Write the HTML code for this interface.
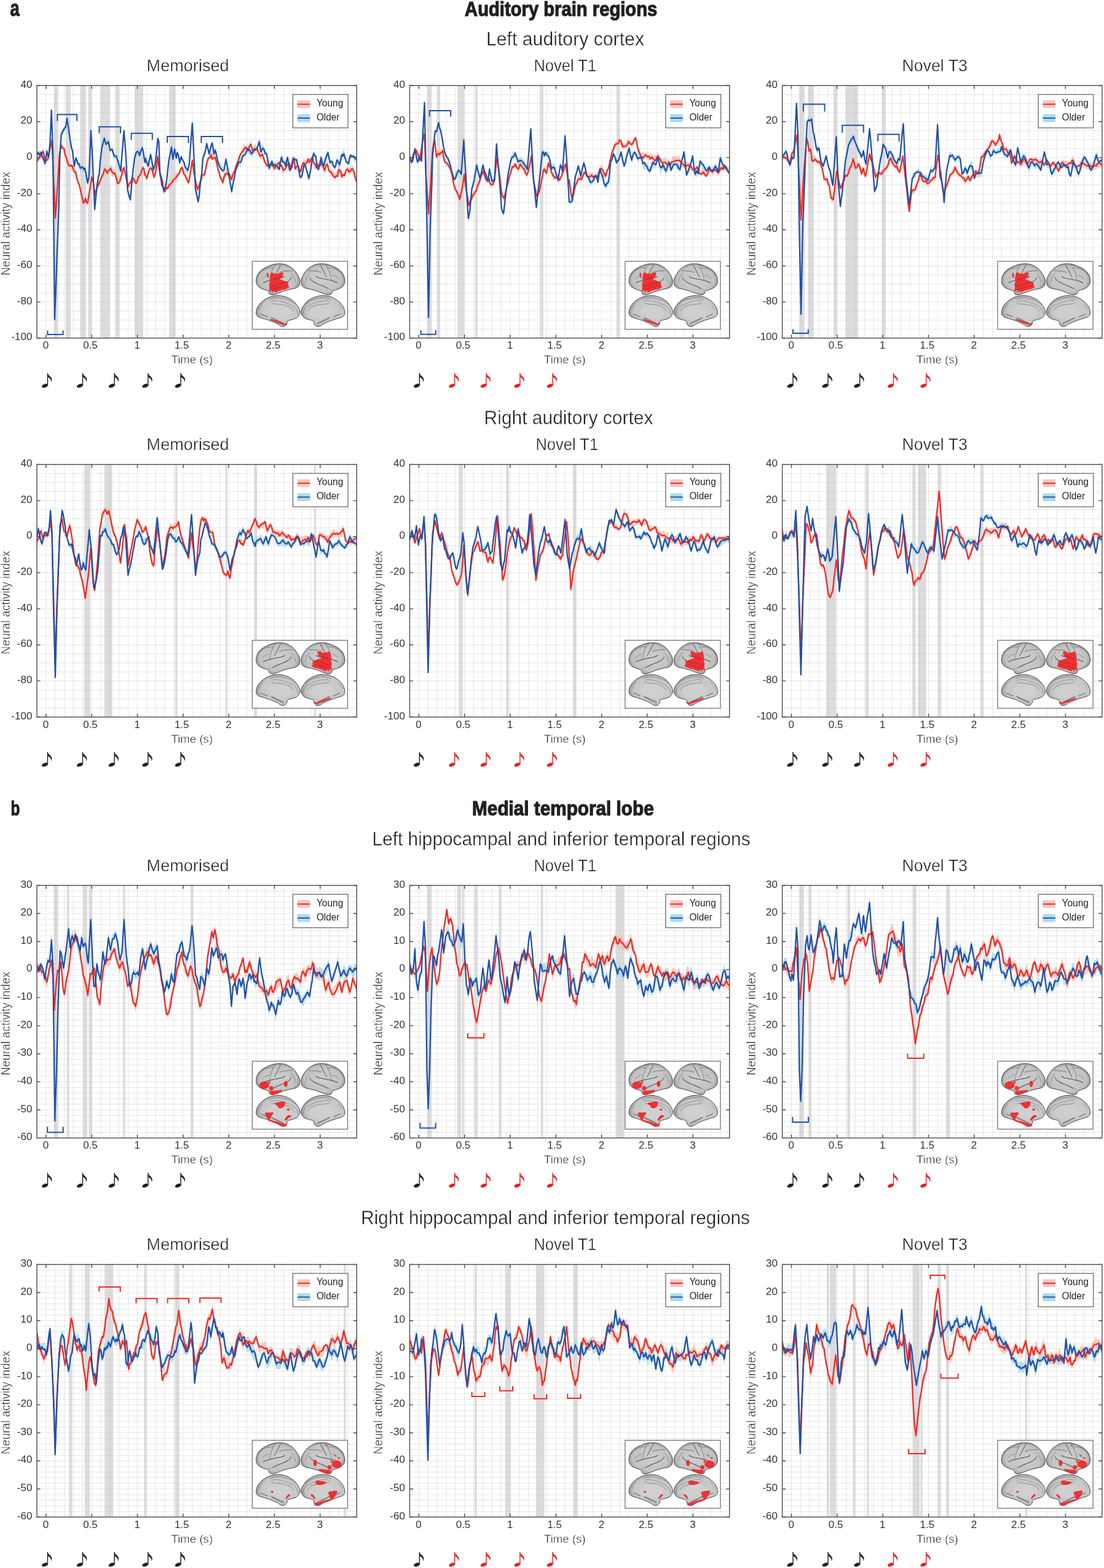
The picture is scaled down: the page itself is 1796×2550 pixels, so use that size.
<!DOCTYPE html><html><head><meta charset="utf-8"><style>html,body{margin:0;padding:0;background:#fff;}svg{display:block;}text{font-family:'Liberation Sans', Arial, sans-serif;} .th{stroke:#fff;stroke-width:0.4px;paint-order:fill stroke;}</style></head><body>
<svg xmlns="http://www.w3.org/2000/svg" width="1796" height="2550" viewBox="0 0 1796 2550">
<rect width="1796" height="2550" fill="#fff"/>
<defs><linearGradient id="bg1" x1="0" y1="0" x2="0" y2="1"><stop offset="0" stop-color="#d4d4d4"/><stop offset="0.6" stop-color="#c2c2c2"/><stop offset="1" stop-color="#a9a9a9"/></linearGradient><radialGradient id="bg2" cx="0.5" cy="0.45" r="0.6"><stop offset="0" stop-color="#d6d6d6"/><stop offset="0.75" stop-color="#c8c8c8"/><stop offset="1" stop-color="#9c9c9c"/></radialGradient><radialGradient id="gl" cx="0.5" cy="0.5" r="0.58"><stop offset="0" stop-color="#cfcfcf"/><stop offset="0.72" stop-color="#c2c2c2"/><stop offset="1" stop-color="#7d7d7d"/></radialGradient><radialGradient id="gm" cx="0.55" cy="0.5" r="0.58"><stop offset="0" stop-color="#d0d0d0"/><stop offset="0.75" stop-color="#c6c6c6"/><stop offset="1" stop-color="#8f8f8f"/></radialGradient><g id="brainbase"><path d="M6.3,32.8C6.1,30.2 6.7,26.7 7.7,24.1C8.7,21.5 10.6,19.1 12.5,17.0C14.4,14.9 16.1,13.5 19.3,11.6C22.5,9.7 28.1,7.1 31.8,5.8C35.5,4.5 38.4,4.2 41.5,4.0C44.6,3.8 47.5,3.8 50.2,4.3C52.9,4.8 55.2,5.4 57.9,6.8C60.6,8.2 64.0,10.1 66.6,12.5C69.2,14.9 71.6,18.5 73.3,21.2C75.0,23.9 76.2,26.6 76.9,28.9C77.6,31.1 77.4,32.9 77.2,34.7C77.0,36.5 76.9,38.3 75.8,39.8C74.7,41.3 72.8,42.6 70.4,43.6C68.1,44.6 64.5,44.8 61.7,45.5C58.9,46.2 56.2,46.8 53.5,47.6C50.8,48.5 47.9,49.6 45.3,50.6C42.6,51.6 39.7,52.9 37.6,53.6C35.5,54.3 34.1,54.7 32.5,54.6C30.9,54.5 29.0,53.8 28.0,52.8C27.0,51.8 27.4,49.6 26.3,48.6C25.2,47.6 23.6,47.4 21.5,46.6C19.4,45.8 16.1,45.0 14.0,43.8C11.9,42.6 10.0,41.4 8.7,39.6C7.4,37.8 6.5,35.4 6.3,32.8Z" fill="url(#gl)" stroke="#3f3f3f" stroke-width="1.0"/><path d="M17.9,34.8C18.9,34.4 21.7,33.1 23.9,32.4C26.1,31.7 28.4,31.1 31.3,30.4C34.2,29.7 38.3,29.0 41.2,28.4C44.1,27.8 46.7,27.5 48.6,26.9C50.5,26.2 51.9,24.9 52.6,24.5" fill="none" stroke="#474747" stroke-width="1.4" stroke-opacity="0.75" stroke-linecap="round"/><path d="M33.8,44.2C35.4,43.4 40.4,40.8 43.7,39.3C47.0,37.8 50.7,36.8 53.6,35.3C56.5,33.8 59.4,31.9 61.0,30.4C62.6,28.9 63.1,27.1 63.5,26.4" fill="none" stroke="#474747" stroke-width="1.2" stroke-opacity="0.7" stroke-linecap="round"/><path d="M46.1,6.1C45.5,7.3 43.4,10.7 42.2,13.1C41.0,15.5 39.8,18.4 38.7,20.5C37.6,22.6 36.2,24.6 35.7,25.4" fill="none" stroke="#474747" stroke-width="1.2" stroke-opacity="0.7" stroke-linecap="round"/><path d="M38.2,5.2C37.5,6.3 35.1,9.0 33.8,11.6C32.5,14.2 31.2,17.5 30.3,20.5C29.4,23.5 28.6,27.9 28.3,29.4" fill="none" stroke="#474747" stroke-width="1.0" stroke-opacity="0.55" stroke-linecap="round"/><path d="M8.0,24.5C9.0,23.2 11.3,19.1 14.0,17.0C16.6,14.8 20.6,12.7 23.9,11.6C27.2,10.5 32.1,10.8 33.8,10.6" fill="none" stroke="#474747" stroke-width="1.0" stroke-opacity="0.55" stroke-linecap="round"/><path d="M16.4,28.4C17.4,27.7 20.6,25.0 22.4,24.0C24.2,23.0 26.5,22.8 27.3,22.5" fill="none" stroke="#474747" stroke-width="0.9" stroke-opacity="0.5" stroke-linecap="round"/><path d="M44.6,18.0C45.7,17.7 48.8,16.4 51.1,16.0C53.4,15.6 56.2,15.7 58.5,15.5C60.8,15.3 63.9,15.1 65.0,15.0" fill="none" stroke="#474747" stroke-width="1.1" stroke-opacity="0.6" stroke-linecap="round"/><path d="M9.0,20.5C9.8,19.4 11.5,16.0 14.0,14.0C16.5,12.0 20.3,9.8 24.0,8.5C27.7,7.2 34.0,6.8 36.0,6.5" fill="none" stroke="#474747" stroke-width="0.8" stroke-opacity="0.45" stroke-linecap="round"/><path d="M27.0,47.5C28.5,46.7 32.7,44.1 36.0,42.5C39.3,40.9 43.5,39.5 47.0,38.0C50.5,36.5 55.3,34.2 57.0,33.5" fill="none" stroke="#474747" stroke-width="0.8" stroke-opacity="0.45" stroke-linecap="round"/><path d="M63.0,20.0C63.8,21.0 66.8,23.7 68.0,26.0C69.2,28.3 69.7,32.7 70.0,34.0" fill="none" stroke="#474747" stroke-width="0.9" stroke-opacity="0.5" stroke-linecap="round"/><path d="M150.5,32.8C150.7,30.2 150.1,26.7 149.1,24.1C148.1,21.5 146.2,19.1 144.3,17.0C142.4,14.9 140.7,13.5 137.5,11.6C134.3,9.7 128.7,7.1 125.0,5.8C121.3,4.5 118.4,4.2 115.3,4.0C112.2,3.8 109.3,3.8 106.6,4.3C103.9,4.8 101.6,5.4 98.9,6.8C96.2,8.2 92.8,10.1 90.2,12.5C87.6,14.9 85.2,18.5 83.5,21.2C81.8,23.9 80.6,26.6 79.9,28.9C79.2,31.1 79.4,32.9 79.6,34.7C79.8,36.5 79.9,38.3 81.0,39.8C82.1,41.3 84.1,42.6 86.4,43.6C88.8,44.6 92.3,44.8 95.1,45.5C97.9,46.2 100.6,46.8 103.3,47.6C106.0,48.5 108.9,49.6 111.5,50.6C114.2,51.6 117.1,52.9 119.2,53.6C121.3,54.3 122.7,54.7 124.3,54.6C125.9,54.5 127.8,53.8 128.8,52.8C129.8,51.8 129.4,49.6 130.5,48.6C131.6,47.6 133.2,47.4 135.3,46.6C137.4,45.8 140.7,45.0 142.8,43.8C144.9,42.6 146.8,41.4 148.1,39.6C149.4,37.8 150.3,35.4 150.5,32.8Z" fill="url(#gl)" stroke="#3f3f3f" stroke-width="1.0"/><path d="M138.9,34.8C137.9,34.4 135.1,33.1 132.9,32.4C130.7,31.7 128.4,31.1 125.5,30.4C122.6,29.7 118.5,29.0 115.6,28.4C112.7,27.8 110.1,27.5 108.2,26.9C106.3,26.2 104.9,24.9 104.2,24.5" fill="none" stroke="#474747" stroke-width="1.4" stroke-opacity="0.75" stroke-linecap="round"/><path d="M123.0,44.2C121.4,43.4 116.4,40.8 113.1,39.3C109.8,37.8 106.1,36.8 103.2,35.3C100.3,33.8 97.5,31.9 95.8,30.4C94.2,28.9 93.7,27.1 93.3,26.4" fill="none" stroke="#474747" stroke-width="1.2" stroke-opacity="0.7" stroke-linecap="round"/><path d="M110.7,6.1C111.4,7.3 113.4,10.7 114.6,13.1C115.8,15.5 117.0,18.4 118.1,20.5C119.2,22.6 120.6,24.6 121.1,25.4" fill="none" stroke="#474747" stroke-width="1.2" stroke-opacity="0.7" stroke-linecap="round"/><path d="M118.6,5.2C119.3,6.3 121.7,9.0 123.0,11.6C124.3,14.2 125.6,17.5 126.5,20.5C127.4,23.5 128.2,27.9 128.5,29.4" fill="none" stroke="#474747" stroke-width="1.0" stroke-opacity="0.55" stroke-linecap="round"/><path d="M148.8,24.5C147.8,23.2 145.5,19.1 142.8,17.0C140.2,14.8 136.2,12.7 132.9,11.6C129.6,10.5 124.7,10.8 123.0,10.6" fill="none" stroke="#474747" stroke-width="1.0" stroke-opacity="0.55" stroke-linecap="round"/><path d="M140.4,28.4C139.4,27.7 136.2,25.0 134.4,24.0C132.6,23.0 130.3,22.8 129.5,22.5" fill="none" stroke="#474747" stroke-width="0.9" stroke-opacity="0.5" stroke-linecap="round"/><path d="M112.2,18.0C111.1,17.7 108.0,16.4 105.7,16.0C103.4,15.6 100.6,15.7 98.3,15.5C96.0,15.3 92.9,15.1 91.8,15.0" fill="none" stroke="#474747" stroke-width="1.1" stroke-opacity="0.6" stroke-linecap="round"/><path d="M147.8,20.5C147.0,19.4 145.3,16.0 142.8,14.0C140.3,12.0 136.5,9.8 132.8,8.5C129.1,7.2 122.8,6.8 120.8,6.5" fill="none" stroke="#474747" stroke-width="0.8" stroke-opacity="0.45" stroke-linecap="round"/><path d="M129.8,47.5C128.3,46.7 124.1,44.1 120.8,42.5C117.5,40.9 113.3,39.5 109.8,38.0C106.3,36.5 101.5,34.2 99.8,33.5" fill="none" stroke="#474747" stroke-width="0.8" stroke-opacity="0.45" stroke-linecap="round"/><path d="M93.8,20.0C93.0,21.0 90.0,23.7 88.8,26.0C87.6,28.3 87.1,32.7 86.8,34.0" fill="none" stroke="#474747" stroke-width="0.9" stroke-opacity="0.5" stroke-linecap="round"/><path d="M6.3,84.2C6.2,81.5 7.1,77.2 8.8,74.0C10.5,70.8 13.3,67.6 16.5,65.0C19.7,62.4 24.0,59.7 28.0,58.2C32.0,56.7 36.4,56.0 40.5,55.8C44.6,55.6 48.5,56.0 52.5,57.2C56.5,58.4 61.2,60.5 64.6,62.9C68.0,65.3 70.8,68.5 72.9,71.4C75.0,74.3 76.6,77.5 77.2,80.1C77.8,82.7 77.4,85.0 76.4,87.0C75.4,89.0 73.7,91.0 71.4,92.4C69.1,93.8 65.1,94.5 62.7,95.3C60.4,96.1 58.4,95.9 57.3,97.0C56.2,98.1 57.0,100.5 56.0,102.0C55.0,103.5 53.2,105.5 51.5,106.0C49.8,106.5 47.9,105.8 46.0,105.0C44.1,104.2 42.9,102.6 40.0,101.2C37.1,99.8 32.7,97.9 28.9,96.5C25.1,95.1 20.6,93.9 17.4,92.8C14.2,91.7 11.4,91.3 9.6,89.9C7.8,88.5 6.4,86.9 6.3,84.2Z" fill="url(#gm)" stroke="#3f3f3f" stroke-width="1.0"/><path d="M24.0,84.0C23.0,81.3 26.0,78.2 28.0,76.0C30.0,73.8 32.8,71.7 36.0,71.0C39.2,70.3 43.5,71.2 47.0,72.0C50.5,72.8 54.3,74.3 57.0,76.0C59.7,77.7 62.2,79.8 63.0,82.0C63.8,84.2 63.5,87.2 62.0,89.0C60.5,90.8 57.0,92.2 54.0,93.0C51.0,93.8 47.3,94.2 44.0,94.0C40.7,93.8 37.3,93.7 34.0,92.0C30.7,90.3 25.0,86.7 24.0,84.0Z" fill="#d0d0d0" fill-opacity="0.7"/><path d="M29.3,62.6C30.1,62.2 31.0,60.6 33.8,60.1C36.6,59.6 41.6,59.0 46.1,59.6C50.6,60.2 56.9,61.9 61.0,63.6C65.1,65.3 69.2,68.9 70.9,70.0" fill="none" stroke="#474747" stroke-width="1.0" stroke-opacity="0.55" stroke-linecap="round"/><path d="M31.3,66.1C32.1,65.7 33.7,63.8 36.2,63.6C38.7,63.4 42.8,64.4 46.1,65.1C49.4,65.8 52.7,66.8 56.0,68.0C59.3,69.2 63.3,70.8 65.9,72.5C68.6,74.2 70.5,76.2 71.9,78.4C73.3,80.6 73.9,84.7 74.3,85.9" fill="none" stroke="#474747" stroke-width="0.9" stroke-opacity="0.45" stroke-linecap="round"/><path d="M32.3,68.5C33.8,68.8 38.1,69.6 41.2,70.0C44.3,70.4 47.8,70.2 51.1,71.0C54.4,71.8 58.3,72.8 61.0,74.5C63.7,76.2 66.3,79.8 67.4,80.9" fill="none" stroke="#474747" stroke-width="0.9" stroke-opacity="0.5" stroke-linecap="round"/><path d="M14.5,85.9C15.2,86.2 17.4,87.3 19.0,88.0C20.6,88.7 23.5,89.9 24.4,90.3" fill="none" stroke="#474747" stroke-width="1.2" stroke-opacity="0.7" stroke-linecap="round"/><path d="M31.3,91.3C33.0,92.1 37.9,94.7 41.2,96.3C44.5,97.9 49.5,100.0 51.1,100.7" fill="none" stroke="#474747" stroke-width="1.2" stroke-opacity="0.7" stroke-linecap="round"/><path d="M31.8,93.0C33.5,93.8 38.6,96.4 41.7,98.0C44.8,99.6 49.1,101.7 50.6,102.4" fill="none" stroke="#474747" stroke-width="0.8" stroke-opacity="0.5" stroke-linecap="round"/><path d="M11.0,78.0C11.5,77.2 13.0,74.5 14.0,73.0C15.0,71.5 16.5,69.7 17.0,69.0" fill="none" stroke="#474747" stroke-width="0.8" stroke-opacity="0.45" stroke-linecap="round"/><path d="M150.5,84.2C150.6,81.5 149.7,77.2 148.0,74.0C146.3,70.8 143.5,67.6 140.3,65.0C137.1,62.4 132.8,59.7 128.8,58.2C124.8,56.7 120.4,56.0 116.3,55.8C112.2,55.6 108.3,56.0 104.3,57.2C100.3,58.4 95.6,60.5 92.2,62.9C88.8,65.3 86.0,68.5 83.9,71.4C81.8,74.3 80.2,77.5 79.6,80.1C79.0,82.7 79.4,85.0 80.4,87.0C81.4,89.0 83.1,91.0 85.4,92.4C87.7,93.8 91.8,94.5 94.1,95.3C96.5,96.1 98.4,95.9 99.5,97.0C100.6,98.1 99.8,100.5 100.8,102.0C101.8,103.5 103.6,105.5 105.3,106.0C107.0,106.5 108.9,105.8 110.8,105.0C112.7,104.2 114.0,102.6 116.8,101.2C119.7,99.8 124.1,97.9 127.9,96.5C131.7,95.1 136.2,93.9 139.4,92.8C142.6,91.7 145.4,91.3 147.2,89.9C149.1,88.5 150.4,86.9 150.5,84.2Z" fill="url(#gm)" stroke="#3f3f3f" stroke-width="1.0"/><path d="M132.8,84.0C133.8,81.3 130.8,78.2 128.8,76.0C126.8,73.8 124.0,71.7 120.8,71.0C117.6,70.3 113.3,71.2 109.8,72.0C106.3,72.8 102.5,74.3 99.8,76.0C97.1,77.7 94.6,79.8 93.8,82.0C93.0,84.2 93.3,87.2 94.8,89.0C96.3,90.8 99.8,92.2 102.8,93.0C105.8,93.8 109.5,94.2 112.8,94.0C116.1,93.8 119.5,93.7 122.8,92.0C126.1,90.3 131.8,86.7 132.8,84.0Z" fill="#d0d0d0" fill-opacity="0.7"/><path d="M127.5,62.6C126.8,62.2 125.8,60.6 123.0,60.1C120.2,59.6 115.2,59.0 110.7,59.6C106.2,60.2 99.9,61.9 95.8,63.6C91.7,65.3 87.6,68.9 85.9,70.0" fill="none" stroke="#474747" stroke-width="1.0" stroke-opacity="0.55" stroke-linecap="round"/><path d="M125.5,66.1C124.7,65.7 123.1,63.8 120.6,63.6C118.1,63.4 114.0,64.4 110.7,65.1C107.4,65.8 104.1,66.8 100.8,68.0C97.5,69.2 93.6,70.8 90.9,72.5C88.2,74.2 86.3,76.2 84.9,78.4C83.5,80.6 82.9,84.7 82.5,85.9" fill="none" stroke="#474747" stroke-width="0.9" stroke-opacity="0.45" stroke-linecap="round"/><path d="M124.5,68.5C123.0,68.8 118.7,69.6 115.6,70.0C112.5,70.4 109.0,70.2 105.7,71.0C102.4,71.8 98.5,72.8 95.8,74.5C93.1,76.2 90.5,79.8 89.4,80.9" fill="none" stroke="#474747" stroke-width="0.9" stroke-opacity="0.5" stroke-linecap="round"/><path d="M142.3,85.9C141.6,86.2 139.5,87.3 137.8,88.0C136.2,88.7 133.3,89.9 132.4,90.3" fill="none" stroke="#474747" stroke-width="1.2" stroke-opacity="0.7" stroke-linecap="round"/><path d="M125.5,91.3C123.9,92.1 118.9,94.7 115.6,96.3C112.3,97.9 107.4,100.0 105.7,100.7" fill="none" stroke="#474747" stroke-width="1.2" stroke-opacity="0.7" stroke-linecap="round"/><path d="M125.0,93.0C123.4,93.8 118.2,96.4 115.1,98.0C112.0,99.6 107.7,101.7 106.2,102.4" fill="none" stroke="#474747" stroke-width="0.8" stroke-opacity="0.5" stroke-linecap="round"/><path d="M145.8,78.0C145.3,77.2 143.8,74.5 142.8,73.0C141.8,71.5 140.3,69.7 139.8,69.0" fill="none" stroke="#474747" stroke-width="0.8" stroke-opacity="0.45" stroke-linecap="round"/></g></defs>
<text x="16.4" y="26.0" font-size="36" text-anchor="start" font-weight="bold" fill="#231f20" textLength="15.2" lengthAdjust="spacingAndGlyphs" stroke="#231f20" stroke-width="1.1">a</text>
<text x="17.6" y="1326.0" font-size="33" text-anchor="start" font-weight="bold" fill="#231f20" textLength="14.9" lengthAdjust="spacingAndGlyphs" stroke="#231f20" stroke-width="1.1">b</text>
<text x="912.7" y="25.5" font-size="32.5" text-anchor="middle" font-weight="bold" fill="#231f20" textLength="313.2" lengthAdjust="spacingAndGlyphs" stroke="#231f20" stroke-width="1.2">Auditory brain regions</text>
<text x="915.9" y="1325.7" font-size="32.5" text-anchor="middle" font-weight="bold" fill="#231f20" textLength="295.6" lengthAdjust="spacingAndGlyphs" stroke="#231f20" stroke-width="1.2">Medial temporal lobe</text>
<text class="th" x="919.5" y="73.5" font-size="30.5" text-anchor="middle" font-weight="normal" fill="#231f20" textLength="257.0" lengthAdjust="spacingAndGlyphs">Left auditory cortex</text>
<text class="th" x="925.0" y="689.5" font-size="30.5" text-anchor="middle" font-weight="normal" fill="#231f20" textLength="274.8" lengthAdjust="spacingAndGlyphs">Right auditory cortex</text>
<text class="th" x="913.1" y="1374.7" font-size="30.5" text-anchor="middle" font-weight="normal" fill="#231f20" textLength="615.0" lengthAdjust="spacingAndGlyphs">Left hippocampal and inferior temporal regions</text>
<text class="th" x="903.6" y="1991.0" font-size="30.5" text-anchor="middle" font-weight="normal" fill="#231f20" textLength="632.6" lengthAdjust="spacingAndGlyphs">Right hippocampal and inferior temporal regions</text>
<text class="th" x="305.6" y="116.1" font-size="27.5" text-anchor="middle" font-weight="normal" fill="#231f20" textLength="134.0" lengthAdjust="spacingAndGlyphs">Memorised</text>
<clipPath id="clip00"><rect x="60.0" y="139.1" width="520.3" height="410.7"/></clipPath>
<rect x="87.6" y="139.1" width="7.1" height="410.7" fill="#dcdcde"/>
<rect x="106.8" y="139.1" width="8.3" height="410.7" fill="#dcdcde"/>
<rect x="130.4" y="139.1" width="9.6" height="410.7" fill="#dcdcde"/>
<rect x="143.5" y="139.1" width="5.9" height="410.7" fill="#dcdcde"/>
<rect x="163.5" y="139.1" width="15.0" height="410.7" fill="#dcdcde"/>
<rect x="187.5" y="139.1" width="6.7" height="410.7" fill="#dcdcde"/>
<rect x="219.0" y="139.1" width="14.1" height="410.7" fill="#dcdcde"/>
<rect x="275.1" y="139.1" width="10.6" height="410.7" fill="#dcdcde"/>
<path d="M74.9,139.1V549.8M89.7,139.1V549.8M104.6,139.1V549.8M119.5,139.1V549.8M134.3,139.1V549.8M149.2,139.1V549.8M164.1,139.1V549.8M178.9,139.1V549.8M193.8,139.1V549.8M208.7,139.1V549.8M223.5,139.1V549.8M238.4,139.1V549.8M253.3,139.1V549.8M268.1,139.1V549.8M283.0,139.1V549.8M297.9,139.1V549.8M312.7,139.1V549.8M327.6,139.1V549.8M342.4,139.1V549.8M357.3,139.1V549.8M372.2,139.1V549.8M387.0,139.1V549.8M401.9,139.1V549.8M416.8,139.1V549.8M431.6,139.1V549.8M446.5,139.1V549.8M461.4,139.1V549.8M476.2,139.1V549.8M491.1,139.1V549.8M506.0,139.1V549.8M520.8,139.1V549.8M535.7,139.1V549.8M550.6,139.1V549.8M565.4,139.1V549.8M60.0,535.1H580.3M60.0,520.5H580.3M60.0,505.8H580.3M60.0,491.1H580.3M60.0,476.5H580.3M60.0,461.8H580.3M60.0,447.1H580.3M60.0,432.5H580.3M60.0,417.8H580.3M60.0,403.1H580.3M60.0,388.5H580.3M60.0,373.8H580.3M60.0,359.1H580.3M60.0,344.4H580.3M60.0,329.8H580.3M60.0,315.1H580.3M60.0,300.4H580.3M60.0,285.8H580.3M60.0,271.1H580.3M60.0,256.4H580.3M60.0,241.8H580.3M60.0,227.1H580.3M60.0,212.4H580.3M60.0,197.8H580.3M60.0,183.1H580.3M60.0,168.4H580.3M60.0,153.8H580.3" stroke="#c6c6c6" stroke-width="1" stroke-dasharray="1.3 1.7" fill="none"/>
<g clip-path="url(#clip00)">
<path d="M60.0,247.1l2.2,-1.7l2.3,-0.4l2.2,0.5l1.9,3.0l2.0,5.7l2.8,6.9l2.7,-21.1l2.8,11.2l2.3,-16.5l2.5,-60.9l2.5,68.0l2.7,273.9l1.7,-45.7l1.7,-47.8l1.7,-44.8l1.6,-43.6l1.7,-83.2l2.2,-36.9l2.0,-2.8l1.9,-2.5l1.7,-4.0l1.7,0.0l2.2,-17.7l2.2,15.0l1.7,10.6l1.6,12.4l1.7,7.0l1.7,10.6l2.8,24.4l2.8,-12.9l1.6,2.7l1.7,5.0l1.8,2.9l1.9,3.2l1.9,-0.1l1.8,3.2l1.9,2.3l1.8,-1.6l2.3,9.7l2.2,9.9l2.2,-4.2l1.7,-41.2l1.6,-39.6l2.3,39.3l1.9,44.6l2.0,46.4l1.9,-18.8l2.0,-24.1l1.6,-6.0l1.7,-10.2l2.2,-19.8l2.3,-25.0l1.9,-5.7l2.0,-6.5l2.7,10.6l2.0,-3.7l1.9,-0.8l2.8,14.7l1.7,-0.7l1.7,-1.4l1.6,3.4l1.7,9.0l1.7,-3.0l1.6,2.1l2.3,7.4l2.2,3.0l2.8,11.1l1.7,-21.4l1.8,-19.5l1.7,-25.3l1.6,21.5l1.5,18.5l2.8,57.7l2.2,8.4l2.3,6.4l1.9,-19.5l1.9,-19.7l1.7,-13.8l1.7,-16.0l2.2,-2.8l2.2,-5.0l1.7,0.4l1.7,2.6l2.2,-4.3l2.2,-5.8l2.1,11.2l2.1,11.4l1.1,-7.2l2.2,8.8l2.2,3.9l2.0,-8.6l1.9,-9.5l2.3,14.3l2.2,12.0l2.8,-5.3l2.2,-23.3l2.2,-22.8l1.7,5.4l1.7,50.6l1.6,13.6l1.7,7.6l1.7,4.7l1.6,6.9l2.3,-5.2l1.6,-11.2l1.7,-14.1l2.2,-19.9l2.3,-10.6l2.2,-13.1l2.2,19.7l2.8,-16.6l2.8,16.2l1.6,-11.2l2.0,10.7l1.9,9.0l2.3,-9.4l1.6,2.8l1.7,0.7l1.7,7.1l1.6,5.6l2.3,2.3l2.2,1.6l2.2,-9.2l1.7,-19.9l1.7,-26.3l1.6,-22.8l1.7,36.1l1.7,34.7l1.6,36.0l2.3,10.0l2.2,10.4l1.7,-12.8l1.6,-13.4l2.3,-18.5l2.2,-28.9l1.7,-2.7l1.6,-1.8l2.8,-16.8l2.0,11.5l1.9,7.7l1.7,-5.5l1.6,-6.7l1.7,-5.0l2.8,14.4l2.2,-1.6l2.3,8.7l2.2,10.9l1.8,2.6l1.9,0.6l1.8,4.9l2.3,1.4l2.2,1.6l2.8,-19.0l2.8,15.6l2.2,11.7l2.2,14.2l2.2,12.2l2.3,-11.9l2.2,-14.3l2.2,-11.3l2.2,-2.3l2.3,-10.3l1.6,4.7l1.7,-3.7l1.7,-4.7l1.7,-7.9l2.2,-1.5l2.2,1.4l1.7,-4.6l1.6,-5.7l2.2,6.0l2.1,-1.5l2.1,7.0l2.2,-4.3l2.3,-4.7l2.2,1.3l2.2,2.0l2.0,-7.0l1.9,-9.1l2.8,12.5l1.7,0.2l1.6,-1.5l1.7,3.9l1.7,5.8l2.2,-0.2l2.2,9.0l2.2,15.6l2.3,-6.2l2.2,-4.5l2.2,4.4l2.3,0.9l2.2,3.0l2.2,-2.7l1.7,3.0l1.6,0.1l1.7,-4.4l1.7,-13.5l1.7,4.4l1.6,2.7l1.7,4.8l1.7,-0.2l1.6,-2.4l1.7,-6.2l1.7,10.4l1.6,7.9l1.7,-2.2l1.7,0.5l1.7,-11.5l1.6,-6.0l2.3,3.6l2.2,1.8l1.6,7.0l1.7,6.2l2.2,15.3l1.7,-3.0l1.7,-3.0l1.7,-9.7l1.6,-8.0l1.7,0.4l1.7,1.0l2.2,14.8l2.2,5.9l1.7,-6.9l1.7,-8.8l2.2,-12.3l2.2,-11.5l1.7,3.4l1.6,2.6l2.3,11.1l2.2,9.9l2.2,-10.3l2.3,-10.4l1.6,5.4l1.7,6.4l1.7,-2.0l1.6,-5.3l2.3,-9.2l2.2,-1.8l1.7,7.6l1.6,5.6l1.7,2.8l1.7,-0.8l2.2,4.1l2.2,4.6l1.7,-6.8l1.7,-4.9l2.2,1.7l2.2,2.4l1.7,-7.8l1.6,-5.3l1.7,-2.3l1.7,-2.6l2.2,7.4l2.2,10.3l1.7,0.4l1.7,0.6l1.7,-5.1l1.6,-7.0l2.2,1.6l2.3,-0.6l1.7,2.5l1.8,0.5l1.7,1.1l0.0,8.4l-1.7,0.7l-1.8,0.2l-1.7,-5.3l-2.3,-1.3l-2.2,2.0l-1.6,4.9l-1.7,6.0l-1.7,-2.0l-1.7,-0.1l-2.2,-7.9l-2.2,-3.3l-1.7,-0.6l-1.7,-1.3l-1.6,12.7l-1.7,6.6l-2.2,-4.4l-2.2,-5.0l-1.7,6.0l-1.7,8.8l-2.2,-7.6l-2.2,-4.4l-1.7,0.0l-1.7,2.8l-1.6,-10.3l-1.7,-5.4l-2.2,6.9l-2.3,5.8l-1.6,2.9l-1.7,7.7l-1.7,-8.6l-1.6,-9.8l-2.3,11.9l-2.2,9.4l-2.2,-7.9l-2.3,-14.0l-1.6,-4.6l-1.7,-2.1l-2.2,14.2l-2.2,9.6l-1.7,9.6l-1.7,10.1l-2.2,-12.6l-2.2,-9.9l-1.7,0.7l-1.7,-1.4l-1.6,12.0l-1.7,5.5l-1.7,2.7l-1.7,-2.1l-2.2,-11.9l-1.7,-6.7l-1.6,-5.4l-2.2,0.6l-2.3,-2.2l-1.6,4.4l-1.7,7.0l-1.7,0.8l-1.7,7.0l-1.6,-11.5l-1.7,-9.2l-1.7,5.8l-1.6,3.7l-1.7,-2.1l-1.7,-3.2l-1.6,-3.6l-1.7,-2.9l-1.7,7.1l-1.7,12.5l-1.6,-5.3l-1.7,0.4l-2.2,-0.7l-2.2,-1.8l-2.3,-1.3l-2.2,-3.7l-2.2,7.3l-2.3,2.5l-2.2,-13.4l-2.2,-11.7l-2.2,1.2l-1.7,-5.2l-1.7,-3.9l-1.6,-0.5l-1.7,3.9l-2.8,-12.0l-1.9,4.6l-2.0,7.5l-2.2,-0.4l-2.2,0.2l-2.3,3.5l-2.2,3.5l-2.1,-3.4l-2.1,-2.9l-2.2,-2.8l-1.6,1.8l-1.7,4.0l-2.2,5.3l-2.2,-1.4l-1.7,7.2l-1.7,7.5l-1.7,-0.5l-1.6,-1.5l-2.3,6.3l-2.2,3.8l-2.2,10.2l-2.2,12.2l-2.3,16.2l-2.2,-12.6l-2.2,-14.9l-2.2,-11.9l-2.8,-13.4l-2.8,18.2l-2.2,-2.2l-2.3,-1.4l-1.8,-3.0l-1.9,-4.3l-1.8,-2.3l-2.2,-10.6l-2.3,-10.9l-2.2,5.4l-2.8,-15.1l-1.7,5.5l-1.6,8.1l-1.7,3.2l-1.9,-7.6l-2.0,-10.3l-2.8,15.4l-1.6,3.8l-1.7,2.8l-2.2,30.0l-2.3,15.1l-1.6,13.9l-1.7,13.2l-2.2,-8.1l-2.3,-14.2l-1.6,-35.8l-1.7,-33.1l-1.7,-34.4l-1.6,21.6l-1.7,21.7l-1.7,21.7l-2.2,12.7l-2.2,-2.4l-2.3,-3.3l-1.6,-7.5l-1.7,-2.6l-1.7,-6.6l-1.6,-0.1l-2.3,7.5l-1.9,-10.9l-2.0,-6.0l-1.6,9.3l-2.8,-14.3l-2.8,15.8l-2.2,-19.4l-2.2,8.5l-2.3,14.8l-2.2,21.3l-1.7,12.5l-1.6,9.8l-2.3,7.1l-1.6,-7.3l-1.7,-3.2l-1.7,-10.4l-1.6,-9.7l-1.7,-49.9l-1.7,-7.5l-2.2,23.0l-2.2,21.9l-2.8,8.3l-2.2,-14.8l-2.3,-10.0l-1.9,9.9l-2.0,7.9l-2.2,-7.8l-2.2,-6.4l-1.1,4.1l-2.1,-9.0l-2.1,-11.0l-2.2,7.2l-2.2,4.5l-1.7,-6.9l-1.7,2.7l-2.2,2.7l-2.2,5.5l-1.7,13.6l-1.7,17.2l-1.9,20.4l-1.9,15.3l-2.3,-6.2l-2.2,-6.8l-2.8,-59.9l-1.5,-18.5l-1.6,-19.4l-1.7,22.9l-1.8,22.6l-1.7,20.2l-2.8,-10.5l-2.2,-5.3l-2.3,-6.8l-1.6,-3.5l-1.7,3.3l-1.7,-2.1l-1.6,-11.9l-1.7,0.8l-1.7,2.3l-2.8,-15.9l-1.9,4.3l-2.0,2.7l-2.7,-12.7l-2.0,10.8l-1.9,5.0l-2.3,23.3l-2.2,21.5l-1.7,5.8l-1.6,10.8l-2.0,21.2l-1.9,23.1l-2.0,-45.9l-1.9,-46.0l-2.3,-39.0l-1.6,37.7l-1.7,43.4l-2.2,2.1l-2.2,-8.0l-2.3,-11.5l-1.8,-0.6l-1.9,-3.1l-1.8,1.1l-1.9,2.7l-1.9,-7.8l-1.8,-1.3l-1.7,-7.2l-1.6,-4.3l-2.8,15.8l-2.8,-27.2l-1.7,-5.0l-1.7,-10.3l-1.6,-10.2l-1.7,-13.0l-2.2,-13.6l-2.2,15.3l-1.7,2.2l-1.7,1.4l-1.9,4.5l-2.0,6.5l-2.2,35.9l-1.7,82.4l-1.6,45.2l-1.7,40.8l-1.7,48.1l-1.7,43.5l-2.7,-270.5l-2.5,-69.5l-2.5,59.8l-2.3,16.8l-2.8,-9.0l-2.7,22.3l-2.8,-9.0l-2.0,-4.1l-1.9,-8.0l-2.2,2.4l-2.3,2.5l-2.2,1.3z" fill="#9fd6e9" fill-opacity="0.75"/>
<path d="M60.0,255.9l2.2,-3.0l2.3,-0.5l1.8,-3.9l1.9,-4.1l1.8,-1.8l1.7,4.9l1.7,10.9l2.2,-3.9l2.2,-0.3l2.2,-10.2l2.3,-11.1l2.0,-11.6l1.5,37.3l1.5,29.5l2.9,64.1l1.6,-26.5l1.6,-23.5l1.7,-29.7l1.6,-26.7l2.8,-14.3l1.7,5.8l1.7,-2.5l1.6,5.8l1.7,7.6l1.7,5.2l2.2,4.4l2.2,2.5l2.2,4.9l2.3,2.8l2.2,0.8l2.2,1.8l1.7,3.5l1.7,3.2l2.2,14.2l2.2,3.1l2.2,12.1l2.3,5.6l2.2,16.6l1.7,-4.7l1.6,-5.1l1.7,4.4l1.7,0.6l1.6,-7.5l1.7,-9.6l1.7,-13.0l1.7,-8.8l2.2,5.9l1.7,11.4l1.6,9.9l1.7,-6.3l1.7,-8.2l1.6,-2.3l1.7,-1.3l2.2,-4.6l2.3,-5.1l2.2,-7.5l2.2,-10.1l2.2,8.9l2.3,0.2l1.6,0.5l1.7,-7.4l1.7,-1.4l2.8,3.7l2.2,3.7l2.2,1.4l2.2,7.7l2.3,7.5l1.6,-0.1l1.7,-4.3l1.7,-5.8l1.6,-4.9l2.0,-4.0l1.9,-5.2l2.8,13.3l1.7,8.9l1.7,7.4l1.6,-1.8l1.7,0.7l2.2,-8.7l2.2,-3.5l1.9,4.5l1.9,-0.5l1.8,6.2l1.9,-4.7l1.8,-6.3l1.9,-2.0l1.8,-6.4l1.9,-3.6l1.8,-1.7l1.6,2.4l1.5,6.0l1.6,2.7l1.7,6.0l2.2,-8.9l1.7,-4.4l1.7,-5.4l1.6,1.7l1.7,3.6l2.8,10.1l2.8,-12.8l2.8,-21.7l2.7,20.0l1.7,6.7l1.7,10.9l2.2,6.4l2.2,12.5l1.9,-2.2l1.8,-3.3l1.9,-2.3l2.2,-0.3l2.3,-6.4l1.8,2.3l1.9,-2.0l1.8,-4.3l2.2,-3.6l2.3,-0.8l2.2,-2.9l2.2,-0.6l2.3,-6.8l2.2,-6.7l1.6,6.6l1.7,4.7l2.2,0.6l1.7,8.2l1.7,2.5l2.2,3.0l1.7,-10.5l1.7,-4.3l2.7,-19.0l2.8,21.3l1.7,10.6l1.7,7.3l2.2,7.5l1.7,-5.5l1.6,-4.2l1.7,-5.7l1.7,-6.5l2.2,-0.2l2.2,-3.7l2.2,-9.1l2.3,-6.6l1.6,-4.4l1.7,-6.0l1.7,-1.8l1.6,-4.8l1.7,2.5l1.7,4.5l2.8,-2.1l2.8,9.4l2.2,11.2l2.2,6.8l1.7,6.8l1.6,4.3l2.3,-0.6l1.6,-5.0l1.7,-5.0l2.8,-5.4l1.9,2.7l2.0,6.9l2.2,2.2l2.2,-1.7l1.7,-2.8l1.7,-3.9l1.8,-6.3l1.9,-5.0l1.8,-3.7l2.3,-4.6l2.2,-5.1l2.2,-6.4l2.3,-5.5l2.2,-7.8l2.2,5.3l2.2,-0.5l2.3,4.7l2.0,-6.2l2.1,-6.5l1.7,7.5l1.6,3.5l2.3,-3.3l2.2,-2.4l2.2,7.3l2.2,-1.8l1.7,4.0l1.7,6.2l1.6,-1.1l1.7,-3.8l1.9,7.3l1.8,3.7l1.9,6.2l1.8,-2.5l1.9,6.7l1.8,-1.8l2.3,-0.4l2.2,1.2l2.2,0.5l2.3,1.5l1.8,-4.1l1.9,2.4l1.8,-5.9l1.9,4.4l1.8,-1.5l1.9,3.4l2.8,6.4l2.0,-1.3l2.1,-2.8l2.0,-3.8l1.7,0.4l1.6,-2.0l1.7,2.7l1.7,3.7l1.6,-6.2l1.7,-9.3l1.7,6.0l1.7,10.6l2.2,-0.9l2.2,-2.7l2.2,4.1l2.3,2.1l2.2,-7.1l2.2,-7.1l2.2,1.6l2.3,1.8l1.6,-3.5l1.7,-0.8l1.7,-0.6l1.6,1.4l1.7,-2.1l1.7,-6.0l1.7,7.6l1.6,6.7l1.7,0.0l1.7,2.4l2.2,-3.2l2.2,-0.6l2.2,-1.8l2.3,-1.2l2.2,7.4l2.2,5.1l2.2,-4.3l2.3,-9.3l1.6,10.9l1.7,7.5l2.2,-1.8l2.3,0.5l2.2,1.0l2.2,4.6l2.2,-2.6l2.3,-0.8l1.6,-6.2l1.7,1.9l1.7,1.6l1.6,0.7l2.3,6.4l2.2,-1.5l2.2,-6.3l2.3,-3.5l1.6,-0.2l1.7,1.7l2.2,0.4l2.2,-5.0l1.7,1.6l1.7,5.1l2.0,6.6l2.1,4.7l0.0,16.6l-2.1,-10.2l-2.0,-8.6l-1.7,-1.0l-1.7,-4.5l-2.2,4.4l-2.2,1.9l-1.7,-4.0l-1.6,-1.9l-2.3,7.6l-2.2,2.7l-2.2,1.8l-2.3,-1.5l-1.6,-4.4l-1.7,-4.1l-1.7,4.3l-1.6,0.8l-2.3,4.9l-2.2,2.3l-2.2,-5.5l-2.2,-3.5l-2.3,1.1l-2.2,-2.3l-1.7,-6.0l-1.6,-6.1l-2.3,5.7l-2.2,7.1l-2.2,-7.7l-2.2,-3.3l-2.3,-2.1l-2.2,2.6l-2.2,2.3l-2.2,-0.3l-1.7,0.6l-1.7,-0.7l-1.6,-10.7l-1.7,-3.6l-1.7,6.2l-1.7,2.2l-1.6,-0.7l-1.7,-4.1l-1.7,2.6l-1.6,7.3l-2.3,-7.3l-2.2,0.6l-2.2,8.7l-2.2,3.9l-2.3,-0.5l-2.2,-0.4l-2.2,-1.5l-2.2,-0.5l-1.7,-9.8l-1.7,-3.6l-1.7,9.6l-1.6,8.8l-1.7,-7.0l-1.7,-5.7l-1.6,4.0l-1.7,-2.6l-2.0,5.6l-2.1,3.5l-2.0,4.0l-2.8,-8.7l-1.9,-5.2l-1.8,3.1l-1.9,-1.1l-1.8,2.2l-1.9,-0.4l-1.8,4.4l-2.3,-1.2l-2.2,-5.1l-2.2,1.3l-2.3,1.9l-1.8,-2.9l-1.9,0.3l-1.8,-5.5l-1.9,-1.2l-1.8,-6.5l-1.9,-1.9l-1.7,1.2l-1.6,-2.4l-1.7,0.4l-1.7,-8.0l-2.2,-1.2l-2.2,-2.4l-2.2,-1.1l-2.3,2.1l-1.6,-5.4l-1.7,-1.9l-2.1,6.9l-2.0,4.9l-2.3,-3.3l-2.2,0.2l-2.2,-1.8l-2.2,1.5l-2.3,7.9l-2.2,7.1l-2.2,3.4l-2.3,3.3l-1.8,7.6l-1.9,3.5l-1.8,4.2l-1.7,2.9l-1.7,6.6l-2.2,-2.8l-2.2,-2.9l-2.0,-1.0l-1.9,-1.1l-2.8,5.4l-1.7,2.9l-1.6,4.2l-2.3,-3.6l-1.6,-2.2l-1.7,-4.5l-2.2,-8.6l-2.2,-11.3l-2.8,-11.4l-2.8,4.2l-1.7,-2.2l-1.7,-1.9l-1.6,0.3l-1.7,3.8l-1.7,2.0l-1.6,8.1l-2.3,5.9l-2.2,10.8l-2.2,4.3l-2.2,1.5l-1.7,6.5l-1.7,1.2l-1.6,8.9l-1.7,1.1l-2.2,-7.2l-1.7,-9.9l-1.7,-6.1l-2.8,-21.3l-2.7,17.0l-1.7,11.2l-1.7,5.9l-2.2,-1.1l-1.7,-9.4l-1.7,-1.0l-2.2,-4.9l-1.7,-3.6l-1.6,-3.3l-2.2,3.1l-2.3,4.1l-2.2,4.7l-2.2,5.5l-2.3,-0.4l-2.2,0.2l-1.8,6.1l-1.9,3.7l-1.8,0.4l-2.3,1.7l-2.2,-0.9l-1.9,4.6l-1.8,2.5l-1.9,1.1l-2.2,-12.1l-2.2,-9.8l-1.7,-8.5l-1.7,-6.1l-2.7,-20.9l-2.8,24.0l-2.8,12.9l-2.8,-9.3l-1.7,-4.9l-1.6,-2.4l-1.7,6.1l-1.7,4.3l-2.2,6.0l-1.7,-3.3l-1.6,-4.0l-1.5,-2.5l-1.6,-7.0l-1.8,3.7l-1.9,6.8l-1.8,2.6l-1.9,3.9l-1.8,6.1l-1.9,3.2l-1.8,-1.1l-1.9,-5.2l-1.9,-1.4l-2.2,3.0l-2.2,7.0l-1.7,0.3l-1.6,2.1l-1.7,-5.6l-1.7,-11.2l-2.8,-14.1l-1.9,7.6l-2.0,5.8l-1.6,2.8l-1.7,4.9l-1.7,3.4l-1.6,0.6l-2.3,-8.3l-2.2,-6.8l-2.2,-1.6l-2.2,3.2l-2.8,-11.0l-1.7,5.0l-1.7,2.2l-1.6,2.5l-2.3,-3.4l-2.2,-3.8l-2.2,8.1l-2.2,5.2l-2.3,7.9l-2.2,2.2l-1.7,1.4l-1.6,3.4l-1.7,6.7l-1.7,7.4l-1.6,-8.1l-1.7,-13.4l-2.2,-6.7l-1.7,13.3l-1.7,8.8l-1.7,7.0l-1.6,14.7l-1.7,-7.5l-1.7,-2.9l-1.6,4.4l-1.7,2.9l-2.2,-14.0l-2.3,-6.1l-2.2,-11.6l-2.2,-6.1l-2.2,-4.7l-1.7,-6.7l-1.7,-4.3l-2.2,-1.7l-2.2,-1.4l-2.3,-5.4l-2.2,-2.7l-2.2,-3.3l-2.2,-1.2l-1.7,-8.9l-1.7,-5.2l-1.6,-3.5l-1.7,-5.5l-1.7,-0.9l-2.8,12.2l-1.6,27.8l-1.7,31.9l-1.6,21.2l-1.6,24.3l-2.9,-61.4l-1.5,-29.5l-1.5,-35.5l-2.0,11.9l-2.3,10.5l-2.2,5.9l-2.2,4.1l-2.2,2.8l-1.7,-10.4l-1.7,-5.3l-1.8,3.8l-1.9,-1.1l-1.8,3.7l-2.3,4.2l-2.2,4.0z" fill="#f2bcb0" fill-opacity="0.75"/>
<path d="M60.0,261.5l2.2,-1.9l2.3,-4.9l1.8,-0.2l1.9,-4.0l1.8,-4.6l1.7,5.8l1.7,10.1l2.2,-0.6l2.2,-2.1l2.2,-10.6l2.3,-10.7l2.0,-9.7l1.5,32.3l1.5,34.5l2.9,59.5l1.6,-24.8l1.6,-24.6l1.7,-27.3l1.6,-27.3l2.8,-14.6l1.7,4.8l1.7,0.9l1.6,0.8l1.7,10.3l1.7,3.7l2.2,8.5l2.2,5.2l2.2,-0.3l2.3,-1.1l2.2,5.7l2.2,5.9l1.7,-0.2l1.7,8.2l2.2,7.8l2.2,5.1l2.2,9.4l2.3,10.0l2.2,10.0l1.7,-3.2l1.6,-4.6l1.7,7.0l1.7,0.8l1.6,-9.2l1.7,-10.5l1.7,-8.2l1.7,-14.4l2.2,5.6l1.7,11.9l1.6,11.4l1.7,-7.0l1.7,-5.0l1.6,-4.2l1.7,-2.6l2.2,-6.5l2.3,-4.8l2.2,-4.0l2.2,-8.2l2.2,2.4l2.3,4.3l1.6,-4.4l1.7,-0.3l1.7,-3.1l2.8,6.4l2.2,2.2l2.2,-0.6l2.2,7.6l2.3,9.2l1.6,-0.7l1.7,-1.8l1.7,-6.1l1.6,-5.2l2.0,-9.9l1.9,-2.2l2.8,14.8l1.7,8.8l1.7,8.1l1.6,-4.9l1.7,-1.5l2.2,-3.6l2.2,-5.0l1.9,2.2l1.9,4.8l1.8,1.9l1.9,-4.3l1.8,-6.4l1.9,-1.7l1.8,-2.0l1.9,-7.0l1.8,-4.2l1.6,2.3l1.5,9.9l1.6,0.7l1.7,4.8l2.2,-9.4l1.7,-4.5l1.7,-3.1l1.6,0.1l1.7,3.9l2.8,10.9l2.8,-9.1l2.8,-24.3l2.7,19.4l1.7,7.9l1.7,5.5l2.2,8.3l2.2,15.6l1.9,-0.3l1.8,-5.9l1.9,1.5l2.2,-4.3l2.3,-2.8l1.8,-1.2l1.9,-3.1l1.8,-3.3l2.2,-1.4l2.3,-2.7l2.2,-3.4l2.2,-1.7l2.3,-6.2l2.2,-4.1l1.6,2.2l1.7,8.2l2.2,1.9l1.7,5.2l1.7,2.7l2.2,4.1l1.7,-8.2l1.7,-10.8l2.7,-17.6l2.8,22.3l1.7,7.8l1.7,8.6l2.2,9.2l1.7,-4.4l1.6,-3.6l1.7,-6.2l1.7,-7.8l2.2,-1.9l2.2,0.1l2.2,-8.9l2.3,-12.6l1.6,-4.9l1.7,-1.7l1.7,0.1l1.6,-4.9l1.7,7.2l1.7,-0.8l2.8,-2.1l2.8,8.9l2.2,11.4l2.2,6.1l1.7,7.1l1.6,2.1l2.3,6.0l1.6,-8.1l1.7,-5.3l2.8,-2.0l1.9,1.9l2.0,-2.3l2.2,5.6l2.2,5.0l1.7,-7.5l1.7,-4.1l1.8,-3.1l1.9,-7.6l1.8,-4.0l2.3,-5.9l2.2,-7.6l2.2,-3.7l2.3,-2.6l2.2,-3.4l2.2,-3.2l2.2,2.4l2.3,3.0l2.0,-7.1l2.1,-3.1l1.7,5.2l1.6,5.8l2.3,-3.1l2.2,-0.4l2.2,-1.0l2.2,5.7l1.7,4.0l1.7,3.2l1.6,-1.7l1.7,-1.6l1.9,4.9l1.8,7.6l1.9,2.0l1.8,4.4l1.9,-0.8l1.8,-1.2l2.3,0.2l2.2,0.8l2.2,1.6l2.3,4.1l1.8,-4.8l1.9,-1.2l1.8,-2.7l1.9,-1.2l1.8,6.0l1.9,-2.2l2.8,8.7l2.0,-1.4l2.1,-2.3l2.0,-5.8l1.7,0.8l1.6,-3.1l1.7,2.8l1.7,6.8l1.6,-9.9l1.7,-7.9l1.7,4.6l1.7,13.0l2.2,-4.1l2.2,-0.6l2.2,6.3l2.3,3.2l2.2,-10.1l2.2,-4.7l2.2,1.4l2.3,-0.1l1.6,-2.3l1.7,-5.2l1.7,5.6l1.6,-1.1l1.7,-4.5l1.7,-2.5l1.7,5.8l1.6,5.1l1.7,0.3l1.7,5.5l2.2,-3.8l2.2,-0.3l2.2,0.3l2.3,-4.9l2.2,6.9l2.2,6.2l2.2,-7.8l2.3,-2.2l1.6,6.4l1.7,5.4l2.2,0.8l2.3,3.5l2.2,3.8l2.2,1.8l2.2,-2.9l2.3,1.2l1.6,-11.5l1.7,1.5l1.7,2.2l1.6,8.5l2.3,-3.7l2.2,1.4l2.2,-7.3l2.3,-3.2l1.6,1.6l1.7,3.4l2.2,-2.1l2.2,-3.7l1.7,1.5l1.7,4.4l2.0,9.3l2.1,5.5" stroke="#ee2a24" stroke-width="2.3" fill="none" stroke-linejoin="round"/>
<path d="M60.0,252.5l2.2,-4.4l2.3,4.2l2.2,-4.7l1.9,6.5l2.0,3.8l2.8,8.0l2.7,-20.0l2.8,10.0l2.3,-20.3l2.5,-56.5l2.5,71.1l2.7,269.3l1.7,-42.7l1.7,-49.1l1.7,-44.2l1.6,-44.1l1.7,-84.0l2.2,-35.9l2.0,-4.5l1.9,-3.9l1.7,-3.0l1.7,-1.0l2.2,-14.7l2.2,14.8l1.7,11.9l1.6,10.9l1.7,10.1l1.7,5.0l2.8,25.3l2.8,-13.4l1.6,3.9l1.7,5.9l1.8,-0.6l1.9,7.1l1.9,-0.7l1.8,-1.5l1.9,4.4l1.8,-2.0l2.3,10.3l2.2,13.6l2.2,-8.8l1.7,-38.3l1.6,-37.8l2.3,38.0l1.9,45.7l2.0,44.3l1.9,-20.6l2.0,-19.3l1.6,-9.6l1.7,-7.4l2.2,-25.5l2.3,-18.2l1.9,-7.4l2.0,-7.8l2.7,10.0l2.0,-1.9l1.9,-2.5l2.8,14.3l1.7,-1.0l1.7,-0.5l1.6,6.1l1.7,4.4l1.7,0.5l1.6,-0.4l2.3,6.9l2.2,7.2l2.8,10.4l1.7,-22.3l1.8,-21.0l1.7,-22.4l1.6,19.6l1.5,19.2l2.8,57.3l2.2,8.7l2.3,7.6l1.9,-21.3l1.9,-19.1l1.7,-17.2l1.7,-11.2l2.2,-7.7l2.2,-2.3l1.7,1.5l1.7,5.2l2.2,-6.9l2.2,-5.6l2.1,9.1l2.1,14.8l1.1,-6.4l2.2,7.0l2.2,5.6l2.0,-11.1l1.9,-7.9l2.3,11.9l2.2,12.5l2.8,-8.3l2.2,-19.3l2.2,-22.7l1.7,4.8l1.7,52.5l1.6,7.3l1.7,11.6l1.7,2.1l1.6,5.9l2.3,-5.0l1.6,-8.1l1.7,-13.7l2.2,-21.0l2.3,-11.2l2.2,-11.5l2.2,20.0l2.8,-16.7l2.8,14.5l1.6,-8.9l2.0,5.0l1.9,11.7l2.3,-10.0l1.6,4.4l1.7,2.4l1.7,2.9l1.6,7.0l2.3,2.9l2.2,2.5l2.2,-10.2l1.7,-23.4l1.7,-23.5l1.6,-19.6l1.7,35.4l1.7,34.8l1.6,36.6l2.3,11.1l2.2,10.1l1.7,-10.2l1.6,-18.7l2.3,-16.3l2.2,-26.4l1.7,-4.7l1.6,-3.3l2.8,-15.0l2.0,8.8l1.9,7.9l1.7,-7.6l1.6,-6.1l1.7,-4.1l2.8,17.8l2.2,-6.2l2.3,9.7l2.2,10.1l1.8,5.3l1.9,3.9l1.8,2.3l2.3,2.4l2.2,-1.9l2.8,-16.7l2.8,13.8l2.2,13.3l2.2,12.3l2.2,12.9l2.3,-13.5l2.2,-9.6l2.2,-12.4l2.2,-4.9l2.3,-7.3l1.6,-0.2l1.7,0.3l1.7,-3.5l1.7,-6.3l2.2,-1.9l2.2,-1.0l1.7,-4.8l1.6,-5.0l2.2,2.5l2.1,1.0l2.1,5.4l2.2,-2.1l2.3,-4.6l2.2,0.2l2.2,-1.7l2.0,-5.8l1.9,-6.0l2.8,16.9l1.7,-4.3l1.6,-1.8l1.7,1.8l1.7,6.7l2.2,0.0l2.2,10.2l2.2,13.9l2.3,-6.0l2.2,-5.5l2.2,7.5l2.3,-2.4l2.2,2.9l2.2,0.4l1.7,3.6l1.6,1.2l1.7,-13.4l1.7,-6.1l1.7,7.7l1.6,-0.9l1.7,2.2l1.7,5.0l1.6,-8.4l1.7,-5.6l1.7,12.5l1.6,8.6l1.7,-3.3l1.7,-1.2l1.7,-9.4l1.6,-5.4l2.3,2.2l2.2,-0.2l1.6,7.9l1.7,5.1l2.2,14.8l1.7,0.6l1.7,-3.2l1.7,-8.4l1.6,-8.4l1.7,0.4l1.7,5.2l2.2,7.9l2.2,8.8l1.7,-7.6l1.7,-8.6l2.2,-14.5l2.2,-10.5l1.7,4.7l1.6,-0.1l2.3,16.0l2.2,6.1l2.2,-8.9l2.3,-11.1l1.6,8.5l1.7,6.0l1.7,-2.9l1.6,-8.1l2.3,-6.2l2.2,-5.1l1.7,9.8l1.6,6.6l1.7,-2.2l1.7,0.5l2.2,7.5l2.2,2.3l1.7,-4.4l1.7,-7.9l2.2,2.8l2.2,5.0l1.7,-8.1l1.6,-8.2l1.7,1.9l1.7,-3.7l2.2,7.0l2.2,6.8l1.7,0.7l1.7,1.6l1.7,-9.0l1.6,-5.0l2.2,2.9l2.3,-1.3l1.7,1.6l1.8,3.0l1.7,0.9" stroke="#2250a8" stroke-width="2.3" fill="none" stroke-linejoin="round"/>
</g>
<path d="M93.4,196.8V186.3H125.1V196.8" stroke="#2250a8" stroke-width="2" fill="none"/>
<path d="M161.5,216.8V206.3H196.0V216.8" stroke="#2250a8" stroke-width="2" fill="none"/>
<path d="M213.6,227.2V216.7H247.8V227.2" stroke="#2250a8" stroke-width="2" fill="none"/>
<path d="M272.1,232.4V221.9H306.6V232.4" stroke="#2250a8" stroke-width="2" fill="none"/>
<path d="M327.4,232.4V221.9H361.9V232.4" stroke="#2250a8" stroke-width="2" fill="none"/>
<path d="M77.4,537.4V544.1H102.5V537.4" stroke="#2250a8" stroke-width="2" fill="none"/>
<rect x="60.0" y="139.1" width="520.3" height="410.7" fill="none" stroke="#4a4a4a" stroke-width="1.4"/>
<path d="M74.9,139.1v5.5M74.9,549.8v-5.5M149.2,139.1v5.5M149.2,549.8v-5.5M223.5,139.1v5.5M223.5,549.8v-5.5M297.9,139.1v5.5M297.9,549.8v-5.5M372.2,139.1v5.5M372.2,549.8v-5.5M446.5,139.1v5.5M446.5,549.8v-5.5M520.8,139.1v5.5M520.8,549.8v-5.5M60.0,549.8h5.5M580.3,549.8h-5.5M60.0,491.1h5.5M580.3,491.1h-5.5M60.0,432.5h5.5M580.3,432.5h-5.5M60.0,373.8h5.5M580.3,373.8h-5.5M60.0,315.1h5.5M580.3,315.1h-5.5M60.0,256.4h5.5M580.3,256.4h-5.5M60.0,197.8h5.5M580.3,197.8h-5.5M60.0,139.1h5.5M580.3,139.1h-5.5" stroke="#4a4a4a" stroke-width="1.4" fill="none"/>
<text x="74.6" y="567.4" font-size="17" text-anchor="middle" font-weight="normal" fill="#333">0</text>
<text x="147.0" y="567.4" font-size="17" text-anchor="middle" font-weight="normal" fill="#333">0.5</text>
<text x="223.2" y="567.4" font-size="17" text-anchor="middle" font-weight="normal" fill="#333">1</text>
<text x="295.7" y="567.4" font-size="17" text-anchor="middle" font-weight="normal" fill="#333">1.5</text>
<text x="371.9" y="567.4" font-size="17" text-anchor="middle" font-weight="normal" fill="#333">2</text>
<text x="444.3" y="567.4" font-size="17" text-anchor="middle" font-weight="normal" fill="#333">2.5</text>
<text x="520.5" y="567.4" font-size="17" text-anchor="middle" font-weight="normal" fill="#333">3</text>
<text x="52.4" y="553.4" font-size="17" text-anchor="end" font-weight="normal" fill="#333">-100</text>
<text x="52.4" y="494.7" font-size="17" text-anchor="end" font-weight="normal" fill="#333">-80</text>
<text x="52.4" y="436.1" font-size="17" text-anchor="end" font-weight="normal" fill="#333">-60</text>
<text x="52.4" y="377.4" font-size="17" text-anchor="end" font-weight="normal" fill="#333">-40</text>
<text x="52.4" y="318.7" font-size="17" text-anchor="end" font-weight="normal" fill="#333">-20</text>
<text x="52.4" y="260.0" font-size="17" text-anchor="end" font-weight="normal" fill="#333">0</text>
<text x="52.4" y="201.4" font-size="17" text-anchor="end" font-weight="normal" fill="#333">20</text>
<text x="52.4" y="142.7" font-size="17" text-anchor="end" font-weight="normal" fill="#333">40</text>
<text class="th" x="312.3" y="591.2" font-size="18.8" text-anchor="middle" font-weight="normal" fill="#231f20" textLength="67.6" lengthAdjust="spacingAndGlyphs">Time (s)</text>
<text class="th" x="0" y="0" font-size="19.5" text-anchor="middle" fill="#231f20" textLength="168.4" lengthAdjust="spacingAndGlyphs" transform="translate(15.9,363.8) rotate(-90)">Neural activity index</text>
<rect x="476.5" y="153.6" width="89.6" height="54.3" fill="#fff" stroke="#6a6a6a" stroke-width="1.3"/>
<rect x="483.9" y="163.2" width="20.4" height="12.4" fill="#f3c7bd"/>
<rect x="483.9" y="168.6" width="20.4" height="1.8" fill="#ec1c24"/>
<rect x="483.9" y="186.0" width="20.4" height="12.6" fill="#a9dcea"/>
<rect x="483.9" y="191.2" width="20.4" height="1.8" fill="#2a48a0"/>
<text x="514.9" y="172.9" font-size="16.6" text-anchor="start" font-weight="normal" fill="#231f20" textLength="43.4" lengthAdjust="spacingAndGlyphs">Young</text>
<text x="514.9" y="195.9" font-size="16.6" text-anchor="start" font-weight="normal" fill="#231f20" textLength="37.5" lengthAdjust="spacingAndGlyphs">Older</text>
<rect x="410.4" y="425.0" width="155.1" height="110.5" fill="#fff" stroke="#6a6a6a" stroke-width="1.2"/>
<g transform="translate(410.4,425.0)"><use href="#brainbase"/><path d="M30.9,18.3C32.1,17.4 34.4,19.5 36.0,19.8C37.6,20.1 38.8,20.5 40.5,20.3C42.2,20.1 44.4,18.9 46.0,18.6C47.6,18.3 49.6,17.4 50.2,18.3C50.8,19.2 50.4,22.3 49.7,24.1C49.1,25.9 46.2,27.8 46.3,28.9C46.4,30.0 48.3,29.9 50.2,30.9C52.1,31.9 56.5,33.1 57.9,34.7C59.3,36.3 58.4,39.4 58.9,40.5C59.4,41.6 61.6,40.7 60.8,41.5C60.0,42.3 56.6,44.3 54.0,45.3C51.4,46.3 47.9,46.5 45.3,47.3C42.7,48.1 40.9,49.7 38.6,50.2C36.4,50.7 33.6,50.5 31.8,50.2C29.9,49.9 28.1,49.5 27.5,48.2C26.9,46.9 28.0,44.2 28.0,42.4C28.0,40.6 27.4,39.4 27.5,37.6C27.6,35.8 28.7,33.9 28.9,31.8C29.1,29.7 28.6,27.4 28.9,25.1C29.2,22.9 29.7,19.2 30.9,18.3Z" fill="#f0262a" fill-opacity="0.93"/><path d="M26.6,21.5C26.6,22.4 26.2,23.7 25.8,24.1C25.4,24.5 24.6,24.5 24.2,24.1C23.8,23.7 23.4,22.4 23.4,21.5C23.4,20.6 23.8,19.3 24.2,18.9C24.6,18.5 25.4,18.5 25.8,18.9C26.2,19.3 26.6,20.6 26.6,21.5Z" fill="#f0262a" fill-opacity="0.93"/><path d="M26.8,25.5C26.8,25.9 26.5,26.6 26.1,26.8C25.8,27.0 25.2,27.0 24.9,26.8C24.5,26.6 24.2,25.9 24.2,25.5C24.2,25.1 24.5,24.4 24.8,24.2C25.2,24.0 25.8,24.0 26.1,24.2C26.5,24.4 26.8,25.1 26.8,25.5Z" fill="#f0262a" fill-opacity="0.93"/><path d="M29.0,93.5C30.3,93.6 35.0,95.0 38.0,96.0C41.0,97.0 44.7,98.6 47.0,99.5C49.3,100.4 50.7,101.4 52.0,101.5C53.3,101.6 54.3,99.8 55.0,100.0C55.7,100.2 56.3,101.8 56.0,102.5C55.7,103.2 54.5,104.0 53.0,104.0C51.5,104.0 49.5,103.3 47.0,102.5C44.5,101.7 40.8,100.2 38.0,99.0C35.2,97.8 31.5,96.4 30.0,95.5C28.5,94.6 27.7,93.4 29.0,93.5Z" fill="#f0262a" fill-opacity="0.93"/><path d="M29.0,41.0C30.8,40.4 36.2,38.7 40.0,37.5C43.8,36.3 48.8,34.8 52.0,34.0C55.2,33.2 57.8,33.2 59.0,33.0" fill="none" stroke="#7a1a1a" stroke-width="0.9" stroke-opacity="0.55"/><path d="M31.0,47.0C32.8,46.3 38.0,44.2 42.0,43.0C46.0,41.8 52.8,40.1 55.0,39.5" fill="none" stroke="#7a1a1a" stroke-width="0.9" stroke-opacity="0.55"/><path d="M33.0,30.0C34.3,29.6 38.5,28.3 41.0,27.5C43.5,26.7 46.8,25.4 48.0,25.0" fill="none" stroke="#7a1a1a" stroke-width="0.9" stroke-opacity="0.55"/><circle cx="46.5" cy="28.5" r="1.3" fill="#b9c4c4"/><circle cx="30.5" cy="48.5" r="1.3" fill="#b9c4c4"/><circle cx="35" cy="49.5" r="1.3" fill="#b9c4c4"/></g>
<g fill="#231f20" transform="translate(68.0,630.3)"><ellipse cx="4.9" cy="-3.0" rx="5.1" ry="2.85" transform="rotate(-21 4.9 -3.0)"/><rect x="8.7" y="-23.4" width="1.45" height="20.5"/><path d="M8.7,-23.6 C10.0,-20.8 13.6,-18.9 15.6,-15.7 C16.9,-13.5 16.5,-10.7 15.0,-8.6 C15.4,-10.8 15.0,-12.6 13.6,-14.2 C12.4,-15.5 11.0,-16.0 10.1,-17.0 L10.1,-23.6 Z"/></g>
<g fill="#231f20" transform="translate(125.0,630.3)"><ellipse cx="4.9" cy="-3.0" rx="5.1" ry="2.85" transform="rotate(-21 4.9 -3.0)"/><rect x="8.7" y="-23.4" width="1.45" height="20.5"/><path d="M8.7,-23.6 C10.0,-20.8 13.6,-18.9 15.6,-15.7 C16.9,-13.5 16.5,-10.7 15.0,-8.6 C15.4,-10.8 15.0,-12.6 13.6,-14.2 C12.4,-15.5 11.0,-16.0 10.1,-17.0 L10.1,-23.6 Z"/></g>
<g fill="#231f20" transform="translate(176.7,630.3)"><ellipse cx="4.9" cy="-3.0" rx="5.1" ry="2.85" transform="rotate(-21 4.9 -3.0)"/><rect x="8.7" y="-23.4" width="1.45" height="20.5"/><path d="M8.7,-23.6 C10.0,-20.8 13.6,-18.9 15.6,-15.7 C16.9,-13.5 16.5,-10.7 15.0,-8.6 C15.4,-10.8 15.0,-12.6 13.6,-14.2 C12.4,-15.5 11.0,-16.0 10.1,-17.0 L10.1,-23.6 Z"/></g>
<g fill="#231f20" transform="translate(231.4,630.3)"><ellipse cx="4.9" cy="-3.0" rx="5.1" ry="2.85" transform="rotate(-21 4.9 -3.0)"/><rect x="8.7" y="-23.4" width="1.45" height="20.5"/><path d="M8.7,-23.6 C10.0,-20.8 13.6,-18.9 15.6,-15.7 C16.9,-13.5 16.5,-10.7 15.0,-8.6 C15.4,-10.8 15.0,-12.6 13.6,-14.2 C12.4,-15.5 11.0,-16.0 10.1,-17.0 L10.1,-23.6 Z"/></g>
<g fill="#231f20" transform="translate(284.7,630.3)"><ellipse cx="4.9" cy="-3.0" rx="5.1" ry="2.85" transform="rotate(-21 4.9 -3.0)"/><rect x="8.7" y="-23.4" width="1.45" height="20.5"/><path d="M8.7,-23.6 C10.0,-20.8 13.6,-18.9 15.6,-15.7 C16.9,-13.5 16.5,-10.7 15.0,-8.6 C15.4,-10.8 15.0,-12.6 13.6,-14.2 C12.4,-15.5 11.0,-16.0 10.1,-17.0 L10.1,-23.6 Z"/></g>
<text class="th" x="919.3" y="116.1" font-size="27.5" text-anchor="middle" font-weight="normal" fill="#231f20" textLength="101.8" lengthAdjust="spacingAndGlyphs">Novel T1</text>
<clipPath id="clip01"><rect x="666.5" y="139.1" width="520.3" height="410.7"/></clipPath>
<rect x="694.7" y="139.1" width="7.7" height="410.7" fill="#dcdcde"/>
<rect x="711.1" y="139.1" width="4.9" height="410.7" fill="#dcdcde"/>
<rect x="744.3" y="139.1" width="11.0" height="410.7" fill="#dcdcde"/>
<rect x="772.8" y="139.1" width="4.1" height="410.7" fill="#dcdcde"/>
<rect x="878.2" y="139.1" width="5.8" height="410.7" fill="#dcdcde"/>
<rect x="1003.0" y="139.1" width="5.0" height="410.7" fill="#dcdcde"/>
<path d="M681.4,139.1V549.8M696.2,139.1V549.8M711.1,139.1V549.8M726.0,139.1V549.8M740.8,139.1V549.8M755.7,139.1V549.8M770.6,139.1V549.8M785.4,139.1V549.8M800.3,139.1V549.8M815.2,139.1V549.8M830.0,139.1V549.8M844.9,139.1V549.8M859.8,139.1V549.8M874.6,139.1V549.8M889.5,139.1V549.8M904.4,139.1V549.8M919.2,139.1V549.8M934.1,139.1V549.8M948.9,139.1V549.8M963.8,139.1V549.8M978.7,139.1V549.8M993.5,139.1V549.8M1008.4,139.1V549.8M1023.3,139.1V549.8M1038.1,139.1V549.8M1053.0,139.1V549.8M1067.9,139.1V549.8M1082.7,139.1V549.8M1097.6,139.1V549.8M1112.5,139.1V549.8M1127.3,139.1V549.8M1142.2,139.1V549.8M1157.1,139.1V549.8M1171.9,139.1V549.8M666.5,535.1H1186.8M666.5,520.5H1186.8M666.5,505.8H1186.8M666.5,491.1H1186.8M666.5,476.5H1186.8M666.5,461.8H1186.8M666.5,447.1H1186.8M666.5,432.5H1186.8M666.5,417.8H1186.8M666.5,403.1H1186.8M666.5,388.5H1186.8M666.5,373.8H1186.8M666.5,359.1H1186.8M666.5,344.4H1186.8M666.5,329.8H1186.8M666.5,315.1H1186.8M666.5,300.4H1186.8M666.5,285.8H1186.8M666.5,271.1H1186.8M666.5,256.4H1186.8M666.5,241.8H1186.8M666.5,227.1H1186.8M666.5,212.4H1186.8M666.5,197.8H1186.8M666.5,183.1H1186.8M666.5,168.4H1186.8M666.5,153.8H1186.8" stroke="#c6c6c6" stroke-width="1" stroke-dasharray="1.3 1.7" fill="none"/>
<g clip-path="url(#clip01)">
<path d="M666.0,250.1l1.6,4.8l1.7,2.4l1.6,-0.9l1.7,-7.1l2.4,-12.2l2.1,12.7l2.0,11.4l1.6,-5.7l1.7,-4.0l1.6,4.7l1.7,-5.4l2.4,-41.7l2.5,-46.5l2.6,131.7l2.0,108.0l1.9,108.7l2.8,-145.6l2.6,-70.8l1.2,-49.2l2.0,-12.7l2.1,-21.6l2.4,-2.5l1.7,-6.4l1.6,-5.9l1.7,2.8l1.6,7.3l1.6,9.6l1.7,8.1l1.6,9.3l1.7,15.5l2.4,1.2l2.5,5.0l2.4,5.1l2.5,3.6l1.6,10.7l1.7,7.5l2.4,5.8l2.1,-9.9l2.0,-0.8l1.7,-3.3l1.6,-2.0l2.1,2.9l2.0,3.6l2.0,-30.4l2.1,-24.5l1.6,28.5l1.7,29.1l2.0,33.0l2.1,39.0l2.4,-14.4l1.7,-20.0l1.6,-17.4l1.6,-8.1l1.7,-2.9l2.3,-15.1l2.3,-11.3l1.7,6.2l1.8,7.0l1.7,7.6l2.5,-10.1l2.4,-11.4l2.5,9.9l2.4,9.7l1.7,4.7l1.6,1.8l2.5,-19.2l2.0,9.9l2.1,10.5l2.0,-1.7l2.1,-2.4l1.6,-29.7l1.7,-25.0l2.0,25.3l2.1,26.5l2.0,27.5l2.1,24.4l1.6,4.7l1.6,1.2l2.1,-17.3l2.0,-16.4l1.7,-16.6l1.6,-9.6l2.5,-14.7l2.4,-12.2l2.2,-6.3l2.2,-2.4l2.2,0.0l2.4,5.4l2.5,5.5l2.4,-0.3l2.5,-0.9l2.5,2.9l2.4,1.9l2.5,5.0l2.4,4.6l2.0,-22.5l1.9,-22.5l1.9,-19.0l2.0,37.4l2.1,35.9l2.4,29.4l2.5,23.2l2.4,-22.6l2.5,-18.4l2.5,-28.5l2.4,-22.1l1.7,1.9l1.6,4.4l2.2,0.0l2.2,0.7l2.2,0.0l2.4,12.0l2.5,8.4l2.4,-1.2l2.5,0.7l1.9,4.6l1.9,7.3l1.9,11.2l2.1,-12.5l2.0,-16.5l1.7,8.7l1.6,2.4l2.0,-29.1l2.1,-28.2l2.0,28.9l2.1,30.7l2.7,49.6l2.5,-0.9l2.4,1.1l2.5,-20.8l2.4,-14.7l2.5,-15.2l2.4,-9.7l2.1,9.2l2.0,7.2l2.5,-10.7l2.5,-10.5l2.4,8.3l2.5,13.2l1.9,2.7l1.9,4.8l1.9,3.8l2.5,0.3l2.4,-4.8l2.5,-5.4l2.4,-0.8l2.5,8.4l1.6,-8.9l1.7,-10.3l2.0,5.3l2.1,7.0l2.4,7.0l2.5,8.5l2.5,-5.3l2.4,-4.7l1.7,-14.5l1.6,-15.4l2.4,-5.7l2.5,-6.7l2.5,6.2l2.4,6.2l1.7,-3.5l1.6,1.7l2.1,-6.7l2.0,-5.9l2.5,10.3l2.4,9.4l2.1,-8.9l2.0,-8.3l2.1,-5.6l2.0,-3.9l2.1,10.3l2.0,6.9l2.5,-3.5l2.4,-4.9l2.5,2.4l2.4,3.4l1.7,-0.2l1.6,-2.1l1.7,4.3l1.6,2.0l2.0,6.3l2.1,0.9l2.0,2.5l2.1,-1.7l2.4,4.9l2.5,7.4l2.5,-11.1l2.4,-2.9l2.5,-1.4l2.4,4.7l1.7,-10.0l1.6,-3.1l2.1,8.5l2.0,9.1l2.1,-1.5l2.0,-1.0l2.5,-0.5l2.4,7.0l2.5,-6.4l2.4,-10.0l1.7,4.6l1.6,12.7l2.5,-13.3l2.4,-5.4l2.5,3.9l2.5,5.1l2.4,0.2l2.5,6.5l2.2,-10.3l2.1,-11.2l2.2,-5.4l2.1,18.4l2.0,18.0l1.9,-6.0l1.9,-2.8l2.0,-9.3l2.0,-6.9l2.1,-5.0l2.0,13.8l2.1,14.0l2.4,-3.7l2.5,0.5l1.6,-11.5l1.6,-6.4l2.5,3.7l2.5,4.6l2.4,5.5l2.5,0.5l2.4,-1.5l2.5,-3.3l2.5,4.8l2.4,1.4l2.5,-4.1l2.4,-4.0l2.5,4.6l2.4,4.0l1.7,-9.7l1.6,-13.3l2.5,4.4l2.4,10.6l2.5,0.9l2.5,3.6l2.4,3.9l2.5,1.4l2.4,4.5l2.5,-1.0l0.0,7.2l-2.5,0.9l-2.4,-1.5l-2.5,-2.7l-2.4,-3.4l-2.5,-4.7l-2.5,0.5l-2.4,-4.8l-2.5,-9.0l-1.6,12.2l-1.7,11.5l-2.4,-6.3l-2.5,-2.0l-2.4,2.2l-2.5,3.9l-2.4,-4.5l-2.5,-0.3l-2.5,2.0l-2.4,5.6l-2.5,-6.2l-2.4,-4.5l-2.5,-4.7l-2.5,-1.2l-1.6,6.7l-1.6,7.6l-2.5,4.2l-2.4,-0.4l-2.1,-15.1l-2.0,-12.1l-2.1,9.3l-2.0,7.1l-2.0,4.1l-1.9,4.3l-1.9,1.3l-2.0,-18.0l-2.1,-14.7l-2.2,7.8l-2.1,7.3l-2.2,10.5l-2.5,-0.5l-2.4,-3.0l-2.5,-5.6l-2.5,-0.7l-2.4,6.4l-2.5,5.4l-1.6,-7.0l-1.7,-5.0l-2.4,7.6l-2.5,8.8l-2.4,-6.6l-2.5,-4.9l-2.0,3.4l-2.1,8.0l-2.0,-17.1l-2.1,-7.6l-1.6,3.5l-1.7,9.6l-2.4,-3.4l-2.5,4.6l-2.4,3.1l-2.5,4.0l-2.5,-0.7l-2.4,-7.0l-2.1,0.1l-2.0,3.1l-2.1,-6.2l-2.0,-6.3l-1.6,-5.9l-1.7,0.1l-1.6,2.0l-1.7,2.7l-2.4,-7.1l-2.5,-6.5l-2.4,8.8l-2.5,7.0l-2.0,-10.0l-2.1,-12.0l-2.0,6.9l-2.1,5.8l-2.0,9.9l-2.1,6.6l-2.4,-11.8l-2.5,-9.3l-2.0,6.1l-2.1,7.8l-1.6,2.7l-1.7,-3.2l-2.4,-2.7l-2.5,-10.4l-2.5,9.7l-2.4,4.4l-1.6,15.9l-1.7,18.1l-2.4,5.0l-2.5,3.2l-2.5,-12.5l-2.4,-7.0l-2.1,-0.9l-2.0,-8.0l-1.7,10.5l-1.6,9.8l-2.5,-12.4l-2.4,5.9l-2.5,0.1l-2.4,4.6l-2.5,3.7l-1.9,-6.3l-1.9,-3.7l-1.9,-2.1l-2.5,-10.3l-2.4,-10.8l-2.5,11.0l-2.5,8.1l-2.0,-6.3l-2.1,-7.7l-2.4,11.3l-2.5,8.1l-2.4,18.5l-2.5,18.3l-2.4,0.6l-2.5,1.9l-2.7,-51.1l-2.1,-30.3l-2.0,-25.1l-2.1,28.2l-2.0,30.0l-1.6,-4.4l-1.7,-10.1l-2.0,14.9l-2.1,12.7l-1.9,-7.6l-1.9,-6.2l-1.9,-6.6l-2.5,-2.3l-2.4,3.6l-2.5,-10.3l-2.4,-12.5l-2.2,-1.3l-2.2,-0.2l-2.2,1.5l-1.6,-1.8l-1.7,-1.6l-2.4,23.9l-2.5,21.5l-2.5,22.0l-2.4,21.9l-2.5,-24.3l-2.4,-25.7l-2.1,-40.6l-2.0,-37.1l-1.9,22.1l-1.9,24.3l-2.0,18.1l-2.4,-0.9l-2.5,-6.6l-2.4,-4.3l-2.5,-3.7l-2.5,4.8l-2.4,2.6l-2.5,-8.6l-2.4,-7.8l-2.2,2.5l-2.2,5.3l-2.2,1.2l-2.4,15.0l-2.5,10.1l-1.6,15.7l-1.7,13.4l-2.0,15.5l-2.1,19.3l-1.6,-2.1l-1.6,-6.0l-2.1,-27.6l-2.0,-25.3l-2.1,-24.7l-2.0,-26.7l-1.7,29.5l-1.6,25.6l-2.1,3.4l-2.0,2.6l-2.1,-10.2l-2.0,-12.5l-2.5,18.4l-1.6,0.4l-1.7,-3.6l-2.4,-13.5l-2.5,-6.2l-2.4,10.6l-2.5,10.4l-1.7,-7.1l-1.8,-8.1l-1.7,-5.9l-2.3,12.1l-2.3,15.6l-1.7,3.7l-1.6,9.4l-1.6,14.8l-1.7,20.7l-2.4,10.4l-2.1,-32.0l-2.0,-38.7l-1.7,-27.6l-1.6,-32.6l-2.1,29.6l-2.0,31.8l-2.0,-9.1l-2.1,-1.0l-1.6,4.3l-1.7,-0.6l-2.0,5.6l-2.1,3.2l-2.4,2.4l-1.7,-13.0l-1.6,-8.4l-2.5,-4.2l-2.4,-8.3l-2.5,-5.3l-2.4,-0.6l-1.7,-8.8l-1.6,-9.1l-1.7,-8.9l-1.6,-12.7l-1.6,-5.9l-1.7,-9.4l-1.6,10.3l-1.7,7.8l-2.4,-0.6l-2.1,21.3l-2.0,16.2l-1.2,48.9l-2.6,65.7l-2.8,149.2l-1.9,-107.1l-2.0,-107.1l-2.6,-134.7l-2.5,48.0l-2.4,44.4l-1.7,-1.3l-1.6,-1.5l-1.7,3.2l-1.6,5.3l-2.0,-13.1l-2.1,-8.7l-2.4,14.4l-1.7,1.7l-1.6,5.4l-1.7,-5.1l-1.6,-5.7z" fill="#9fd6e9" fill-opacity="0.75"/>
<path d="M666.0,252.5l1.6,0.8l1.7,1.1l1.6,-0.2l1.7,-6.5l2.4,-6.6l2.1,0.5l2.0,-0.4l1.6,8.6l1.7,6.2l2.4,-13.5l2.5,-18.2l1.6,-7.7l1.7,-3.8l2.4,67.4l2.2,31.0l2.2,29.1l1.5,-21.0l1.5,-19.5l1.7,-31.4l1.6,-34.3l1.6,-4.9l1.7,-6.9l1.6,14.2l1.6,13.6l1.7,-3.8l1.6,-1.9l1.7,0.9l1.6,-4.9l1.6,3.7l1.7,-3.7l1.6,6.6l1.7,10.1l2.4,2.9l2.5,4.9l2.4,0.5l2.5,3.2l2.4,11.6l2.5,16.2l2.5,4.9l2.4,5.9l2.5,7.5l2.4,2.9l1.7,-8.6l1.6,-4.7l2.1,-10.9l2.0,-16.1l1.7,11.0l1.6,15.9l2.0,9.9l2.1,16.9l2.0,-7.7l2.1,-5.0l1.9,-5.1l1.9,-1.4l1.9,-5.4l2.5,-2.2l2.4,-10.4l2.5,-3.1l2.5,-9.5l2.0,-4.8l2.1,-4.2l2.0,6.1l2.0,7.1l2.5,1.5l2.5,-6.9l1.6,11.5l1.6,7.4l2.5,-4.6l2.5,-1.6l2.4,-21.9l2.5,-22.8l2.4,21.7l2.5,17.1l1.6,14.7l1.7,8.9l1.6,3.6l1.6,3.9l1.7,-8.8l1.6,-4.1l2.5,-9.5l2.4,-11.3l2.5,-7.4l2.5,-6.7l2.4,-4.5l2.5,-2.1l2.4,1.9l2.5,6.8l1.6,-6.2l1.7,-7.9l2.4,7.1l2.5,1.6l1.9,6.5l1.9,0.9l1.9,5.6l2.1,-6.8l2.0,-8.3l1.7,-7.8l1.6,-9.1l2.0,22.4l2.1,21.9l2.5,11.0l2.4,13.1l2.1,-3.8l2.0,-4.8l2.5,-12.2l2.4,-14.3l1.7,-5.9l1.6,-5.1l1.6,3.4l1.7,2.7l1.6,-7.2l1.7,-9.0l1.6,1.3l1.6,9.7l2.5,7.2l2.4,0.9l2.5,4.6l2.5,-3.9l2.4,6.7l2.5,2.5l1.6,-3.6l1.7,-5.6l1.6,-2.1l1.6,-8.2l1.7,-3.0l1.6,-5.5l2.5,16.4l2.4,16.3l1.1,-3.9l2.5,13.3l2.4,13.7l2.5,-9.1l2.4,-9.7l2.5,-5.4l2.4,-8.2l2.5,2.5l2.5,-4.0l2.4,-1.6l2.5,-5.5l2.4,4.6l2.5,1.3l2.5,-1.8l2.4,-0.3l2.2,1.3l2.2,0.1l2.2,4.7l2.4,-5.6l2.5,3.5l2.4,-7.4l2.5,-8.5l1.6,1.5l1.7,-1.2l2.4,11.3l2.5,1.6l2.5,-4.4l2.4,-7.1l1.7,-9.7l1.6,-7.8l2.4,-9.4l2.5,-5.4l2.5,-7.3l2.4,-2.3l2.5,-1.7l2.4,-0.4l2.5,4.9l2.5,2.8l2.4,0.0l2.5,0.5l2.4,-6.8l2.5,-0.9l2.4,4.1l2.5,1.3l2.2,-5.4l2.2,-3.9l2.2,-2.1l1.6,10.3l1.6,8.4l1.7,3.6l1.6,2.5l2.5,4.6l2.4,-2.5l2.5,2.6l2.4,-1.1l2.5,0.4l2.5,2.7l2.4,-0.8l2.5,-2.0l2.4,3.4l2.5,-0.3l2.5,-0.1l2.4,-5.1l2.5,5.9l2.4,4.3l2.5,1.2l2.4,-0.5l2.5,0.1l2.5,1.2l2.4,3.9l2.5,2.3l2.4,-4.6l2.5,-7.4l2.5,1.5l2.4,-1.1l2.5,0.6l2.4,-0.3l2.5,4.4l2.4,2.6l2.5,1.5l2.5,2.7l2.4,-3.3l2.5,2.0l2.4,0.5l2.5,3.2l2.5,3.8l2.4,1.5l2.5,1.0l2.4,-5.5l2.5,6.1l2.4,3.7l2.5,-1.6l2.5,-3.0l2.4,5.2l2.5,0.9l2.4,-3.2l2.5,-2.2l2.5,-0.2l2.4,-1.1l2.5,-0.1l2.4,-2.1l2.5,0.6l2.4,2.4l2.5,-3.0l2.5,-4.1l2.4,3.2l2.5,-3.2l2.4,2.9l2.5,2.8l2.5,-0.1l2.4,1.6l1.6,1.9l1.7,2.3l0.0,8.4l-1.7,0.6l-1.6,-2.5l-2.4,0.4l-2.5,-2.8l-2.5,-5.0l-2.4,0.5l-2.5,-0.6l-2.4,1.5l-2.5,1.5l-2.5,7.5l-2.4,-5.0l-2.5,-1.3l-2.4,1.7l-2.5,3.4l-2.4,-5.6l-2.5,0.2l-2.5,4.8l-2.4,2.1l-2.5,-2.1l-2.4,-0.8l-2.5,1.3l-2.5,-0.1l-2.4,-2.3l-2.5,-7.3l-2.4,4.3l-2.5,3.1l-2.4,-3.8l-2.5,-1.7l-2.5,-3.0l-2.4,-5.5l-2.5,1.5l-2.4,4.8l-2.5,-2.9l-2.5,0.2l-2.4,-3.9l-2.5,-5.4l-2.4,0.9l-2.5,2.3l-2.4,-1.9l-2.5,-1.8l-2.5,5.1l-2.4,4.7l-2.5,-0.4l-2.4,-5.9l-2.5,2.5l-2.5,-1.8l-2.4,1.4l-2.5,-3.7l-2.4,-4.5l-2.5,-1.4l-2.4,0.2l-2.5,3.3l-2.5,-0.2l-2.4,-3.3l-2.5,0.5l-2.4,2.8l-2.5,-3.9l-2.5,-3.0l-2.4,4.0l-2.5,0.5l-2.4,-1.8l-2.5,-4.4l-1.6,-4.0l-1.7,0.3l-1.6,-13.3l-1.6,-8.8l-2.2,4.6l-2.2,5.9l-2.2,2.2l-2.5,-4.2l-2.4,-0.5l-2.5,2.4l-2.4,2.9l-2.5,0.8l-2.4,0.1l-2.5,-4.5l-2.5,-4.4l-2.4,2.0l-2.5,0.9l-2.4,4.7l-2.5,4.8l-2.5,8.3l-2.4,11.1l-1.6,5.0l-1.7,6.9l-2.4,7.4l-2.5,6.5l-2.5,-3.4l-2.4,-6.6l-1.7,-2.3l-1.6,0.3l-2.5,4.2l-2.4,8.9l-2.5,-0.5l-2.4,1.6l-2.2,0.0l-2.2,-2.5l-2.2,0.4l-2.4,3.0l-2.5,-5.6l-2.5,-1.3l-2.4,-3.0l-2.5,8.8l-2.4,-0.8l-2.5,2.5l-2.5,-0.5l-2.4,8.7l-2.5,5.6l-2.4,10.6l-2.5,9.8l-2.4,-17.9l-2.5,-11.2l-1.1,1.9l-2.4,-15.5l-2.5,-15.9l-1.6,5.6l-1.7,5.7l-1.6,2.0l-1.6,7.5l-1.7,2.3l-1.6,4.9l-2.5,-2.5l-2.4,-4.9l-2.5,1.5l-2.5,1.0l-2.4,-6.3l-2.5,-9.9l-1.6,-3.1l-1.6,-3.9l-1.7,8.4l-1.6,7.6l-1.7,-3.0l-1.6,-4.5l-1.6,6.6l-1.7,6.7l-2.4,13.2l-2.5,12.7l-2.0,1.2l-2.1,6.2l-2.4,-10.1l-2.5,-12.7l-2.1,-22.3l-2.0,-21.8l-1.6,9.4l-1.7,10.4l-2.0,3.2l-2.1,10.3l-1.9,-8.6l-1.9,-0.2l-1.9,-4.4l-2.5,-5.1l-2.4,-1.8l-1.7,5.0l-1.6,4.6l-2.5,-6.5l-2.4,-4.5l-2.5,5.8l-2.4,0.8l-2.5,7.5l-2.5,9.4l-2.4,10.0l-2.5,10.1l-1.6,10.3l-1.7,4.7l-1.6,-4.8l-1.6,-3.8l-1.7,-11.6l-1.6,-6.8l-2.5,-20.9l-2.4,-20.0l-2.5,20.5l-2.4,20.0l-2.5,3.1l-2.5,1.0l-1.6,-1.4l-1.6,-7.9l-2.5,0.7l-2.5,0.5l-2.0,-6.7l-2.0,-7.5l-2.1,3.1l-2.0,6.6l-2.5,8.7l-2.5,4.8l-2.4,4.2l-2.5,5.7l-1.9,5.9l-1.9,2.5l-1.9,2.1l-2.1,8.9l-2.0,2.2l-2.1,-12.8l-2.0,-7.7l-1.6,-18.9l-1.7,-10.1l-2.0,15.7l-2.1,9.9l-1.6,7.7l-1.7,9.3l-2.4,-9.1l-2.5,-3.3l-2.4,-7.9l-2.5,-5.9l-2.5,-12.1l-2.4,-15.8l-2.5,-3.1l-2.4,-4.9l-2.5,2.9l-2.4,-6.6l-1.7,-7.1l-1.6,-10.0l-1.7,2.7l-1.6,-0.1l-1.6,2.7l-1.7,4.0l-1.6,-0.5l-1.7,-0.4l-1.6,-7.6l-1.6,-14.6l-1.7,5.0l-1.6,4.2l-1.6,34.8l-1.7,28.2l-1.5,24.7l-1.5,22.0l-2.2,-29.8l-2.2,-31.7l-2.4,-71.2l-1.7,9.0l-1.6,7.0l-2.5,12.2l-2.4,16.9l-1.7,-7.7l-1.6,-4.3l-2.0,-1.2l-2.1,-2.6l-2.4,8.7l-1.7,4.6l-1.6,4.9l-1.7,-3.1l-1.6,-4.6z" fill="#f2bcb0" fill-opacity="0.75"/>
<path d="M666.0,257.0l1.6,1.9l1.7,4.6l1.6,-4.0l1.7,-9.6l2.4,-3.5l2.1,-1.6l2.0,3.9l1.6,4.9l1.7,6.7l2.4,-12.6l2.5,-17.9l1.6,-4.5l1.7,-7.6l2.4,68.4l2.2,31.8l2.2,29.9l1.5,-24.3l1.5,-22.1l1.7,-31.6l1.6,-26.4l1.6,-8.9l1.7,-7.0l1.6,14.6l1.6,13.2l1.7,-4.0l1.6,-2.0l1.7,2.4l1.6,-3.3l1.6,-0.7l1.7,-2.4l1.6,11.3l1.7,6.5l2.4,1.3l2.5,2.6l2.4,4.5l2.5,4.6l2.4,8.8l2.5,14.3l2.5,8.4l2.4,3.8l2.5,6.0l2.4,6.8l1.7,-8.2l1.6,-6.1l2.1,-12.8l2.0,-13.9l1.7,16.9l1.6,10.3l2.0,10.1l2.1,13.5l2.0,-6.1l2.1,-3.8l1.9,-6.3l1.9,-1.0l1.9,-4.0l2.5,-3.1l2.4,-8.6l2.5,-5.2l2.5,-8.6l2.0,-4.5l2.1,-4.5l2.0,7.7l2.0,5.7l2.5,1.6l2.5,-3.4l1.6,8.3l1.6,1.8l2.5,0.6l2.5,-5.0l2.4,-17.2l2.5,-23.0l2.4,18.1l2.5,18.1l1.6,14.4l1.7,12.7l1.6,1.9l1.6,1.9l1.7,-6.6l1.6,-6.4l2.5,-10.0l2.4,-11.0l2.5,-7.4l2.5,-9.8l2.4,0.3l2.5,-4.8l2.4,5.7l2.5,2.5l1.6,-3.0l1.7,-5.2l2.4,3.6l2.5,3.6l1.9,1.2l1.9,6.9l1.9,2.8l2.1,-4.7l2.0,-9.2l1.7,-7.4l1.6,-9.9l2.0,21.4l2.1,22.3l2.5,9.5l2.4,12.4l2.1,-4.4l2.0,-3.8l2.5,-12.6l2.4,-11.5l1.7,-10.0l1.6,-2.0l1.6,4.0l1.7,2.6l1.6,-7.2l1.7,-9.2l1.6,5.7l1.6,2.3l2.5,9.2l2.4,3.6l2.5,3.7l2.5,-2.3l2.4,2.8l2.5,2.8l1.6,-4.4l1.7,-1.5l1.6,-6.2l1.6,-2.3l1.7,-8.1l1.6,-3.7l2.5,13.9l2.4,17.7l1.1,-6.0l2.5,19.7l2.4,12.1l2.5,-10.5l2.4,-11.8l2.5,-4.5l2.4,-6.0l2.5,-1.4l2.5,2.2l2.4,-5.7l2.5,-6.6l2.4,2.7l2.5,4.4l2.5,0.8l2.4,-0.9l2.2,-2.0l2.2,3.2l2.2,-1.7l2.4,-0.5l2.5,2.1l2.4,-8.2l2.5,-4.7l1.6,-1.0l1.7,1.9l2.4,4.7l2.5,5.8l2.5,-8.8l2.4,-4.0l1.7,-7.8l1.6,-7.4l2.4,-9.7l2.5,-7.3l2.5,-6.1l2.4,-1.7l2.5,0.2l2.4,-6.4l2.5,2.1l2.5,9.0l2.4,-0.4l2.5,-0.2l2.4,-1.8l2.5,-6.1l2.4,3.9l2.5,0.9l2.2,-2.2l2.2,-6.2l2.2,-2.3l1.6,8.1l1.6,7.8l1.7,6.1l1.6,3.7l2.5,4.4l2.4,3.1l2.5,-3.6l2.4,-1.8l2.5,3.4l2.5,-1.1l2.4,4.2l2.5,-3.0l2.4,2.5l2.5,4.0l2.5,-4.3l2.4,-4.0l2.5,3.7l2.4,4.6l2.5,3.6l2.4,-1.2l2.5,-0.2l2.5,3.2l2.4,-1.3l2.5,3.7l2.4,-6.4l2.5,-0.1l2.5,-1.3l2.4,-1.0l2.5,0.1l2.4,-0.5l2.5,2.5l2.4,2.8l2.5,1.8l2.5,3.4l2.4,-1.8l2.5,-1.4l2.4,2.9l2.5,0.2l2.5,4.6l2.4,1.5l2.5,-2.8l2.4,-2.9l2.5,8.4l2.4,3.1l2.5,0.0l2.5,-3.3l2.4,4.5l2.5,2.6l2.4,-4.3l2.5,-7.8l2.5,3.1l2.4,-1.1l2.5,-0.8l2.4,0.6l2.5,2.4l2.4,2.3l2.5,-4.7l2.5,-3.8l2.4,2.9l2.5,-6.6l2.4,1.7l2.5,6.8l2.5,1.5l2.4,1.4l1.6,0.8l1.7,0.5" stroke="#ee2a24" stroke-width="2.3" fill="none" stroke-linejoin="round"/>
<path d="M666.0,253.7l1.6,5.2l1.7,4.6l1.6,-0.4l1.7,-7.9l2.4,-13.0l2.1,11.2l2.0,10.1l1.6,-2.2l1.7,-5.9l1.6,2.2l1.7,4.3l2.4,-48.8l2.5,-46.2l2.6,132.7l2.0,106.3l1.9,110.7l2.8,-148.0l2.6,-69.0l1.2,-46.1l2.0,-20.4l2.1,-19.8l2.4,0.6l1.7,-8.2l1.6,-6.1l1.7,9.2l1.6,3.1l1.6,8.5l1.7,9.0l1.6,10.5l1.7,7.6l2.4,6.0l2.5,3.1l2.4,6.0l2.5,8.7l1.6,7.6l1.7,5.1l2.4,8.1l2.1,-1.9l2.0,-6.5l1.7,-4.3l1.6,-2.6l2.1,2.8l2.0,3.6l2.0,-28.4l2.1,-27.3l1.6,30.3l1.7,27.0l2.0,39.2l2.1,31.3l2.4,-11.8l1.7,-18.5l1.6,-18.8l1.6,-3.9l1.7,-6.4l2.3,-14.2l2.3,-13.2l1.7,8.2l1.8,6.5l1.7,6.6l2.5,-9.1l2.4,-12.2l2.5,10.0l2.4,4.9l1.7,8.7l1.6,2.6l2.5,-19.7l2.0,10.3l2.1,9.9l2.0,-1.8l2.1,0.6l1.6,-31.2l1.7,-28.7l2.0,27.6l2.1,22.5l2.0,26.4l2.1,28.8l1.6,5.1l1.6,2.6l2.1,-17.4l2.0,-19.7l1.7,-14.0l1.6,-12.8l2.5,-12.7l2.4,-11.5l2.2,-4.2l2.2,0.1l2.2,-6.1l2.4,7.8l2.5,6.7l2.4,-2.3l2.5,0.4l2.5,2.0l2.4,3.3l2.5,4.5l2.4,3.8l2.0,-19.9l1.9,-22.5l1.9,-23.1l2.0,38.0l2.1,39.8l2.4,23.9l2.5,26.1l2.4,-22.1l2.5,-21.4l2.5,-23.6l2.4,-23.1l1.7,0.4l1.6,5.7l2.2,-5.2l2.2,4.2l2.2,1.6l2.4,7.0l2.5,13.9l2.4,-2.7l2.5,0.8l1.9,7.8l1.9,4.7l1.9,7.7l2.1,-13.6l2.0,-10.9l1.7,2.9l1.6,6.9l2.0,-27.7l2.1,-29.7l2.0,28.5l2.1,30.8l2.7,48.2l2.5,0.1l2.4,-1.6l2.5,-20.0l2.4,-19.3l2.5,-8.0l2.4,-9.5l2.1,7.6l2.0,8.8l2.5,-11.9l2.5,-9.4l2.4,8.3l2.5,12.4l1.9,1.3l1.9,4.0l1.9,5.5l2.5,-0.5l2.4,-2.8l2.5,-6.7l2.4,-0.2l2.5,9.8l1.6,-11.4l1.7,-9.9l2.0,6.7l2.1,3.7l2.4,12.5l2.5,5.0l2.5,-4.9l2.4,-1.5l1.7,-14.4l1.6,-18.1l2.4,-4.8l2.5,-8.8l2.5,5.4l2.4,9.0l1.7,-3.6l1.6,-0.5l2.1,-6.1l2.0,-7.4l2.5,13.3l2.4,9.6l2.1,-5.1l2.0,-10.9l2.1,-5.7l2.0,-7.8l2.1,11.6l2.0,8.1l2.5,-9.7l2.4,-3.4l2.5,4.9l2.4,6.0l1.7,-1.5l1.6,0.5l1.7,-1.8l1.6,3.6l2.0,7.3l2.1,-2.1l2.0,3.9l2.1,2.3l2.4,5.9l2.5,2.1l2.5,-6.8l2.4,-8.0l2.5,3.2l2.4,1.0l1.7,-5.6l1.6,-6.7l2.1,9.4l2.0,7.2l2.1,0.8l2.0,-5.0l2.5,5.5l2.4,5.0l2.5,-7.6l2.4,-7.2l1.7,3.8l1.6,9.4l2.5,-5.2l2.4,-4.7l2.5,0.6l2.5,0.0l2.4,5.9l2.5,2.4l2.2,-13.1l2.1,-6.1l2.2,-9.3l2.1,19.8l2.0,17.9l1.9,-4.9l1.9,-5.6l2.0,-5.0l2.0,-6.4l2.1,-9.3l2.0,17.0l2.1,13.1l2.4,-5.9l2.5,4.4l1.6,-10.7l1.6,-9.7l2.5,4.2l2.5,1.7l2.4,5.1l2.5,4.9l2.4,-2.6l2.5,-3.2l2.5,4.4l2.4,3.1l2.5,-2.9l2.4,-6.5l2.5,4.2l2.4,5.6l1.7,-12.1l1.6,-10.8l2.5,7.6l2.4,3.9l2.5,4.6l2.5,0.6l2.4,4.1l2.5,3.7l2.4,-0.3l2.5,2.0" stroke="#2250a8" stroke-width="2.3" fill="none" stroke-linejoin="round"/>
</g>
<path d="M698.8,189.8V180.0H733.2V189.8" stroke="#2250a8" stroke-width="2" fill="none"/>
<path d="M684.7,537.1V543.8H708.8V537.1" stroke="#2250a8" stroke-width="2" fill="none"/>
<rect x="666.5" y="139.1" width="520.3" height="410.7" fill="none" stroke="#4a4a4a" stroke-width="1.4"/>
<path d="M681.4,139.1v5.5M681.4,549.8v-5.5M755.7,139.1v5.5M755.7,549.8v-5.5M830.0,139.1v5.5M830.0,549.8v-5.5M904.4,139.1v5.5M904.4,549.8v-5.5M978.7,139.1v5.5M978.7,549.8v-5.5M1053.0,139.1v5.5M1053.0,549.8v-5.5M1127.3,139.1v5.5M1127.3,549.8v-5.5M666.5,549.8h5.5M1186.8,549.8h-5.5M666.5,491.1h5.5M1186.8,491.1h-5.5M666.5,432.5h5.5M1186.8,432.5h-5.5M666.5,373.8h5.5M1186.8,373.8h-5.5M666.5,315.1h5.5M1186.8,315.1h-5.5M666.5,256.4h5.5M1186.8,256.4h-5.5M666.5,197.8h5.5M1186.8,197.8h-5.5M666.5,139.1h5.5M1186.8,139.1h-5.5" stroke="#4a4a4a" stroke-width="1.4" fill="none"/>
<text x="681.1" y="567.4" font-size="17" text-anchor="middle" font-weight="normal" fill="#333">0</text>
<text x="753.5" y="567.4" font-size="17" text-anchor="middle" font-weight="normal" fill="#333">0.5</text>
<text x="829.7" y="567.4" font-size="17" text-anchor="middle" font-weight="normal" fill="#333">1</text>
<text x="902.2" y="567.4" font-size="17" text-anchor="middle" font-weight="normal" fill="#333">1.5</text>
<text x="978.4" y="567.4" font-size="17" text-anchor="middle" font-weight="normal" fill="#333">2</text>
<text x="1050.8" y="567.4" font-size="17" text-anchor="middle" font-weight="normal" fill="#333">2.5</text>
<text x="1127.0" y="567.4" font-size="17" text-anchor="middle" font-weight="normal" fill="#333">3</text>
<text x="658.9" y="553.4" font-size="17" text-anchor="end" font-weight="normal" fill="#333">-100</text>
<text x="658.9" y="494.7" font-size="17" text-anchor="end" font-weight="normal" fill="#333">-80</text>
<text x="658.9" y="436.1" font-size="17" text-anchor="end" font-weight="normal" fill="#333">-60</text>
<text x="658.9" y="377.4" font-size="17" text-anchor="end" font-weight="normal" fill="#333">-40</text>
<text x="658.9" y="318.7" font-size="17" text-anchor="end" font-weight="normal" fill="#333">-20</text>
<text x="658.9" y="260.0" font-size="17" text-anchor="end" font-weight="normal" fill="#333">0</text>
<text x="658.9" y="201.4" font-size="17" text-anchor="end" font-weight="normal" fill="#333">20</text>
<text x="658.9" y="142.7" font-size="17" text-anchor="end" font-weight="normal" fill="#333">40</text>
<text class="th" x="918.8" y="591.2" font-size="18.8" text-anchor="middle" font-weight="normal" fill="#231f20" textLength="67.6" lengthAdjust="spacingAndGlyphs">Time (s)</text>
<text class="th" x="0" y="0" font-size="19.5" text-anchor="middle" fill="#231f20" textLength="168.4" lengthAdjust="spacingAndGlyphs" transform="translate(622.4,363.8) rotate(-90)">Neural activity index</text>
<rect x="1083.0" y="153.6" width="89.6" height="54.3" fill="#fff" stroke="#6a6a6a" stroke-width="1.3"/>
<rect x="1090.4" y="163.2" width="20.4" height="12.4" fill="#f3c7bd"/>
<rect x="1090.4" y="168.6" width="20.4" height="1.8" fill="#ec1c24"/>
<rect x="1090.4" y="186.0" width="20.4" height="12.6" fill="#a9dcea"/>
<rect x="1090.4" y="191.2" width="20.4" height="1.8" fill="#2a48a0"/>
<text x="1121.4" y="172.9" font-size="16.6" text-anchor="start" font-weight="normal" fill="#231f20" textLength="43.4" lengthAdjust="spacingAndGlyphs">Young</text>
<text x="1121.4" y="195.9" font-size="16.6" text-anchor="start" font-weight="normal" fill="#231f20" textLength="37.5" lengthAdjust="spacingAndGlyphs">Older</text>
<rect x="1016.9" y="425.0" width="155.1" height="110.5" fill="#fff" stroke="#6a6a6a" stroke-width="1.2"/>
<g transform="translate(1016.9,425.0)"><use href="#brainbase"/><path d="M30.9,18.3C32.1,17.4 34.4,19.5 36.0,19.8C37.6,20.1 38.8,20.5 40.5,20.3C42.2,20.1 44.4,18.9 46.0,18.6C47.6,18.3 49.6,17.4 50.2,18.3C50.8,19.2 50.4,22.3 49.7,24.1C49.1,25.9 46.2,27.8 46.3,28.9C46.4,30.0 48.3,29.9 50.2,30.9C52.1,31.9 56.5,33.1 57.9,34.7C59.3,36.3 58.4,39.4 58.9,40.5C59.4,41.6 61.6,40.7 60.8,41.5C60.0,42.3 56.6,44.3 54.0,45.3C51.4,46.3 47.9,46.5 45.3,47.3C42.7,48.1 40.9,49.7 38.6,50.2C36.4,50.7 33.6,50.5 31.8,50.2C29.9,49.9 28.1,49.5 27.5,48.2C26.9,46.9 28.0,44.2 28.0,42.4C28.0,40.6 27.4,39.4 27.5,37.6C27.6,35.8 28.7,33.9 28.9,31.8C29.1,29.7 28.6,27.4 28.9,25.1C29.2,22.9 29.7,19.2 30.9,18.3Z" fill="#f0262a" fill-opacity="0.93"/><path d="M26.6,21.5C26.6,22.4 26.2,23.7 25.8,24.1C25.4,24.5 24.6,24.5 24.2,24.1C23.8,23.7 23.4,22.4 23.4,21.5C23.4,20.6 23.8,19.3 24.2,18.9C24.6,18.5 25.4,18.5 25.8,18.9C26.2,19.3 26.6,20.6 26.6,21.5Z" fill="#f0262a" fill-opacity="0.93"/><path d="M26.8,25.5C26.8,25.9 26.5,26.6 26.1,26.8C25.8,27.0 25.2,27.0 24.9,26.8C24.5,26.6 24.2,25.9 24.2,25.5C24.2,25.1 24.5,24.4 24.8,24.2C25.2,24.0 25.8,24.0 26.1,24.2C26.5,24.4 26.8,25.1 26.8,25.5Z" fill="#f0262a" fill-opacity="0.93"/><path d="M29.0,93.5C30.3,93.6 35.0,95.0 38.0,96.0C41.0,97.0 44.7,98.6 47.0,99.5C49.3,100.4 50.7,101.4 52.0,101.5C53.3,101.6 54.3,99.8 55.0,100.0C55.7,100.2 56.3,101.8 56.0,102.5C55.7,103.2 54.5,104.0 53.0,104.0C51.5,104.0 49.5,103.3 47.0,102.5C44.5,101.7 40.8,100.2 38.0,99.0C35.2,97.8 31.5,96.4 30.0,95.5C28.5,94.6 27.7,93.4 29.0,93.5Z" fill="#f0262a" fill-opacity="0.93"/><path d="M29.0,41.0C30.8,40.4 36.2,38.7 40.0,37.5C43.8,36.3 48.8,34.8 52.0,34.0C55.2,33.2 57.8,33.2 59.0,33.0" fill="none" stroke="#7a1a1a" stroke-width="0.9" stroke-opacity="0.55"/><path d="M31.0,47.0C32.8,46.3 38.0,44.2 42.0,43.0C46.0,41.8 52.8,40.1 55.0,39.5" fill="none" stroke="#7a1a1a" stroke-width="0.9" stroke-opacity="0.55"/><path d="M33.0,30.0C34.3,29.6 38.5,28.3 41.0,27.5C43.5,26.7 46.8,25.4 48.0,25.0" fill="none" stroke="#7a1a1a" stroke-width="0.9" stroke-opacity="0.55"/><circle cx="46.5" cy="28.5" r="1.3" fill="#b9c4c4"/><circle cx="30.5" cy="48.5" r="1.3" fill="#b9c4c4"/><circle cx="35" cy="49.5" r="1.3" fill="#b9c4c4"/></g>
<g fill="#231f20" transform="translate(673.0,630.3)"><ellipse cx="4.9" cy="-3.0" rx="5.1" ry="2.85" transform="rotate(-21 4.9 -3.0)"/><rect x="8.7" y="-23.4" width="1.45" height="20.5"/><path d="M8.7,-23.6 C10.0,-20.8 13.6,-18.9 15.6,-15.7 C16.9,-13.5 16.5,-10.7 15.0,-8.6 C15.4,-10.8 15.0,-12.6 13.6,-14.2 C12.4,-15.5 11.0,-16.0 10.1,-17.0 L10.1,-23.6 Z"/></g>
<g fill="#e5222a" transform="translate(730.2,630.3)"><ellipse cx="4.9" cy="-3.0" rx="5.1" ry="2.85" transform="rotate(-21 4.9 -3.0)"/><rect x="8.7" y="-23.4" width="1.45" height="20.5"/><path d="M8.7,-23.6 C10.0,-20.8 13.6,-18.9 15.6,-15.7 C16.9,-13.5 16.5,-10.7 15.0,-8.6 C15.4,-10.8 15.0,-12.6 13.6,-14.2 C12.4,-15.5 11.0,-16.0 10.1,-17.0 L10.1,-23.6 Z"/></g>
<g fill="#e5222a" transform="translate(781.7,630.3)"><ellipse cx="4.9" cy="-3.0" rx="5.1" ry="2.85" transform="rotate(-21 4.9 -3.0)"/><rect x="8.7" y="-23.4" width="1.45" height="20.5"/><path d="M8.7,-23.6 C10.0,-20.8 13.6,-18.9 15.6,-15.7 C16.9,-13.5 16.5,-10.7 15.0,-8.6 C15.4,-10.8 15.0,-12.6 13.6,-14.2 C12.4,-15.5 11.0,-16.0 10.1,-17.0 L10.1,-23.6 Z"/></g>
<g fill="#e5222a" transform="translate(836.5,630.3)"><ellipse cx="4.9" cy="-3.0" rx="5.1" ry="2.85" transform="rotate(-21 4.9 -3.0)"/><rect x="8.7" y="-23.4" width="1.45" height="20.5"/><path d="M8.7,-23.6 C10.0,-20.8 13.6,-18.9 15.6,-15.7 C16.9,-13.5 16.5,-10.7 15.0,-8.6 C15.4,-10.8 15.0,-12.6 13.6,-14.2 C12.4,-15.5 11.0,-16.0 10.1,-17.0 L10.1,-23.6 Z"/></g>
<g fill="#e5222a" transform="translate(889.7,630.3)"><ellipse cx="4.9" cy="-3.0" rx="5.1" ry="2.85" transform="rotate(-21 4.9 -3.0)"/><rect x="8.7" y="-23.4" width="1.45" height="20.5"/><path d="M8.7,-23.6 C10.0,-20.8 13.6,-18.9 15.6,-15.7 C16.9,-13.5 16.5,-10.7 15.0,-8.6 C15.4,-10.8 15.0,-12.6 13.6,-14.2 C12.4,-15.5 11.0,-16.0 10.1,-17.0 L10.1,-23.6 Z"/></g>
<text class="th" x="1520.7" y="116.1" font-size="27.5" text-anchor="middle" font-weight="normal" fill="#231f20" textLength="106.3" lengthAdjust="spacingAndGlyphs">Novel T3</text>
<clipPath id="clip02"><rect x="1272.6" y="139.1" width="520.3" height="410.7"/></clipPath>
<rect x="1300.2" y="139.1" width="8.7" height="410.7" fill="#dcdcde"/>
<rect x="1314.3" y="139.1" width="9.8" height="410.7" fill="#dcdcde"/>
<rect x="1356.1" y="139.1" width="6.0" height="410.7" fill="#dcdcde"/>
<rect x="1375.6" y="139.1" width="20.5" height="410.7" fill="#dcdcde"/>
<rect x="1434.6" y="139.1" width="6.2" height="410.7" fill="#dcdcde"/>
<path d="M1287.5,139.1V549.8M1302.3,139.1V549.8M1317.2,139.1V549.8M1332.1,139.1V549.8M1346.9,139.1V549.8M1361.8,139.1V549.8M1376.7,139.1V549.8M1391.5,139.1V549.8M1406.4,139.1V549.8M1421.3,139.1V549.8M1436.1,139.1V549.8M1451.0,139.1V549.8M1465.9,139.1V549.8M1480.7,139.1V549.8M1495.6,139.1V549.8M1510.5,139.1V549.8M1525.3,139.1V549.8M1540.2,139.1V549.8M1555.0,139.1V549.8M1569.9,139.1V549.8M1584.8,139.1V549.8M1599.6,139.1V549.8M1614.5,139.1V549.8M1629.4,139.1V549.8M1644.2,139.1V549.8M1659.1,139.1V549.8M1674.0,139.1V549.8M1688.8,139.1V549.8M1703.7,139.1V549.8M1718.6,139.1V549.8M1733.4,139.1V549.8M1748.3,139.1V549.8M1763.2,139.1V549.8M1778.0,139.1V549.8M1272.6,535.1H1792.9M1272.6,520.5H1792.9M1272.6,505.8H1792.9M1272.6,491.1H1792.9M1272.6,476.5H1792.9M1272.6,461.8H1792.9M1272.6,447.1H1792.9M1272.6,432.5H1792.9M1272.6,417.8H1792.9M1272.6,403.1H1792.9M1272.6,388.5H1792.9M1272.6,373.8H1792.9M1272.6,359.1H1792.9M1272.6,344.4H1792.9M1272.6,329.8H1792.9M1272.6,315.1H1792.9M1272.6,300.4H1792.9M1272.6,285.8H1792.9M1272.6,271.1H1792.9M1272.6,256.4H1792.9M1272.6,241.8H1792.9M1272.6,227.1H1792.9M1272.6,212.4H1792.9M1272.6,197.8H1792.9M1272.6,183.1H1792.9M1272.6,168.4H1792.9M1272.6,153.8H1792.9" stroke="#c6c6c6" stroke-width="1" stroke-dasharray="1.3 1.7" fill="none"/>
<g clip-path="url(#clip02)">
<path d="M1272.0,251.0l1.6,-3.5l1.7,2.7l1.6,-5.7l1.7,-4.7l1.6,6.9l1.6,4.6l1.7,5.6l1.6,5.9l1.6,-10.2l1.7,-4.2l1.6,1.6l1.7,0.0l2.0,-42.0l2.1,-42.2l2.4,47.7l2.0,153.5l2.9,138.0l2.8,-143.4l2.3,-53.9l2.3,-59.1l2.5,-52.8l2.4,-8.5l2.5,4.8l2.4,-1.1l2.5,16.2l1.6,8.5l1.7,6.3l1.6,9.6l1.7,7.9l1.6,-1.4l1.6,-2.0l1.7,13.8l1.6,9.7l1.7,2.8l1.6,3.9l2.4,-9.8l2.5,-6.9l1.6,7.6l1.7,8.2l1.6,5.3l1.7,5.6l2.0,11.1l2.1,7.9l1.9,-26.7l1.9,-23.6l1.9,-28.6l1.6,39.0l1.7,39.5l1.6,16.7l1.7,20.4l1.6,-14.7l1.6,-8.9l2.5,-27.9l2.4,-21.9l2.5,-13.3l2.5,-13.5l2.4,-5.8l2.5,-5.9l1.6,-0.3l1.7,-1.7l1.6,5.2l1.6,6.4l2.5,5.9l2.4,4.6l2.5,1.7l2.5,8.2l1.6,-5.5l1.6,-4.6l2.1,12.5l2.0,9.2l2.0,-18.1l1.9,-20.0l1.9,-18.0l2.0,23.8l2.1,23.0l2.0,28.7l2.1,24.2l1.6,-3.3l1.6,-4.6l2.1,-13.2l2.0,-15.8l2.2,-14.3l2.2,-12.1l2.2,-10.7l2.0,2.2l2.1,2.5l1.6,11.3l1.7,2.1l2.4,0.5l2.5,-8.2l2.4,6.4l2.5,1.2l2.5,8.4l2.4,5.5l2.5,-4.0l2.4,-2.0l2.0,-23.5l1.9,-17.3l1.9,-22.1l2.0,45.9l2.1,41.5l1.9,14.6l1.9,16.9l1.9,15.4l2.5,-25.3l2.4,-21.1l1.9,-1.4l1.9,0.2l2.0,-3.7l2.0,-1.2l2.1,-3.8l1.9,2.9l1.9,2.7l1.9,1.3l2.5,4.2l2.4,-0.5l2.5,3.5l2.4,-0.2l2.5,-9.0l2.4,-6.0l1.7,1.9l1.6,-1.2l1.7,-0.3l1.6,-5.7l2.0,-37.4l2.1,-30.6l2.0,42.2l2.1,40.2l2.5,12.2l2.4,7.4l1.7,25.0l2.1,-24.7l2.0,-26.0l2.5,-10.6l2.4,-17.6l2.1,2.3l2.0,0.2l2.5,4.2l2.4,4.0l2.5,-3.5l2.5,-3.1l1.6,1.3l1.6,-0.2l1.7,16.5l1.6,10.8l2.5,-5.7l2.4,-4.8l1.7,3.5l1.6,3.7l2.5,-5.4l2.4,-5.6l1.7,-1.9l1.6,-0.9l1.6,12.8l1.7,12.3l2.4,-7.9l2.5,-1.0l2.2,-0.6l2.2,-1.1l2.2,0.3l2.4,-11.0l2.5,-19.4l2.4,-4.1l2.5,-5.1l2.4,6.0l2.5,8.0l2.5,-6.3l2.4,-5.2l2.5,4.3l2.4,1.3l2.5,-3.6l2.5,0.4l1.6,-3.8l1.6,-3.9l2.5,5.5l2.4,4.4l2.5,4.3l2.5,-1.0l2.4,-1.9l2.5,-5.1l1.6,4.1l1.7,8.8l2.4,5.9l2.5,3.9l1.6,-15.0l1.6,-12.1l2.5,12.0l2.5,10.9l2.4,-8.5l2.5,-0.4l2.4,1.6l2.5,4.3l1.6,7.9l1.7,5.3l2.4,-5.6l2.5,-4.7l2.5,3.3l2.4,1.4l2.5,-2.1l2.4,1.4l2.5,2.4l2.4,5.7l2.0,-11.2l1.9,-6.0l1.9,-10.5l2.0,9.5l2.1,9.3l2.4,1.7l2.5,3.1l1.6,4.0l1.7,7.7l2.4,-4.9l2.5,-0.5l2.4,-6.7l2.5,-5.9l2.5,1.5l2.4,5.4l2.5,-4.0l2.4,-3.1l2.5,2.5l2.5,1.9l1.9,5.1l1.9,6.5l1.9,6.9l2.0,-12.0l2.1,-13.8l2.4,6.1l2.5,3.4l2.0,8.7l2.1,3.2l2.0,-8.0l2.1,-9.4l2.5,-4.8l2.4,-7.4l2.5,6.4l2.4,4.6l2.2,1.1l2.2,6.3l2.2,3.7l1.6,-3.8l1.7,-4.4l2.4,-8.2l2.5,-8.3l2.4,3.4l2.5,9.5l2.5,-3.6l2.4,1.3l2.2,0.9l2.2,0.9l2.2,-2.1l0.0,9.3l-2.2,1.5l-2.2,-1.0l-2.2,0.9l-2.4,2.1l-2.5,0.8l-2.5,-6.0l-2.4,-6.9l-2.5,6.3l-2.4,9.5l-1.7,1.1l-1.6,8.0l-2.2,-6.6l-2.2,0.0l-2.2,-5.5l-2.4,-6.2l-2.5,-3.2l-2.4,7.8l-2.5,5.5l-2.1,5.6l-2.0,10.6l-2.1,-5.6l-2.0,-6.2l-2.5,-3.9l-2.4,-2.2l-2.1,7.1l-2.0,10.1l-1.9,-6.2l-1.9,-0.6l-1.9,-8.5l-2.5,0.0l-2.5,-1.9l-2.4,1.1l-2.5,1.6l-2.4,-1.4l-2.5,-3.4l-2.5,4.5l-2.4,7.3l-2.5,0.6l-2.4,7.3l-1.7,-6.1l-1.6,-7.5l-2.5,-2.2l-2.4,-1.4l-2.1,-10.6l-2.0,-9.7l-1.9,8.7l-1.9,12.8l-2.0,5.7l-2.4,-1.3l-2.5,-7.0l-2.4,4.1l-2.5,-1.4l-2.4,-3.4l-2.5,-1.2l-2.5,5.6l-2.4,7.3l-1.7,-9.8l-1.6,-4.9l-2.5,-4.4l-2.4,-4.9l-2.5,4.5l-2.4,5.4l-2.5,-10.8l-2.5,-11.4l-1.6,14.7l-1.6,14.1l-2.5,-6.2l-2.4,-5.9l-1.7,-8.5l-1.6,-2.3l-2.5,1.6l-2.4,4.1l-2.5,0.1l-2.5,-1.5l-2.4,-7.7l-2.5,-2.1l-1.6,1.8l-1.6,2.2l-2.5,0.8l-2.5,0.7l-2.4,-0.5l-2.5,-1.3l-2.4,4.5l-2.5,5.9l-2.5,-8.5l-2.4,-2.9l-2.5,4.9l-2.4,2.8l-2.5,14.8l-2.4,14.3l-2.2,3.1l-2.2,-2.1l-2.2,-2.0l-2.5,2.4l-2.4,8.0l-1.7,-11.3l-1.6,-6.9l-1.6,-1.5l-1.7,-0.9l-2.4,2.8l-2.5,8.8l-1.6,-2.4l-1.7,-3.6l-2.4,2.8l-2.5,3.4l-1.6,-11.8l-1.7,-15.3l-1.6,3.3l-1.6,-5.2l-2.5,4.2l-2.5,4.9l-2.4,-5.1l-2.5,-3.0l-2.0,-1.8l-2.1,1.6l-2.4,13.4l-2.5,11.1l-2.0,27.1l-2.1,26.6l-1.7,-26.5l-2.4,-10.6l-2.5,-8.7l-2.1,-41.5l-2.0,-42.8l-2.1,35.9l-2.0,35.6l-1.6,2.1l-1.7,3.9l-1.6,-0.8l-1.7,-1.7l-2.4,8.8l-2.5,7.2l-2.4,0.5l-2.5,-1.6l-2.4,-3.4l-2.5,-1.9l-1.9,-3.2l-1.9,-1.8l-1.9,-5.2l-2.1,2.5l-2.0,3.0l-2.0,3.3l-1.9,-0.5l-1.9,5.8l-2.4,20.0l-2.5,25.4l-1.9,-16.3l-1.9,-18.5l-1.9,-17.2l-2.1,-34.4l-2.0,-48.1l-1.9,19.6l-1.9,20.3l-2.0,19.2l-2.4,2.9l-2.5,1.7l-2.4,-2.6l-2.5,-4.9l-2.5,-3.3l-2.4,-5.7l-2.5,5.0l-2.4,5.0l-1.7,-9.8l-1.6,-9.9l-2.1,0.6l-2.0,-2.4l-2.2,14.0l-2.2,10.8l-2.2,10.1l-2.0,17.1l-2.1,14.8l-1.6,2.6l-1.6,6.8l-2.1,-29.6l-2.0,-25.8l-2.1,-25.3l-2.0,-22.1l-1.9,20.6l-1.9,19.8l-2.0,17.8l-2.0,-12.0l-2.1,-9.5l-1.6,1.1l-1.6,6.5l-2.5,-4.3l-2.5,-6.3l-2.4,-3.4l-2.5,-6.4l-1.6,-8.1l-1.6,-2.6l-1.7,4.5l-1.6,-0.6l-2.5,2.7l-2.4,5.5l-2.5,13.3l-2.5,11.9l-2.4,26.4l-2.5,25.8l-1.6,10.5l-1.6,11.6l-1.7,-15.1l-1.6,-17.7l-1.7,-43.0l-1.6,-36.4l-1.9,25.2l-1.9,26.1l-1.9,28.0l-2.1,-11.3l-2.0,-8.0l-1.7,-9.3l-1.6,-4.3l-1.7,-7.4l-1.6,-6.1l-2.5,5.3l-2.4,10.4l-1.6,-1.2l-1.7,-3.6l-1.6,-10.8l-1.7,-14.8l-1.6,1.6l-1.6,2.9l-1.7,-9.8l-1.6,-7.6l-1.7,-6.4l-1.6,-8.3l-2.5,-16.7l-2.4,-0.6l-2.5,-3.3l-2.4,7.4l-2.5,57.1l-2.3,54.0l-2.3,56.8l-2.8,142.9l-2.9,-141.3l-2.0,-148.3l-2.4,-55.0l-2.1,45.4l-2.0,42.3l-1.7,2.0l-1.6,-2.8l-1.7,8.7l-1.6,5.8l-1.6,-5.9l-1.7,-1.5l-1.6,-7.7l-1.6,-4.4l-1.7,0.5l-1.6,2.6l-1.7,0.9l-1.6,0.5z" fill="#9fd6e9" fill-opacity="0.75"/>
<path d="M1272.0,247.9l2.5,2.2l2.4,2.3l2.5,1.2l2.4,-0.6l1.7,3.7l1.6,1.1l1.6,-3.7l1.7,-8.1l1.6,-2.7l1.7,-5.3l2.4,-9.9l2.5,-11.7l2.4,46.7l2.1,46.1l2.0,44.7l2.1,-38.0l2.0,-36.3l2.5,-27.6l2.5,-33.9l2.0,10.6l2.0,12.6l2.5,-0.6l2.5,15.2l2.4,-3.1l2.5,-1.3l1.6,6.0l1.7,0.6l1.6,1.1l1.6,0.9l2.5,1.3l2.5,10.5l1.6,6.9l1.6,6.1l2.5,2.7l2.4,0.2l1.7,3.3l1.6,6.5l1.7,11.2l1.6,9.8l1.6,-2.0l1.7,1.2l1.9,-13.3l1.9,-14.9l1.9,-14.0l1.9,8.3l1.9,7.9l2.0,9.1l1.6,-1.9l1.6,-5.1l2.5,-6.3l2.4,-3.3l2.5,-9.1l2.5,-1.2l2.4,-5.1l2.5,-3.8l2.9,-9.9l1.8,4.6l1.8,9.7l2.5,-5.1l2.4,-3.2l2.5,7.3l2.5,4.8l1.6,-0.4l1.6,-2.2l1.7,5.7l1.6,6.5l2.2,-13.2l2.2,-12.5l2.2,-12.7l2.4,8.7l2.5,6.5l2.5,12.2l2.4,9.1l2.5,-1.0l2.4,-2.6l2.5,1.3l2.4,-2.2l2.5,-2.2l2.5,-3.6l2.4,-2.0l2.5,-3.5l2.4,-8.9l2.5,-3.8l2.4,5.7l2.5,3.9l2.5,-0.1l2.4,1.8l2.5,4.4l2.4,5.4l2.5,-10.1l2.5,-14.2l2.4,18.1l2.5,23.8l1.9,16.8l1.9,16.3l1.9,15.7l2.1,-17.0l2.0,-17.0l1.6,-0.7l1.7,-0.8l2.4,-6.3l2.5,-4.7l2.5,-9.2l2.4,-7.8l2.5,7.6l2.4,4.5l2.5,0.7l2.4,1.9l2.5,2.7l2.5,-2.7l2.4,-1.6l2.5,-0.3l2.4,-0.2l2.5,-4.4l2.3,-19.4l2.3,-19.4l1.7,13.3l1.8,11.0l1.7,13.2l1.7,8.3l1.6,13.9l1.7,-1.2l2.5,-3.4l2.4,-5.5l2.5,-8.8l2.4,-5.4l2.5,-4.9l2.5,-4.9l1.6,-0.7l1.6,-2.5l2.5,5.9l2.5,4.7l2.4,0.1l2.5,3.2l2.2,3.9l2.1,1.2l2.2,2.3l2.5,-4.0l2.4,-2.7l2.5,3.9l2.5,-0.5l2.4,-5.2l2.5,-6.4l2.2,2.0l2.2,-1.1l2.1,0.6l2.5,-12.0l2.5,-15.3l2.4,0.9l2.5,-5.3l2.4,-1.6l2.5,-4.3l2.4,-4.6l2.5,-5.4l1.6,-0.7l1.7,-3.2l2.4,2.5l2.5,4.8l2.5,-5.9l2.4,-4.0l1.7,-10.1l1.6,7.5l1.6,6.1l1.7,6.3l1.6,4.1l2.5,3.0l2.4,-2.3l2.5,4.2l2.4,3.4l1.7,8.8l1.6,7.1l2.5,-5.0l2.4,-8.9l2.5,10.3l2.4,1.4l2.5,5.1l2.5,0.5l2.4,-5.4l2.5,-0.1l2.4,0.7l2.5,2.4l2.5,-3.2l2.4,-1.8l2.5,-0.4l2.4,-0.3l2.5,0.5l2.4,-3.1l2.5,4.8l2.5,2.1l2.4,-2.1l2.5,-2.0l1.6,5.0l1.7,2.3l2.4,-3.8l2.5,-3.4l2.4,5.6l2.5,1.2l2.4,3.1l2.5,-3.0l2.5,-1.2l2.4,3.4l2.1,2.1l2.0,8.0l1.9,-9.0l1.9,-3.2l2.0,-3.1l2.4,-0.2l2.5,1.9l2.4,0.6l2.5,1.1l2.4,-1.1l2.5,-0.9l1.6,-4.6l1.7,-3.8l2.4,9.9l2.5,3.7l2.5,0.9l2.4,0.3l2.5,-4.7l2.4,-5.3l2.2,1.6l2.2,3.4l2.2,1.7l2.2,1.7l2.2,-0.8l2.1,-0.8l2.5,-0.3l2.5,0.8l2.4,-1.5l2.5,0.9l2.4,-1.0l2.5,-0.9l2.5,-1.7l2.4,1.4l2.2,-1.7l2.2,0.7l2.2,1.2l0.0,10.2l-2.2,0.3l-2.2,0.3l-2.2,-0.3l-2.4,-1.5l-2.5,2.8l-2.5,-1.2l-2.4,2.8l-2.5,0.1l-2.4,1.4l-2.5,-0.1l-2.5,-1.0l-2.1,0.2l-2.2,-1.7l-2.2,1.9l-2.2,-3.9l-2.2,-1.1l-2.2,-4.5l-2.4,4.3l-2.5,4.1l-2.4,0.3l-2.5,2.1l-2.5,-7.1l-2.4,-6.1l-1.7,1.6l-1.6,3.8l-2.5,2.3l-2.4,-3.9l-2.5,5.5l-2.4,-3.1l-2.5,3.6l-2.4,-5.3l-2.0,4.9l-1.9,3.9l-1.9,5.5l-2.0,-7.9l-2.1,-0.8l-2.4,-2.7l-2.5,0.3l-2.5,-2.0l-2.4,2.8l-2.5,-3.0l-2.4,-2.4l-2.5,2.8l-2.4,0.6l-1.7,-1.2l-1.6,-5.6l-2.5,4.6l-2.4,-0.7l-2.5,-3.8l-2.5,-1.5l-2.4,1.9l-2.5,3.2l-2.4,-3.2l-2.5,-1.2l-2.4,2.0l-2.5,7.3l-2.5,-6.9l-2.4,2.4l-2.5,1.9l-2.4,2.8l-2.5,-3.7l-2.5,-0.6l-2.4,-4.4l-2.5,-4.6l-2.4,2.2l-2.5,9.6l-1.6,-7.1l-1.7,-9.0l-2.4,-2.2l-2.5,-5.3l-2.4,0.1l-2.5,-0.2l-1.6,-5.9l-1.7,-6.1l-1.6,-5.3l-1.6,-8.0l-1.7,9.9l-2.4,4.4l-2.5,2.9l-2.5,-0.9l-2.4,-6.1l-1.7,4.2l-1.6,1.9l-2.5,4.1l-2.4,6.8l-2.5,1.1l-2.4,7.3l-2.5,0.7l-2.4,1.4l-2.5,13.5l-2.5,15.2l-2.1,0.4l-2.2,-3.0l-2.2,0.4l-2.5,4.5l-2.4,5.3l-2.5,-2.5l-2.5,-2.3l-2.4,2.9l-2.5,5.8l-2.2,-2.4l-2.1,-3.4l-2.2,-5.9l-2.5,-0.8l-2.4,0.7l-2.5,-3.9l-2.5,-6.7l-1.6,1.5l-1.6,3.8l-2.5,3.1l-2.5,4.2l-2.4,6.2l-2.5,9.8l-2.4,3.3l-2.5,7.5l-1.7,-2.4l-1.6,-13.3l-1.7,-8.8l-1.7,-14.5l-1.8,-9.8l-1.7,-10.7l-2.3,17.6l-2.3,19.8l-2.5,-0.8l-2.4,3.1l-2.5,0.7l-2.4,2.6l-2.5,2.8l-2.5,-4.6l-2.4,2.4l-2.5,-7.0l-2.4,-3.0l-2.5,-0.2l-2.4,5.0l-2.5,4.9l-2.5,10.0l-2.4,3.6l-1.7,0.5l-1.6,-2.9l-2.0,18.3l-2.1,15.8l-1.9,-10.6l-1.9,-18.0l-1.9,-15.6l-2.5,-20.9l-2.4,-24.4l-2.5,16.2l-2.5,12.3l-2.4,-5.8l-2.5,-1.7l-2.4,-3.4l-2.5,-4.3l-2.5,-4.4l-2.4,-1.8l-2.5,2.8l-2.4,4.7l-2.5,7.9l-2.4,0.9l-2.5,4.2l-2.5,0.9l-2.4,2.5l-2.5,-1.7l-2.4,5.1l-2.5,3.3l-2.4,-14.8l-2.5,-10.3l-2.5,-0.7l-2.4,-13.1l-2.2,9.3l-2.2,13.6l-2.2,13.7l-1.6,-5.9l-1.7,-0.8l-1.6,-1.8l-1.6,-0.9l-2.5,-4.8l-2.5,-5.5l-2.4,3.0l-2.5,2.4l-1.8,-7.2l-1.8,-7.3l-2.9,6.6l-2.5,7.8l-2.4,6.0l-2.5,2.2l-2.5,6.8l-2.4,6.0l-2.5,6.4l-1.6,3.4l-1.6,4.0l-2.0,-9.7l-1.9,-8.5l-1.9,-11.9l-1.9,15.5l-1.9,15.3l-1.9,16.2l-1.7,-1.5l-1.6,1.3l-1.6,-11.6l-1.7,-9.9l-1.6,-5.9l-1.7,-2.8l-2.4,-3.2l-2.5,-2.1l-1.6,-6.6l-1.6,-8.7l-2.5,-6.3l-2.5,-4.8l-1.6,0.2l-1.6,1.5l-1.7,-7.2l-1.6,0.9l-2.5,0.9l-2.4,1.4l-2.5,-16.4l-2.5,0.8l-2.0,-8.8l-2.0,-12.4l-2.5,33.0l-2.5,30.9l-2.0,36.5l-2.1,33.8l-2.0,-43.3l-2.1,-45.8l-2.4,-50.0l-2.5,14.1l-2.4,11.5l-1.7,1.3l-1.6,5.3l-1.7,3.7l-1.6,7.4l-1.6,-2.0l-1.7,-1.6l-2.4,-0.5l-2.5,-3.6l-2.4,2.1l-2.5,-2.4z" fill="#f2bcb0" fill-opacity="0.75"/>
<path d="M1272.0,255.4l2.5,-0.7l2.4,2.0l2.5,0.6l2.4,3.3l1.7,2.4l1.6,1.3l1.6,-6.9l1.7,-8.2l1.6,-1.4l1.7,-3.8l2.4,-13.3l2.5,-11.4l2.4,51.6l2.1,42.4l2.0,44.5l2.1,-36.0l2.0,-35.6l2.5,-29.9l2.5,-32.1l2.0,7.9l2.0,13.7l2.5,-3.2l2.5,19.4l2.4,-0.5l2.5,-2.5l1.6,1.9l1.7,2.3l1.6,0.4l1.6,-1.2l2.5,4.9l2.5,7.0l1.6,7.9l1.6,9.5l2.5,0.3l2.4,-0.7l1.7,8.5l1.6,1.3l1.7,12.9l1.6,8.7l1.6,-0.2l1.7,2.4l1.9,-15.9l1.9,-15.3l1.9,-15.4l1.9,8.1l1.9,10.0l2.0,9.8l1.6,-2.6l1.6,-4.4l2.5,-5.5l2.4,-8.6l2.5,1.5l2.5,-4.7l2.4,-8.8l2.5,-4.0l2.9,-10.5l1.8,7.5l1.8,7.3l2.5,-1.3l2.4,-5.3l2.5,4.7l2.5,11.6l1.6,-5.7l1.6,-3.7l1.7,8.5l1.6,4.3l2.2,-9.8l2.2,-14.3l2.2,-12.0l2.4,9.2l2.5,5.4l2.5,12.3l2.4,10.8l2.5,-4.8l2.4,-1.8l2.5,0.1l2.4,1.6l2.5,-4.1l2.5,-4.2l2.4,-1.5l2.5,-2.9l2.4,-9.6l2.5,-3.9l2.4,6.9l2.5,4.5l2.5,3.2l2.4,-1.6l2.5,7.0l2.4,2.9l2.5,-12.9l2.5,-13.3l2.4,19.5l2.5,22.7l1.9,15.6l1.9,19.4l1.9,13.0l2.1,-18.7l2.0,-16.3l1.6,1.3l1.7,-1.0l2.4,-0.8l2.5,-8.1l2.5,-6.7l2.4,-10.4l2.5,4.6l2.4,6.8l2.5,0.7l2.4,-1.4l2.5,4.4l2.5,-0.8l2.4,-3.9l2.5,-1.3l2.4,-4.0l2.5,0.9l2.3,-19.0l2.3,-18.1l1.7,8.7l1.8,14.3l1.7,7.5l1.7,18.1l1.6,11.1l1.7,0.8l2.5,-8.3l2.4,-3.7l2.5,-9.3l2.4,-7.0l2.5,-1.6l2.5,-2.9l1.6,-2.3l1.6,-5.3l2.5,6.0l2.5,4.6l2.4,2.0l2.5,1.7l2.2,3.1l2.1,-0.3l2.2,5.4l2.5,-2.9l2.4,-4.9l2.5,7.2l2.5,-5.6l2.4,-4.5l2.5,-2.9l2.2,-3.0l2.2,3.1l2.1,1.5l2.5,-10.7l2.5,-17.0l2.4,-0.1l2.5,-4.6l2.4,-3.9l2.5,-2.8l2.4,-2.9l2.5,-5.0l1.6,-5.5l1.7,-1.3l2.4,2.5l2.5,4.3l2.5,-4.1l2.4,-3.2l1.7,-9.1l1.6,7.4l1.6,4.2l1.7,3.3l1.6,8.5l2.5,-0.4l2.4,1.3l2.5,6.1l2.4,-3.0l1.7,8.5l1.6,10.0l2.5,-5.6l2.4,-5.9l2.5,6.2l2.4,4.8l2.5,-2.1l2.5,5.2l2.4,-4.8l2.5,-4.3l2.4,2.0l2.5,6.6l2.5,-2.2l2.4,-5.7l2.5,-0.7l2.4,1.8l2.5,-0.6l2.4,-0.8l2.5,2.6l2.5,2.7l2.4,-0.8l2.5,-1.2l1.6,2.6l1.7,3.3l2.4,-2.7l2.5,-5.5l2.4,4.7l2.5,5.9l2.4,-2.3l2.5,-4.7l2.5,4.0l2.4,0.3l2.1,6.0l2.0,4.3l1.9,-5.0l1.9,-4.1l2.0,-5.3l2.4,2.4l2.5,4.1l2.4,-1.1l2.5,-2.4l2.4,-1.8l2.5,0.5l1.6,-5.2l1.7,0.4l2.4,6.5l2.5,4.8l2.5,-1.9l2.4,-0.4l2.5,-3.6l2.4,-2.7l2.2,3.0l2.2,0.8l2.2,1.4l2.2,1.0l2.2,0.7l2.1,-1.1l2.5,2.3l2.5,-2.5l2.4,-0.1l2.5,0.9l2.4,-4.5l2.5,-0.4l2.5,2.2l2.4,0.5l2.2,-0.3l2.2,0.7l2.2,0.4" stroke="#ee2a24" stroke-width="2.3" fill="none" stroke-linejoin="round"/>
<path d="M1272.0,253.7l1.6,-1.3l1.7,-0.6l1.6,-3.2l1.7,-2.4l1.6,3.3l1.6,11.2l1.7,4.0l1.6,3.8l1.6,-5.8l1.7,-7.2l1.6,2.3l1.7,-1.6l2.0,-43.6l2.1,-44.1l2.4,52.5l2.0,144.3l2.9,145.7l2.8,-142.8l2.3,-55.3l2.3,-61.6l2.5,-52.5l2.4,-3.8l2.5,1.5l2.4,-3.0l2.5,20.6l1.6,5.0l1.7,10.0l1.6,10.6l1.7,5.1l1.6,-3.9l1.6,0.7l1.7,13.2l1.6,8.8l1.7,3.1l1.6,3.4l2.4,-8.2l2.5,-8.2l1.6,8.2l1.7,7.8l1.6,5.2l1.7,3.0l2.0,13.0l2.1,10.3l1.9,-26.9l1.9,-25.4l1.9,-26.3l1.6,38.2l1.7,39.3l1.6,15.7l1.7,19.9l1.6,-13.2l1.6,-10.3l2.5,-23.7l2.4,-26.0l2.5,-12.8l2.5,-12.8l2.4,-5.7l2.5,-4.7l1.6,-1.0l1.7,-3.9l1.6,6.4l1.6,3.9l2.5,5.8l2.4,6.6l2.5,4.6l2.5,6.5l1.6,-3.1l1.6,-6.8l2.1,14.2l2.0,7.1l2.0,-17.7l1.9,-19.1l1.9,-20.5l2.0,20.8l2.1,27.4l2.0,27.6l2.1,25.8l1.6,-4.0l1.6,-3.4l2.1,-15.5l2.0,-14.4l2.2,-14.0l2.2,-9.5l2.2,-15.6l2.0,3.9l2.1,2.2l1.6,8.3l1.7,7.9l2.4,-10.5l2.5,0.7l2.4,4.5l2.5,7.5l2.5,3.3l2.4,3.8l2.5,-8.4l2.4,2.5l2.0,-21.0l1.9,-21.2l1.9,-16.9l2.0,42.4l2.1,41.5l1.9,17.6l1.9,16.4l1.9,13.2l2.5,-21.5l2.4,-21.6l1.9,-1.2l1.9,-5.8l2.0,-1.3l2.0,-1.3l2.1,-0.5l1.9,2.0l1.9,-0.1l1.9,5.0l2.5,1.2l2.4,2.2l2.5,1.4l2.4,2.5l2.5,-9.4l2.4,-7.5l1.7,2.0l1.6,-1.0l1.7,-3.0l1.6,-0.7l2.0,-35.0l2.1,-35.9l2.0,38.8l2.1,45.7l2.5,6.6l2.4,14.3l1.7,20.8l2.1,-28.0l2.0,-24.1l2.5,-11.3l2.4,-12.8l2.1,1.4l2.0,-2.2l2.5,4.3l2.4,3.9l2.5,-3.8l2.5,-1.9l1.6,2.3l1.6,0.8l1.7,14.8l1.6,10.7l2.5,-3.8l2.4,-6.0l1.7,3.3l1.6,4.9l2.5,-8.0l2.4,-4.6l1.7,1.4l1.6,-0.1l1.6,10.4l1.7,9.1l2.4,-7.4l2.5,-0.3l2.2,-1.8l2.2,1.6l2.2,-0.7l2.4,-14.8l2.5,-10.0l2.4,-7.2l2.5,-5.3l2.4,3.0l2.5,6.8l2.5,-1.3l2.4,-7.4l2.5,2.6l2.4,0.8l2.5,-1.5l2.5,-0.2l1.6,-1.3l1.6,-6.8l2.5,6.9l2.4,5.8l2.5,0.7l2.5,2.7l2.4,-6.3l2.5,-4.5l1.6,7.2l1.7,7.1l2.4,5.5l2.5,4.8l1.6,-15.6l1.6,-12.3l2.5,10.2l2.5,12.7l2.4,-5.5l2.5,-4.3l2.4,3.2l2.5,6.8l1.6,5.3l1.7,4.4l2.4,-6.8l2.5,-3.9l2.5,2.6l2.4,4.0l2.5,-3.2l2.4,2.3l2.5,4.3l2.4,4.0l2.0,-10.7l1.9,-9.6l1.9,-9.2l2.0,8.4l2.1,12.5l2.4,-2.2l2.5,2.8l1.6,10.6l1.7,3.9l2.4,-5.9l2.5,-3.8l2.4,-6.0l2.5,-4.0l2.5,3.3l2.4,6.2l2.5,-2.5l2.4,-3.0l2.5,1.1l2.5,4.4l1.9,-1.9l1.9,11.6l1.9,3.8l2.0,-9.0l2.1,-14.0l2.4,5.1l2.5,1.8l2.0,8.4l2.1,4.4l2.0,-4.9l2.1,-8.1l2.5,-8.8l2.4,-6.0l2.5,2.7l2.4,5.1l2.2,3.5l2.2,7.0l2.2,3.0l1.6,-2.9l1.7,-2.9l2.4,-9.8l2.5,-9.0l2.4,8.3l2.5,3.1l2.5,-2.6l2.4,0.8l2.2,0.2l2.2,0.3l2.2,-0.3" stroke="#2250a8" stroke-width="2.3" fill="none" stroke-linejoin="round"/>
</g>
<path d="M1306.9,181.6V169.6H1341.6V181.6" stroke="#2250a8" stroke-width="2" fill="none"/>
<path d="M1370.3,215.7V203.7H1404.7V215.7" stroke="#2250a8" stroke-width="2" fill="none"/>
<path d="M1428.2,230.0V218.5H1462.6V230.0" stroke="#2250a8" stroke-width="2" fill="none"/>
<path d="M1290.0,535.4V542.1H1314.8V535.4" stroke="#2250a8" stroke-width="2" fill="none"/>
<rect x="1272.6" y="139.1" width="520.3" height="410.7" fill="none" stroke="#4a4a4a" stroke-width="1.4"/>
<path d="M1287.5,139.1v5.5M1287.5,549.8v-5.5M1361.8,139.1v5.5M1361.8,549.8v-5.5M1436.1,139.1v5.5M1436.1,549.8v-5.5M1510.5,139.1v5.5M1510.5,549.8v-5.5M1584.8,139.1v5.5M1584.8,549.8v-5.5M1659.1,139.1v5.5M1659.1,549.8v-5.5M1733.4,139.1v5.5M1733.4,549.8v-5.5M1272.6,549.8h5.5M1792.9,549.8h-5.5M1272.6,491.1h5.5M1792.9,491.1h-5.5M1272.6,432.5h5.5M1792.9,432.5h-5.5M1272.6,373.8h5.5M1792.9,373.8h-5.5M1272.6,315.1h5.5M1792.9,315.1h-5.5M1272.6,256.4h5.5M1792.9,256.4h-5.5M1272.6,197.8h5.5M1792.9,197.8h-5.5M1272.6,139.1h5.5M1792.9,139.1h-5.5" stroke="#4a4a4a" stroke-width="1.4" fill="none"/>
<text x="1287.2" y="567.4" font-size="17" text-anchor="middle" font-weight="normal" fill="#333">0</text>
<text x="1359.6" y="567.4" font-size="17" text-anchor="middle" font-weight="normal" fill="#333">0.5</text>
<text x="1435.8" y="567.4" font-size="17" text-anchor="middle" font-weight="normal" fill="#333">1</text>
<text x="1508.3" y="567.4" font-size="17" text-anchor="middle" font-weight="normal" fill="#333">1.5</text>
<text x="1584.5" y="567.4" font-size="17" text-anchor="middle" font-weight="normal" fill="#333">2</text>
<text x="1656.9" y="567.4" font-size="17" text-anchor="middle" font-weight="normal" fill="#333">2.5</text>
<text x="1733.1" y="567.4" font-size="17" text-anchor="middle" font-weight="normal" fill="#333">3</text>
<text x="1265.0" y="553.4" font-size="17" text-anchor="end" font-weight="normal" fill="#333">-100</text>
<text x="1265.0" y="494.7" font-size="17" text-anchor="end" font-weight="normal" fill="#333">-80</text>
<text x="1265.0" y="436.1" font-size="17" text-anchor="end" font-weight="normal" fill="#333">-60</text>
<text x="1265.0" y="377.4" font-size="17" text-anchor="end" font-weight="normal" fill="#333">-40</text>
<text x="1265.0" y="318.7" font-size="17" text-anchor="end" font-weight="normal" fill="#333">-20</text>
<text x="1265.0" y="260.0" font-size="17" text-anchor="end" font-weight="normal" fill="#333">0</text>
<text x="1265.0" y="201.4" font-size="17" text-anchor="end" font-weight="normal" fill="#333">20</text>
<text x="1265.0" y="142.7" font-size="17" text-anchor="end" font-weight="normal" fill="#333">40</text>
<text class="th" x="1524.9" y="591.2" font-size="18.8" text-anchor="middle" font-weight="normal" fill="#231f20" textLength="67.6" lengthAdjust="spacingAndGlyphs">Time (s)</text>
<text class="th" x="0" y="0" font-size="19.5" text-anchor="middle" fill="#231f20" textLength="168.4" lengthAdjust="spacingAndGlyphs" transform="translate(1228.5,363.8) rotate(-90)">Neural activity index</text>
<rect x="1689.1" y="153.6" width="89.6" height="54.3" fill="#fff" stroke="#6a6a6a" stroke-width="1.3"/>
<rect x="1696.5" y="163.2" width="20.4" height="12.4" fill="#f3c7bd"/>
<rect x="1696.5" y="168.6" width="20.4" height="1.8" fill="#ec1c24"/>
<rect x="1696.5" y="186.0" width="20.4" height="12.6" fill="#a9dcea"/>
<rect x="1696.5" y="191.2" width="20.4" height="1.8" fill="#2a48a0"/>
<text x="1727.5" y="172.9" font-size="16.6" text-anchor="start" font-weight="normal" fill="#231f20" textLength="43.4" lengthAdjust="spacingAndGlyphs">Young</text>
<text x="1727.5" y="195.9" font-size="16.6" text-anchor="start" font-weight="normal" fill="#231f20" textLength="37.5" lengthAdjust="spacingAndGlyphs">Older</text>
<rect x="1623.0" y="425.0" width="155.1" height="110.5" fill="#fff" stroke="#6a6a6a" stroke-width="1.2"/>
<g transform="translate(1623.0,425.0)"><use href="#brainbase"/><path d="M30.9,18.3C32.1,17.4 34.4,19.5 36.0,19.8C37.6,20.1 38.8,20.5 40.5,20.3C42.2,20.1 44.4,18.9 46.0,18.6C47.6,18.3 49.6,17.4 50.2,18.3C50.8,19.2 50.4,22.3 49.7,24.1C49.1,25.9 46.2,27.8 46.3,28.9C46.4,30.0 48.3,29.9 50.2,30.9C52.1,31.9 56.5,33.1 57.9,34.7C59.3,36.3 58.4,39.4 58.9,40.5C59.4,41.6 61.6,40.7 60.8,41.5C60.0,42.3 56.6,44.3 54.0,45.3C51.4,46.3 47.9,46.5 45.3,47.3C42.7,48.1 40.9,49.7 38.6,50.2C36.4,50.7 33.6,50.5 31.8,50.2C29.9,49.9 28.1,49.5 27.5,48.2C26.9,46.9 28.0,44.2 28.0,42.4C28.0,40.6 27.4,39.4 27.5,37.6C27.6,35.8 28.7,33.9 28.9,31.8C29.1,29.7 28.6,27.4 28.9,25.1C29.2,22.9 29.7,19.2 30.9,18.3Z" fill="#f0262a" fill-opacity="0.93"/><path d="M26.6,21.5C26.6,22.4 26.2,23.7 25.8,24.1C25.4,24.5 24.6,24.5 24.2,24.1C23.8,23.7 23.4,22.4 23.4,21.5C23.4,20.6 23.8,19.3 24.2,18.9C24.6,18.5 25.4,18.5 25.8,18.9C26.2,19.3 26.6,20.6 26.6,21.5Z" fill="#f0262a" fill-opacity="0.93"/><path d="M26.8,25.5C26.8,25.9 26.5,26.6 26.1,26.8C25.8,27.0 25.2,27.0 24.9,26.8C24.5,26.6 24.2,25.9 24.2,25.5C24.2,25.1 24.5,24.4 24.8,24.2C25.2,24.0 25.8,24.0 26.1,24.2C26.5,24.4 26.8,25.1 26.8,25.5Z" fill="#f0262a" fill-opacity="0.93"/><path d="M29.0,93.5C30.3,93.6 35.0,95.0 38.0,96.0C41.0,97.0 44.7,98.6 47.0,99.5C49.3,100.4 50.7,101.4 52.0,101.5C53.3,101.6 54.3,99.8 55.0,100.0C55.7,100.2 56.3,101.8 56.0,102.5C55.7,103.2 54.5,104.0 53.0,104.0C51.5,104.0 49.5,103.3 47.0,102.5C44.5,101.7 40.8,100.2 38.0,99.0C35.2,97.8 31.5,96.4 30.0,95.5C28.5,94.6 27.7,93.4 29.0,93.5Z" fill="#f0262a" fill-opacity="0.93"/><path d="M29.0,41.0C30.8,40.4 36.2,38.7 40.0,37.5C43.8,36.3 48.8,34.8 52.0,34.0C55.2,33.2 57.8,33.2 59.0,33.0" fill="none" stroke="#7a1a1a" stroke-width="0.9" stroke-opacity="0.55"/><path d="M31.0,47.0C32.8,46.3 38.0,44.2 42.0,43.0C46.0,41.8 52.8,40.1 55.0,39.5" fill="none" stroke="#7a1a1a" stroke-width="0.9" stroke-opacity="0.55"/><path d="M33.0,30.0C34.3,29.6 38.5,28.3 41.0,27.5C43.5,26.7 46.8,25.4 48.0,25.0" fill="none" stroke="#7a1a1a" stroke-width="0.9" stroke-opacity="0.55"/><circle cx="46.5" cy="28.5" r="1.3" fill="#b9c4c4"/><circle cx="30.5" cy="48.5" r="1.3" fill="#b9c4c4"/><circle cx="35" cy="49.5" r="1.3" fill="#b9c4c4"/></g>
<g fill="#231f20" transform="translate(1280.6,630.3)"><ellipse cx="4.9" cy="-3.0" rx="5.1" ry="2.85" transform="rotate(-21 4.9 -3.0)"/><rect x="8.7" y="-23.4" width="1.45" height="20.5"/><path d="M8.7,-23.6 C10.0,-20.8 13.6,-18.9 15.6,-15.7 C16.9,-13.5 16.5,-10.7 15.0,-8.6 C15.4,-10.8 15.0,-12.6 13.6,-14.2 C12.4,-15.5 11.0,-16.0 10.1,-17.0 L10.1,-23.6 Z"/></g>
<g fill="#231f20" transform="translate(1337.6,630.3)"><ellipse cx="4.9" cy="-3.0" rx="5.1" ry="2.85" transform="rotate(-21 4.9 -3.0)"/><rect x="8.7" y="-23.4" width="1.45" height="20.5"/><path d="M8.7,-23.6 C10.0,-20.8 13.6,-18.9 15.6,-15.7 C16.9,-13.5 16.5,-10.7 15.0,-8.6 C15.4,-10.8 15.0,-12.6 13.6,-14.2 C12.4,-15.5 11.0,-16.0 10.1,-17.0 L10.1,-23.6 Z"/></g>
<g fill="#231f20" transform="translate(1389.3,630.3)"><ellipse cx="4.9" cy="-3.0" rx="5.1" ry="2.85" transform="rotate(-21 4.9 -3.0)"/><rect x="8.7" y="-23.4" width="1.45" height="20.5"/><path d="M8.7,-23.6 C10.0,-20.8 13.6,-18.9 15.6,-15.7 C16.9,-13.5 16.5,-10.7 15.0,-8.6 C15.4,-10.8 15.0,-12.6 13.6,-14.2 C12.4,-15.5 11.0,-16.0 10.1,-17.0 L10.1,-23.6 Z"/></g>
<g fill="#e5222a" transform="translate(1444.0,630.3)"><ellipse cx="4.9" cy="-3.0" rx="5.1" ry="2.85" transform="rotate(-21 4.9 -3.0)"/><rect x="8.7" y="-23.4" width="1.45" height="20.5"/><path d="M8.7,-23.6 C10.0,-20.8 13.6,-18.9 15.6,-15.7 C16.9,-13.5 16.5,-10.7 15.0,-8.6 C15.4,-10.8 15.0,-12.6 13.6,-14.2 C12.4,-15.5 11.0,-16.0 10.1,-17.0 L10.1,-23.6 Z"/></g>
<g fill="#e5222a" transform="translate(1497.3,630.3)"><ellipse cx="4.9" cy="-3.0" rx="5.1" ry="2.85" transform="rotate(-21 4.9 -3.0)"/><rect x="8.7" y="-23.4" width="1.45" height="20.5"/><path d="M8.7,-23.6 C10.0,-20.8 13.6,-18.9 15.6,-15.7 C16.9,-13.5 16.5,-10.7 15.0,-8.6 C15.4,-10.8 15.0,-12.6 13.6,-14.2 C12.4,-15.5 11.0,-16.0 10.1,-17.0 L10.1,-23.6 Z"/></g>
<text class="th" x="305.6" y="732.4" font-size="27.5" text-anchor="middle" font-weight="normal" fill="#231f20" textLength="134.0" lengthAdjust="spacingAndGlyphs">Memorised</text>
<clipPath id="clip10"><rect x="60.0" y="755.4" width="520.3" height="410.7"/></clipPath>
<rect x="137.0" y="755.4" width="9.9" height="410.7" fill="#dcdcde"/>
<rect x="169.8" y="755.4" width="12.8" height="410.7" fill="#dcdcde"/>
<rect x="284.8" y="755.4" width="3.8" height="410.7" fill="#dcdcde"/>
<rect x="366.7" y="755.4" width="3.3" height="410.7" fill="#dcdcde"/>
<rect x="413.4" y="755.4" width="4.6" height="410.7" fill="#dcdcde"/>
<rect x="510.9" y="755.4" width="3.3" height="410.7" fill="#dcdcde"/>
<path d="M74.9,755.4V1166.1M89.7,755.4V1166.1M104.6,755.4V1166.1M119.5,755.4V1166.1M134.3,755.4V1166.1M149.2,755.4V1166.1M164.1,755.4V1166.1M178.9,755.4V1166.1M193.8,755.4V1166.1M208.7,755.4V1166.1M223.5,755.4V1166.1M238.4,755.4V1166.1M253.3,755.4V1166.1M268.1,755.4V1166.1M283.0,755.4V1166.1M297.9,755.4V1166.1M312.7,755.4V1166.1M327.6,755.4V1166.1M342.4,755.4V1166.1M357.3,755.4V1166.1M372.2,755.4V1166.1M387.0,755.4V1166.1M401.9,755.4V1166.1M416.8,755.4V1166.1M431.6,755.4V1166.1M446.5,755.4V1166.1M461.4,755.4V1166.1M476.2,755.4V1166.1M491.1,755.4V1166.1M506.0,755.4V1166.1M520.8,755.4V1166.1M535.7,755.4V1166.1M550.6,755.4V1166.1M565.4,755.4V1166.1M60.0,1151.4H580.3M60.0,1136.8H580.3M60.0,1122.1H580.3M60.0,1107.4H580.3M60.0,1092.8H580.3M60.0,1078.1H580.3M60.0,1063.4H580.3M60.0,1048.8H580.3M60.0,1034.1H580.3M60.0,1019.4H580.3M60.0,1004.8H580.3M60.0,990.1H580.3M60.0,975.4H580.3M60.0,960.8H580.3M60.0,946.1H580.3M60.0,931.4H580.3M60.0,916.7H580.3M60.0,902.1H580.3M60.0,887.4H580.3M60.0,872.7H580.3M60.0,858.1H580.3M60.0,843.4H580.3M60.0,828.7H580.3M60.0,814.1H580.3M60.0,799.4H580.3M60.0,784.7H580.3M60.0,770.1H580.3" stroke="#c6c6c6" stroke-width="1" stroke-dasharray="1.3 1.7" fill="none"/>
<g clip-path="url(#clip10)">
<path d="M60.0,869.5l2.5,-15.0l2.4,12.6l1.7,8.0l1.6,2.0l2.0,-7.3l2.1,-6.0l2.0,1.1l2.1,-0.8l1.6,-2.8l1.7,-3.0l2.4,-32.4l2.5,41.5l2.4,113.7l2.9,115.2l2.7,-115.5l2.1,-58.2l2.2,-55.7l2.0,-20.7l2.1,-20.1l1.6,5.0l1.6,6.3l1.7,12.7l1.6,16.1l2.5,9.5l2.4,6.9l2.1,-2.4l2.0,2.5l2.1,6.6l2.0,9.2l2.1,7.6l2.0,9.7l1.7,-9.3l1.6,-9.6l2.1,11.7l2.0,12.8l1.6,-6.4l1.7,-4.3l2.0,5.8l2.1,4.3l1.9,-21.7l1.9,-21.7l1.9,-23.3l1.7,20.3l1.6,15.0l2.0,31.9l2.1,31.2l2.0,-9.2l2.1,-2.2l2.4,-21.3l2.1,-23.1l2.0,-26.7l2.1,-7.1l2.0,-5.1l2.1,0.2l2.0,-2.4l1.7,6.3l1.6,3.1l2.5,5.0l2.4,5.1l2.5,3.3l2.4,3.9l2.5,7.5l2.5,2.1l1.6,1.8l1.6,-0.6l1.7,-11.3l1.6,-7.6l2.5,-12.8l2.4,-10.3l1.7,9.8l1.6,7.2l2.1,27.8l2.0,34.9l2.1,-8.5l2.0,-7.4l2.5,-14.0l2.4,-16.8l2.5,-7.8l2.4,-7.9l2.1,-2.7l2.0,-7.9l2.1,9.6l2.0,1.4l1.7,7.6l1.6,-0.2l2.5,-2.2l2.4,0.0l1.7,-4.9l1.6,-3.3l2.5,11.2l2.4,9.8l1.7,2.4l1.6,1.1l1.9,-16.3l1.9,-16.8l1.9,-20.0l2.1,21.0l2.0,24.5l2.5,18.7l2.5,21.7l2.4,-13.7l2.5,-10.3l1.6,-14.2l1.6,-13.2l1.7,-3.7l1.6,-5.4l2.5,2.7l2.4,2.2l2.5,3.3l2.5,7.9l2.4,-6.3l2.5,-0.9l2.4,1.9l2.5,6.9l2.4,3.6l2.5,4.6l2.5,2.6l2.4,7.0l1.9,-19.9l1.9,-20.4l2.0,-24.7l2.0,29.7l2.1,35.8l2.4,32.5l2.1,-14.9l2.0,-11.4l2.8,-8.8l1.6,-24.2l2.4,-9.4l2.5,-5.2l2.4,-12.5l2.1,5.2l2.0,3.5l1.7,9.2l1.6,6.3l1.6,3.1l1.7,4.4l2.4,2.6l2.5,2.9l1.6,3.0l1.7,4.8l2.4,3.6l2.5,7.4l2.5,-0.5l2.4,-2.8l2.5,-2.3l2.4,-2.1l1.7,4.1l1.6,2.9l1.6,11.9l1.7,10.1l1.6,-8.9l1.7,-5.5l1.6,-3.3l1.6,-4.6l2.5,-16.2l2.5,-8.4l1.6,-8.1l1.6,-5.0l1.7,-1.8l1.6,6.9l1.6,-7.1l1.7,-4.8l1.6,3.3l1.7,7.8l1.6,4.0l1.6,2.7l1.7,-7.0l1.6,1.2l1.7,-1.7l1.6,-1.7l1.6,3.6l1.7,10.5l1.6,-0.6l1.7,4.8l1.6,-4.7l1.6,-6.2l2.2,4.6l2.2,-4.4l2.2,-3.4l1.6,8.5l1.7,2.6l2.4,-9.3l2.5,1.7l1.6,2.6l1.7,6.5l2.4,-9.2l2.5,-9.2l2.4,1.8l2.5,-2.8l2.4,10.6l2.5,8.1l2.5,1.7l2.4,-5.1l2.5,-0.8l2.4,-1.3l1.7,5.8l1.6,-0.8l2.5,-1.7l2.4,3.2l2.5,0.9l2.4,2.5l2.5,-5.9l2.5,-5.1l2.4,-1.9l2.5,-3.2l2.4,6.8l2.5,6.5l2.5,-1.5l2.4,-0.3l2.5,-2.9l2.4,-1.7l2.5,-0.6l2.4,2.0l1.7,-6.8l1.6,-7.5l1.7,9.5l1.6,10.3l2.1,8.2l2.0,11.5l2.0,-14.3l2.1,-12.6l1.6,6.6l1.7,10.6l2.4,0.1l2.5,-3.0l1.9,4.4l1.9,2.7l1.9,4.3l2.1,-11.4l2.0,-11.9l2.5,3.0l2.4,4.3l2.5,-2.4l2.5,0.4l2.4,-4.9l2.5,-6.1l2.4,4.4l2.5,6.5l2.4,1.7l2.5,0.2l2.5,0.1l2.4,-4.1l1.7,-8.1l1.6,-4.4l2.5,3.6l2.4,0.6l2.5,8.2l2.4,2.5l1.7,0.0l1.6,-2.3l2.2,-2.1l2.2,-0.9l2.2,0.8l0.0,9.0l-2.2,2.1l-2.2,1.3l-2.2,-1.3l-1.6,1.4l-1.7,-0.2l-2.4,-4.5l-2.5,-0.7l-2.4,-1.3l-2.5,-4.7l-1.6,5.6l-1.7,5.7l-2.4,1.4l-2.5,1.1l-2.5,-3.5l-2.4,-1.1l-2.5,0.2l-2.4,-3.1l-2.5,3.5l-2.4,0.7l-2.5,3.0l-2.5,2.5l-2.4,-4.1l-2.5,-5.4l-2.0,13.0l-2.1,10.5l-1.9,-2.2l-1.9,-4.6l-1.9,-3.7l-2.5,0.6l-2.4,3.7l-1.7,-11.7l-1.6,-8.0l-2.1,14.1l-2.0,12.6l-2.0,-8.1l-2.1,-12.1l-1.6,-7.2l-1.7,-10.2l-1.6,8.4l-1.7,8.9l-2.4,-2.9l-2.5,-2.2l-2.4,2.1l-2.5,4.3l-2.4,-4.1l-2.5,2.1l-2.5,-6.5l-2.4,-3.6l-2.5,3.1l-2.4,0.7l-2.5,5.3l-2.5,7.1l-2.4,-5.9l-2.5,-2.6l-2.4,0.7l-2.5,3.4l-1.6,-1.9l-1.7,-1.7l-2.4,0.6l-2.5,-1.6l-2.4,3.3l-2.5,-1.8l-2.5,-5.3l-2.4,-9.1l-2.5,-2.1l-2.4,5.8l-2.5,8.3l-2.4,5.0l-1.7,-7.4l-1.6,-4.5l-2.5,7.0l-2.4,3.8l-1.7,-4.7l-1.6,-2.9l-2.2,-1.8l-2.2,4.6l-2.2,0.4l-1.6,2.9l-1.6,0.9l-1.7,-0.2l-1.6,1.0l-1.7,-7.6l-1.6,-10.0l-1.6,2.4l-1.7,0.3l-1.6,5.4l-1.7,-0.9l-1.6,0.4l-1.6,-6.5l-1.7,-2.9l-1.6,-3.3l-1.7,4.0l-1.6,2.3l-1.6,1.3l-1.7,-5.4l-1.6,5.9l-1.6,6.0l-2.5,14.6l-2.5,10.6l-1.6,6.5l-1.6,5.9l-1.7,5.4l-1.6,6.3l-1.7,-8.8l-1.6,-10.2l-1.6,-2.7l-1.7,-4.5l-2.4,-0.8l-2.5,6.6l-2.4,1.7l-2.5,0.7l-2.5,-7.3l-2.4,-6.2l-1.7,-2.6l-1.6,-1.9l-2.5,-5.6l-2.4,-0.4l-1.7,-3.8l-1.6,-6.9l-1.6,-4.5l-1.7,-8.4l-2.0,-6.0l-2.1,-4.7l-2.4,10.9l-2.5,7.1l-2.4,7.9l-1.6,27.2l-2.8,6.6l-2.0,13.0l-2.1,13.3l-2.4,-33.0l-2.1,-32.6l-2.0,-29.7l-2.0,19.2l-1.9,23.1l-1.9,23.4l-2.4,-8.3l-2.5,-3.6l-2.5,-3.8l-2.4,-4.0l-2.5,-8.9l-2.4,-3.8l-2.5,5.2l-2.4,2.9l-2.5,-2.7l-2.5,-5.1l-2.4,-1.8l-2.5,-3.5l-1.6,5.4l-1.7,5.4l-1.6,11.9l-1.6,15.0l-2.5,10.1l-2.4,9.2l-2.5,-18.8l-2.5,-21.9l-2.0,-19.3l-2.1,-21.7l-1.9,17.4l-1.9,18.5l-1.9,19.0l-1.6,-4.0l-1.7,2.0l-2.4,-9.9l-2.5,-13.3l-1.6,4.9l-1.7,2.8l-2.4,-0.1l-2.5,4.7l-1.6,-5.0l-1.7,-5.5l-2.0,-2.0l-2.1,-8.4l-2.0,5.6l-2.1,1.6l-2.4,9.0l-2.5,6.3l-2.4,18.1l-2.5,14.2l-2.0,7.3l-2.1,10.0l-2.0,-34.9l-2.1,-30.4l-1.6,-7.7l-1.7,-6.7l-2.4,13.4l-2.5,4.4l-1.6,14.1l-1.7,7.5l-1.6,3.2l-1.6,0.1l-2.5,-5.1l-2.5,-7.7l-2.4,-2.6l-2.5,-4.9l-2.4,-6.2l-2.5,-3.5l-1.6,-6.3l-1.7,-0.3l-2.0,-0.7l-2.1,4.5l-2.0,0.7l-2.1,7.1l-2.0,25.1l-2.1,28.6l-2.4,13.7l-2.1,7.9l-2.0,6.1l-2.1,-30.0l-2.0,-30.1l-1.6,-17.2l-1.7,-15.2l-1.9,20.6l-1.9,22.2l-1.9,20.5l-2.1,-5.6l-2.0,-5.4l-1.7,6.0l-1.6,5.1l-2.0,-13.1l-2.1,-12.4l-1.6,11.3l-1.7,6.6l-2.0,-7.0l-2.1,-10.1l-2.0,-5.4l-2.1,-9.9l-2.0,0.6l-2.1,-2.2l-2.4,-7.4l-2.5,-11.4l-1.6,-11.3l-1.7,-10.0l-1.6,-6.4l-1.6,-8.6l-2.1,20.9l-2.0,19.8l-2.2,58.7l-2.1,55.0l-2.7,119.7l-2.9,-117.1l-2.4,-117.8l-2.5,-34.3l-2.4,27.7l-1.7,3.1l-1.6,2.6l-2.1,0.5l-2.0,-2.8l-2.1,11.9l-2.0,5.8l-1.6,-7.7l-1.7,-3.4l-2.4,-13.8l-2.5,15.8z" fill="#9fd6e9" fill-opacity="0.75"/>
<path d="M60.0,875.8l1.6,-1.8l1.7,-3.2l1.6,-5.2l1.7,-8.6l1.6,9.4l1.6,5.4l2.5,-2.1l2.4,-6.7l1.7,0.5l1.6,1.6l2.1,-12.3l2.0,-13.9l2.5,22.7l2.8,119.8l2.5,87.7l2.9,-88.5l2.4,-66.4l2.5,-62.9l1.6,-6.6l1.7,-4.8l1.6,12.1l1.6,9.9l2.5,2.0l2.5,0.8l2.0,-10.7l2.1,-6.7l1.6,7.0l1.6,9.5l2.1,18.6l2.0,13.5l1.7,10.3l1.6,8.9l2.5,3.1l2.4,-1.9l2.5,12.6l2.4,9.1l2.5,16.6l2.5,14.5l2.4,-19.8l2.5,-16.7l2.0,-26.6l2.1,-21.9l2.0,33.3l2.1,30.4l2.4,7.2l2.1,-20.0l2.0,-19.5l2.1,-30.7l2.0,-29.3l2.1,-9.3l2.0,-12.0l2.5,-8.0l2.4,-2.9l1.7,6.5l1.6,0.9l2.5,-6.5l2.0,11.4l2.1,9.3l1.6,9.6l1.6,9.8l1.7,-0.5l1.6,4.4l1.7,5.2l1.6,5.2l2.5,15.5l2.4,16.2l1.7,-11.5l1.6,-14.6l1.6,-16.8l1.7,-20.6l1.6,12.5l1.7,8.4l1.6,23.0l1.6,25.3l2.5,-17.2l2.4,-16.5l2.5,-12.6l2.5,-13.8l2.0,-5.2l2.1,-9.9l2.0,2.5l2.1,4.2l2.0,5.0l2.1,4.1l2.4,3.3l1.7,-5.0l1.6,-2.5l1.6,5.8l1.7,6.9l1.6,12.7l1.6,13.8l2.1,9.7l2.0,4.4l2.5,11.5l1.9,-22.2l1.9,-23.4l1.9,-21.1l2.1,15.5l2.0,10.2l2.1,24.9l2.0,18.6l2.1,-10.4l2.0,-10.9l1.7,-14.7l1.6,-17.3l2.5,-7.1l2.4,-8.7l2.5,2.2l2.4,0.6l2.5,-4.0l2.5,-2.0l2.0,-1.8l2.1,-0.2l2.0,9.0l2.0,9.8l2.5,8.8l2.5,7.0l2.4,7.8l2.5,8.0l2.4,7.2l2.5,-20.2l2.5,-19.4l2.0,17.3l2.1,14.5l1.6,13.5l1.6,13.9l1.7,-22.4l1.6,-20.2l2.8,-22.1l2.4,-19.1l2.0,1.1l2.1,-1.0l1.6,2.5l1.6,1.6l1.7,-1.0l1.6,7.4l1.7,5.1l1.6,8.8l2.5,-1.5l2.4,-2.1l1.7,10.2l1.6,11.6l2.5,7.2l2.4,1.1l2.5,9.8l2.4,9.2l1.7,9.3l1.6,5.2l2.5,7.2l2.4,1.6l1.7,-3.7l1.6,-3.7l1.6,7.1l1.7,4.5l1.6,-9.8l1.7,-12.7l2.4,-12.4l2.5,-10.2l2.4,-11.0l2.5,-6.4l2.4,0.4l2.5,1.2l1.6,2.7l1.7,1.6l1.6,-3.3l1.7,-3.6l1.6,-7.9l1.6,-4.7l1.7,-1.1l1.6,1.8l2.5,-4.0l2.4,-6.6l2.5,-9.0l2.5,-1.4l1.6,2.9l1.6,4.7l1.7,1.3l1.6,1.7l2.5,-0.8l2.4,-1.6l2.5,-1.0l2.4,-1.1l1.7,6.1l1.6,6.6l2.5,-4.4l2.4,-4.9l2.5,1.7l2.4,8.9l2.5,0.7l2.5,1.2l2.4,0.7l2.5,-0.5l2.4,1.6l2.5,-3.7l2.5,6.9l2.4,-0.8l2.5,2.9l2.4,-1.1l2.5,1.7l2.4,0.9l2.5,1.9l2.5,1.0l2.4,-5.0l2.5,-3.6l2.4,7.3l2.5,0.6l2.5,0.7l2.4,-2.0l2.5,-0.9l2.4,1.0l2.5,1.6l2.4,1.1l2.5,-4.4l2.5,-2.4l1.6,-0.7l1.6,7.4l2.1,4.2l2.0,3.5l2.1,-12.5l2.0,-5.5l2.5,2.7l2.5,0.2l2.4,0.3l2.5,3.1l1.6,0.0l1.6,2.1l2.5,-2.8l2.5,-4.1l2.4,-2.9l2.5,-2.0l2.4,3.6l2.5,-3.0l2.5,5.6l2.4,-1.4l1.9,-2.0l1.9,-5.1l1.9,-4.5l2.1,11.2l2.0,10.7l2.5,0.4l2.5,1.4l2.4,-2.0l2.5,0.3l2.4,-2.0l2.5,-2.3l2.5,-1.9l2.4,-1.1l2.2,-0.2l2.2,1.4l2.2,-2.7l0.0,11.1l-2.2,0.2l-2.2,1.0l-2.2,-1.8l-2.4,1.7l-2.5,6.2l-2.5,-2.1l-2.4,2.7l-2.5,0.8l-2.4,-1.0l-2.5,0.3l-2.5,0.4l-2.0,-8.6l-2.1,-13.3l-1.9,6.9l-1.9,1.0l-1.9,3.2l-2.4,-1.6l-2.5,-2.0l-2.5,1.1l-2.4,0.2l-2.5,2.7l-2.4,-2.4l-2.5,5.3l-2.5,7.3l-1.6,-4.1l-1.6,-1.6l-2.5,-1.9l-2.4,-0.7l-2.5,-3.4l-2.5,2.2l-2.0,6.7l-2.1,9.3l-2.0,-7.2l-2.1,-5.4l-1.6,-1.0l-1.6,-1.4l-2.5,3.6l-2.5,4.4l-2.4,-0.8l-2.5,-3.1l-2.4,-1.5l-2.5,2.9l-2.4,-0.9l-2.5,0.6l-2.5,-5.0l-2.4,-0.5l-2.5,3.3l-2.4,5.3l-2.5,-4.3l-2.5,-0.2l-2.4,-1.5l-2.5,-2.2l-2.4,-0.4l-2.5,-0.6l-2.4,0.6l-2.5,-4.7l-2.5,2.4l-2.4,-0.9l-2.5,0.6l-2.4,-2.8l-2.5,-1.1l-2.5,0.8l-2.4,-6.4l-2.5,-7.2l-2.4,5.3l-2.5,7.9l-1.6,-7.2l-1.7,-9.8l-2.4,6.1l-2.5,-1.9l-2.4,1.0l-2.5,2.2l-1.6,0.2l-1.7,-2.7l-1.6,-6.8l-1.6,-4.7l-2.5,8.0l-2.5,3.3l-2.4,5.5l-2.5,8.8l-1.6,-4.4l-1.7,1.1l-1.6,6.9l-1.6,7.9l-1.7,1.9l-1.6,1.9l-1.7,-0.4l-1.6,-4.4l-2.5,-1.2l-2.4,1.9l-2.5,7.0l-2.4,6.0l-2.5,15.3l-2.4,13.5l-1.7,10.5l-1.6,11.4l-1.7,-9.6l-1.6,-1.1l-1.6,1.9l-1.7,0.6l-2.4,-4.0l-2.5,-0.1l-1.6,-10.4l-1.7,-4.1l-2.4,-6.8l-2.5,-11.6l-2.4,-7.6l-2.5,-4.0l-1.6,-8.7l-1.7,-10.2l-2.4,-0.6l-2.5,0.1l-1.6,-8.1l-1.7,-9.7l-1.6,0.9l-1.7,-4.2l-1.6,-1.2l-1.6,-0.7l-2.1,-1.0l-2.0,-0.1l-2.4,19.0l-2.8,23.9l-1.6,22.0l-1.7,16.0l-1.6,-9.9l-1.6,-12.8l-2.1,-17.3l-2.0,-16.0l-2.5,18.1l-2.5,22.8l-2.4,-9.7l-2.5,-6.2l-2.4,-2.8l-2.5,-11.2l-2.5,-10.6l-2.0,-6.8l-2.0,-11.8l-2.1,2.6l-2.0,3.1l-2.5,1.6l-2.5,2.2l-2.4,1.1l-2.5,-4.6l-2.4,9.9l-2.5,6.8l-1.6,14.7l-1.7,14.9l-2.0,10.2l-2.1,12.7l-2.0,-22.8l-2.1,-18.9l-2.0,-11.5l-2.1,-11.3l-1.9,17.0l-1.9,20.4l-1.9,21.8l-2.5,-4.0l-2.0,-11.0l-2.1,-6.5l-1.6,-15.5l-1.6,-10.8l-1.7,-10.3l-1.6,-6.2l-1.6,2.6l-1.7,5.5l-2.4,2.6l-2.1,-8.6l-2.0,-3.4l-2.1,-7.4l-2.0,1.3l-2.1,2.1l-2.0,11.3l-2.5,14.0l-2.5,13.6l-2.4,16.7l-2.5,15.2l-1.6,-24.6l-1.6,-24.1l-1.7,-8.3l-1.6,-10.3l-1.7,18.8l-1.6,15.2l-1.6,14.8l-1.7,12.4l-2.4,-14.8l-2.5,-13.6l-1.6,-7.4l-1.7,-5.5l-1.6,-4.8l-1.7,-1.4l-1.6,-7.9l-1.6,-8.8l-2.1,-7.4l-2.0,-13.9l-2.5,4.6l-1.6,-2.3l-1.7,-2.5l-2.4,4.3l-2.5,5.7l-2.0,12.9l-2.1,8.8l-2.0,27.8l-2.1,29.1l-2.0,20.3l-2.1,23.9l-2.4,-10.6l-2.1,-27.7l-2.0,-33.7l-2.1,24.6l-2.0,20.8l-2.5,19.8l-2.4,19.4l-2.5,-17.2l-2.5,-12.2l-2.4,-10.3l-2.5,-12.5l-2.4,-1.2l-2.5,-1.7l-1.6,-9.6l-1.7,-8.1l-2.0,-16.2l-2.1,-15.1l-1.6,-8.9l-1.6,-6.8l-2.1,6.9l-2.0,5.6l-2.5,0.7l-2.5,-1.2l-1.6,-10.4l-1.6,-11.8l-1.7,8.0l-1.6,4.7l-2.5,64.4l-2.4,62.3l-2.9,90.7l-2.5,-90.3l-2.8,-113.8l-2.5,-26.6l-2.0,11.6l-2.1,16.8l-1.6,-2.1l-1.7,-4.9l-2.4,9.7l-2.5,-0.7l-1.6,-5.3l-1.6,-5.2l-1.7,5.8l-1.6,7.2l-1.7,4.9l-1.6,-1.2z" fill="#f2bcb0" fill-opacity="0.75"/>
<path d="M60.0,879.5l1.6,-2.0l1.7,-1.5l1.6,-7.3l1.7,-5.5l1.6,5.6l1.6,7.5l2.5,-6.7l2.4,2.1l1.7,-0.9l1.6,0.6l2.1,-13.0l2.0,-14.9l2.5,29.5l2.8,112.8l2.5,89.3l2.9,-89.5l2.4,-64.8l2.5,-67.8l1.6,-3.7l1.7,-5.8l1.6,13.1l1.6,7.4l2.5,1.6l2.5,7.7l2.0,-10.8l2.1,-7.5l1.6,6.1l1.6,10.0l2.1,13.2l2.0,18.1l1.7,11.5l1.6,5.9l2.5,0.2l2.4,4.8l2.5,11.5l2.4,7.2l2.5,14.5l2.5,15.0l2.4,-18.9l2.5,-18.1l2.0,-21.7l2.1,-23.3l2.0,31.0l2.1,27.6l2.4,10.3l2.1,-20.3l2.0,-21.4l2.1,-28.8l2.0,-29.8l2.1,-9.9l2.0,-13.0l2.5,-4.7l2.4,-3.3l1.7,2.9l1.6,4.9l2.5,-5.6l2.0,10.2l2.1,10.1l1.6,6.7l1.6,7.5l1.7,4.8l1.6,1.8l1.7,7.2l1.6,4.8l2.5,15.6l2.4,16.0l1.7,-12.7l1.6,-14.2l1.6,-15.5l1.7,-19.9l1.6,13.4l1.7,7.7l1.6,23.0l1.6,21.5l2.5,-17.7l2.4,-11.1l2.5,-13.4l2.5,-15.0l2.0,-7.6l2.1,-9.0l2.0,4.2l2.1,4.5l2.0,3.5l2.1,7.9l2.4,-1.4l1.7,-2.6l1.6,-4.6l1.6,6.8l1.7,6.7l1.6,7.2l1.6,18.2l2.1,12.5l2.0,9.0l2.5,3.0l1.9,-26.1l1.9,-15.3l1.9,-20.4l2.1,11.1l2.0,10.8l2.1,23.8l2.0,21.5l2.1,-12.8l2.0,-9.1l1.7,-13.6l1.6,-16.3l2.5,-7.6l2.4,-7.2l2.5,-2.0l2.4,2.5l2.5,-2.1l2.5,-1.3l2.0,-2.4l2.1,-4.5l2.0,12.2l2.0,8.6l2.5,7.8l2.5,8.8l2.4,8.2l2.5,4.5l2.4,8.3l2.5,-20.6l2.5,-20.4l2.0,19.1l2.1,16.2l1.6,12.5l1.6,12.9l1.7,-18.4l1.6,-21.1l2.8,-29.0l2.4,-14.2l2.0,-2.4l2.1,5.3l1.6,-3.9l1.6,2.0l1.7,4.4l1.6,2.7l1.7,8.0l1.6,4.3l2.5,1.0l2.4,0.1l1.7,11.2l1.6,10.5l2.5,4.1l2.4,6.6l2.5,8.6l2.4,8.0l1.7,5.8l1.6,8.6l2.5,3.8l2.4,2.4l1.7,-1.1l1.6,-5.7l1.6,7.9l1.7,3.6l1.6,-11.9l1.7,-9.1l2.4,-12.9l2.5,-13.2l2.4,-3.4l2.5,-9.7l2.4,-1.5l2.5,6.2l1.6,-0.8l1.7,2.6l1.6,-4.1l1.7,-3.9l1.6,-6.8l1.6,-6.2l1.7,-2.8l1.6,3.7l2.5,-4.8l2.4,-6.7l2.5,-4.7l2.5,-6.7l1.6,4.6l1.6,5.9l1.7,2.2l1.6,1.4l2.5,-4.2l2.4,-1.3l2.5,-1.0l2.4,-2.8l1.7,8.5l1.6,6.4l2.5,-4.4l2.4,-5.5l2.5,4.7l2.4,7.6l2.5,0.1l2.5,1.6l2.4,-0.7l2.5,4.7l2.4,-2.3l2.5,-3.4l2.5,3.5l2.4,2.5l2.5,2.7l2.4,-3.9l2.5,2.9l2.4,5.6l2.5,-2.8l2.5,2.0l2.4,-4.5l2.5,-2.2l2.4,4.0l2.5,7.0l2.5,-1.6l2.4,-2.2l2.5,-1.4l2.4,2.0l2.5,-5.8l2.4,7.8l2.5,-3.3l2.5,-6.4l1.6,-0.6l1.6,5.9l2.1,7.7l2.0,1.6l2.1,-4.8l2.0,-11.3l2.5,0.0l2.5,2.6l2.4,0.0l2.5,3.4l1.6,2.3l1.6,3.7l2.5,-6.5l2.5,-3.2l2.4,-3.5l2.5,-1.7l2.4,1.6l2.5,-1.2l2.5,1.5l2.4,-1.7l1.9,-2.3l1.9,-1.5l1.9,-3.6l2.1,10.4l2.0,9.2l2.5,2.2l2.5,1.3l2.4,-3.1l2.5,2.2l2.4,-3.4l2.5,-2.1l2.5,-1.7l2.4,-1.2l2.2,2.5l2.2,-2.4l2.2,-0.8" stroke="#ee2a24" stroke-width="2.3" fill="none" stroke-linejoin="round"/>
<path d="M60.0,874.6l2.5,-14.7l2.4,11.9l1.7,8.7l1.6,4.0l2.0,-8.2l2.1,-9.7l2.0,-1.0l2.1,5.2l1.6,-4.5l1.7,-3.4l2.4,-32.5l2.5,35.6l2.4,120.7l2.9,114.9l2.7,-113.6l2.1,-59.3l2.2,-56.2l2.0,-21.0l2.1,-21.1l1.6,5.9l1.6,8.7l1.7,10.2l1.6,15.0l2.5,7.3l2.4,9.0l2.1,-0.1l2.0,-1.7l2.1,10.7l2.0,8.5l2.1,3.6l2.0,11.4l1.7,-10.1l1.6,-7.9l2.1,15.2l2.0,11.0l1.6,-2.4l1.7,-9.1l2.0,7.1l2.1,4.4l1.9,-23.3l1.9,-18.9l1.9,-23.4l1.7,17.4l1.6,13.5l2.0,30.0l2.1,34.2l2.0,-5.1l2.1,-8.5l2.4,-15.7l2.1,-25.9l2.0,-30.4l2.1,0.9l2.0,-7.2l2.1,-0.1l2.0,-4.7l1.7,6.9l1.6,4.6l2.5,3.2l2.4,3.2l2.5,7.4l2.4,-0.4l2.5,10.8l2.5,6.3l1.6,-1.6l1.6,-3.3l1.7,-6.3l1.6,-14.3l2.5,-6.9l2.4,-12.9l1.7,9.4l1.6,6.9l2.1,33.1l2.0,29.3l2.1,-10.0l2.0,-6.6l2.5,-13.6l2.4,-13.9l2.5,-14.4l2.4,-5.2l2.1,1.0l2.0,-8.2l2.1,4.5l2.0,5.2l1.7,7.3l1.6,3.4l2.5,0.2l2.4,-8.2l1.7,-0.9l1.6,-2.9l2.5,14.1l2.4,5.7l1.7,3.1l1.6,5.3l1.9,-21.6l1.9,-20.4l1.9,-17.3l2.1,20.6l2.0,21.8l2.5,21.1l2.5,20.0l2.4,-9.4l2.5,-14.2l1.6,-12.8l1.6,-12.7l1.7,-5.3l1.6,-2.9l2.5,2.2l2.4,4.4l2.5,0.8l2.5,5.7l2.4,-3.2l2.5,-5.0l2.4,8.5l2.5,1.7l2.4,4.3l2.5,5.6l2.5,5.1l2.4,5.9l1.9,-22.7l1.9,-22.2l2.0,-22.3l2.0,30.3l2.1,33.1l2.4,35.0l2.1,-16.1l2.0,-12.4l2.8,-7.0l1.6,-22.0l2.4,-6.9l2.5,-11.3l2.4,-9.5l2.1,4.5l2.0,5.6l1.7,8.0l1.6,5.8l1.6,4.0l1.7,6.3l2.4,0.7l2.5,1.1l1.6,4.1l1.7,4.8l2.4,4.7l2.5,6.6l2.5,-0.9l2.4,-2.8l2.5,-4.0l2.4,-0.4l1.7,4.2l1.6,4.2l1.6,9.4l1.7,11.1l1.6,-7.6l1.7,-8.4l1.6,-5.7l1.6,-2.1l2.5,-11.5l2.5,-15.0l1.6,-3.1l1.6,-5.3l1.7,-1.4l1.6,2.9l1.6,-5.8l1.7,-2.6l1.6,4.4l1.7,0.6l1.6,9.1l1.6,-0.3l1.7,-1.9l1.6,-0.4l1.7,-2.9l1.6,-3.2l1.6,7.7l1.7,7.6l1.6,0.6l1.7,5.7l1.6,-7.8l1.6,-1.8l2.2,-0.4l2.2,-2.8l2.2,1.7l1.6,4.6l1.7,2.5l2.4,-6.4l2.5,-5.1l1.6,6.9l1.7,4.6l2.4,-7.9l2.5,-6.5l2.4,1.0l2.5,1.5l2.4,3.0l2.5,7.1l2.5,1.6l2.4,-1.2l2.5,-3.1l2.4,-1.7l1.7,4.0l1.6,1.8l2.5,0.2l2.4,-3.5l2.5,5.0l2.4,3.6l2.5,-5.7l2.5,-1.3l2.4,-6.0l2.5,-3.4l2.4,5.1l2.5,7.6l2.5,-1.9l2.4,0.6l2.5,-2.3l2.4,-2.1l2.5,0.7l2.4,0.0l1.7,-8.7l1.6,-3.9l1.7,8.4l1.6,9.2l2.1,9.5l2.0,10.6l2.0,-13.2l2.1,-13.1l1.6,6.5l1.7,8.3l2.4,1.7l2.5,-1.9l1.9,6.2l1.9,0.3l1.9,5.2l2.1,-12.6l2.0,-13.7l2.5,5.0l2.4,6.0l2.5,-3.8l2.5,-2.4l2.4,-0.3l2.5,-4.5l2.4,4.3l2.5,2.9l2.4,2.7l2.5,1.9l2.5,-4.9l2.4,-2.6l1.7,-6.0l1.6,-4.8l2.5,4.7l2.4,4.6l2.5,0.2l2.4,2.1l1.7,1.2l1.6,-3.7l2.2,2.2l2.2,-0.7l2.2,0.9" stroke="#2250a8" stroke-width="2.3" fill="none" stroke-linejoin="round"/>
</g>
<rect x="60.0" y="755.4" width="520.3" height="410.7" fill="none" stroke="#4a4a4a" stroke-width="1.4"/>
<path d="M74.9,755.4v5.5M74.9,1166.1v-5.5M149.2,755.4v5.5M149.2,1166.1v-5.5M223.5,755.4v5.5M223.5,1166.1v-5.5M297.9,755.4v5.5M297.9,1166.1v-5.5M372.2,755.4v5.5M372.2,1166.1v-5.5M446.5,755.4v5.5M446.5,1166.1v-5.5M520.8,755.4v5.5M520.8,1166.1v-5.5M60.0,1166.1h5.5M580.3,1166.1h-5.5M60.0,1107.4h5.5M580.3,1107.4h-5.5M60.0,1048.8h5.5M580.3,1048.8h-5.5M60.0,990.1h5.5M580.3,990.1h-5.5M60.0,931.4h5.5M580.3,931.4h-5.5M60.0,872.7h5.5M580.3,872.7h-5.5M60.0,814.1h5.5M580.3,814.1h-5.5M60.0,755.4h5.5M580.3,755.4h-5.5" stroke="#4a4a4a" stroke-width="1.4" fill="none"/>
<text x="74.6" y="1183.7" font-size="17" text-anchor="middle" font-weight="normal" fill="#333">0</text>
<text x="147.0" y="1183.7" font-size="17" text-anchor="middle" font-weight="normal" fill="#333">0.5</text>
<text x="223.2" y="1183.7" font-size="17" text-anchor="middle" font-weight="normal" fill="#333">1</text>
<text x="295.7" y="1183.7" font-size="17" text-anchor="middle" font-weight="normal" fill="#333">1.5</text>
<text x="371.9" y="1183.7" font-size="17" text-anchor="middle" font-weight="normal" fill="#333">2</text>
<text x="444.3" y="1183.7" font-size="17" text-anchor="middle" font-weight="normal" fill="#333">2.5</text>
<text x="520.5" y="1183.7" font-size="17" text-anchor="middle" font-weight="normal" fill="#333">3</text>
<text x="52.4" y="1169.7" font-size="17" text-anchor="end" font-weight="normal" fill="#333">-100</text>
<text x="52.4" y="1111.0" font-size="17" text-anchor="end" font-weight="normal" fill="#333">-80</text>
<text x="52.4" y="1052.4" font-size="17" text-anchor="end" font-weight="normal" fill="#333">-60</text>
<text x="52.4" y="993.7" font-size="17" text-anchor="end" font-weight="normal" fill="#333">-40</text>
<text x="52.4" y="935.0" font-size="17" text-anchor="end" font-weight="normal" fill="#333">-20</text>
<text x="52.4" y="876.3" font-size="17" text-anchor="end" font-weight="normal" fill="#333">0</text>
<text x="52.4" y="817.7" font-size="17" text-anchor="end" font-weight="normal" fill="#333">20</text>
<text x="52.4" y="759.0" font-size="17" text-anchor="end" font-weight="normal" fill="#333">40</text>
<text class="th" x="312.3" y="1207.5" font-size="18.8" text-anchor="middle" font-weight="normal" fill="#231f20" textLength="67.6" lengthAdjust="spacingAndGlyphs">Time (s)</text>
<text class="th" x="0" y="0" font-size="19.5" text-anchor="middle" fill="#231f20" textLength="168.4" lengthAdjust="spacingAndGlyphs" transform="translate(15.9,980.1) rotate(-90)">Neural activity index</text>
<rect x="476.5" y="769.9" width="89.6" height="54.3" fill="#fff" stroke="#6a6a6a" stroke-width="1.3"/>
<rect x="483.9" y="779.5" width="20.4" height="12.4" fill="#f3c7bd"/>
<rect x="483.9" y="784.9" width="20.4" height="1.8" fill="#ec1c24"/>
<rect x="483.9" y="802.3" width="20.4" height="12.6" fill="#a9dcea"/>
<rect x="483.9" y="807.5" width="20.4" height="1.8" fill="#2a48a0"/>
<text x="514.9" y="789.2" font-size="16.6" text-anchor="start" font-weight="normal" fill="#231f20" textLength="43.4" lengthAdjust="spacingAndGlyphs">Young</text>
<text x="514.9" y="812.2" font-size="16.6" text-anchor="start" font-weight="normal" fill="#231f20" textLength="37.5" lengthAdjust="spacingAndGlyphs">Older</text>
<rect x="410.4" y="1041.3" width="155.1" height="110.5" fill="#fff" stroke="#6a6a6a" stroke-width="1.2"/>
<g transform="translate(410.4,1041.3)"><use href="#brainbase"/><path d="M125.9,18.3C124.7,17.4 122.4,19.5 120.8,19.8C119.2,20.1 118.0,20.5 116.3,20.3C114.6,20.1 112.4,18.9 110.8,18.6C109.2,18.3 107.2,17.4 106.6,18.3C106.0,19.2 106.5,22.3 107.1,24.1C107.8,25.9 110.6,27.8 110.5,28.9C110.4,30.0 108.5,29.9 106.6,30.9C104.7,31.9 100.4,33.1 98.9,34.7C97.5,36.3 98.4,39.4 97.9,40.5C97.4,41.6 95.2,40.7 96.0,41.5C96.8,42.3 100.2,44.3 102.8,45.3C105.4,46.3 108.9,46.5 111.5,47.3C114.1,48.1 116.0,49.7 118.2,50.2C120.5,50.7 123.2,50.5 125.0,50.2C126.9,49.9 128.7,49.5 129.3,48.2C129.9,46.9 128.8,44.2 128.8,42.4C128.8,40.6 129.5,39.4 129.3,37.6C129.2,35.8 128.1,33.9 127.9,31.8C127.7,29.7 128.2,27.4 127.9,25.1C127.6,22.9 127.1,19.2 125.9,18.3Z" fill="#f0262a" fill-opacity="0.93"/><path d="M127.8,93.5C126.5,93.6 121.8,95.0 118.8,96.0C115.8,97.0 112.1,98.6 109.8,99.5C107.5,100.4 106.1,101.4 104.8,101.5C103.5,101.6 102.5,99.8 101.8,100.0C101.1,100.2 100.5,101.8 100.8,102.5C101.1,103.2 102.3,104.0 103.8,104.0C105.3,104.0 107.3,103.3 109.8,102.5C112.3,101.7 116.0,100.2 118.8,99.0C121.6,97.8 125.3,96.4 126.8,95.5C128.3,94.6 129.1,93.4 127.8,93.5Z" fill="#f0262a" fill-opacity="0.93"/><path d="M127.8,41.0C126.0,40.4 120.6,38.7 116.8,37.5C113.0,36.3 108.0,34.8 104.8,34.0C101.6,33.2 99.0,33.2 97.8,33.0" fill="none" stroke="#7a1a1a" stroke-width="0.9" stroke-opacity="0.55"/><path d="M125.8,47.0C124.0,46.3 118.8,44.2 114.8,43.0C110.8,41.8 104.0,40.1 101.8,39.5" fill="none" stroke="#7a1a1a" stroke-width="0.9" stroke-opacity="0.55"/><path d="M123.8,30.0C122.5,29.6 118.3,28.3 115.8,27.5C113.3,26.7 110.0,25.4 108.8,25.0" fill="none" stroke="#7a1a1a" stroke-width="0.9" stroke-opacity="0.55"/><circle cx="110.30000000000001" cy="28.5" r="1.3" fill="#b9c4c4"/><circle cx="126.30000000000001" cy="48.5" r="1.3" fill="#b9c4c4"/><circle cx="121.80000000000001" cy="49.5" r="1.3" fill="#b9c4c4"/></g>
<g fill="#231f20" transform="translate(68.0,1246.6)"><ellipse cx="4.9" cy="-3.0" rx="5.1" ry="2.85" transform="rotate(-21 4.9 -3.0)"/><rect x="8.7" y="-23.4" width="1.45" height="20.5"/><path d="M8.7,-23.6 C10.0,-20.8 13.6,-18.9 15.6,-15.7 C16.9,-13.5 16.5,-10.7 15.0,-8.6 C15.4,-10.8 15.0,-12.6 13.6,-14.2 C12.4,-15.5 11.0,-16.0 10.1,-17.0 L10.1,-23.6 Z"/></g>
<g fill="#231f20" transform="translate(125.0,1246.6)"><ellipse cx="4.9" cy="-3.0" rx="5.1" ry="2.85" transform="rotate(-21 4.9 -3.0)"/><rect x="8.7" y="-23.4" width="1.45" height="20.5"/><path d="M8.7,-23.6 C10.0,-20.8 13.6,-18.9 15.6,-15.7 C16.9,-13.5 16.5,-10.7 15.0,-8.6 C15.4,-10.8 15.0,-12.6 13.6,-14.2 C12.4,-15.5 11.0,-16.0 10.1,-17.0 L10.1,-23.6 Z"/></g>
<g fill="#231f20" transform="translate(176.7,1246.6)"><ellipse cx="4.9" cy="-3.0" rx="5.1" ry="2.85" transform="rotate(-21 4.9 -3.0)"/><rect x="8.7" y="-23.4" width="1.45" height="20.5"/><path d="M8.7,-23.6 C10.0,-20.8 13.6,-18.9 15.6,-15.7 C16.9,-13.5 16.5,-10.7 15.0,-8.6 C15.4,-10.8 15.0,-12.6 13.6,-14.2 C12.4,-15.5 11.0,-16.0 10.1,-17.0 L10.1,-23.6 Z"/></g>
<g fill="#231f20" transform="translate(231.4,1246.6)"><ellipse cx="4.9" cy="-3.0" rx="5.1" ry="2.85" transform="rotate(-21 4.9 -3.0)"/><rect x="8.7" y="-23.4" width="1.45" height="20.5"/><path d="M8.7,-23.6 C10.0,-20.8 13.6,-18.9 15.6,-15.7 C16.9,-13.5 16.5,-10.7 15.0,-8.6 C15.4,-10.8 15.0,-12.6 13.6,-14.2 C12.4,-15.5 11.0,-16.0 10.1,-17.0 L10.1,-23.6 Z"/></g>
<g fill="#231f20" transform="translate(284.7,1246.6)"><ellipse cx="4.9" cy="-3.0" rx="5.1" ry="2.85" transform="rotate(-21 4.9 -3.0)"/><rect x="8.7" y="-23.4" width="1.45" height="20.5"/><path d="M8.7,-23.6 C10.0,-20.8 13.6,-18.9 15.6,-15.7 C16.9,-13.5 16.5,-10.7 15.0,-8.6 C15.4,-10.8 15.0,-12.6 13.6,-14.2 C12.4,-15.5 11.0,-16.0 10.1,-17.0 L10.1,-23.6 Z"/></g>
<text class="th" x="922.3" y="732.4" font-size="27.5" text-anchor="middle" font-weight="normal" fill="#231f20" textLength="101.8" lengthAdjust="spacingAndGlyphs">Novel T1</text>
<clipPath id="clip11"><rect x="666.5" y="755.4" width="520.3" height="410.7"/></clipPath>
<rect x="746.3" y="755.4" width="6.6" height="410.7" fill="#dcdcde"/>
<rect x="823.3" y="755.4" width="4.6" height="410.7" fill="#dcdcde"/>
<rect x="932.2" y="755.4" width="5.6" height="410.7" fill="#dcdcde"/>
<path d="M681.4,755.4V1166.1M696.2,755.4V1166.1M711.1,755.4V1166.1M726.0,755.4V1166.1M740.8,755.4V1166.1M755.7,755.4V1166.1M770.6,755.4V1166.1M785.4,755.4V1166.1M800.3,755.4V1166.1M815.2,755.4V1166.1M830.0,755.4V1166.1M844.9,755.4V1166.1M859.8,755.4V1166.1M874.6,755.4V1166.1M889.5,755.4V1166.1M904.4,755.4V1166.1M919.2,755.4V1166.1M934.1,755.4V1166.1M948.9,755.4V1166.1M963.8,755.4V1166.1M978.7,755.4V1166.1M993.5,755.4V1166.1M1008.4,755.4V1166.1M1023.3,755.4V1166.1M1038.1,755.4V1166.1M1053.0,755.4V1166.1M1067.9,755.4V1166.1M1082.7,755.4V1166.1M1097.6,755.4V1166.1M1112.5,755.4V1166.1M1127.3,755.4V1166.1M1142.2,755.4V1166.1M1157.1,755.4V1166.1M1171.9,755.4V1166.1M666.5,1151.4H1186.8M666.5,1136.8H1186.8M666.5,1122.1H1186.8M666.5,1107.4H1186.8M666.5,1092.8H1186.8M666.5,1078.1H1186.8M666.5,1063.4H1186.8M666.5,1048.8H1186.8M666.5,1034.1H1186.8M666.5,1019.4H1186.8M666.5,1004.8H1186.8M666.5,990.1H1186.8M666.5,975.4H1186.8M666.5,960.8H1186.8M666.5,946.1H1186.8M666.5,931.4H1186.8M666.5,916.7H1186.8M666.5,902.1H1186.8M666.5,887.4H1186.8M666.5,872.7H1186.8M666.5,858.1H1186.8M666.5,843.4H1186.8M666.5,828.7H1186.8M666.5,814.1H1186.8M666.5,799.4H1186.8M666.5,784.7H1186.8M666.5,770.1H1186.8" stroke="#c6c6c6" stroke-width="1" stroke-dasharray="1.3 1.7" fill="none"/>
<g clip-path="url(#clip11)">
<path d="M666.0,877.1l2.0,-11.6l2.1,-6.9l2.0,4.4l2.1,9.7l1.6,-12.6l1.7,-9.3l1.6,15.1l1.6,14.0l1.7,-6.3l1.6,-7.7l2.5,6.9l1.6,-20.8l1.7,-15.9l2.4,42.8l2.0,99.2l2.3,110.9l2.6,-108.0l1.9,-50.1l1.9,-52.5l2.0,-19.7l2.1,-25.7l1.6,-1.5l1.6,5.2l1.7,12.3l1.6,13.9l1.7,4.3l1.6,7.8l1.6,-3.0l1.7,-4.5l1.6,10.0l1.7,9.2l2.0,5.2l2.1,5.5l2.0,4.1l2.1,3.7l2.4,-3.8l2.5,-9.1l1.6,10.9l1.6,8.5l1.7,3.7l1.6,7.3l1.7,-10.9l1.6,-5.0l1.6,-4.5l1.7,-6.8l1.6,-15.2l1.7,-19.8l2.4,18.8l2.5,49.1l2.4,32.7l2.1,-17.7l2.0,-15.2l2.5,-22.0l2.4,-22.2l2.5,-5.6l2.5,-8.4l1.6,-8.6l1.6,-10.2l1.7,8.4l1.6,10.0l1.7,6.9l1.6,11.8l2.5,0.2l2.4,-1.6l2.5,-4.3l2.4,-4.9l1.7,7.5l1.6,10.6l1.6,-0.1l1.7,-2.1l1.6,-14.4l1.7,-12.5l2.0,-16.8l2.1,-16.5l1.6,16.3l1.6,16.2l1.7,22.9l1.6,23.0l1.7,1.7l1.6,9.8l1.6,-9.6l1.7,-6.0l2.0,-24.1l2.1,-24.0l1.6,-4.8l1.6,-2.7l1.7,1.8l1.6,8.4l1.7,1.8l1.6,4.0l2.0,8.2l2.1,10.2l2.0,-13.6l2.1,-18.8l1.6,11.7l1.7,9.3l1.6,11.2l1.6,8.3l2.1,-5.7l2.0,-2.9l2.1,-4.0l2.0,1.2l2.1,-27.4l2.0,-23.1l1.7,15.0l1.6,19.2l1.7,23.8l1.6,21.9l1.6,10.9l1.7,6.9l1.6,-13.6l1.6,-12.5l2.1,-14.9l2.0,-14.6l1.7,-3.1l1.6,-4.2l1.7,-4.2l1.6,-10.5l1.6,10.0l1.7,11.6l1.6,1.9l1.7,0.9l1.6,-2.1l1.6,-0.4l2.5,7.2l2.4,5.8l2.5,5.4l2.5,4.3l1.6,-7.6l1.6,-4.6l2.1,5.0l2.0,3.4l2.2,-19.8l2.2,-20.8l2.2,-15.0l1.6,29.5l1.7,23.2l2.0,16.9l2.1,12.4l2.1,-12.1l2.2,-7.9l1.7,-10.5l1.6,-6.8l1.6,-7.0l1.7,-3.5l2.4,-4.5l2.5,3.1l1.6,-8.1l1.7,-4.5l1.6,6.2l1.6,14.0l2.5,5.5l2.5,9.0l2.4,-0.1l2.5,-6.2l2.4,1.1l2.5,1.0l1.6,3.5l1.7,5.3l1.6,-0.5l1.6,-3.3l2.5,-10.4l2.5,-5.4l1.6,5.3l1.6,2.3l2.1,2.6l2.0,2.0l2.1,-10.1l2.0,-14.0l2.1,-9.8l2.0,-13.0l2.1,0.4l2.0,-2.5l1.7,3.7l1.6,5.0l2.1,-12.8l2.0,-13.2l2.1,6.2l2.0,5.4l1.6,0.9l1.7,5.4l1.6,0.9l1.7,0.4l1.6,2.6l1.6,5.8l2.5,-2.6l2.5,-4.7l1.6,7.1l1.6,8.2l2.5,-6.6l2.4,-2.1l2.5,10.2l2.5,5.5l2.4,2.8l2.5,0.9l1.6,-3.5l1.7,3.7l2.4,-1.7l2.5,-6.7l2.4,0.8l2.5,4.4l2.4,-1.0l2.5,2.9l1.6,4.5l1.7,4.7l1.6,4.4l1.7,3.9l1.6,-2.7l1.6,-1.5l1.7,-9.7l1.6,-7.4l1.7,5.5l1.6,3.4l1.6,11.2l1.7,8.8l2.4,-12.7l2.5,-11.0l2.4,6.1l2.5,8.0l1.6,-5.7l1.7,-7.7l1.6,-5.6l1.7,-1.7l2.4,7.8l2.5,6.8l2.4,-7.9l2.5,-3.3l1.6,0.4l1.7,-3.7l2.4,4.2l2.5,12.6l2.4,-6.5l2.5,-7.0l2.5,8.8l2.4,2.3l1.7,3.7l1.6,10.8l2.5,-11.4l2.4,-7.9l2.5,10.7l2.4,5.4l2.5,-0.8l2.4,-0.8l2.5,-7.4l2.5,-3.5l1.6,3.6l1.6,4.4l2.5,6.9l2.5,4.7l2.4,-14.7l2.5,-7.3l2.4,-3.3l2.5,-3.9l2.4,7.1l2.5,10.1l2.5,-2.6l2.4,-3.7l2.5,1.0l2.4,-6.9l2.5,-0.6l2.5,-2.0l2.4,4.6l2.5,-1.4l2.2,3.5l2.1,-5.4l2.2,5.2l0.0,11.3l-2.2,-3.9l-2.1,-1.4l-2.2,1.4l-2.5,-1.1l-2.4,-2.1l-2.5,2.8l-2.5,1.4l-2.4,1.9l-2.5,1.7l-2.4,3.0l-2.5,3.8l-2.5,-8.4l-2.4,-5.6l-2.5,0.5l-2.4,2.4l-2.5,8.3l-2.4,9.3l-2.5,-2.1l-2.5,-5.1l-1.6,-5.3l-1.6,-3.9l-2.5,4.5l-2.5,8.4l-2.4,0.7l-2.5,0.9l-2.4,-8.7l-2.5,-8.6l-2.4,11.3l-2.5,6.4l-1.6,-4.2l-1.7,-6.3l-2.4,-5.4l-2.5,-8.5l-2.5,6.6l-2.4,7.3l-2.5,-6.6l-2.4,-9.6l-1.7,3.3l-1.6,0.8l-2.5,2.8l-2.4,5.0l-2.5,-1.1l-2.4,-9.0l-1.7,3.3l-1.6,2.1l-1.7,4.2l-1.6,12.1l-2.5,-7.5l-2.4,-8.3l-2.5,7.5l-2.4,12.3l-1.7,-6.7l-1.6,-7.8l-1.6,-8.0l-1.7,-4.9l-1.6,13.0l-1.7,4.2l-1.6,5.2l-1.6,-1.4l-1.7,-3.3l-1.6,-3.4l-1.7,-5.9l-1.6,-5.5l-2.5,-0.9l-2.4,-1.5l-2.5,-1.9l-2.4,-1.7l-2.5,5.8l-2.4,4.1l-1.7,-1.3l-1.6,-3.7l-2.5,1.0l-2.4,1.4l-2.5,-6.9l-2.5,-8.4l-2.4,-0.3l-2.5,6.3l-1.6,-7.8l-1.6,-8.8l-2.5,5.0l-2.5,5.7l-1.6,-5.3l-1.6,0.0l-1.7,-3.3l-1.6,-3.1l-1.7,-0.5l-1.6,-6.7l-2.0,-2.5l-2.1,-8.8l-2.0,13.7l-2.1,12.6l-1.6,-0.3l-1.7,-5.2l-2.0,0.7l-2.1,-2.1l-2.0,13.5l-2.1,12.7l-2.0,11.3l-2.1,12.9l-2.0,-4.0l-2.1,1.5l-1.6,-6.7l-1.6,-6.0l-2.5,5.8l-2.5,6.5l-1.6,6.3l-1.6,3.2l-1.7,-2.0l-1.6,-7.0l-2.5,0.5l-2.4,-1.8l-2.5,1.9l-2.4,4.1l-2.5,-6.5l-2.5,-9.4l-1.6,-11.5l-1.6,-12.2l-1.7,8.2l-1.6,8.2l-2.5,1.4l-2.4,-1.4l-1.7,4.4l-1.6,9.0l-1.6,5.2l-1.7,5.8l-2.2,11.2l-2.1,12.5l-2.1,-13.7l-2.0,-13.4l-1.7,-23.1l-1.6,-27.8l-2.2,18.4l-2.2,17.8l-2.2,16.9l-2.0,-4.9l-2.1,-8.0l-1.6,7.0l-1.6,11.6l-2.5,-8.1l-2.5,-3.6l-2.4,-8.6l-2.5,-4.2l-1.6,1.8l-1.6,2.2l-1.7,-4.5l-1.6,1.3l-1.7,-12.1l-1.6,-11.8l-1.6,7.0l-1.7,10.4l-1.6,4.3l-1.7,4.5l-2.0,11.2l-2.1,12.2l-1.6,13.1l-1.6,16.1l-1.7,-8.2l-1.6,-9.4l-1.6,-23.9l-1.7,-20.6l-1.6,-20.3l-1.7,-17.2l-2.0,22.3l-2.1,23.5l-2.0,5.4l-2.1,1.2l-2.0,3.4l-2.1,7.4l-1.6,-8.5l-1.6,-13.8l-1.7,-6.9l-1.6,-10.7l-2.1,17.6l-2.0,13.4l-2.1,-12.4l-2.0,-4.0l-1.6,-5.4l-1.7,-2.1l-1.6,-5.0l-1.7,-6.3l-1.6,1.2l-1.6,7.5l-2.1,23.5l-2.0,22.3l-1.7,8.6l-1.6,9.1l-1.6,-5.2l-1.7,-9.5l-1.6,-21.2l-1.7,-22.1l-1.6,-15.1l-1.6,-17.3l-2.1,16.3l-2.0,17.2l-1.7,13.1l-1.6,14.6l-1.7,-1.8l-1.6,3.6l-1.6,-8.6l-1.7,-8.8l-2.4,4.6l-2.5,4.2l-2.4,1.4l-2.5,-0.1l-1.6,-11.9l-1.7,-8.7l-1.6,-8.3l-1.7,-10.2l-1.6,11.1l-1.6,11.3l-2.5,3.9l-2.5,9.0l-2.4,22.3l-2.5,23.7l-2.0,11.6l-2.1,17.6l-2.4,-30.0l-2.5,-49.0l-2.4,-20.2l-1.7,19.0l-1.6,19.7l-1.7,-1.2l-1.6,7.1l-1.6,6.9l-1.7,7.4l-1.6,-5.2l-1.7,-2.6l-1.6,-10.7l-1.6,-7.0l-2.5,5.4l-2.4,7.1l-2.1,-5.5l-2.0,-2.3l-2.1,-6.0l-2.0,-6.1l-1.7,-11.6l-1.6,-7.4l-1.7,2.9l-1.6,2.4l-1.6,-4.8l-1.7,-7.9l-1.6,-10.0l-1.7,-16.0l-1.6,-1.2l-1.6,0.3l-2.1,25.2l-2.0,24.0l-1.9,45.7l-1.9,50.0l-2.6,110.4l-2.3,-108.0l-2.0,-99.2l-2.4,-45.1l-1.7,16.8l-1.6,19.6l-2.5,-8.2l-1.6,6.3l-1.7,8.7l-1.6,-13.0l-1.6,-16.1l-1.7,9.9l-1.6,11.2l-2.1,-6.1l-2.0,-7.3l-2.1,9.1l-2.0,4.6z" fill="#9fd6e9" fill-opacity="0.75"/>
<path d="M666.0,866.8l2.5,-2.6l2.4,1.6l2.1,5.8l2.0,6.7l2.1,-5.1l2.0,-6.9l1.6,-8.6l1.7,-2.2l1.6,7.3l1.7,6.9l2.0,-13.5l2.1,-15.2l2.4,41.3l2.3,97.7l2.0,89.6l2.8,-90.1l2.2,-57.2l2.2,-59.2l2.0,-12.7l2.1,-9.0l2.0,9.5l2.1,6.8l1.6,6.2l1.7,8.0l1.6,-4.7l1.6,-4.3l2.1,5.1l2.0,7.0l2.1,5.5l2.0,3.1l2.5,11.9l2.5,8.9l1.6,5.6l1.6,13.7l2.5,5.7l2.4,5.3l1.7,6.1l1.6,5.8l1.7,-3.1l1.6,-3.0l2.5,-5.5l2.4,-7.1l1.7,-27.0l1.6,-22.8l1.6,26.3l1.7,22.6l1.6,18.0l1.7,15.9l1.6,-15.1l1.6,-17.4l2.5,-16.1l2.4,-20.4l2.5,-3.8l2.5,-3.5l1.6,-4.5l1.6,-3.4l1.7,2.7l1.6,9.3l2.5,0.8l2.4,3.9l2.5,0.3l2.4,0.9l1.7,3.4l1.6,10.6l1.7,-6.4l1.6,-0.8l2.5,5.8l2.4,3.9l1.7,-17.0l1.6,-18.4l2.0,-21.5l2.1,-20.8l2.0,25.1l2.1,22.0l2.0,28.7l2.1,29.4l1.6,-5.3l1.7,-6.0l2.0,-15.3l2.1,-19.0l2.4,-9.7l2.5,-11.2l1.6,-2.5l1.7,-6.9l1.6,-1.6l1.6,-5.5l1.7,3.3l1.6,4.0l1.7,1.7l1.6,-0.9l1.6,2.3l1.7,1.8l1.6,0.6l1.6,2.2l1.7,4.8l1.6,3.0l1.7,4.1l1.6,7.2l1.6,-7.0l1.7,-4.9l2.4,-23.6l2.5,-23.0l2.0,25.2l2.1,26.2l1.6,27.6l1.7,27.2l2.0,-10.6l2.1,-13.9l1.6,-7.0l1.6,-7.5l2.5,-6.1l2.5,-5.9l2.4,-10.4l2.5,-9.3l2.0,-0.4l2.1,0.1l2.0,7.6l2.1,7.3l2.4,5.2l2.5,6.3l2.4,3.0l2.5,-0.2l2.5,5.0l2.4,3.3l1.7,-8.6l1.6,3.4l2.2,-18.7l2.2,-17.2l2.2,-19.7l1.6,18.1l1.6,23.4l1.8,30.9l1.8,37.6l2.0,-15.9l2.1,-18.1l2.4,-4.9l2.5,-8.3l2.4,-16.1l2.5,-9.3l1.6,-3.3l1.7,-9.1l2.4,9.6l2.5,5.2l2.4,4.3l2.5,6.7l1.6,3.7l1.7,-0.6l2.4,-2.8l2.5,-1.2l2.5,2.9l2.4,0.5l2.5,3.9l2.4,3.8l2.5,-3.2l2.4,-8.2l2.5,2.5l2.5,-1.4l1.6,-14.6l1.6,-12.8l2.1,-9.7l2.0,-11.1l2.1,0.3l2.0,-2.2l2.1,2.4l2.0,5.0l2.1,0.6l2.0,-0.8l2.5,4.1l2.4,1.1l1.7,-7.9l1.6,-5.2l2.1,-7.7l2.0,-9.1l1.9,5.0l1.9,3.4l2.0,-0.6l1.6,5.0l1.6,8.4l2.5,1.0l2.4,-4.3l2.5,2.9l2.5,-2.9l2.4,-0.1l2.5,-1.2l2.4,2.6l2.5,2.5l1.6,-2.5l1.7,-5.9l2.4,4.3l2.5,1.6l1.6,7.3l1.7,3.3l2.4,-1.5l2.5,1.0l2.4,-0.2l2.5,-0.5l1.6,-1.0l1.7,4.9l2.4,2.0l2.5,4.6l2.5,-2.4l2.4,0.4l2.5,1.0l2.4,4.0l2.5,-5.3l2.4,7.8l2.5,0.9l2.5,-1.2l2.4,1.4l2.5,1.0l2.4,-1.0l2.5,3.8l2.4,-0.8l2.5,4.5l2.5,-2.7l2.4,-2.9l2.5,1.3l2.4,1.0l2.5,-4.3l2.5,3.0l2.4,-0.4l2.5,-7.8l2.4,6.5l2.5,2.3l2.4,0.0l2.5,-1.2l1.6,-5.3l1.7,-3.5l2.4,3.0l2.5,6.0l2.5,-3.8l2.4,-7.3l2.5,3.2l2.4,3.2l2.5,0.8l2.4,0.9l2.5,0.9l2.5,2.6l2.4,-1.5l2.5,0.3l2.4,0.8l2.5,-2.1l2.5,-0.8l2.4,0.5l2.2,-1.2l2.2,-1.2l2.2,1.5l2.2,-3.7l2.1,2.8l2.2,-1.9l0.0,12.4l-2.2,-1.3l-2.1,-0.7l-2.2,-0.1l-2.2,1.8l-2.2,0.8l-2.2,-2.2l-2.4,2.9l-2.5,-1.5l-2.5,1.9l-2.4,3.2l-2.5,-1.6l-2.4,-1.4l-2.5,-0.8l-2.5,0.9l-2.4,-2.4l-2.5,4.1l-2.4,-6.2l-2.5,-7.1l-2.4,10.0l-2.5,3.1l-2.5,-3.7l-2.4,-8.1l-1.7,7.8l-1.6,3.5l-2.5,0.6l-2.4,3.4l-2.5,-4.9l-2.4,-4.7l-2.5,1.6l-2.4,5.4l-2.5,1.5l-2.5,-0.4l-2.4,1.3l-2.5,-2.5l-2.4,5.2l-2.5,1.1l-2.5,-7.1l-2.4,-0.5l-2.5,1.6l-2.4,0.3l-2.5,-4.8l-2.4,3.8l-2.5,-1.4l-2.5,1.2l-2.4,-4.4l-2.5,-2.9l-2.4,1.6l-2.5,-5.6l-2.4,2.3l-2.5,-0.4l-2.5,-1.9l-2.4,-6.5l-1.7,-1.1l-1.6,-4.1l-2.5,0.5l-2.4,2.4l-2.5,2.5l-2.4,-4.0l-1.7,-3.4l-1.6,-4.3l-2.5,-1.4l-2.4,-1.7l-1.7,0.9l-1.6,5.7l-2.5,-4.1l-2.4,-4.2l-2.5,1.4l-2.4,3.2l-2.5,2.0l-2.5,-2.9l-2.4,0.1l-2.5,4.3l-1.6,-9.2l-1.6,-5.1l-2.0,-1.0l-1.9,-3.5l-1.9,0.5l-2.0,6.3l-2.1,6.6l-1.6,4.9l-1.7,7.1l-2.4,-1.1l-2.5,-1.9l-2.0,-1.5l-2.1,-0.1l-2.0,-5.0l-2.1,-3.7l-2.0,2.2l-2.1,-2.3l-2.0,9.8l-2.1,12.5l-1.6,15.4l-1.6,10.3l-2.5,2.8l-2.5,0.7l-2.4,6.8l-2.5,7.0l-2.4,-5.4l-2.5,-1.9l-2.4,-1.2l-2.5,-2.1l-2.5,-1.3l-2.4,3.3l-1.7,-4.1l-1.6,-2.3l-2.5,-6.1l-2.4,-6.8l-2.5,0.7l-2.4,-8.1l-1.7,4.0l-1.6,9.3l-2.5,8.4l-2.4,12.4l-2.5,8.4l-2.4,8.8l-2.1,13.7l-2.0,20.7l-1.8,-41.3l-1.8,-36.5l-1.6,-17.2l-1.6,-18.7l-2.2,18.0l-2.2,17.9l-2.2,17.6l-1.6,4.8l-1.7,2.9l-2.4,-5.5l-2.5,-1.7l-2.5,-6.4l-2.4,-3.3l-2.5,-2.9l-2.4,-3.4l-2.1,-6.9l-2.0,-10.7l-2.1,0.2l-2.0,2.3l-2.5,10.2l-2.4,12.3l-2.5,2.6l-2.5,5.5l-1.6,7.1l-1.6,11.4l-2.1,12.6l-2.0,11.7l-1.7,-30.6l-1.6,-27.6l-2.1,-26.4l-2.0,-24.2l-2.5,21.6l-2.4,24.6l-1.7,7.3l-1.6,4.0l-1.6,-4.5l-1.7,-6.5l-1.6,-4.0l-1.7,0.4l-1.6,-5.4l-1.6,0.1l-1.7,-3.7l-1.6,-1.1l-1.6,1.0l-1.7,-3.1l-1.6,-3.7l-1.7,-0.8l-1.6,-0.7l-1.6,9.6l-1.7,3.4l-1.6,1.9l-2.5,10.1l-2.4,14.6l-2.1,18.3l-2.0,12.1l-1.7,3.8l-1.6,9.1l-2.1,-28.3l-2.0,-31.4l-2.1,-23.0l-2.0,-23.6l-2.1,23.8l-2.0,20.0l-1.6,15.6l-1.7,18.5l-2.4,-4.5l-2.5,-9.0l-1.6,8.2l-1.7,2.6l-1.6,-8.6l-1.7,-6.7l-2.4,-2.0l-2.5,3.0l-2.4,-6.5l-2.5,-1.2l-1.6,-5.4l-1.7,-7.5l-1.6,5.6l-1.6,1.1l-2.5,6.4l-2.5,6.5l-2.4,19.9l-2.5,18.1l-1.6,15.4l-1.6,15.4l-1.7,-15.2l-1.6,-19.4l-1.7,-25.1l-1.6,-22.1l-1.6,20.4l-1.7,25.6l-2.4,12.1l-2.5,2.8l-1.6,3.4l-1.7,1.0l-1.6,-3.4l-1.7,-6.9l-2.4,-8.6l-2.5,-3.9l-1.6,-9.8l-1.6,-9.4l-2.5,-9.0l-2.5,-8.4l-2.0,-5.5l-2.1,-8.5l-2.0,-3.3l-2.1,-8.6l-1.6,5.6l-1.6,5.8l-1.7,-8.0l-1.6,-5.1l-2.1,-6.2l-2.0,-9.0l-2.1,11.6l-2.0,11.2l-2.2,53.4l-2.2,57.0l-2.8,94.1l-2.0,-89.7l-2.3,-101.2l-2.4,-37.6l-2.1,17.4l-2.0,11.0l-1.7,-7.5l-1.6,-8.0l-1.7,6.0l-1.6,4.0l-2.0,7.2l-2.1,3.5l-2.0,-5.3l-2.1,-7.7l-2.4,3.2l-2.5,3.4z" fill="#f2bcb0" fill-opacity="0.75"/>
<path d="M666.0,873.0l2.5,-0.1l2.4,-2.8l2.1,5.9l2.0,6.8l2.1,-6.6l2.0,-6.9l1.6,-2.7l1.7,-6.7l1.6,5.8l1.7,10.6l2.0,-11.7l2.1,-17.8l2.4,37.8l2.3,96.4l2.0,93.1l2.8,-88.7l2.2,-58.2l2.2,-60.0l2.0,-9.0l2.1,-11.4l2.0,8.7l2.1,8.9l1.6,6.8l1.7,5.1l1.6,-3.3l1.6,-6.6l2.1,6.2l2.0,8.0l2.1,6.2l2.0,8.7l2.5,6.9l2.5,3.2l1.6,10.1l1.6,11.7l2.5,7.9l2.4,7.1l1.7,4.6l1.6,3.8l1.7,-0.4l1.6,-4.1l2.5,-5.3l2.4,-10.6l1.7,-19.9l1.6,-24.4l1.6,23.7l1.7,23.5l1.6,17.1l1.7,17.6l1.6,-17.5l1.6,-17.8l2.5,-17.3l2.4,-15.9l2.5,-4.0l2.5,-7.0l1.6,-4.0l1.6,-3.2l1.7,5.7l1.6,9.2l2.5,-0.6l2.4,1.5l2.5,0.5l2.4,1.6l1.7,9.6l1.6,5.2l1.7,-6.8l1.6,-1.4l2.5,4.7l2.4,5.1l1.7,-17.3l1.6,-12.5l2.0,-24.6l2.1,-22.6l2.0,22.9l2.1,22.8l2.0,29.7l2.1,29.5l1.6,-3.3l1.7,-7.9l2.0,-13.6l2.1,-17.7l2.4,-12.9l2.5,-11.2l1.6,-4.6l1.7,-1.6l1.6,-5.4l1.6,-7.1l1.7,3.3l1.6,2.7l1.7,5.3l1.6,2.5l1.6,-0.7l1.7,3.2l1.6,-0.8l1.6,1.7l1.7,3.5l1.6,0.3l1.7,9.5l1.6,5.6l1.6,-5.1l1.7,-8.1l2.4,-22.9l2.5,-22.9l2.0,23.2l2.1,28.8l1.6,24.5l1.7,31.7l2.0,-11.5l2.1,-13.6l1.6,-6.4l1.6,-9.6l2.5,-3.4l2.5,-5.5l2.4,-12.1l2.5,-11.3l2.0,0.6l2.1,-2.8l2.0,13.4l2.1,6.3l2.4,2.6l2.5,8.7l2.4,3.3l2.5,-0.7l2.5,3.0l2.4,4.5l1.7,-4.2l1.6,-0.9l2.2,-19.8l2.2,-16.2l2.2,-19.5l1.6,15.3l1.6,21.8l1.8,33.4l1.8,39.3l2.0,-11.8l2.1,-18.1l2.4,-10.0l2.5,-9.6l2.4,-11.4l2.5,-11.0l1.6,-5.6l1.7,-4.4l2.4,4.2l2.5,4.6l2.4,8.4l2.5,5.3l1.6,3.1l1.7,1.1l2.4,-2.2l2.5,-4.3l2.5,3.5l2.4,5.3l2.5,4.3l2.4,-0.6l2.5,-2.6l2.4,-8.3l2.5,-0.8l2.5,1.4l1.6,-16.5l1.6,-12.5l2.1,-12.9l2.0,-5.3l2.1,-1.6l2.0,-2.7l2.1,4.2l2.0,4.8l2.1,2.0l2.0,-0.6l2.5,3.2l2.4,-0.8l1.7,-2.3l1.6,-6.0l2.1,-11.7l2.0,-4.6l1.9,0.0l1.9,1.5l2.0,4.4l1.6,5.4l1.6,7.1l2.5,-2.6l2.4,-2.3l2.5,-1.0l2.5,0.7l2.4,1.2l2.5,-4.2l2.4,4.1l2.5,5.0l1.6,-6.1l1.7,-3.4l2.4,0.4l2.5,3.3l1.6,5.2l1.7,6.6l2.4,2.2l2.5,-2.5l2.4,-1.0l2.5,-1.9l1.6,0.6l1.7,7.9l2.4,0.9l2.5,1.8l2.5,2.0l2.4,0.3l2.5,-0.4l2.4,3.0l2.5,1.1l2.4,2.2l2.5,-1.3l2.5,0.5l2.4,4.1l2.5,-1.2l2.4,-1.5l2.5,-2.2l2.4,4.0l2.5,6.0l2.5,-4.0l2.4,-2.7l2.5,2.7l2.4,0.6l2.5,1.1l2.5,-6.4l2.4,3.2l2.5,-6.8l2.4,4.1l2.5,2.8l2.4,-1.1l2.5,1.7l1.6,-5.6l1.7,-5.2l2.4,5.7l2.5,4.1l2.5,-4.9l2.4,-6.5l2.5,3.3l2.4,4.4l2.5,0.3l2.4,-0.9l2.5,1.5l2.5,5.0l2.4,-4.8l2.5,-2.6l2.4,1.1l2.5,-1.1l2.5,1.8l2.4,-1.3l2.2,2.1l2.2,0.5l2.2,-4.9l2.2,-0.3l2.1,2.9l2.2,-0.5" stroke="#ee2a24" stroke-width="2.3" fill="none" stroke-linejoin="round"/>
<path d="M666.0,879.5l2.0,-6.5l2.1,-9.8l2.0,6.9l2.1,6.2l1.6,-9.5l1.7,-11.8l1.6,16.5l1.6,14.6l1.7,-9.6l1.6,-6.8l2.5,6.6l1.6,-19.3l1.7,-16.8l2.4,45.8l2.0,100.8l2.3,106.9l2.6,-109.2l1.9,-45.3l1.9,-52.1l2.0,-25.6l2.1,-24.5l1.6,-0.3l1.6,5.5l1.7,11.5l1.6,12.3l1.7,6.2l1.6,7.3l1.6,-3.4l1.7,-3.1l1.6,10.3l1.7,10.1l2.0,1.5l2.1,8.6l2.0,4.8l2.1,0.7l2.4,-6.2l2.5,-3.6l1.6,7.0l1.6,8.8l1.7,8.4l1.6,2.0l1.7,-6.9l1.6,-7.0l1.6,-3.6l1.7,-6.0l1.6,-15.9l1.7,-19.6l2.4,19.2l2.5,49.0l2.4,30.2l2.1,-12.1l2.0,-16.8l2.5,-27.1l2.4,-17.9l2.5,-7.8l2.5,-9.1l1.6,-10.0l1.6,-7.4l1.7,8.7l1.6,7.0l1.7,8.1l1.6,13.2l2.5,1.1l2.4,-1.5l2.5,-4.0l2.4,-6.4l1.7,8.4l1.6,9.8l1.6,-3.0l1.7,-0.5l1.6,-14.6l1.7,-13.9l2.0,-17.0l2.1,-11.8l1.6,13.8l1.6,17.4l1.7,21.5l1.6,24.8l1.7,4.1l1.6,5.3l1.6,-10.0l1.7,-5.4l2.0,-25.2l2.1,-24.7l1.6,2.4l1.6,-7.6l1.7,7.6l1.6,1.7l1.7,2.5l1.6,4.3l2.0,7.5l2.1,10.8l2.0,-16.7l2.1,-14.4l1.6,9.6l1.7,11.7l1.6,9.8l1.6,8.2l2.1,-6.3l2.0,-2.0l2.1,-3.5l2.0,-4.7l2.1,-20.5l2.0,-25.3l1.7,17.6l1.6,20.2l1.7,19.4l1.6,23.3l1.6,8.3l1.7,9.6l1.6,-14.2l1.6,-12.5l2.1,-14.7l2.0,-12.3l1.7,-2.3l1.6,-7.4l1.7,-8.6l1.6,-6.7l1.6,10.1l1.7,10.7l1.6,3.2l1.7,1.6l1.6,-2.8l1.6,-1.9l2.5,7.6l2.4,5.3l2.5,9.5l2.5,2.6l1.6,-9.2l1.6,-5.6l2.1,5.2l2.0,6.3l2.2,-18.2l2.2,-17.4l2.2,-18.5l1.6,26.7l1.7,29.1l2.0,12.5l2.1,12.0l2.1,-13.4l2.2,-12.3l1.7,-3.9l1.6,-8.5l1.6,-3.9l1.7,-6.1l2.4,-2.0l2.5,2.4l1.6,-8.6l1.7,-9.2l1.6,10.4l1.6,9.8l2.5,9.2l2.5,9.1l2.4,-5.9l2.5,-1.3l2.4,4.3l2.5,1.3l1.6,1.0l1.7,6.3l1.6,-3.0l1.6,-4.4l2.5,-6.9l2.5,-7.0l1.6,6.2l1.6,2.6l2.1,3.5l2.0,4.7l2.1,-18.4l2.0,-9.6l2.1,-11.9l2.0,-13.3l2.1,0.3l2.0,-1.8l1.7,5.0l1.6,3.2l2.1,-12.0l2.0,-12.6l2.1,5.2l2.0,6.9l1.6,2.4l1.7,3.8l1.6,2.4l1.7,3.0l1.6,0.5l1.6,3.7l2.5,-3.5l2.5,-4.7l1.6,8.0l1.6,6.8l2.5,-2.9l2.4,-3.7l2.5,5.0l2.5,12.3l2.4,-0.7l2.5,0.3l1.6,-1.3l1.7,4.3l2.4,-4.1l2.5,-7.0l2.4,4.0l2.5,-2.7l2.4,3.7l2.5,2.3l1.6,5.2l1.7,4.8l1.6,2.2l1.7,6.7l1.6,-3.0l1.6,-2.7l1.7,-7.1l1.6,-9.1l1.7,3.6l1.6,5.3l1.6,6.4l1.7,10.9l2.4,-9.9l2.5,-9.7l2.4,5.5l2.5,7.6l1.6,-6.7l1.7,-7.4l1.6,-2.2l1.7,-3.4l2.4,3.7l2.5,9.4l2.4,-4.8l2.5,-1.7l1.6,-4.6l1.7,-4.0l2.4,9.5l2.5,5.6l2.4,-3.2l2.5,-6.6l2.5,4.2l2.4,6.0l1.7,6.8l1.6,5.9l2.5,-8.8l2.4,-7.6l2.5,7.7l2.4,8.7l2.5,-2.2l2.4,0.4l2.5,-6.5l2.5,-8.1l1.6,6.1l1.6,5.2l2.5,3.7l2.5,4.7l2.4,-10.9l2.5,-11.1l2.4,0.5l2.5,-4.7l2.4,9.8l2.5,6.6l2.5,-2.7l2.4,-5.1l2.5,-2.5l2.4,-0.9l2.5,0.9l2.5,-2.4l2.4,-0.9l2.5,2.3l2.2,2.0l2.1,-0.6l2.2,0.0" stroke="#2250a8" stroke-width="2.3" fill="none" stroke-linejoin="round"/>
</g>
<rect x="666.5" y="755.4" width="520.3" height="410.7" fill="none" stroke="#4a4a4a" stroke-width="1.4"/>
<path d="M681.4,755.4v5.5M681.4,1166.1v-5.5M755.7,755.4v5.5M755.7,1166.1v-5.5M830.0,755.4v5.5M830.0,1166.1v-5.5M904.4,755.4v5.5M904.4,1166.1v-5.5M978.7,755.4v5.5M978.7,1166.1v-5.5M1053.0,755.4v5.5M1053.0,1166.1v-5.5M1127.3,755.4v5.5M1127.3,1166.1v-5.5M666.5,1166.1h5.5M1186.8,1166.1h-5.5M666.5,1107.4h5.5M1186.8,1107.4h-5.5M666.5,1048.8h5.5M1186.8,1048.8h-5.5M666.5,990.1h5.5M1186.8,990.1h-5.5M666.5,931.4h5.5M1186.8,931.4h-5.5M666.5,872.7h5.5M1186.8,872.7h-5.5M666.5,814.1h5.5M1186.8,814.1h-5.5M666.5,755.4h5.5M1186.8,755.4h-5.5" stroke="#4a4a4a" stroke-width="1.4" fill="none"/>
<text x="681.1" y="1183.7" font-size="17" text-anchor="middle" font-weight="normal" fill="#333">0</text>
<text x="753.5" y="1183.7" font-size="17" text-anchor="middle" font-weight="normal" fill="#333">0.5</text>
<text x="829.7" y="1183.7" font-size="17" text-anchor="middle" font-weight="normal" fill="#333">1</text>
<text x="902.2" y="1183.7" font-size="17" text-anchor="middle" font-weight="normal" fill="#333">1.5</text>
<text x="978.4" y="1183.7" font-size="17" text-anchor="middle" font-weight="normal" fill="#333">2</text>
<text x="1050.8" y="1183.7" font-size="17" text-anchor="middle" font-weight="normal" fill="#333">2.5</text>
<text x="1127.0" y="1183.7" font-size="17" text-anchor="middle" font-weight="normal" fill="#333">3</text>
<text x="658.9" y="1169.7" font-size="17" text-anchor="end" font-weight="normal" fill="#333">-100</text>
<text x="658.9" y="1111.0" font-size="17" text-anchor="end" font-weight="normal" fill="#333">-80</text>
<text x="658.9" y="1052.4" font-size="17" text-anchor="end" font-weight="normal" fill="#333">-60</text>
<text x="658.9" y="993.7" font-size="17" text-anchor="end" font-weight="normal" fill="#333">-40</text>
<text x="658.9" y="935.0" font-size="17" text-anchor="end" font-weight="normal" fill="#333">-20</text>
<text x="658.9" y="876.3" font-size="17" text-anchor="end" font-weight="normal" fill="#333">0</text>
<text x="658.9" y="817.7" font-size="17" text-anchor="end" font-weight="normal" fill="#333">20</text>
<text x="658.9" y="759.0" font-size="17" text-anchor="end" font-weight="normal" fill="#333">40</text>
<text class="th" x="918.8" y="1207.5" font-size="18.8" text-anchor="middle" font-weight="normal" fill="#231f20" textLength="67.6" lengthAdjust="spacingAndGlyphs">Time (s)</text>
<text class="th" x="0" y="0" font-size="19.5" text-anchor="middle" fill="#231f20" textLength="168.4" lengthAdjust="spacingAndGlyphs" transform="translate(622.4,980.1) rotate(-90)">Neural activity index</text>
<rect x="1083.0" y="769.9" width="89.6" height="54.3" fill="#fff" stroke="#6a6a6a" stroke-width="1.3"/>
<rect x="1090.4" y="779.5" width="20.4" height="12.4" fill="#f3c7bd"/>
<rect x="1090.4" y="784.9" width="20.4" height="1.8" fill="#ec1c24"/>
<rect x="1090.4" y="802.3" width="20.4" height="12.6" fill="#a9dcea"/>
<rect x="1090.4" y="807.5" width="20.4" height="1.8" fill="#2a48a0"/>
<text x="1121.4" y="789.2" font-size="16.6" text-anchor="start" font-weight="normal" fill="#231f20" textLength="43.4" lengthAdjust="spacingAndGlyphs">Young</text>
<text x="1121.4" y="812.2" font-size="16.6" text-anchor="start" font-weight="normal" fill="#231f20" textLength="37.5" lengthAdjust="spacingAndGlyphs">Older</text>
<rect x="1016.9" y="1041.3" width="155.1" height="110.5" fill="#fff" stroke="#6a6a6a" stroke-width="1.2"/>
<g transform="translate(1016.9,1041.3)"><use href="#brainbase"/><path d="M125.9,18.3C124.7,17.4 122.4,19.5 120.8,19.8C119.2,20.1 118.0,20.5 116.3,20.3C114.6,20.1 112.4,18.9 110.8,18.6C109.2,18.3 107.2,17.4 106.6,18.3C106.0,19.2 106.5,22.3 107.1,24.1C107.8,25.9 110.6,27.8 110.5,28.9C110.4,30.0 108.5,29.9 106.6,30.9C104.7,31.9 100.4,33.1 98.9,34.7C97.5,36.3 98.4,39.4 97.9,40.5C97.4,41.6 95.2,40.7 96.0,41.5C96.8,42.3 100.2,44.3 102.8,45.3C105.4,46.3 108.9,46.5 111.5,47.3C114.1,48.1 116.0,49.7 118.2,50.2C120.5,50.7 123.2,50.5 125.0,50.2C126.9,49.9 128.7,49.5 129.3,48.2C129.9,46.9 128.8,44.2 128.8,42.4C128.8,40.6 129.5,39.4 129.3,37.6C129.2,35.8 128.1,33.9 127.9,31.8C127.7,29.7 128.2,27.4 127.9,25.1C127.6,22.9 127.1,19.2 125.9,18.3Z" fill="#f0262a" fill-opacity="0.93"/><path d="M127.8,93.5C126.5,93.6 121.8,95.0 118.8,96.0C115.8,97.0 112.1,98.6 109.8,99.5C107.5,100.4 106.1,101.4 104.8,101.5C103.5,101.6 102.5,99.8 101.8,100.0C101.1,100.2 100.5,101.8 100.8,102.5C101.1,103.2 102.3,104.0 103.8,104.0C105.3,104.0 107.3,103.3 109.8,102.5C112.3,101.7 116.0,100.2 118.8,99.0C121.6,97.8 125.3,96.4 126.8,95.5C128.3,94.6 129.1,93.4 127.8,93.5Z" fill="#f0262a" fill-opacity="0.93"/><path d="M127.8,41.0C126.0,40.4 120.6,38.7 116.8,37.5C113.0,36.3 108.0,34.8 104.8,34.0C101.6,33.2 99.0,33.2 97.8,33.0" fill="none" stroke="#7a1a1a" stroke-width="0.9" stroke-opacity="0.55"/><path d="M125.8,47.0C124.0,46.3 118.8,44.2 114.8,43.0C110.8,41.8 104.0,40.1 101.8,39.5" fill="none" stroke="#7a1a1a" stroke-width="0.9" stroke-opacity="0.55"/><path d="M123.8,30.0C122.5,29.6 118.3,28.3 115.8,27.5C113.3,26.7 110.0,25.4 108.8,25.0" fill="none" stroke="#7a1a1a" stroke-width="0.9" stroke-opacity="0.55"/><circle cx="110.30000000000001" cy="28.5" r="1.3" fill="#b9c4c4"/><circle cx="126.30000000000001" cy="48.5" r="1.3" fill="#b9c4c4"/><circle cx="121.80000000000001" cy="49.5" r="1.3" fill="#b9c4c4"/></g>
<g fill="#231f20" transform="translate(673.0,1246.6)"><ellipse cx="4.9" cy="-3.0" rx="5.1" ry="2.85" transform="rotate(-21 4.9 -3.0)"/><rect x="8.7" y="-23.4" width="1.45" height="20.5"/><path d="M8.7,-23.6 C10.0,-20.8 13.6,-18.9 15.6,-15.7 C16.9,-13.5 16.5,-10.7 15.0,-8.6 C15.4,-10.8 15.0,-12.6 13.6,-14.2 C12.4,-15.5 11.0,-16.0 10.1,-17.0 L10.1,-23.6 Z"/></g>
<g fill="#e5222a" transform="translate(730.2,1246.6)"><ellipse cx="4.9" cy="-3.0" rx="5.1" ry="2.85" transform="rotate(-21 4.9 -3.0)"/><rect x="8.7" y="-23.4" width="1.45" height="20.5"/><path d="M8.7,-23.6 C10.0,-20.8 13.6,-18.9 15.6,-15.7 C16.9,-13.5 16.5,-10.7 15.0,-8.6 C15.4,-10.8 15.0,-12.6 13.6,-14.2 C12.4,-15.5 11.0,-16.0 10.1,-17.0 L10.1,-23.6 Z"/></g>
<g fill="#e5222a" transform="translate(781.7,1246.6)"><ellipse cx="4.9" cy="-3.0" rx="5.1" ry="2.85" transform="rotate(-21 4.9 -3.0)"/><rect x="8.7" y="-23.4" width="1.45" height="20.5"/><path d="M8.7,-23.6 C10.0,-20.8 13.6,-18.9 15.6,-15.7 C16.9,-13.5 16.5,-10.7 15.0,-8.6 C15.4,-10.8 15.0,-12.6 13.6,-14.2 C12.4,-15.5 11.0,-16.0 10.1,-17.0 L10.1,-23.6 Z"/></g>
<g fill="#e5222a" transform="translate(836.5,1246.6)"><ellipse cx="4.9" cy="-3.0" rx="5.1" ry="2.85" transform="rotate(-21 4.9 -3.0)"/><rect x="8.7" y="-23.4" width="1.45" height="20.5"/><path d="M8.7,-23.6 C10.0,-20.8 13.6,-18.9 15.6,-15.7 C16.9,-13.5 16.5,-10.7 15.0,-8.6 C15.4,-10.8 15.0,-12.6 13.6,-14.2 C12.4,-15.5 11.0,-16.0 10.1,-17.0 L10.1,-23.6 Z"/></g>
<g fill="#e5222a" transform="translate(889.7,1246.6)"><ellipse cx="4.9" cy="-3.0" rx="5.1" ry="2.85" transform="rotate(-21 4.9 -3.0)"/><rect x="8.7" y="-23.4" width="1.45" height="20.5"/><path d="M8.7,-23.6 C10.0,-20.8 13.6,-18.9 15.6,-15.7 C16.9,-13.5 16.5,-10.7 15.0,-8.6 C15.4,-10.8 15.0,-12.6 13.6,-14.2 C12.4,-15.5 11.0,-16.0 10.1,-17.0 L10.1,-23.6 Z"/></g>
<text class="th" x="1520.7" y="732.4" font-size="27.5" text-anchor="middle" font-weight="normal" fill="#231f20" textLength="106.3" lengthAdjust="spacingAndGlyphs">Novel T3</text>
<clipPath id="clip12"><rect x="1272.6" y="755.4" width="520.3" height="410.7"/></clipPath>
<rect x="1344.1" y="755.4" width="16.1" height="410.7" fill="#dcdcde"/>
<rect x="1408.0" y="755.4" width="5.3" height="410.7" fill="#dcdcde"/>
<rect x="1484.2" y="755.4" width="5.4" height="410.7" fill="#dcdcde"/>
<rect x="1493.2" y="755.4" width="13.5" height="410.7" fill="#dcdcde"/>
<rect x="1526.0" y="755.4" width="5.3" height="410.7" fill="#dcdcde"/>
<rect x="1594.9" y="755.4" width="4.6" height="410.7" fill="#dcdcde"/>
<path d="M1287.5,755.4V1166.1M1302.3,755.4V1166.1M1317.2,755.4V1166.1M1332.1,755.4V1166.1M1346.9,755.4V1166.1M1361.8,755.4V1166.1M1376.7,755.4V1166.1M1391.5,755.4V1166.1M1406.4,755.4V1166.1M1421.3,755.4V1166.1M1436.1,755.4V1166.1M1451.0,755.4V1166.1M1465.9,755.4V1166.1M1480.7,755.4V1166.1M1495.6,755.4V1166.1M1510.5,755.4V1166.1M1525.3,755.4V1166.1M1540.2,755.4V1166.1M1555.0,755.4V1166.1M1569.9,755.4V1166.1M1584.8,755.4V1166.1M1599.6,755.4V1166.1M1614.5,755.4V1166.1M1629.4,755.4V1166.1M1644.2,755.4V1166.1M1659.1,755.4V1166.1M1674.0,755.4V1166.1M1688.8,755.4V1166.1M1703.7,755.4V1166.1M1718.6,755.4V1166.1M1733.4,755.4V1166.1M1748.3,755.4V1166.1M1763.2,755.4V1166.1M1778.0,755.4V1166.1M1272.6,1151.4H1792.9M1272.6,1136.8H1792.9M1272.6,1122.1H1792.9M1272.6,1107.4H1792.9M1272.6,1092.8H1792.9M1272.6,1078.1H1792.9M1272.6,1063.4H1792.9M1272.6,1048.8H1792.9M1272.6,1034.1H1792.9M1272.6,1019.4H1792.9M1272.6,1004.8H1792.9M1272.6,990.1H1792.9M1272.6,975.4H1792.9M1272.6,960.8H1792.9M1272.6,946.1H1792.9M1272.6,931.4H1792.9M1272.6,916.7H1792.9M1272.6,902.1H1792.9M1272.6,887.4H1792.9M1272.6,872.7H1792.9M1272.6,858.1H1792.9M1272.6,843.4H1792.9M1272.6,828.7H1792.9M1272.6,814.1H1792.9M1272.6,799.4H1792.9M1272.6,784.7H1792.9M1272.6,770.1H1792.9" stroke="#c6c6c6" stroke-width="1" stroke-dasharray="1.3 1.7" fill="none"/>
<g clip-path="url(#clip12)">
<path d="M1272.0,864.3l1.6,3.7l1.7,5.0l1.6,-2.9l1.7,-8.7l1.6,5.4l1.6,3.6l1.7,-3.4l1.6,-6.4l1.6,2.6l1.7,-3.1l1.6,5.0l1.7,2.5l2.9,-42.1l2.8,55.0l2.6,99.5l2.9,110.9l2.9,-110.1l1.9,-72.2l2.0,-74.0l1.6,-8.0l1.7,-9.5l1.6,14.0l1.6,9.9l1.7,10.0l1.6,7.3l2.5,-20.7l2.0,13.8l2.1,13.2l1.6,6.8l1.7,8.0l1.6,6.3l1.6,8.9l1.7,1.4l1.6,3.3l1.7,-3.9l1.6,4.1l1.6,3.9l1.7,3.3l2.0,-9.4l2.1,-10.6l1.6,9.4l1.6,12.7l2.1,-9.8l2.0,1.0l2.0,-24.0l1.9,-22.1l1.9,-16.3l1.6,30.3l1.7,31.2l2.4,56.3l1.7,-9.4l1.6,-15.1l1.6,-10.0l1.7,-13.0l2.4,-24.7l2.5,-31.7l2.0,-6.8l2.1,-7.9l2.0,6.2l2.1,3.5l2.4,8.8l2.5,4.5l2.5,3.4l2.4,2.7l2.5,3.2l2.4,4.6l1.7,10.1l1.6,4.8l1.6,4.8l1.7,0.6l1.6,-9.2l1.7,-11.4l1.6,-19.2l1.6,-24.9l1.7,18.4l1.6,18.2l2.1,28.0l2.0,25.5l2.1,-2.2l2.0,-8.8l2.5,-16.9l2.4,-10.9l2.5,-10.7l2.4,-11.1l2.1,-6.4l2.0,-3.5l2.1,4.7l2.0,6.3l2.5,-3.5l2.5,-0.6l2.4,8.9l2.5,7.3l2.4,1.8l2.5,-0.5l2.4,5.3l2.5,7.0l1.9,-19.8l1.9,-16.4l1.9,-19.3l2.1,25.7l2.0,25.0l2.1,19.8l2.0,26.6l2.1,-16.0l2.0,-17.8l2.5,-13.6l2.0,3.4l2.1,5.4l2.4,3.4l2.5,-2.0l2.5,-0.8l2.4,-2.0l2.1,-5.9l2.0,-4.6l2.1,3.3l2.0,3.1l2.5,6.6l2.4,5.9l2.5,-8.9l2.4,-1.7l2.5,4.2l2.5,0.8l1.9,-18.2l1.9,-16.4l1.9,-18.0l2.0,21.5l2.1,16.4l1.6,17.6l1.7,10.1l2.5,-11.9l2.5,-7.1l2.4,-11.6l2.5,-13.4l2.4,-3.3l2.5,-1.1l2.4,4.7l2.5,4.7l2.5,4.2l2.4,-3.0l2.5,4.3l2.4,6.7l2.5,5.5l2.5,3.5l1.6,1.0l1.6,0.8l1.7,-6.0l1.6,-6.2l2.5,-1.3l2.4,3.6l2.5,-0.7l2.4,-1.5l1.7,4.2l1.6,5.3l1.7,0.0l1.6,3.4l1.6,-11.3l1.7,-11.5l2.4,-29.6l2.1,3.4l2.0,3.9l2.5,-5.3l2.4,-1.9l2.5,-1.6l2.5,4.8l1.6,-2.3l1.6,-0.3l1.7,5.0l1.6,5.1l1.7,0.0l1.6,3.5l1.6,1.5l1.7,7.0l2.4,-6.1l2.5,-2.1l2.4,1.2l2.5,0.4l2.5,-1.6l2.4,-0.7l2.5,10.0l2.4,2.3l1.7,6.9l1.6,6.2l2.5,-6.6l2.4,-3.3l2.5,8.2l2.4,10.2l2.5,-5.0l2.5,-0.5l2.4,2.0l2.5,3.1l2.4,2.0l2.5,0.6l2.5,-11.1l2.4,-9.7l2.5,4.4l2.4,-1.2l1.9,13.1l2.0,8.6l1.9,9.4l2.0,-11.9l2.1,-12.6l2.4,5.1l2.5,-1.8l2.4,-5.8l2.5,-1.9l2.5,4.8l2.4,8.3l2.5,-6.3l2.4,-2.4l2.5,-4.2l2.4,-7.2l2.5,11.7l2.5,5.1l2.4,-0.8l2.5,-2.3l2.4,-1.7l2.5,5.8l2.5,-10.4l2.4,-7.4l2.5,5.2l2.4,8.2l2.5,-7.3l2.4,-3.9l2.2,5.9l2.2,7.3l2.2,9.5l2.5,-8.2l2.4,-5.0l2.5,2.5l2.4,-0.2l1.7,3.0l1.6,6.6l2.5,-5.3l2.4,-7.1l2.5,4.6l2.4,2.8l2.5,-4.0l2.5,-8.4l2.0,10.1l2.1,13.8l2.0,-10.8l2.1,-13.0l2.4,-1.4l2.5,3.1l2.0,-2.3l2.1,3.1l2.0,-0.9l2.1,0.3l0.0,10.5l-2.1,-0.2l-2.0,1.6l-2.1,-4.4l-2.0,2.5l-2.5,-1.8l-2.4,-3.7l-2.1,15.4l-2.0,12.9l-2.1,-13.7l-2.0,-11.8l-2.5,8.0l-2.5,8.1l-2.4,-5.5l-2.5,-4.3l-2.4,7.0l-2.5,4.7l-1.6,-4.3l-1.7,-5.5l-2.4,-1.0l-2.5,1.1l-2.4,4.5l-2.5,7.7l-2.2,-6.8l-2.2,-8.4l-2.2,-11.6l-2.4,7.1l-2.5,10.0l-2.4,-11.3l-2.5,-6.0l-2.4,10.3l-2.5,11.0l-2.5,-6.2l-2.4,-3.9l-2.5,3.5l-2.4,6.9l-2.5,-14.1l-2.5,-5.6l-2.4,6.2l-2.5,4.9l-2.4,1.2l-2.5,4.2l-2.4,-2.4l-2.5,-9.8l-2.5,5.6l-2.4,5.5l-2.5,-5.6l-2.4,0.2l-2.1,12.7l-2.0,9.2l-1.9,-4.3l-2.0,-10.0l-1.9,-7.3l-2.4,-8.4l-2.5,-1.7l-2.4,9.9l-2.5,10.2l-2.5,-1.3l-2.4,-1.3l-2.5,-0.9l-2.4,-2.5l-2.5,3.3l-2.5,-1.6l-2.4,-5.5l-2.5,-11.8l-2.4,7.9l-2.5,5.7l-1.6,-8.1l-1.7,-9.6l-2.4,-3.3l-2.5,-3.9l-2.4,-0.5l-2.5,1.0l-2.5,-1.4l-2.4,0.7l-2.5,3.2l-2.4,1.9l-1.7,-3.8l-1.6,-7.4l-1.6,0.1l-1.7,-0.9l-1.6,-2.6l-1.7,-5.2l-1.6,-0.6l-1.6,0.9l-2.5,-1.2l-2.5,-2.0l-2.4,1.8l-2.5,4.1l-2.0,0.3l-2.1,-1.9l-2.4,24.1l-1.7,12.4l-1.6,13.1l-1.6,-1.9l-1.7,0.0l-1.6,-7.3l-1.7,-2.4l-2.4,1.1l-2.5,-0.6l-2.4,0.2l-2.5,-0.1l-1.6,3.4l-1.7,8.2l-1.6,-3.5l-1.6,0.2l-2.5,-1.8l-2.5,-5.1l-2.4,-8.8l-2.5,-5.2l-2.4,0.0l-2.5,1.3l-2.5,-7.0l-2.4,-3.5l-2.5,2.2l-2.4,-0.5l-2.5,13.8l-2.4,14.8l-2.5,7.7l-2.5,11.0l-1.7,-11.2l-1.6,-14.8l-2.1,-21.1l-2.0,-20.0l-1.9,16.3l-1.9,19.0l-1.9,20.7l-2.5,-2.8l-2.5,-7.0l-2.4,5.7l-2.5,7.7l-2.4,-4.2l-2.5,-7.4l-2.0,-5.5l-2.1,-1.1l-2.0,3.9l-2.1,1.8l-2.4,6.3l-2.5,3.3l-2.5,-2.5l-2.4,-2.8l-2.1,-2.7l-2.0,-3.5l-2.5,13.4l-2.0,12.7l-2.1,19.3l-2.0,-22.4l-2.1,-22.6l-2.0,-24.3l-2.1,-25.6l-1.9,16.6l-1.9,18.9l-1.9,15.0l-2.5,-1.6l-2.4,-7.8l-2.5,-1.3l-2.4,0.3l-2.5,-7.7l-2.4,-6.9l-2.5,1.6l-2.5,-2.2l-2.0,-4.1l-2.1,-6.6l-2.0,8.3l-2.1,4.3l-2.4,9.9l-2.5,10.0l-2.4,16.5l-2.5,12.7l-2.0,7.6l-2.1,2.9l-2.0,-25.9l-2.1,-29.7l-1.6,-15.7l-1.7,-16.6l-1.6,22.8l-1.6,20.3l-1.7,11.9l-1.6,7.5l-1.7,-1.2l-1.6,-5.9l-1.6,-4.4l-1.7,-8.5l-2.4,-2.3l-2.5,-4.9l-2.4,-1.8l-2.5,-3.7l-2.5,-8.2l-2.4,-3.2l-2.1,-4.6l-2.0,-6.6l-2.1,5.5l-2.0,6.0l-2.5,33.0l-2.4,30.3l-1.7,5.6l-1.6,12.8l-1.6,12.2l-1.7,13.9l-2.4,-60.2l-1.7,-31.1l-1.6,-30.8l-1.9,21.5l-1.9,19.6l-2.0,24.3l-2.0,4.8l-2.1,4.2l-1.6,-10.8l-1.6,-10.5l-2.1,8.6l-2.0,7.4l-1.7,-4.2l-1.6,-1.2l-1.6,1.1l-1.7,0.8l-1.6,-2.5l-1.7,-3.2l-1.6,-8.1l-1.6,-3.6l-1.7,-12.1l-1.6,-10.6l-2.1,-10.6l-2.0,-12.4l-2.5,19.9l-1.6,-8.2l-1.7,-8.1l-1.6,-11.6l-1.6,-8.8l-1.7,6.8l-1.6,9.7l-2.0,67.4l-1.9,72.4l-2.9,115.9l-2.9,-115.0l-2.6,-97.3l-2.8,-55.0l-2.9,41.4l-1.7,-1.5l-1.6,-2.8l-1.7,0.7l-1.6,-1.2l-1.6,6.0l-1.7,0.9l-1.6,-1.7l-1.6,-3.6l-1.7,7.6l-1.6,3.3l-1.7,-5.6l-1.6,-3.0z" fill="#9fd6e9" fill-opacity="0.75"/>
<path d="M1272.0,851.4l1.6,9.9l1.7,8.7l1.6,1.0l1.7,-4.8l1.6,2.5l1.6,0.4l2.2,-6.2l2.2,-0.9l2.2,-3.8l1.6,3.2l1.7,4.8l2.9,-17.6l2.8,48.3l1.6,43.4l1.5,40.9l2.4,84.3l2.9,-87.2l1.8,-46.6l1.9,-40.5l1.8,-46.2l2.1,5.4l2.0,2.3l2.1,11.8l2.0,15.4l2.1,-10.5l2.0,-0.6l2.5,0.0l2.4,-7.4l1.7,16.3l1.6,13.3l1.7,9.1l1.6,13.6l1.9,3.4l1.9,1.3l1.9,-1.8l1.7,13.0l1.6,10.9l1.6,9.6l1.7,10.8l1.6,3.3l1.7,2.0l2.0,-7.5l2.1,-4.1l1.9,-14.2l1.9,-19.6l1.9,-13.2l1.6,15.0l1.7,16.1l2.4,0.9l2.1,-18.2l2.0,-23.0l2.5,-23.3l2.4,-23.3l2.0,-5.0l1.9,-12.5l1.9,-11.3l2.0,7.0l2.1,6.4l2.2,2.3l2.1,1.1l2.2,2.2l2.5,9.3l2.4,8.7l2.5,15.7l2.5,18.3l2.4,2.6l2.5,5.6l2.4,15.9l1.7,-18.0l1.6,-22.4l1.7,-8.7l1.6,-10.9l1.6,17.2l1.7,17.6l2.4,36.0l1.7,-8.6l1.6,-6.4l2.5,-15.9l2.4,-19.5l2.5,-9.2l2.4,-7.6l2.5,-7.6l2.5,0.7l2.4,-0.1l2.5,5.1l2.4,2.8l2.5,2.4l2.4,1.2l2.5,4.2l1.6,9.0l1.7,7.4l1.6,6.9l1.7,8.8l2.4,-5.8l2.5,-2.2l2.4,-22.1l2.5,-15.7l2.5,20.0l2.4,21.2l2.1,5.4l2.0,4.9l2.1,8.1l2.0,9.6l1.6,9.6l1.7,12.0l2.4,-6.0l2.5,-4.9l2.5,0.8l2.4,-5.5l2.5,-1.6l2.4,-4.1l2.5,-5.8l2.4,-6.6l1.7,-6.4l1.6,-7.1l2.5,-6.2l2.4,-3.7l1.7,-5.3l1.6,-1.7l2.5,-22.1l2.4,-21.0l2.5,-22.3l2.5,-22.9l1.6,17.6l1.6,17.5l1.7,23.2l1.6,23.7l2.5,29.9l2.1,-10.6l2.0,-4.7l2.5,-9.1l2.4,-8.6l2.5,-6.8l2.5,-6.8l1.9,-4.7l1.9,-0.5l1.9,-2.6l2.1,5.4l2.0,8.3l2.5,-0.7l2.4,6.0l2.5,1.8l2.4,8.1l2.5,12.2l2.4,9.0l2.5,-6.8l2.5,-6.6l2.4,-6.7l2.5,-7.7l2.4,1.0l2.5,6.1l2.5,-5.3l2.4,-2.5l2.5,-2.6l2.4,-6.4l2.5,-6.7l2.4,-3.6l2.5,3.9l2.5,1.7l2.4,-1.5l2.5,-0.5l2.4,-0.5l2.5,-0.1l2.5,4.9l2.4,4.3l2.5,-8.4l2.4,-7.4l2.5,-2.2l2.4,3.8l2.5,-0.7l2.5,0.2l2.4,6.6l2.5,8.1l2.4,-6.5l2.5,-2.5l1.6,1.3l1.7,6.8l2.0,-6.0l2.1,-8.4l1.9,4.9l1.9,7.4l1.9,6.3l2.2,-6.8l2.2,-4.5l2.2,-3.3l2.4,7.0l2.5,7.0l2.4,1.0l2.5,0.4l2.5,1.8l2.4,-0.1l2.5,-4.2l2.4,-6.5l2.5,8.9l2.4,6.0l2.5,-3.8l2.5,-7.8l2.4,3.7l2.5,4.3l2.4,2.8l2.5,3.5l2.4,-7.0l2.5,0.2l1.6,3.2l1.7,9.6l2.4,-4.7l2.5,-2.2l2.2,-1.0l2.2,7.0l2.2,3.2l2.4,-5.7l2.5,-6.7l2.4,-0.8l2.5,-4.9l2.4,3.3l2.5,3.4l1.6,5.0l1.7,4.6l2.4,-8.4l2.5,-9.1l2.5,1.6l2.4,6.2l2.5,-5.5l2.4,-4.0l2.5,0.8l2.4,6.0l2.5,2.3l2.5,3.8l2.4,-2.1l2.5,1.1l1.6,-7.6l1.7,-8.7l2.4,2.5l2.5,0.6l2.4,0.4l2.5,-2.5l2.5,4.0l2.4,0.8l2.2,0.9l2.2,-1.5l2.2,-0.7l0.0,9.7l-2.2,2.3l-2.2,-1.6l-2.2,0.1l-2.4,-2.4l-2.5,-4.1l-2.5,3.6l-2.4,-1.6l-2.5,1.3l-2.4,1.7l-1.7,4.5l-1.6,6.5l-2.5,2.6l-2.4,1.8l-2.5,-8.1l-2.5,-3.6l-2.4,0.8l-2.5,-1.0l-2.4,0.8l-2.5,6.2l-2.4,-7.1l-2.5,-1.3l-2.5,9.1l-2.4,8.5l-1.7,-3.5l-1.6,-8.6l-2.5,-1.0l-2.4,-1.9l-2.5,0.6l-2.4,4.9l-2.5,5.4l-2.4,4.0l-2.2,-1.5l-2.2,-4.8l-2.2,-1.4l-2.5,3.2l-2.4,3.8l-1.7,-7.0l-1.6,-8.2l-2.5,2.8l-2.4,3.9l-2.5,-1.7l-2.4,1.8l-2.5,-6.2l-2.4,-6.9l-2.5,7.9l-2.5,7.5l-2.4,-5.8l-2.5,-13.1l-2.4,5.8l-2.5,10.1l-2.4,-3.7l-2.5,-1.7l-2.5,-1.8l-2.4,-1.0l-2.5,-4.6l-2.4,-7.9l-2.2,3.4l-2.2,5.2l-2.2,3.3l-1.9,-6.1l-1.9,-5.3l-1.9,-2.6l-2.1,4.4l-2.0,6.2l-1.7,-4.7l-1.6,0.3l-2.5,3.3l-2.4,3.7l-2.5,-9.4l-2.4,-8.0l-2.5,2.6l-2.5,0.9l-2.4,-1.5l-2.5,-0.5l-2.4,7.9l-2.5,10.1l-2.4,-6.5l-2.5,-5.2l-2.5,3.7l-2.4,-1.7l-2.5,1.9l-2.4,1.3l-2.5,-1.9l-2.5,-3.7l-2.4,4.7l-2.5,4.5l-2.4,2.8l-2.5,6.6l-2.4,0.5l-2.5,2.8l-2.5,-0.7l-2.4,-4.2l-2.5,6.8l-2.4,11.0l-2.5,8.0l-2.5,5.3l-2.4,-9.9l-2.5,-16.6l-2.4,-1.1l-2.5,-3.3l-2.4,-5.8l-2.5,-3.5l-2.0,-6.2l-2.1,-7.4l-1.9,3.7l-1.9,1.0l-1.9,5.3l-2.5,9.6l-2.5,3.2l-2.4,8.4l-2.5,10.8l-2.0,6.2l-2.1,6.8l-2.5,-25.7l-1.6,-25.2l-1.7,-24.6l-1.6,-19.3l-1.6,-16.7l-2.5,23.3l-2.5,25.2l-2.4,19.3l-2.5,21.4l-1.6,3.0l-1.7,3.0l-2.4,2.4l-2.5,5.9l-1.6,6.5l-1.7,9.3l-2.4,6.4l-2.5,4.6l-2.4,4.1l-2.5,6.7l-2.4,1.2l-2.5,2.2l-2.5,4.8l-2.4,3.0l-1.7,-13.7l-1.6,-8.3l-2.0,-8.2l-2.1,-4.8l-2.0,-3.8l-2.1,-10.2l-2.4,-21.6l-2.5,-21.6l-2.5,22.0l-2.4,16.4l-2.5,4.6l-2.4,5.7l-1.7,-7.5l-1.6,-8.0l-1.7,-8.7l-1.6,-10.0l-2.5,0.2l-2.4,-5.7l-2.5,-1.6l-2.4,-1.3l-2.5,-5.2l-2.4,-0.1l-2.5,2.7l-2.5,3.5l-2.4,8.4l-2.5,9.5l-2.4,16.3l-2.5,20.1l-1.6,5.7l-1.7,8.8l-2.4,-36.4l-1.7,-19.5l-1.6,-18.2l-1.6,17.1l-1.7,9.3l-1.6,19.9l-1.7,15.0l-2.4,-13.2l-2.5,-6.8l-2.4,-7.2l-2.5,-14.9l-2.5,-10.8l-2.4,-12.8l-2.5,-9.5l-2.2,-1.4l-2.1,-0.3l-2.2,-3.5l-2.1,-3.9l-2.0,-7.3l-1.9,9.9l-1.9,9.4l-2.0,8.1l-2.4,24.2l-2.5,18.5l-2.0,21.1l-2.1,23.5l-2.4,-3.0l-1.7,-14.6l-1.6,-16.1l-1.9,13.4l-1.9,18.5l-1.9,16.9l-2.1,5.2l-2.0,6.0l-1.7,-1.4l-1.6,-4.2l-1.7,-12.7l-1.6,-8.1l-1.6,-13.3l-1.7,-9.9l-1.9,-3.0l-1.9,2.3l-1.9,-4.8l-1.6,-7.3l-1.7,-13.0l-1.6,-14.3l-1.7,-14.2l-2.4,0.3l-2.5,2.2l-2.0,6.2l-2.1,4.5l-2.0,-7.6l-2.1,-14.6l-2.0,-3.5l-2.1,-3.3l-1.8,44.7l-1.9,42.4l-1.8,46.5l-2.9,86.0l-2.4,-86.7l-1.5,-43.4l-1.6,-39.4l-2.8,-53.0l-2.9,19.6l-1.7,-4.3l-1.6,0.3l-2.2,0.8l-2.2,2.6l-2.2,1.7l-1.6,2.2l-1.6,3.0l-1.7,1.2l-1.6,0.0l-1.7,-7.0l-1.6,-10.1z" fill="#f2bcb0" fill-opacity="0.75"/>
<path d="M1272.0,859.9l1.6,8.9l1.7,8.3l1.6,-3.9l1.7,2.7l1.6,-2.1l1.6,1.5l2.2,-4.5l2.2,-6.5l2.2,-1.1l1.6,2.2l1.7,4.3l2.9,-19.6l2.8,52.0l1.6,41.7l1.5,41.7l2.4,83.2l2.9,-84.1l1.8,-46.0l1.9,-37.9l1.8,-49.0l2.1,1.7l2.0,6.4l2.1,9.1l2.0,13.9l2.1,-2.8l2.0,-6.1l2.5,-5.6l2.4,0.4l1.7,12.5l1.6,15.3l1.7,10.8l1.6,10.4l1.9,2.4l1.9,-1.5l1.9,5.0l1.7,7.2l1.6,11.6l1.6,9.3l1.7,13.3l1.6,4.9l1.7,1.4l2.0,-5.4l2.1,-5.6l1.9,-18.6l1.9,-14.9l1.9,-16.1l1.6,12.9l1.7,20.1l2.4,4.8l2.1,-23.0l2.0,-23.2l2.5,-18.5l2.4,-23.3l2.0,-10.0l1.9,-11.9l1.9,-8.2l2.0,6.1l2.1,6.0l2.2,0.6l2.1,2.1l2.2,2.7l2.5,9.4l2.4,8.8l2.5,14.1l2.5,16.7l2.4,6.7l2.5,6.8l2.4,15.0l1.7,-19.1l1.6,-20.6l1.7,-11.1l1.6,-11.4l1.6,17.7l1.7,18.4l2.4,36.0l1.7,-9.0l1.6,-8.4l2.5,-14.7l2.4,-16.4l2.5,-10.4l2.4,-12.9l2.5,0.9l2.5,-5.0l2.4,2.3l2.5,-1.4l2.4,5.2l2.5,7.0l2.4,2.0l2.5,-0.4l1.6,9.0l1.7,9.8l1.6,6.2l1.7,8.3l2.4,-2.9l2.5,-5.6l2.4,-17.7l2.5,-21.3l2.5,19.6l2.4,21.7l2.1,8.4l2.0,5.3l2.1,8.2l2.0,6.8l1.6,13.1l1.7,8.7l2.4,-6.8l2.5,-1.6l2.5,-3.9l2.4,2.8l2.5,-9.9l2.4,-0.6l2.5,-6.0l2.4,-8.6l1.7,-6.7l1.6,-8.9l2.5,-4.4l2.4,-3.5l1.7,-2.6l1.6,-0.4l2.5,-23.2l2.4,-22.7l2.5,-20.6l2.5,-24.9l1.6,18.2l1.6,21.6l1.7,22.8l1.6,22.3l2.5,24.9l2.1,-6.4l2.0,-8.8l2.5,-7.1l2.4,-5.4l2.5,-7.9l2.5,-8.1l1.9,-0.6l1.9,-6.8l1.9,-1.3l2.1,5.2l2.0,6.4l2.5,6.5l2.4,0.0l2.5,6.0l2.4,7.6l2.5,9.7l2.4,11.0l2.5,-4.4l2.5,-6.9l2.4,-7.8l2.5,-10.4l2.4,3.7l2.5,2.9l2.5,-5.3l2.4,-1.0l2.5,-2.9l2.4,-5.1l2.5,-8.2l2.4,-2.9l2.5,3.0l2.5,0.6l2.4,2.7l2.5,-1.9l2.4,-2.8l2.5,0.2l2.5,3.4l2.4,8.7l2.5,-8.9l2.4,-11.1l2.5,1.9l2.4,0.4l2.5,0.0l2.5,-1.2l2.4,8.1l2.5,5.9l2.4,-2.3l2.5,-4.2l1.6,3.1l1.7,3.4l2.0,-5.4l2.1,-7.7l1.9,5.1l1.9,5.2l1.9,6.1l2.2,-3.4l2.2,-4.3l2.2,-5.4l2.4,6.1l2.5,4.6l2.4,4.6l2.5,-0.4l2.5,2.9l2.4,0.3l2.5,-4.9l2.4,-5.0l2.5,6.0l2.4,8.7l2.5,-10.2l2.5,-2.9l2.4,4.4l2.5,8.4l2.4,-5.4l2.5,5.8l2.4,-2.2l2.5,-4.4l1.6,6.3l1.7,6.8l2.4,-0.9l2.5,-5.7l2.2,3.3l2.2,4.5l2.2,2.1l2.4,-6.5l2.5,-7.4l2.4,-3.1l2.5,-1.1l2.4,2.2l2.5,1.5l1.6,7.8l1.7,6.6l2.4,-7.5l2.5,-12.2l2.5,3.7l2.4,2.8l2.5,-2.4l2.4,-6.7l2.5,7.1l2.4,-0.7l2.5,5.1l2.5,5.7l2.4,-2.4l2.5,-0.8l1.6,-8.0l1.7,-6.8l2.4,-1.5l2.5,-0.5l2.4,2.1l2.5,0.3l2.5,3.5l2.4,-1.5l2.2,2.0l2.2,1.0l2.2,-2.0" stroke="#ee2a24" stroke-width="2.3" fill="none" stroke-linejoin="round"/>
<path d="M1272.0,869.7l1.6,6.8l1.7,3.0l1.6,-8.9l1.7,-0.9l1.6,4.9l1.6,1.7l1.7,-4.6l1.6,-4.8l1.6,-1.6l1.7,0.9l1.6,2.3l1.7,4.5l2.9,-42.6l2.8,56.6l2.6,99.2l2.9,111.1l2.9,-112.5l1.9,-73.2l2.0,-71.8l1.6,-7.7l1.7,-8.3l1.6,12.5l1.6,10.8l1.7,9.4l1.6,6.7l2.5,-19.7l2.0,14.4l2.1,9.8l1.6,7.9l1.7,11.2l1.6,5.7l1.6,5.2l1.7,3.7l1.6,4.5l1.7,-3.2l1.6,0.5l1.6,1.9l1.7,7.2l2.0,-9.0l2.1,-10.6l1.6,7.2l1.6,12.4l2.1,-3.1l2.0,-4.1l2.0,-24.3l1.9,-20.7l1.9,-19.9l1.6,30.7l1.7,33.8l2.4,56.8l1.7,-13.8l1.6,-12.5l1.6,-10.4l1.7,-11.3l2.4,-29.9l2.5,-26.8l2.0,-5.8l2.1,-7.5l2.0,4.3l2.1,1.9l2.4,10.2l2.5,3.8l2.5,3.7l2.4,2.2l2.5,1.8l2.4,6.0l1.7,9.4l1.6,4.9l1.6,3.8l1.7,3.7l1.6,-9.3l1.7,-9.0l1.6,-22.9l1.6,-22.7l1.7,16.3l1.6,20.2l2.1,26.5l2.0,27.1l2.1,-4.3l2.0,-4.4l2.5,-16.7l2.4,-14.1l2.5,-7.2l2.4,-14.9l2.1,-5.8l2.0,-4.7l2.1,4.5l2.0,6.2l2.5,1.0l2.5,-2.0l2.4,6.5l2.5,7.4l2.4,3.1l2.5,0.8l2.4,2.5l2.5,6.1l1.9,-16.3l1.9,-20.0l1.9,-16.2l2.1,23.2l2.0,24.4l2.1,25.0l2.0,22.5l2.1,-17.7l2.0,-13.0l2.5,-16.8l2.0,5.1l2.1,2.1l2.4,3.7l2.5,3.8l2.5,-0.5l2.4,-6.1l2.1,-6.0l2.0,-5.4l2.1,3.0l2.0,5.6l2.5,6.2l2.4,3.2l2.5,-7.1l2.4,-2.7l2.5,4.2l2.5,2.3l1.9,-18.5l1.9,-17.9l1.9,-19.3l2.0,23.1l2.1,17.6l1.6,12.5l1.7,15.6l2.5,-11.3l2.5,-10.7l2.4,-12.5l2.5,-13.0l2.4,1.9l2.5,-1.9l2.4,1.5l2.5,3.2l2.5,3.8l2.4,0.7l2.5,3.1l2.4,8.9l2.5,3.0l2.5,3.8l1.6,1.2l1.6,0.0l1.7,-3.9l1.6,-5.9l2.5,-1.4l2.4,4.1l2.5,-0.6l2.4,-3.3l1.7,5.1l1.6,4.1l1.7,2.8l1.6,2.9l1.6,-13.0l1.7,-12.5l2.4,-26.9l2.1,2.9l2.0,1.9l2.5,-5.9l2.4,-2.7l2.5,4.5l2.5,-0.6l1.6,-0.1l1.6,-1.3l1.7,4.6l1.6,2.3l1.7,3.5l1.6,-0.6l1.6,4.9l1.7,2.4l2.4,-0.2l2.5,-2.2l2.4,2.4l2.5,-3.2l2.5,3.3l2.4,-1.2l2.5,4.6l2.4,4.7l1.7,9.1l1.6,4.2l2.5,-4.8l2.4,-5.0l2.5,7.2l2.4,12.5l2.5,-4.9l2.5,0.9l2.4,-0.9l2.5,-1.4l2.4,2.8l2.5,2.5l2.5,-6.9l2.4,-11.8l2.5,2.8l2.4,5.3l1.9,6.8l2.0,11.9l1.9,6.0l2.0,-14.9l2.1,-8.7l2.4,3.6l2.5,0.4l2.4,-3.4l2.5,-3.2l2.5,3.3l2.4,6.5l2.5,-3.8l2.4,-3.7l2.5,-1.8l2.4,-7.1l2.5,7.0l2.5,9.4l2.4,-4.0l2.5,-2.6l2.4,5.7l2.5,0.9l2.5,-14.5l2.4,-5.2l2.5,7.0l2.4,7.8l2.5,-7.0l2.4,-4.5l2.2,7.1l2.2,8.1l2.2,9.4l2.5,-5.6l2.4,-10.6l2.5,1.6l2.4,3.0l1.7,3.5l1.6,6.5l2.5,-3.7l2.4,-9.5l2.5,5.5l2.4,4.4l2.5,-5.8l2.5,-10.6l2.0,15.5l2.1,10.7l2.0,-9.5l2.1,-16.2l2.4,2.4l2.5,1.3l2.0,0.3l2.1,-1.3l2.0,0.4l2.1,-0.3" stroke="#2250a8" stroke-width="2.3" fill="none" stroke-linejoin="round"/>
</g>
<rect x="1272.6" y="755.4" width="520.3" height="410.7" fill="none" stroke="#4a4a4a" stroke-width="1.4"/>
<path d="M1287.5,755.4v5.5M1287.5,1166.1v-5.5M1361.8,755.4v5.5M1361.8,1166.1v-5.5M1436.1,755.4v5.5M1436.1,1166.1v-5.5M1510.5,755.4v5.5M1510.5,1166.1v-5.5M1584.8,755.4v5.5M1584.8,1166.1v-5.5M1659.1,755.4v5.5M1659.1,1166.1v-5.5M1733.4,755.4v5.5M1733.4,1166.1v-5.5M1272.6,1166.1h5.5M1792.9,1166.1h-5.5M1272.6,1107.4h5.5M1792.9,1107.4h-5.5M1272.6,1048.8h5.5M1792.9,1048.8h-5.5M1272.6,990.1h5.5M1792.9,990.1h-5.5M1272.6,931.4h5.5M1792.9,931.4h-5.5M1272.6,872.7h5.5M1792.9,872.7h-5.5M1272.6,814.1h5.5M1792.9,814.1h-5.5M1272.6,755.4h5.5M1792.9,755.4h-5.5" stroke="#4a4a4a" stroke-width="1.4" fill="none"/>
<text x="1287.2" y="1183.7" font-size="17" text-anchor="middle" font-weight="normal" fill="#333">0</text>
<text x="1359.6" y="1183.7" font-size="17" text-anchor="middle" font-weight="normal" fill="#333">0.5</text>
<text x="1435.8" y="1183.7" font-size="17" text-anchor="middle" font-weight="normal" fill="#333">1</text>
<text x="1508.3" y="1183.7" font-size="17" text-anchor="middle" font-weight="normal" fill="#333">1.5</text>
<text x="1584.5" y="1183.7" font-size="17" text-anchor="middle" font-weight="normal" fill="#333">2</text>
<text x="1656.9" y="1183.7" font-size="17" text-anchor="middle" font-weight="normal" fill="#333">2.5</text>
<text x="1733.1" y="1183.7" font-size="17" text-anchor="middle" font-weight="normal" fill="#333">3</text>
<text x="1265.0" y="1169.7" font-size="17" text-anchor="end" font-weight="normal" fill="#333">-100</text>
<text x="1265.0" y="1111.0" font-size="17" text-anchor="end" font-weight="normal" fill="#333">-80</text>
<text x="1265.0" y="1052.4" font-size="17" text-anchor="end" font-weight="normal" fill="#333">-60</text>
<text x="1265.0" y="993.7" font-size="17" text-anchor="end" font-weight="normal" fill="#333">-40</text>
<text x="1265.0" y="935.0" font-size="17" text-anchor="end" font-weight="normal" fill="#333">-20</text>
<text x="1265.0" y="876.3" font-size="17" text-anchor="end" font-weight="normal" fill="#333">0</text>
<text x="1265.0" y="817.7" font-size="17" text-anchor="end" font-weight="normal" fill="#333">20</text>
<text x="1265.0" y="759.0" font-size="17" text-anchor="end" font-weight="normal" fill="#333">40</text>
<text class="th" x="1524.9" y="1207.5" font-size="18.8" text-anchor="middle" font-weight="normal" fill="#231f20" textLength="67.6" lengthAdjust="spacingAndGlyphs">Time (s)</text>
<text class="th" x="0" y="0" font-size="19.5" text-anchor="middle" fill="#231f20" textLength="168.4" lengthAdjust="spacingAndGlyphs" transform="translate(1228.5,980.1) rotate(-90)">Neural activity index</text>
<rect x="1689.1" y="769.9" width="89.6" height="54.3" fill="#fff" stroke="#6a6a6a" stroke-width="1.3"/>
<rect x="1696.5" y="779.5" width="20.4" height="12.4" fill="#f3c7bd"/>
<rect x="1696.5" y="784.9" width="20.4" height="1.8" fill="#ec1c24"/>
<rect x="1696.5" y="802.3" width="20.4" height="12.6" fill="#a9dcea"/>
<rect x="1696.5" y="807.5" width="20.4" height="1.8" fill="#2a48a0"/>
<text x="1727.5" y="789.2" font-size="16.6" text-anchor="start" font-weight="normal" fill="#231f20" textLength="43.4" lengthAdjust="spacingAndGlyphs">Young</text>
<text x="1727.5" y="812.2" font-size="16.6" text-anchor="start" font-weight="normal" fill="#231f20" textLength="37.5" lengthAdjust="spacingAndGlyphs">Older</text>
<rect x="1623.0" y="1041.3" width="155.1" height="110.5" fill="#fff" stroke="#6a6a6a" stroke-width="1.2"/>
<g transform="translate(1623.0,1041.3)"><use href="#brainbase"/><path d="M125.9,18.3C124.7,17.4 122.4,19.5 120.8,19.8C119.2,20.1 118.0,20.5 116.3,20.3C114.6,20.1 112.4,18.9 110.8,18.6C109.2,18.3 107.2,17.4 106.6,18.3C106.0,19.2 106.5,22.3 107.1,24.1C107.8,25.9 110.6,27.8 110.5,28.9C110.4,30.0 108.5,29.9 106.6,30.9C104.7,31.9 100.4,33.1 98.9,34.7C97.5,36.3 98.4,39.4 97.9,40.5C97.4,41.6 95.2,40.7 96.0,41.5C96.8,42.3 100.2,44.3 102.8,45.3C105.4,46.3 108.9,46.5 111.5,47.3C114.1,48.1 116.0,49.7 118.2,50.2C120.5,50.7 123.2,50.5 125.0,50.2C126.9,49.9 128.7,49.5 129.3,48.2C129.9,46.9 128.8,44.2 128.8,42.4C128.8,40.6 129.5,39.4 129.3,37.6C129.2,35.8 128.1,33.9 127.9,31.8C127.7,29.7 128.2,27.4 127.9,25.1C127.6,22.9 127.1,19.2 125.9,18.3Z" fill="#f0262a" fill-opacity="0.93"/><path d="M127.8,93.5C126.5,93.6 121.8,95.0 118.8,96.0C115.8,97.0 112.1,98.6 109.8,99.5C107.5,100.4 106.1,101.4 104.8,101.5C103.5,101.6 102.5,99.8 101.8,100.0C101.1,100.2 100.5,101.8 100.8,102.5C101.1,103.2 102.3,104.0 103.8,104.0C105.3,104.0 107.3,103.3 109.8,102.5C112.3,101.7 116.0,100.2 118.8,99.0C121.6,97.8 125.3,96.4 126.8,95.5C128.3,94.6 129.1,93.4 127.8,93.5Z" fill="#f0262a" fill-opacity="0.93"/><path d="M127.8,41.0C126.0,40.4 120.6,38.7 116.8,37.5C113.0,36.3 108.0,34.8 104.8,34.0C101.6,33.2 99.0,33.2 97.8,33.0" fill="none" stroke="#7a1a1a" stroke-width="0.9" stroke-opacity="0.55"/><path d="M125.8,47.0C124.0,46.3 118.8,44.2 114.8,43.0C110.8,41.8 104.0,40.1 101.8,39.5" fill="none" stroke="#7a1a1a" stroke-width="0.9" stroke-opacity="0.55"/><path d="M123.8,30.0C122.5,29.6 118.3,28.3 115.8,27.5C113.3,26.7 110.0,25.4 108.8,25.0" fill="none" stroke="#7a1a1a" stroke-width="0.9" stroke-opacity="0.55"/><circle cx="110.30000000000001" cy="28.5" r="1.3" fill="#b9c4c4"/><circle cx="126.30000000000001" cy="48.5" r="1.3" fill="#b9c4c4"/><circle cx="121.80000000000001" cy="49.5" r="1.3" fill="#b9c4c4"/></g>
<g fill="#231f20" transform="translate(1280.6,1246.6)"><ellipse cx="4.9" cy="-3.0" rx="5.1" ry="2.85" transform="rotate(-21 4.9 -3.0)"/><rect x="8.7" y="-23.4" width="1.45" height="20.5"/><path d="M8.7,-23.6 C10.0,-20.8 13.6,-18.9 15.6,-15.7 C16.9,-13.5 16.5,-10.7 15.0,-8.6 C15.4,-10.8 15.0,-12.6 13.6,-14.2 C12.4,-15.5 11.0,-16.0 10.1,-17.0 L10.1,-23.6 Z"/></g>
<g fill="#231f20" transform="translate(1337.6,1246.6)"><ellipse cx="4.9" cy="-3.0" rx="5.1" ry="2.85" transform="rotate(-21 4.9 -3.0)"/><rect x="8.7" y="-23.4" width="1.45" height="20.5"/><path d="M8.7,-23.6 C10.0,-20.8 13.6,-18.9 15.6,-15.7 C16.9,-13.5 16.5,-10.7 15.0,-8.6 C15.4,-10.8 15.0,-12.6 13.6,-14.2 C12.4,-15.5 11.0,-16.0 10.1,-17.0 L10.1,-23.6 Z"/></g>
<g fill="#231f20" transform="translate(1389.3,1246.6)"><ellipse cx="4.9" cy="-3.0" rx="5.1" ry="2.85" transform="rotate(-21 4.9 -3.0)"/><rect x="8.7" y="-23.4" width="1.45" height="20.5"/><path d="M8.7,-23.6 C10.0,-20.8 13.6,-18.9 15.6,-15.7 C16.9,-13.5 16.5,-10.7 15.0,-8.6 C15.4,-10.8 15.0,-12.6 13.6,-14.2 C12.4,-15.5 11.0,-16.0 10.1,-17.0 L10.1,-23.6 Z"/></g>
<g fill="#e5222a" transform="translate(1444.0,1246.6)"><ellipse cx="4.9" cy="-3.0" rx="5.1" ry="2.85" transform="rotate(-21 4.9 -3.0)"/><rect x="8.7" y="-23.4" width="1.45" height="20.5"/><path d="M8.7,-23.6 C10.0,-20.8 13.6,-18.9 15.6,-15.7 C16.9,-13.5 16.5,-10.7 15.0,-8.6 C15.4,-10.8 15.0,-12.6 13.6,-14.2 C12.4,-15.5 11.0,-16.0 10.1,-17.0 L10.1,-23.6 Z"/></g>
<g fill="#e5222a" transform="translate(1497.3,1246.6)"><ellipse cx="4.9" cy="-3.0" rx="5.1" ry="2.85" transform="rotate(-21 4.9 -3.0)"/><rect x="8.7" y="-23.4" width="1.45" height="20.5"/><path d="M8.7,-23.6 C10.0,-20.8 13.6,-18.9 15.6,-15.7 C16.9,-13.5 16.5,-10.7 15.0,-8.6 C15.4,-10.8 15.0,-12.6 13.6,-14.2 C12.4,-15.5 11.0,-16.0 10.1,-17.0 L10.1,-23.6 Z"/></g>
<text class="th" x="305.6" y="1416.9" font-size="27.5" text-anchor="middle" font-weight="normal" fill="#231f20" textLength="134.0" lengthAdjust="spacingAndGlyphs">Memorised</text>
<clipPath id="clip20"><rect x="60.0" y="1439.9" width="520.3" height="410.7"/></clipPath>
<rect x="87.5" y="1439.9" width="7.2" height="410.7" fill="#dcdcde"/>
<rect x="108.8" y="1439.9" width="3.6" height="410.7" fill="#dcdcde"/>
<rect x="135.1" y="1439.9" width="6.8" height="410.7" fill="#dcdcde"/>
<rect x="144.4" y="1439.9" width="5.4" height="410.7" fill="#dcdcde"/>
<rect x="200.1" y="1439.9" width="3.6" height="410.7" fill="#dcdcde"/>
<rect x="310.2" y="1439.9" width="4.3" height="410.7" fill="#dcdcde"/>
<path d="M74.9,1439.9V1850.6M89.7,1439.9V1850.6M104.6,1439.9V1850.6M119.5,1439.9V1850.6M134.3,1439.9V1850.6M149.2,1439.9V1850.6M164.1,1439.9V1850.6M178.9,1439.9V1850.6M193.8,1439.9V1850.6M208.7,1439.9V1850.6M223.5,1439.9V1850.6M238.4,1439.9V1850.6M253.3,1439.9V1850.6M268.1,1439.9V1850.6M283.0,1439.9V1850.6M297.9,1439.9V1850.6M312.7,1439.9V1850.6M327.6,1439.9V1850.6M342.4,1439.9V1850.6M357.3,1439.9V1850.6M372.2,1439.9V1850.6M387.0,1439.9V1850.6M401.9,1439.9V1850.6M416.8,1439.9V1850.6M431.6,1439.9V1850.6M446.5,1439.9V1850.6M461.4,1439.9V1850.6M476.2,1439.9V1850.6M491.1,1439.9V1850.6M506.0,1439.9V1850.6M520.8,1439.9V1850.6M535.7,1439.9V1850.6M550.6,1439.9V1850.6M565.4,1439.9V1850.6M60.0,1841.5H580.3M60.0,1832.3H580.3M60.0,1823.2H580.3M60.0,1814.1H580.3M60.0,1805.0H580.3M60.0,1795.8H580.3M60.0,1786.7H580.3M60.0,1777.6H580.3M60.0,1768.5H580.3M60.0,1759.3H580.3M60.0,1750.2H580.3M60.0,1741.1H580.3M60.0,1732.0H580.3M60.0,1722.8H580.3M60.0,1713.7H580.3M60.0,1704.6H580.3M60.0,1695.4H580.3M60.0,1686.3H580.3M60.0,1677.2H580.3M60.0,1668.1H580.3M60.0,1658.9H580.3M60.0,1649.8H580.3M60.0,1640.7H580.3M60.0,1631.6H580.3M60.0,1622.4H580.3M60.0,1613.3H580.3M60.0,1604.2H580.3M60.0,1595.1H580.3M60.0,1585.9H580.3M60.0,1576.8H580.3M60.0,1567.7H580.3M60.0,1558.5H580.3M60.0,1549.4H580.3M60.0,1540.3H580.3M60.0,1531.2H580.3M60.0,1522.0H580.3M60.0,1512.9H580.3M60.0,1503.8H580.3M60.0,1494.7H580.3M60.0,1485.5H580.3M60.0,1476.4H580.3M60.0,1467.3H580.3M60.0,1458.2H580.3M60.0,1449.0H580.3" stroke="#c6c6c6" stroke-width="1" stroke-dasharray="1.3 1.7" fill="none"/>
<g clip-path="url(#clip20)">
<path d="M60.0,1564.9l1.6,4.2l1.7,-3.3l1.6,1.4l1.7,-5.2l1.6,6.8l1.6,1.3l1.7,7.3l1.6,3.4l1.6,-7.1l1.7,-15.0l2.0,-0.1l2.1,1.6l1.6,-19.5l1.7,-22.5l2.4,44.9l3.0,248.7l2.9,-77.6l2.3,-105.4l1.7,-45.9l1.6,-42.8l1.6,8.1l1.7,-2.9l2.4,25.3l2.1,-16.1l2.0,-17.1l2.1,-15.1l2.0,-21.1l2.5,31.9l1.6,-9.4l1.7,-10.8l1.6,3.1l1.6,7.3l2.5,-12.6l2.0,11.2l2.1,10.5l1.6,3.8l1.7,-1.6l2.4,-17.6l2.5,14.1l1.6,-5.0l1.7,-4.3l1.6,14.7l1.6,11.0l1.7,8.1l2.0,-33.5l2.1,-33.9l2.4,57.4l2.5,49.5l2.5,0.5l2.4,-32.6l1.6,1.5l1.7,6.2l2.4,15.6l2.1,-21.7l2.0,-22.8l2.1,11.6l2.0,6.2l2.5,-17.4l2.5,-27.3l1.6,13.5l1.6,10.7l1.7,-12.2l1.6,-7.0l2.5,-4.1l2.4,-3.0l1.7,3.9l1.6,6.3l2.1,17.5l2.0,15.3l1.6,-7.1l1.7,-11.2l1.6,-20.8l1.7,-28.9l1.6,25.0l1.6,26.9l1.7,16.1l1.6,11.1l2.5,32.8l1.6,-4.1l1.6,-9.4l1.7,-5.1l1.6,-8.4l2.5,3.6l2.4,2.7l1.7,-0.9l1.6,1.5l1.7,-13.4l1.6,-17.7l1.6,-7.8l1.7,-3.8l2.0,15.7l2.1,16.2l2.0,-9.7l2.1,-9.8l2.4,-10.2l2.5,-11.9l2.4,11.5l2.5,1.2l1.9,-1.0l1.9,-5.6l1.9,0.7l2.5,24.0l2.5,12.6l2.4,17.5l2.1,9.6l2.0,5.9l2.1,-8.5l2.0,-5.3l1.6,7.5l1.7,3.4l2.0,-7.8l2.1,-17.1l2.0,6.3l2.1,9.6l2.4,-23.2l2.5,-22.0l1.6,-2.0l1.7,-7.4l2.4,-4.1l2.5,-8.4l1.6,11.7l1.7,9.1l2.4,2.2l2.5,8.8l2.0,-11.3l2.1,-2.9l2.0,-27.2l2.1,-17.6l1.6,16.2l1.7,19.4l2.4,46.9l2.1,5.3l2.0,6.7l2.8,5.1l1.6,-13.8l1.6,-4.2l1.6,4.8l1.7,6.4l1.6,5.5l1.6,-12.7l1.7,-20.5l1.6,12.3l1.7,3.9l2.4,-25.2l2.5,-19.7l2.4,16.3l2.5,-12.4l2.5,-4.2l1.6,9.5l1.6,6.8l2.1,-1.7l2.0,-6.6l1.7,6.6l1.6,8.2l2.1,-5.2l2.0,-4.2l2.1,15.6l2.0,15.3l1.6,10.7l1.7,8.6l2.4,32.5l2.5,-31.3l1.6,-4.1l1.7,-2.3l1.6,8.6l1.7,5.5l1.6,-9.1l1.6,-11.3l1.7,6.5l1.6,5.3l1.6,-5.8l1.7,-6.6l1.6,17.1l1.7,14.4l1.6,-10.7l1.6,-11.9l1.7,-9.8l1.6,-7.2l1.7,4.7l1.6,0.2l1.6,-0.7l1.7,0.1l1.6,1.3l1.7,10.1l1.6,-3.7l1.6,2.7l2.1,-20.4l2.0,-17.9l1.7,14.4l1.6,8.6l2.5,10.9l1.6,11.6l1.6,6.5l1.7,9.1l1.6,2.5l1.7,9.4l1.6,9.7l1.6,-5.3l1.7,-5.7l1.6,3.8l1.6,0.8l2.1,1.7l2.0,14.2l2.1,-14.8l2.0,-11.8l1.7,1.4l1.6,7.5l1.7,-13.9l1.6,-8.3l1.6,3.1l1.7,3.0l1.6,-7.4l1.7,-5.3l1.6,3.6l1.6,0.6l1.7,8.2l1.6,4.3l2.5,-12.5l2.4,-9.3l2.5,5.4l2.4,7.0l2.5,1.8l2.5,4.0l2.0,5.4l2.1,3.9l2.0,-3.1l2.1,-3.4l2.4,-2.8l2.5,-5.5l1.6,5.1l1.6,2.3l2.1,-10.7l2.0,-10.7l2.5,-24.0l2.5,10.7l2.4,2.3l2.5,-7.3l2.4,-2.1l2.5,2.4l2.5,1.4l2.4,0.9l2.5,-6.3l2.4,-5.6l2.5,-4.5l2.4,12.9l2.5,16.4l2.5,-10.8l2.4,-2.9l2.5,-6.6l2.4,-15.5l2.5,17.7l2.4,8.3l2.5,-2.6l2.5,-8.8l2.4,4.2l2.5,6.6l2.4,-9.2l2.5,-1.3l2.5,1.2l2.4,4.0l2.5,-6.4l2.4,0.5l1.7,0.9l1.6,4.9l2.2,1.5l2.2,-2.5l2.2,2.4l0.0,12.1l-2.2,0.2l-2.2,-3.8l-2.2,-0.2l-1.6,-0.1l-1.7,-4.5l-2.4,6.9l-2.5,4.4l-2.4,-5.5l-2.5,-2.1l-2.5,6.1l-2.4,3.9l-2.5,-1.1l-2.4,-8.0l-2.5,6.4l-2.5,3.7l-2.4,-14.1l-2.5,-9.5l-2.4,6.0l-2.5,12.7l-2.4,7.6l-2.5,5.9l-2.5,-12.9l-2.4,-14.3l-2.5,7.0l-2.4,4.0l-2.5,8.1l-2.4,-1.7l-2.5,-0.5l-2.5,-3.1l-2.4,3.0l-2.5,2.2l-2.4,-8.1l-2.5,-3.8l-2.5,23.1l-2.0,15.3l-2.1,4.5l-1.6,-3.5l-1.6,-0.1l-2.5,3.5l-2.4,5.2l-2.1,6.2l-2.0,-1.6l-2.1,-3.1l-2.0,-3.2l-2.5,-2.8l-2.5,-6.0l-2.4,-3.5l-2.5,-12.6l-2.4,16.8l-2.5,6.7l-1.6,-6.5l-1.7,-2.4l-1.6,-3.0l-1.6,1.6l-1.7,5.6l-1.6,5.6l-1.7,-2.8l-1.6,-4.3l-1.6,10.0l-1.7,6.8l-1.6,-1.6l-1.7,-2.0l-2.0,10.6l-2.1,15.3l-2.0,-9.9l-2.1,-7.4l-1.6,-3.4l-1.6,-1.2l-1.7,6.8l-1.6,4.8l-1.6,-4.2l-1.7,-9.6l-1.6,-7.2l-1.7,-5.8l-1.6,-8.5l-1.6,-14.0l-2.5,-9.8l-1.6,-14.7l-1.7,-12.1l-2.0,19.4l-2.1,21.7l-1.6,-1.2l-1.6,4.8l-1.7,-8.0l-1.6,-5.2l-1.7,-1.7l-1.6,6.5l-1.6,-6.0l-1.7,0.3l-1.6,2.1l-1.7,14.9l-1.6,8.4l-1.6,6.4l-1.7,-13.6l-1.6,-13.3l-1.7,6.6l-1.6,1.3l-1.6,-0.8l-1.7,-6.1l-1.6,10.9l-1.6,10.6l-1.7,-6.3l-1.6,-12.2l-1.7,6.4l-1.6,3.0l-2.5,29.9l-2.4,-36.1l-1.7,-5.3l-1.6,-15.2l-2.0,-12.7l-2.1,-15.5l-2.0,5.1l-2.1,6.1l-1.6,-4.6l-1.7,-0.7l-2.0,-1.1l-2.1,2.1l-1.6,-5.9l-1.6,-10.4l-2.5,5.0l-2.5,8.4l-2.4,-11.7l-2.5,14.2l-2.4,27.1l-1.7,-1.9l-1.6,-5.5l-1.7,11.0l-1.6,15.4l-1.6,-6.1l-1.7,-5.3l-1.6,-1.1l-1.6,-4.5l-1.6,23.2l-2.8,-6.2l-2.0,-5.6l-2.1,-11.4l-2.4,-48.4l-1.7,-17.5l-1.6,-17.2l-2.1,22.6l-2.0,20.1l-2.1,7.5l-2.0,9.7l-2.5,-1.7l-2.4,-7.0l-1.7,-8.3l-1.6,-13.1l-2.5,0.5l-2.4,13.8l-1.7,2.8l-1.6,3.4l-2.5,23.3l-2.4,22.9l-2.1,-8.9l-2.0,-6.0l-2.1,13.1l-2.0,7.6l-1.7,-2.2l-1.6,-8.3l-2.0,7.9l-2.1,17.0l-2.0,-14.0l-2.1,-9.3l-2.4,-16.8l-2.5,-14.6l-2.5,-28.2l-1.9,3.7l-1.9,7.3l-1.9,4.5l-2.5,-12.9l-2.4,-2.6l-2.5,4.6l-2.4,13.0l-2.1,11.1l-2.0,12.8l-2.1,-18.4l-2.0,-14.5l-1.7,4.3l-1.6,13.7l-1.6,10.6l-1.7,12.3l-1.6,-3.6l-1.7,3.4l-2.4,-1.1l-2.5,-9.3l-1.6,10.3l-1.7,14.1l-1.6,2.7l-1.6,-0.4l-2.5,-23.2l-1.6,-19.3l-1.7,-12.3l-1.6,-28.4l-1.6,-23.2l-1.7,26.5l-1.6,22.6l-1.7,9.2l-1.6,8.6l-2.0,-18.1l-2.1,-13.1l-1.6,-5.6l-1.7,-10.5l-2.4,5.6l-2.5,2.2l-1.6,14.2l-1.7,9.0l-1.6,-10.4l-1.6,-8.1l-2.5,21.8l-2.5,20.0l-2.0,-12.6l-2.1,-11.8l-2.0,25.2l-2.1,25.1l-2.4,-20.4l-1.7,3.5l-1.6,-11.0l-2.4,34.5l-2.5,-0.2l-2.5,-48.1l-2.4,-59.6l-2.1,37.1l-2.0,36.1l-1.7,-11.8l-1.6,-14.2l-1.6,-9.4l-1.7,0.3l-1.6,3.9l-2.5,-9.2l-2.4,19.7l-1.7,-5.0l-1.6,1.3l-2.1,-9.2l-2.0,-13.7l-2.5,11.7l-1.6,-6.3l-1.6,-3.5l-1.7,11.9l-1.6,5.6l-2.5,-30.3l-2.0,21.0l-2.1,17.1l-2.0,15.6l-2.1,12.5l-2.4,-18.9l-1.7,-0.3l-1.6,-7.3l-1.6,39.6l-1.7,47.5l-2.3,105.2l-2.9,80.5l-3.0,-250.3l-2.4,-42.5l-1.7,17.2l-1.6,17.2l-2.1,5.5l-2.0,-1.3l-1.7,11.2l-1.6,14.6l-1.6,-3.4l-1.7,-9.7l-1.6,-8.8l-1.6,-2.5l-1.7,1.6l-1.6,3.3l-1.7,-1.7l-1.6,-0.3z" fill="#9fd6e9" fill-opacity="0.75"/>
<path d="M60.0,1565.2l2.5,2.4l2.4,-0.4l2.5,3.5l2.4,-0.9l2.2,10.5l2.2,2.0l2.2,8.1l1.6,-10.1l1.7,-8.3l2.0,-10.2l2.1,-8.0l2.4,24.0l2.0,59.2l2.9,-39.0l2.5,-27.1l2.5,1.9l1.6,-10.2l1.6,-4.3l1.7,18.9l1.6,24.0l2.0,8.5l1.9,-16.4l1.8,-11.1l1.7,-1.5l1.6,-8.6l2.1,-21.7l2.0,-19.2l1.7,0.2l1.6,-6.1l1.6,-6.6l1.7,-9.9l1.6,11.1l1.7,0.9l1.6,5.0l1.6,8.0l1.7,7.9l1.6,8.4l1.6,18.2l1.7,6.5l1.6,12.2l1.7,-1.6l2.0,10.4l2.1,18.8l2.0,-18.4l2.1,-17.1l2.4,-0.7l2.1,-1.0l2.0,-9.6l2.5,22.8l2.4,18.1l2.1,13.7l2.0,3.3l2.1,-23.3l2.0,-25.0l2.1,-9.5l2.0,-13.6l1.9,3.3l1.9,-3.0l2.0,2.6l2.4,-4.0l2.5,-8.4l2.4,-5.4l2.5,0.4l1.6,4.8l1.7,9.5l2.4,4.2l2.5,9.3l2.4,-7.4l2.5,-0.5l2.5,4.0l2.4,10.1l1.7,12.9l1.6,11.7l1.6,-7.7l1.7,0.1l2.0,6.3l2.1,9.1l1.9,11.2l1.9,6.7l1.9,6.1l1.6,-10.5l1.7,-6.0l1.6,-16.7l1.7,-14.3l2.4,-15.2l2.5,-10.7l1.6,-3.1l1.7,-5.3l2.0,-3.1l2.0,-6.6l2.0,2.9l1.9,5.2l1.9,-1.2l2.4,8.1l2.5,3.9l2.5,-4.9l2.4,-6.0l2.5,6.0l2.4,16.1l2.5,14.6l2.5,11.8l2.0,18.0l2.0,15.4l2.1,8.5l2.0,6.7l2.5,-18.6l2.5,-4.4l2.4,-7.9l2.5,-15.0l2.4,-13.1l2.5,-13.5l2.5,-12.1l2.4,-8.1l1.6,-3.5l1.7,-10.8l1.6,16.2l1.7,12.8l1.6,-0.3l1.6,3.9l1.7,8.0l1.6,5.9l2.1,-8.0l2.0,-15.6l2.1,13.4l2.0,2.0l2.5,9.3l2.4,16.3l1.7,8.0l1.6,5.3l2.8,13.9l1.6,-2.5l1.6,-3.6l2.5,-13.4l2.4,-6.7l1.6,-20.9l1.7,-19.8l1.6,-13.8l1.7,-10.5l2.4,-13.6l2.5,-14.9l2.4,8.5l2.5,-12.2l1.6,10.3l1.7,5.4l1.6,9.5l1.7,8.0l1.6,13.4l1.6,12.0l1.7,5.5l1.6,2.4l2.5,-0.6l2.4,-3.1l1.7,5.0l1.6,2.3l2.5,4.6l2.4,5.5l1.7,-5.1l1.6,0.0l1.6,0.5l1.7,10.1l1.6,-6.0l1.7,-3.0l2.4,-6.4l2.5,-6.1l2.4,-9.6l2.5,-4.1l1.6,7.6l1.7,15.8l1.6,-6.6l1.6,-0.7l2.1,-6.5l2.0,-7.5l1.7,4.9l1.6,6.3l2.1,11.7l2.0,0.2l2.5,0.5l2.4,-0.6l1.7,5.8l1.6,10.6l2.5,1.6l2.4,4.7l2.5,-2.5l2.4,4.1l2.5,1.4l2.5,3.0l2.4,-4.4l2.5,-6.5l1.6,3.0l1.6,5.1l2.5,-4.8l2.5,-13.3l2.2,3.8l2.1,-2.9l2.2,-1.8l2.5,10.1l2.4,8.9l1.7,0.2l1.6,-10.0l2.5,-8.8l2.4,-2.8l2.5,6.4l2.4,11.6l2.5,-13.5l2.5,-7.7l2.4,1.9l2.5,-2.7l2.4,8.7l2.5,-1.5l1.6,-5.3l1.7,-7.5l2.4,-3.4l2.5,7.9l1.6,-7.4l1.7,-2.9l2.4,-1.6l2.5,2.9l1.6,-8.2l1.7,-2.9l1.6,4.8l1.6,6.8l2.5,2.7l2.5,-0.4l2.4,3.6l2.5,2.5l2.4,1.9l2.5,-0.9l1.6,11.1l1.7,11.7l2.4,-7.3l2.5,-7.1l1.6,3.5l1.7,12.7l2.4,3.0l2.5,-1.2l2.4,-5.5l2.5,-3.2l2.5,-3.0l2.4,-7.8l1.6,10.3l1.7,4.8l1.6,-3.6l1.7,-9.6l2.4,-1.1l2.5,-6.6l2.4,13.3l2.5,11.8l2.5,-6.1l2.4,-13.8l2.5,4.1l2.4,4.5l1.7,1.3l1.6,2.2l2.2,2.0l2.2,-1.2l2.2,0.5l0.0,13.8l-2.2,1.4l-2.2,-0.6l-2.2,2.8l-1.6,-3.7l-1.7,0.3l-2.4,-10.4l-2.5,-8.0l-2.4,13.2l-2.5,11.0l-2.5,-4.6l-2.4,-14.9l-2.5,3.4l-2.4,1.4l-1.7,10.6l-1.6,1.5l-1.7,-4.4l-1.6,-8.4l-2.4,0.2l-2.5,6.6l-2.5,6.4l-2.4,5.6l-2.5,-1.4l-2.4,-3.6l-1.7,-6.5l-1.6,-7.6l-2.5,7.5l-2.4,7.3l-1.7,-12.6l-1.6,-7.7l-2.5,-2.9l-2.4,-3.6l-2.5,2.9l-2.4,-4.3l-2.5,-0.3l-2.5,1.2l-1.6,-8.5l-1.6,-13.2l-1.7,7.8l-1.6,12.1l-2.5,-7.6l-2.4,0.5l-1.7,7.2l-1.6,8.3l-2.5,-8.5l-2.4,-5.0l-1.7,9.3l-1.6,14.5l-2.5,-12.1l-2.4,0.6l-2.5,1.1l-2.4,-0.8l-2.5,5.8l-2.5,10.4l-2.4,-2.7l-2.5,-14.0l-2.4,8.5l-2.5,8.1l-1.6,-0.9l-1.7,7.6l-2.4,-8.7l-2.5,-14.1l-2.2,9.4l-2.1,0.8l-2.2,4.9l-2.5,-1.2l-2.5,9.1l-1.6,-5.0l-1.6,-4.4l-2.5,5.6l-2.4,5.4l-2.5,0.3l-2.5,-2.1l-2.4,0.0l-2.5,-7.4l-2.4,2.5l-2.5,-7.1l-1.6,-3.7l-1.7,-7.1l-2.4,-2.3l-2.5,-4.6l-2.0,-1.5l-2.1,-2.6l-1.6,-8.1l-1.7,-6.0l-2.0,6.1l-2.1,9.3l-1.6,2.4l-1.6,0.4l-1.7,-11.1l-1.6,-16.4l-2.5,9.6l-2.4,8.0l-2.5,10.0l-2.4,6.1l-1.7,1.7l-1.6,3.7l-1.7,-4.6l-1.6,-5.9l-1.6,-0.2l-1.7,3.4l-2.4,0.7l-2.5,-2.3l-1.6,-10.6l-1.7,-3.6l-2.4,5.8l-2.5,2.8l-1.6,-2.4l-1.7,-8.5l-1.6,-9.4l-1.6,-13.8l-1.7,-10.0l-1.6,-3.8l-1.7,-7.4l-1.6,-14.7l-2.5,15.6l-2.4,-12.7l-2.5,16.8l-2.4,16.1l-1.7,11.3l-1.6,10.5l-1.7,18.4l-1.6,16.4l-2.4,15.1l-2.5,9.9l-1.6,5.4l-1.6,4.1l-2.8,-19.5l-1.6,-4.7l-1.7,-3.2l-2.4,-15.5l-2.5,-10.5l-2.0,-3.8l-2.1,-9.1l-2.0,8.6l-2.1,10.2l-1.6,-8.5l-1.7,-4.1l-1.6,-0.2l-1.6,-2.5l-1.7,-17.1l-1.6,-10.2l-1.7,9.0l-1.6,6.0l-2.4,6.9l-2.5,8.5l-2.5,16.8l-2.4,12.0l-2.5,8.9l-2.4,14.4l-2.5,8.1l-2.5,11.9l-2.0,-5.8l-2.1,-4.5l-2.0,-15.5l-2.0,-18.4l-2.5,-19.5l-2.5,-9.6l-2.4,-9.8l-2.5,-10.1l-2.4,7.0l-2.5,5.0l-2.5,-7.9l-2.4,-4.5l-1.9,-5.8l-1.9,2.8l-2.0,-6.5l-2.0,3.8l-2.0,6.2l-1.7,4.9l-1.6,5.9l-2.5,12.3l-2.4,6.5l-1.7,17.6l-1.6,13.9l-1.7,13.3l-1.6,7.3l-1.9,-7.9l-1.9,-7.7l-1.9,-2.8l-2.1,-15.4l-2.0,-8.3l-1.7,1.1l-1.6,7.0l-1.6,-14.2l-1.7,-9.1l-2.4,-7.3l-2.5,-7.2l-2.5,2.2l-2.4,7.9l-2.5,-11.7l-2.4,-5.1l-1.7,-11.3l-1.6,-4.1l-2.5,2.0l-2.4,8.9l-2.5,5.8l-2.4,5.4l-2.0,-3.1l-1.9,-2.4l-1.9,5.0l-2.0,11.9l-2.1,9.0l-2.0,21.3l-2.1,22.2l-2.0,-1.3l-2.1,-5.4l-2.4,-29.2l-2.5,-18.5l-2.0,5.2l-2.1,7.6l-2.4,-5.1l-2.1,17.3l-2.0,17.8l-2.1,-11.2l-2.0,-14.0l-1.7,2.0l-1.6,-3.5l-1.7,-15.0l-1.6,-15.4l-1.6,-9.9l-1.7,-10.9l-1.6,-11.1l-1.6,-6.2l-1.7,3.0l-1.6,-3.2l-1.7,5.3l-1.6,7.7l-1.6,3.4l-1.7,1.0l-2.0,23.3l-2.1,15.4l-1.6,2.9l-1.7,5.5l-1.8,13.3l-1.9,15.1l-2.0,-9.9l-1.6,-21.2l-1.7,-21.4l-1.6,12.2l-1.6,6.2l-2.5,0.5l-2.5,17.2l-2.9,39.4l-2.0,-50.5l-2.4,-30.1l-2.1,11.2l-2.0,10.2l-1.7,7.2l-1.6,11.7l-2.2,-4.8l-2.2,-5.7l-2.2,-8.4l-2.4,0.4l-2.5,-7.3l-2.4,3.1l-2.5,0.5z" fill="#f2bcb0" fill-opacity="0.75"/>
<path d="M60.0,1577.7l2.5,1.9l2.4,-9.3l2.5,10.5l2.4,-0.5l2.2,4.4l2.2,4.3l2.2,8.3l1.6,-9.3l1.7,-10.5l2.0,-5.9l2.1,-10.3l2.4,28.0l2.0,53.9l2.9,-39.5l2.5,-25.8l2.5,2.4l1.6,-7.5l1.6,-8.3l1.7,22.8l1.6,20.4l2.0,9.3l1.9,-12.6l1.8,-12.8l1.7,-6.4l1.6,-6.9l2.1,-16.9l2.0,-20.0l1.7,-5.3l1.6,-2.7l1.6,-4.8l1.7,-8.7l1.6,5.5l1.7,-1.9l1.6,11.9l1.6,2.5l1.7,15.3l1.6,10.2l1.6,8.8l1.7,14.0l1.6,4.0l1.7,7.1l2.0,8.1l2.1,13.2l2.0,-17.3l2.1,-18.1l2.4,1.3l2.1,-7.2l2.0,-2.9l2.5,23.2l2.4,24.1l2.1,4.2l2.0,7.5l2.1,-28.2l2.0,-17.7l2.1,-15.4l2.0,-8.6l1.9,0.9l1.9,-4.5l2.0,1.5l2.4,-1.6l2.5,-8.1l2.4,-4.2l2.5,-4.3l1.6,8.1l1.7,8.6l2.4,7.2l2.5,7.3l2.4,-6.3l2.5,-3.6l2.5,11.3l2.4,6.1l1.7,11.3l1.6,10.7l1.6,-2.6l1.7,-5.6l2.0,11.0l2.1,13.3l1.9,11.6l1.9,0.5l1.9,4.6l1.6,-8.6l1.7,-8.5l1.6,-14.5l1.7,-15.0l2.4,-12.6l2.5,-9.9l1.6,-5.5l1.7,-4.4l2.0,-4.4l2.0,-5.1l2.0,0.4l1.9,5.7l1.9,-1.4l2.4,6.3l2.5,8.6l2.5,-8.9l2.4,-4.2l2.5,11.4l2.4,8.0l2.5,18.8l2.5,12.4l2.0,13.5l2.0,17.1l2.1,13.7l2.0,0.2l2.5,-6.1l2.5,-13.4l2.4,-15.6l2.5,-10.2l2.4,-10.5l2.5,-17.9l2.5,-6.1l2.4,-11.9l1.6,-4.1l1.7,-5.8l1.6,13.9l1.7,6.3l1.6,2.3l1.6,7.2l1.7,6.0l1.6,3.6l2.1,-8.4l2.0,-8.0l2.1,4.1l2.0,11.7l2.5,9.5l2.4,5.0l1.7,5.6l1.6,13.7l2.8,16.0l1.6,-2.0l1.6,-8.1l2.5,-9.8l2.4,-13.5l1.6,-15.6l1.7,-17.0l1.6,-16.3l1.7,-10.1l2.4,-13.0l2.5,-15.9l2.4,9.8l2.5,-13.1l1.6,7.4l1.7,13.4l1.6,8.0l1.7,4.2l1.6,13.3l1.6,12.0l1.7,6.5l1.6,4.0l2.5,-0.4l2.4,-6.1l1.7,5.4l1.6,3.6l2.5,4.6l2.4,2.8l1.7,-2.2l1.6,-4.4l1.6,6.9l1.7,6.2l1.6,-7.1l1.7,-2.9l2.4,-3.6l2.5,-11.0l2.4,-6.1l2.5,-8.6l1.6,12.5l1.7,11.0l1.6,-3.8l1.6,3.8l2.1,-10.1l2.0,-6.9l1.7,7.2l1.6,4.9l2.1,6.1l2.0,3.3l2.5,3.5l2.4,-4.7l1.7,13.0l1.6,6.5l2.5,1.1l2.4,1.4l2.5,6.1l2.4,-0.8l2.5,-0.7l2.5,7.1l2.4,-9.7l2.5,-4.9l1.6,8.6l1.6,1.2l2.5,-6.5l2.5,-10.9l2.2,-1.0l2.1,-1.5l2.2,-1.4l2.5,13.4l2.4,7.9l1.7,-5.6l1.6,-2.1l2.5,-7.6l2.4,-4.4l2.5,10.6l2.4,2.6l2.5,-13.9l2.5,-5.1l2.4,3.6l2.5,-0.9l2.4,3.1l2.5,3.3l1.6,-11.2l1.7,-6.8l2.4,3.3l2.5,4.9l1.6,-8.0l1.7,-1.9l2.4,-3.3l2.5,2.4l1.6,-1.3l1.7,-9.2l1.6,1.5l1.6,14.3l2.5,-0.4l2.5,1.0l2.4,-0.1l2.5,4.3l2.4,-1.4l2.5,4.4l1.6,12.9l1.7,7.7l2.4,-7.6l2.5,-5.5l1.6,10.7l1.7,3.2l2.4,6.0l2.5,-0.2l2.4,-3.2l2.5,-4.7l2.5,-7.7l2.4,-4.1l1.6,10.0l1.7,6.4l1.6,-6.9l1.7,-7.8l2.4,-3.5l2.5,-1.0l2.4,10.0l2.5,9.2l2.5,-9.2l2.4,-13.7l2.5,9.0l2.4,3.5l1.7,5.5l1.6,0.3l2.2,-1.0l2.2,3.6l2.2,-2.9" stroke="#ee2a24" stroke-width="2.3" fill="none" stroke-linejoin="round"/>
<path d="M60.0,1571.1l1.6,1.8l1.7,6.9l1.6,-8.6l1.7,-3.4l1.6,4.3l1.6,4.1l1.7,9.2l1.6,7.0l1.6,-13.5l1.7,-10.3l2.0,-6.7l2.1,3.0l1.6,-15.4l1.7,-21.0l2.4,43.2l3.0,251.1l2.9,-84.1l2.3,-100.3l1.7,-48.1l1.6,-43.8l1.6,3.5l1.7,9.6l2.4,14.8l2.1,-14.9l2.0,-14.3l2.1,-17.4l2.0,-17.3l2.5,31.1l1.6,-13.4l1.7,-6.3l1.6,5.9l1.6,4.0l2.5,-11.5l2.0,9.5l2.1,5.2l1.6,7.8l1.7,3.3l2.4,-20.9l2.5,14.1l1.6,-2.6l1.7,-3.1l1.6,8.5l1.6,16.2l1.7,7.9l2.0,-38.8l2.1,-31.7l2.4,55.5l2.5,52.4l2.5,0.8l2.4,-36.6l1.6,11.1l1.7,4.6l2.4,10.5l2.1,-19.3l2.0,-26.5l2.1,12.8l2.0,6.8l2.5,-19.6l2.5,-23.0l1.6,8.1l1.6,11.6l1.7,-7.7l1.6,-10.0l2.5,-0.8l2.4,-7.7l1.7,6.4l1.6,5.2l2.1,17.8l2.0,13.2l1.6,-6.5l1.7,-6.1l1.6,-27.1l1.7,-25.9l1.6,25.7l1.6,27.1l1.7,16.3l1.6,9.4l2.5,29.7l1.6,-2.7l1.6,-3.1l1.7,-11.9l1.6,-5.2l2.5,3.8l2.4,-1.0l1.7,-2.8l1.6,5.5l1.7,-13.0l1.6,-15.3l1.6,-7.7l1.7,-7.3l2.0,17.2l2.1,15.6l2.0,-10.6l2.1,-8.7l2.4,-13.6l2.5,-8.0l2.4,9.7l2.5,6.6l1.9,-5.3l1.9,-2.8l1.9,-5.0l2.5,24.4l2.5,13.1l2.4,17.4l2.1,9.4l2.0,11.1l2.1,-6.5l2.0,-11.5l1.6,6.8l1.7,4.7l2.0,-9.8l2.1,-13.2l2.0,10.0l2.1,3.1l2.4,-23.0l2.5,-22.6l1.6,-2.7l1.7,-0.2l2.4,-12.2l2.5,-4.8l1.6,9.0l1.7,13.6l2.4,1.2l2.5,5.7l2.0,-10.9l2.1,-3.8l2.0,-19.1l2.1,-21.9l1.6,16.0l1.7,20.6l2.4,43.9l2.1,3.4l2.0,10.1l2.8,9.3l1.6,-21.1l1.6,2.2l1.6,1.8l1.7,6.2l1.6,5.9l1.6,-12.6l1.7,-16.9l1.6,4.3l1.7,5.5l2.4,-16.8l2.5,-25.8l2.4,13.1l2.5,-6.1l2.5,-7.0l1.6,4.5l1.6,11.9l2.1,-5.0l2.0,-1.6l1.7,0.5l1.6,9.4l2.1,-7.1l2.0,-2.8l2.1,12.1l2.0,15.4l1.6,12.7l1.7,8.9l2.4,36.2l2.5,-33.0l1.6,-1.5l1.7,-4.9l1.6,7.9l1.7,11.8l1.6,-15.0l1.6,-9.6l1.7,2.8l1.6,8.7l1.6,-4.5l1.7,-8.6l1.6,11.0l1.7,21.7l1.6,-10.4l1.6,-14.7l1.7,-4.4l1.6,-9.8l1.7,1.1l1.6,6.5l1.6,-4.0l1.7,-2.8l1.6,11.6l1.7,-1.0l1.6,4.0l1.6,-1.2l2.1,-24.3l2.0,-16.1l1.7,14.6l1.6,11.8l2.5,10.4l1.6,9.0l1.6,10.1l1.7,8.8l1.6,6.5l1.7,4.4l1.6,9.6l1.6,-4.3l1.7,-8.8l1.6,5.1l1.6,-0.4l2.1,5.7l2.0,9.3l2.1,-11.1l2.0,-11.9l1.7,6.3l1.6,0.3l1.7,-6.4l1.6,-14.9l1.6,5.3l1.7,2.9l1.6,-3.8l1.7,-9.3l1.6,1.6l1.6,6.5l1.7,4.5l1.6,2.1l2.5,-6.4l2.4,-14.9l2.5,9.0l2.4,7.1l2.5,-2.9l2.5,8.7l2.0,7.1l2.1,0.5l2.0,-5.1l2.1,-2.8l2.4,-3.8l2.5,-4.7l1.6,2.3l1.6,4.3l2.1,-14.2l2.0,-10.0l2.5,-21.7l2.5,9.0l2.4,4.1l2.5,-4.9l2.4,-1.7l2.5,7.8l2.5,-1.2l2.4,-5.9l2.5,-6.3l2.4,-3.4l2.5,-4.1l2.4,16.3l2.5,11.6l2.5,-7.0l2.4,-7.4l2.5,-7.9l2.4,-8.9l2.5,12.0l2.4,11.0l2.5,-4.1l2.5,-5.7l2.4,6.6l2.5,3.2l2.4,-8.5l2.5,-4.6l2.5,3.4l2.4,3.1l2.5,-5.2l2.4,-1.3l1.7,2.2l1.6,5.9l2.2,0.3l2.2,2.3l2.2,-4.2" stroke="#2250a8" stroke-width="2.3" fill="none" stroke-linejoin="round"/>
</g>
<path d="M77.2,1832.5V1841.5H102.7V1832.5" stroke="#2250a8" stroke-width="2" fill="none"/>
<rect x="60.0" y="1439.9" width="520.3" height="410.7" fill="none" stroke="#4a4a4a" stroke-width="1.4"/>
<path d="M74.9,1439.9v5.5M74.9,1850.6v-5.5M149.2,1439.9v5.5M149.2,1850.6v-5.5M223.5,1439.9v5.5M223.5,1850.6v-5.5M297.9,1439.9v5.5M297.9,1850.6v-5.5M372.2,1439.9v5.5M372.2,1850.6v-5.5M446.5,1439.9v5.5M446.5,1850.6v-5.5M520.8,1439.9v5.5M520.8,1850.6v-5.5M60.0,1850.6h5.5M580.3,1850.6h-5.5M60.0,1805.0h5.5M580.3,1805.0h-5.5M60.0,1759.3h5.5M580.3,1759.3h-5.5M60.0,1713.7h5.5M580.3,1713.7h-5.5M60.0,1668.1h5.5M580.3,1668.1h-5.5M60.0,1622.4h5.5M580.3,1622.4h-5.5M60.0,1576.8h5.5M580.3,1576.8h-5.5M60.0,1531.2h5.5M580.3,1531.2h-5.5M60.0,1485.5h5.5M580.3,1485.5h-5.5M60.0,1439.9h5.5M580.3,1439.9h-5.5" stroke="#4a4a4a" stroke-width="1.4" fill="none"/>
<text x="74.6" y="1868.2" font-size="17" text-anchor="middle" font-weight="normal" fill="#333">0</text>
<text x="147.0" y="1868.2" font-size="17" text-anchor="middle" font-weight="normal" fill="#333">0.5</text>
<text x="223.2" y="1868.2" font-size="17" text-anchor="middle" font-weight="normal" fill="#333">1</text>
<text x="295.7" y="1868.2" font-size="17" text-anchor="middle" font-weight="normal" fill="#333">1.5</text>
<text x="371.9" y="1868.2" font-size="17" text-anchor="middle" font-weight="normal" fill="#333">2</text>
<text x="444.3" y="1868.2" font-size="17" text-anchor="middle" font-weight="normal" fill="#333">2.5</text>
<text x="520.5" y="1868.2" font-size="17" text-anchor="middle" font-weight="normal" fill="#333">3</text>
<text x="52.4" y="1854.2" font-size="17" text-anchor="end" font-weight="normal" fill="#333">-60</text>
<text x="52.4" y="1808.6" font-size="17" text-anchor="end" font-weight="normal" fill="#333">-50</text>
<text x="52.4" y="1762.9" font-size="17" text-anchor="end" font-weight="normal" fill="#333">-40</text>
<text x="52.4" y="1717.3" font-size="17" text-anchor="end" font-weight="normal" fill="#333">-30</text>
<text x="52.4" y="1671.7" font-size="17" text-anchor="end" font-weight="normal" fill="#333">-20</text>
<text x="52.4" y="1626.0" font-size="17" text-anchor="end" font-weight="normal" fill="#333">-10</text>
<text x="52.4" y="1580.4" font-size="17" text-anchor="end" font-weight="normal" fill="#333">0</text>
<text x="52.4" y="1534.8" font-size="17" text-anchor="end" font-weight="normal" fill="#333">10</text>
<text x="52.4" y="1489.1" font-size="17" text-anchor="end" font-weight="normal" fill="#333">20</text>
<text x="52.4" y="1443.5" font-size="17" text-anchor="end" font-weight="normal" fill="#333">30</text>
<text class="th" x="312.3" y="1892.0" font-size="18.8" text-anchor="middle" font-weight="normal" fill="#231f20" textLength="67.6" lengthAdjust="spacingAndGlyphs">Time (s)</text>
<text class="th" x="0" y="0" font-size="19.5" text-anchor="middle" fill="#231f20" textLength="168.4" lengthAdjust="spacingAndGlyphs" transform="translate(15.9,1664.6) rotate(-90)">Neural activity index</text>
<rect x="476.5" y="1454.4" width="89.6" height="54.3" fill="#fff" stroke="#6a6a6a" stroke-width="1.3"/>
<rect x="483.9" y="1464.0" width="20.4" height="12.4" fill="#f3c7bd"/>
<rect x="483.9" y="1469.4" width="20.4" height="1.8" fill="#ec1c24"/>
<rect x="483.9" y="1486.8" width="20.4" height="12.6" fill="#a9dcea"/>
<rect x="483.9" y="1492.0" width="20.4" height="1.8" fill="#2a48a0"/>
<text x="514.9" y="1473.7" font-size="16.6" text-anchor="start" font-weight="normal" fill="#231f20" textLength="43.4" lengthAdjust="spacingAndGlyphs">Young</text>
<text x="514.9" y="1496.7" font-size="16.6" text-anchor="start" font-weight="normal" fill="#231f20" textLength="37.5" lengthAdjust="spacingAndGlyphs">Older</text>
<rect x="410.4" y="1725.8" width="155.1" height="110.5" fill="#fff" stroke="#6a6a6a" stroke-width="1.2"/>
<g transform="translate(410.4,1725.8)"><use href="#brainbase"/><path d="M27.5,39.0C27.5,40.2 26.9,41.6 26.0,42.5C25.1,43.5 23.5,44.3 22.0,44.7C20.5,45.1 18.5,45.1 17.0,44.7C15.5,44.3 13.9,43.5 13.0,42.5C12.1,41.6 11.5,40.2 11.5,39.0C11.5,37.8 12.1,36.4 13.0,35.5C13.9,34.5 15.5,33.7 17.0,33.3C18.5,32.9 20.5,32.9 22.0,33.3C23.5,33.7 25.1,34.5 26.0,35.5C26.9,36.4 27.5,37.8 27.5,39.0Z" fill="#f0262a" fill-opacity="0.93"/><path d="M34.5,44.0C34.5,44.8 34.1,45.9 33.5,46.5C32.9,47.1 31.8,47.5 31.0,47.5C30.2,47.5 29.1,47.1 28.5,46.5C27.9,45.9 27.5,44.8 27.5,44.0C27.5,43.2 27.9,42.1 28.5,41.5C29.1,40.9 30.2,40.5 31.0,40.5C31.8,40.5 32.9,40.9 33.5,41.5C34.1,42.1 34.5,43.2 34.5,44.0Z" fill="#f0262a" fill-opacity="0.93"/><path d="M29.5,48.5C30.6,47.8 33.9,48.2 36.0,48.0C38.1,47.8 40.0,47.8 42.0,47.5C44.0,47.2 47.2,46.1 48.0,46.5C48.8,46.9 48.3,48.9 47.0,50.0C45.7,51.1 42.3,52.2 40.0,53.0C37.7,53.8 34.8,54.6 33.0,54.5C31.2,54.4 30.1,53.5 29.5,52.5C28.9,51.5 28.4,49.2 29.5,48.5Z" fill="#f0262a" fill-opacity="0.93"/><path d="M57.5,37.0C57.5,38.2 57.1,39.7 56.6,40.5C56.1,41.4 55.2,42.0 54.5,42.0C53.8,42.0 52.9,41.4 52.4,40.5C51.9,39.7 51.5,38.2 51.5,37.0C51.5,35.8 51.9,34.3 52.4,33.5C52.9,32.6 53.8,32.0 54.5,32.0C55.2,32.0 56.1,32.6 56.6,33.5C57.1,34.3 57.5,35.8 57.5,37.0Z" fill="#f0262a" fill-opacity="0.93"/><path d="M29.5,34.5C29.5,35.0 29.0,35.8 28.5,36.1C28.0,36.3 27.0,36.3 26.5,36.1C26.0,35.8 25.5,35.0 25.5,34.5C25.5,34.0 26.0,33.2 26.5,32.9C27.0,32.7 28.0,32.7 28.5,32.9C29.0,33.2 29.5,34.0 29.5,34.5Z" fill="#f0262a" fill-opacity="0.93"/><path d="M37.5,67.5C38.8,66.9 42.9,66.8 45.0,66.5C47.1,66.2 48.6,65.4 50.0,65.5C51.4,65.6 53.1,65.9 53.5,67.0C53.9,68.1 53.1,70.6 52.5,72.0C51.9,73.4 51.4,74.8 50.0,75.5C48.6,76.2 45.5,76.9 44.0,76.5C42.5,76.1 42.1,74.1 41.0,73.0C39.9,71.9 38.1,70.9 37.5,70.0C36.9,69.1 36.2,68.1 37.5,67.5Z" fill="#f0262a" fill-opacity="0.93"/><path d="M60.7,78.8C60.7,79.3 60.2,80.1 59.6,80.4C59.0,80.6 58.0,80.6 57.4,80.4C56.8,80.1 56.3,79.3 56.3,78.8C56.3,78.3 56.8,77.5 57.4,77.2C58.0,77.0 59.0,77.0 59.6,77.2C60.2,77.5 60.7,78.3 60.7,78.8Z" fill="#f0262a" fill-opacity="0.93"/><path d="M54.5,94.0C54.8,93.0 56.0,90.6 57.0,89.5C58.0,88.4 59.8,87.5 60.5,87.5C61.2,87.5 61.9,88.6 61.5,89.5C61.1,90.4 59.0,92.0 58.0,93.0C57.0,94.0 56.1,95.3 55.5,95.5C54.9,95.7 54.2,95.0 54.5,94.0Z" fill="#f0262a" fill-opacity="0.93"/><path d="M20.5,85.0C20.7,82.9 25.8,83.6 28.0,83.5C30.2,83.4 33.3,83.8 34.0,84.5C34.7,85.2 32.7,86.8 32.0,88.0C31.3,89.2 30.8,90.7 30.0,92.0C29.2,93.3 28.6,97.2 27.0,96.0C25.4,94.8 20.3,87.1 20.5,85.0Z" fill="#f0262a" fill-opacity="0.93"/><path d="M26.5,95.0C27.5,94.9 30.4,95.8 33.0,96.5C35.6,97.2 39.2,98.2 42.0,99.0C44.8,99.8 47.8,101.0 50.0,101.5C52.2,102.0 54.6,101.3 55.5,102.0C56.4,102.7 56.4,104.8 55.5,105.5C54.6,106.2 52.2,106.5 50.0,106.0C47.8,105.5 44.8,103.6 42.0,102.5C39.2,101.4 35.5,100.4 33.0,99.5C30.5,98.6 28.1,97.8 27.0,97.0C25.9,96.2 25.5,95.1 26.5,95.0Z" fill="#f0262a" fill-opacity="0.93"/><path d="M63.0,88.5C62.3,88.1 60.2,87.7 58.8,88.2C57.4,88.7 55.8,90.3 54.8,91.5C53.8,92.7 52.7,94.7 52.8,95.5C52.9,96.3 54.3,97.0 55.3,96.5C56.3,96.0 57.6,93.5 58.8,92.5C60.1,91.5 62.1,91.2 62.8,90.5C63.5,89.8 63.7,88.9 63.0,88.5Z" fill="#f0262a" fill-opacity="0.93"/><path d="M30.5,84.7C30.5,85.2 31.0,85.9 31.4,86.1C31.9,86.3 32.8,86.3 33.2,86.1C33.7,85.9 34.1,85.2 34.1,84.7C34.1,84.2 33.7,83.5 33.2,83.3C32.8,83.1 31.9,83.1 31.4,83.3C31.0,83.5 30.5,84.2 30.5,84.7Z" fill="#f0262a" fill-opacity="0.93"/></g>
<g fill="#231f20" transform="translate(68.0,1931.1)"><ellipse cx="4.9" cy="-3.0" rx="5.1" ry="2.85" transform="rotate(-21 4.9 -3.0)"/><rect x="8.7" y="-23.4" width="1.45" height="20.5"/><path d="M8.7,-23.6 C10.0,-20.8 13.6,-18.9 15.6,-15.7 C16.9,-13.5 16.5,-10.7 15.0,-8.6 C15.4,-10.8 15.0,-12.6 13.6,-14.2 C12.4,-15.5 11.0,-16.0 10.1,-17.0 L10.1,-23.6 Z"/></g>
<g fill="#231f20" transform="translate(125.0,1931.1)"><ellipse cx="4.9" cy="-3.0" rx="5.1" ry="2.85" transform="rotate(-21 4.9 -3.0)"/><rect x="8.7" y="-23.4" width="1.45" height="20.5"/><path d="M8.7,-23.6 C10.0,-20.8 13.6,-18.9 15.6,-15.7 C16.9,-13.5 16.5,-10.7 15.0,-8.6 C15.4,-10.8 15.0,-12.6 13.6,-14.2 C12.4,-15.5 11.0,-16.0 10.1,-17.0 L10.1,-23.6 Z"/></g>
<g fill="#231f20" transform="translate(176.7,1931.1)"><ellipse cx="4.9" cy="-3.0" rx="5.1" ry="2.85" transform="rotate(-21 4.9 -3.0)"/><rect x="8.7" y="-23.4" width="1.45" height="20.5"/><path d="M8.7,-23.6 C10.0,-20.8 13.6,-18.9 15.6,-15.7 C16.9,-13.5 16.5,-10.7 15.0,-8.6 C15.4,-10.8 15.0,-12.6 13.6,-14.2 C12.4,-15.5 11.0,-16.0 10.1,-17.0 L10.1,-23.6 Z"/></g>
<g fill="#231f20" transform="translate(231.4,1931.1)"><ellipse cx="4.9" cy="-3.0" rx="5.1" ry="2.85" transform="rotate(-21 4.9 -3.0)"/><rect x="8.7" y="-23.4" width="1.45" height="20.5"/><path d="M8.7,-23.6 C10.0,-20.8 13.6,-18.9 15.6,-15.7 C16.9,-13.5 16.5,-10.7 15.0,-8.6 C15.4,-10.8 15.0,-12.6 13.6,-14.2 C12.4,-15.5 11.0,-16.0 10.1,-17.0 L10.1,-23.6 Z"/></g>
<g fill="#231f20" transform="translate(284.7,1931.1)"><ellipse cx="4.9" cy="-3.0" rx="5.1" ry="2.85" transform="rotate(-21 4.9 -3.0)"/><rect x="8.7" y="-23.4" width="1.45" height="20.5"/><path d="M8.7,-23.6 C10.0,-20.8 13.6,-18.9 15.6,-15.7 C16.9,-13.5 16.5,-10.7 15.0,-8.6 C15.4,-10.8 15.0,-12.6 13.6,-14.2 C12.4,-15.5 11.0,-16.0 10.1,-17.0 L10.1,-23.6 Z"/></g>
<text class="th" x="919.3" y="1416.9" font-size="27.5" text-anchor="middle" font-weight="normal" fill="#231f20" textLength="101.8" lengthAdjust="spacingAndGlyphs">Novel T1</text>
<clipPath id="clip21"><rect x="666.5" y="1439.9" width="520.3" height="410.7"/></clipPath>
<rect x="694.7" y="1439.9" width="7.7" height="410.7" fill="#dcdcde"/>
<rect x="743.8" y="1439.9" width="6.1" height="410.7" fill="#dcdcde"/>
<rect x="751.2" y="1439.9" width="3.3" height="410.7" fill="#dcdcde"/>
<rect x="771.7" y="1439.9" width="5.3" height="410.7" fill="#dcdcde"/>
<rect x="811.5" y="1439.9" width="4.0" height="410.7" fill="#dcdcde"/>
<rect x="879.9" y="1439.9" width="3.7" height="410.7" fill="#dcdcde"/>
<rect x="1001.4" y="1439.9" width="14.7" height="410.7" fill="#dcdcde"/>
<path d="M681.4,1439.9V1850.6M696.2,1439.9V1850.6M711.1,1439.9V1850.6M726.0,1439.9V1850.6M740.8,1439.9V1850.6M755.7,1439.9V1850.6M770.6,1439.9V1850.6M785.4,1439.9V1850.6M800.3,1439.9V1850.6M815.2,1439.9V1850.6M830.0,1439.9V1850.6M844.9,1439.9V1850.6M859.8,1439.9V1850.6M874.6,1439.9V1850.6M889.5,1439.9V1850.6M904.4,1439.9V1850.6M919.2,1439.9V1850.6M934.1,1439.9V1850.6M948.9,1439.9V1850.6M963.8,1439.9V1850.6M978.7,1439.9V1850.6M993.5,1439.9V1850.6M1008.4,1439.9V1850.6M1023.3,1439.9V1850.6M1038.1,1439.9V1850.6M1053.0,1439.9V1850.6M1067.9,1439.9V1850.6M1082.7,1439.9V1850.6M1097.6,1439.9V1850.6M1112.5,1439.9V1850.6M1127.3,1439.9V1850.6M1142.2,1439.9V1850.6M1157.1,1439.9V1850.6M1171.9,1439.9V1850.6M666.5,1841.5H1186.8M666.5,1832.3H1186.8M666.5,1823.2H1186.8M666.5,1814.1H1186.8M666.5,1805.0H1186.8M666.5,1795.8H1186.8M666.5,1786.7H1186.8M666.5,1777.6H1186.8M666.5,1768.5H1186.8M666.5,1759.3H1186.8M666.5,1750.2H1186.8M666.5,1741.1H1186.8M666.5,1732.0H1186.8M666.5,1722.8H1186.8M666.5,1713.7H1186.8M666.5,1704.6H1186.8M666.5,1695.4H1186.8M666.5,1686.3H1186.8M666.5,1677.2H1186.8M666.5,1668.1H1186.8M666.5,1658.9H1186.8M666.5,1649.8H1186.8M666.5,1640.7H1186.8M666.5,1631.6H1186.8M666.5,1622.4H1186.8M666.5,1613.3H1186.8M666.5,1604.2H1186.8M666.5,1595.1H1186.8M666.5,1585.9H1186.8M666.5,1576.8H1186.8M666.5,1567.7H1186.8M666.5,1558.5H1186.8M666.5,1549.4H1186.8M666.5,1540.3H1186.8M666.5,1531.2H1186.8M666.5,1522.0H1186.8M666.5,1512.9H1186.8M666.5,1503.8H1186.8M666.5,1494.7H1186.8M666.5,1485.5H1186.8M666.5,1476.4H1186.8M666.5,1467.3H1186.8M666.5,1458.2H1186.8M666.5,1449.0H1186.8" stroke="#c6c6c6" stroke-width="1" stroke-dasharray="1.3 1.7" fill="none"/>
<g clip-path="url(#clip21)">
<path d="M666.0,1560.8l1.6,7.9l1.7,9.4l1.6,-6.5l1.7,-3.5l2.4,-35.4l2.5,54.8l2.4,15.2l2.5,-25.8l1.6,0.3l1.7,-1.7l2.0,-44.8l2.1,-38.1l2.4,37.7l2.2,199.3l2.3,65.2l2.2,-58.8l2.3,-102.7l1.7,-41.6l1.6,-42.3l1.7,5.6l1.6,3.9l2.4,-1.7l1.7,-6.3l1.6,-14.1l2.5,-11.4l2.4,-20.1l1.7,12.0l1.6,27.2l1.7,-15.7l1.6,-9.9l1.6,-9.1l1.7,-4.9l1.6,4.8l1.7,8.4l1.6,0.3l1.6,5.0l1.7,-1.0l1.6,8.6l1.6,-7.1l1.7,-5.1l1.6,-6.4l1.7,-8.1l1.6,2.8l1.6,11.1l1.7,-1.6l1.6,6.9l2.5,-26.4l2.4,46.4l2.5,48.4l1.6,10.0l1.7,3.7l1.6,-9.8l1.6,-14.0l1.7,3.9l1.6,7.4l2.1,0.7l2.0,-4.0l2.5,-3.4l1.6,12.7l1.7,13.0l1.6,-4.8l1.6,-4.1l2.1,-17.9l2.0,-19.0l1.7,18.2l1.6,17.9l1.6,-10.4l1.7,-9.0l1.6,-15.2l1.7,-14.6l1.6,19.1l1.6,12.3l1.7,-4.1l1.6,-11.6l2.5,-24.1l2.4,-32.0l1.7,17.9l1.6,10.5l1.7,16.0l1.6,21.3l1.6,12.1l1.7,4.1l2.4,17.6l2.5,13.9l1.6,-27.1l1.7,-17.4l1.6,16.3l1.6,15.0l2.5,-10.4l2.5,-7.5l2.0,-18.2l2.1,-20.4l1.6,11.5l1.6,4.5l2.5,15.7l1.6,-12.3l1.7,-17.6l1.6,-10.3l1.6,-0.9l1.7,-5.3l1.6,-3.7l1.7,10.3l1.6,2.6l2.2,-13.1l2.2,-13.0l2.2,-17.0l1.6,10.3l1.6,21.6l1.7,25.1l1.6,22.1l2.5,13.1l2.4,17.7l1.7,-17.4l1.6,-19.3l1.6,-21.4l1.7,6.6l1.6,5.7l2.5,-5.8l2.4,-1.1l2.5,7.1l2.5,-0.6l1.6,-2.8l1.6,-12.8l1.7,-2.9l1.6,-3.6l1.6,3.3l1.7,6.7l2.4,1.8l2.5,7.7l2.5,2.0l2.4,9.0l2.2,-27.8l2.2,-16.8l2.2,-26.4l2.4,30.0l2.5,26.5l1.6,24.9l1.7,25.1l2.7,-25.7l2.0,-5.6l2.1,-1.4l2.0,14.0l2.1,9.6l2.4,1.7l2.5,-9.1l1.6,-6.8l1.7,-9.4l2.4,-6.4l2.5,-2.0l2.4,7.4l2.5,4.7l2.5,-4.3l2.4,-4.6l2.5,5.2l2.4,6.4l2.5,-8.1l2.4,-0.5l2.5,-13.0l2.5,-10.8l1.6,3.7l1.6,1.6l2.5,13.9l2.5,12.9l1.6,-4.9l1.6,-6.8l2.1,8.6l2.0,19.9l2.1,-25.2l2.0,-23.6l1.7,0.7l1.6,-0.1l1.6,4.0l1.7,5.2l1.6,4.4l1.7,2.9l1.6,-3.8l1.6,-3.6l1.7,4.7l1.6,-0.4l1.7,6.0l1.6,1.8l1.6,-9.5l1.7,-4.2l1.6,9.3l1.7,1.9l1.6,-5.1l1.6,-13.9l1.7,-5.7l1.6,2.5l1.6,10.6l1.7,0.5l1.6,14.3l1.7,0.4l1.6,7.2l1.6,8.0l2.5,-1.6l2.5,-6.5l2.4,11.8l2.5,12.2l1.6,-4.6l1.6,-6.6l1.7,1.9l1.6,1.5l1.7,-4.2l1.6,-4.9l1.6,7.3l1.7,2.4l1.6,-1.9l1.7,-6.4l1.6,-6.5l1.6,-5.6l1.7,-6.9l1.6,4.1l1.7,9.3l1.6,11.8l1.6,-1.2l1.7,-3.8l2.0,-9.2l2.1,-9.6l2.0,-2.5l2.1,-3.9l2.4,18.1l2.5,8.3l2.4,-8.4l2.5,-5.8l2.5,0.0l2.4,4.3l2.5,-4.0l2.4,-6.5l2.5,4.5l2.4,10.3l1.7,9.4l1.6,3.8l1.7,-9.9l1.6,-16.6l2.5,6.5l2.4,-3.3l1.7,-5.9l1.6,-6.2l2.5,11.5l2.4,9.9l2.5,2.8l2.4,-12.0l1.7,6.5l1.6,10.6l2.5,-4.8l2.4,-7.2l2.5,6.7l2.4,-6.6l2.5,-8.4l2.5,-0.6l1.6,4.8l1.6,8.5l2.5,7.4l2.4,5.2l2.5,-4.6l2.5,-8.4l2.4,-0.4l2.5,7.5l1.6,-3.3l1.7,-3.7l2.4,-14.9l2.5,-8.0l1.6,7.0l1.7,9.2l2.4,-0.7l2.5,0.4l2.2,-2.1l2.1,-5.0l2.2,6.6l0.0,12.7l-2.2,-1.0l-2.1,2.2l-2.2,1.8l-2.5,-1.1l-2.4,-3.9l-1.7,2.0l-1.6,-14.3l-2.5,11.7l-2.4,9.5l-1.7,2.1l-1.6,7.7l-2.5,-4.5l-2.4,-3.6l-2.5,5.2l-2.5,4.3l-2.4,-2.7l-2.5,-2.6l-1.6,-7.1l-1.6,-9.0l-2.5,5.1l-2.5,4.3l-2.4,2.8l-2.5,-1.8l-2.4,3.1l-2.5,7.6l-1.6,-5.2l-1.7,-12.3l-2.4,8.5l-2.5,6.8l-2.4,-10.4l-2.5,-13.4l-1.6,4.2l-1.7,13.3l-2.4,-6.7l-2.5,-3.9l-1.6,11.3l-1.7,13.6l-1.6,-7.8l-1.7,-6.5l-2.4,-10.7l-2.5,-1.6l-2.4,7.2l-2.5,-0.8l-2.4,0.1l-2.5,-0.8l-2.5,2.7l-2.4,9.3l-2.5,-9.9l-2.4,-7.6l-2.1,-2.2l-2.0,3.0l-2.1,10.2l-2.0,5.4l-1.7,5.9l-1.6,-0.6l-1.6,-9.9l-1.7,-1.4l-1.6,-8.0l-1.7,0.3l-1.6,8.8l-1.6,6.5l-1.7,3.6l-1.6,5.8l-1.7,-6.3l-1.6,-3.8l-1.6,3.9l-1.7,8.6l-1.6,-9.5l-1.7,-3.8l-1.6,8.9l-1.6,8.5l-2.5,-12.0l-2.4,-9.5l-2.5,0.5l-2.5,5.8l-1.6,-11.8l-1.6,-6.6l-1.7,-9.7l-1.6,-2.3l-1.7,-4.3l-1.6,-9.0l-1.6,1.0l-1.7,4.7l-1.6,8.4l-1.6,13.5l-1.7,-10.5l-1.6,-4.2l-1.7,3.4l-1.6,10.7l-1.6,1.7l-1.7,-8.9l-1.6,-4.8l-1.7,-4.5l-1.6,6.2l-1.6,7.1l-1.7,-4.0l-1.6,-10.3l-1.7,-6.4l-1.6,-0.2l-1.6,-3.0l-1.7,2.5l-2.0,22.9l-2.1,18.1l-2.0,-5.9l-2.1,-9.4l-1.6,2.2l-1.6,6.4l-2.5,-14.9l-2.5,-12.0l-1.6,-4.1l-1.6,-4.7l-2.5,13.5l-2.5,7.8l-2.4,10.3l-2.5,8.2l-2.4,-8.9l-2.5,-6.7l-2.4,2.3l-2.5,5.8l-2.5,-7.3l-2.4,-8.1l-2.5,8.2l-2.4,2.3l-1.7,10.1l-1.6,3.5l-2.5,8.1l-2.4,5.2l-2.1,-12.5l-2.0,-10.5l-2.1,-0.4l-2.0,10.1l-2.7,18.5l-1.7,-25.2l-1.6,-21.6l-2.5,-24.9l-2.4,-28.0l-2.2,16.4l-2.2,28.9l-2.2,17.6l-2.4,-8.4l-2.5,-1.9l-2.5,-5.3l-2.4,1.3l-1.7,-15.4l-1.6,-1.4l-1.6,9.2l-1.7,0.0l-1.6,8.2l-1.6,8.8l-2.5,-4.2l-2.5,-2.3l-2.4,4.8l-2.5,-5.2l-1.6,-1.3l-1.7,-3.5l-1.6,21.0l-1.6,20.9l-1.7,22.2l-2.4,-22.1l-2.5,-13.5l-1.6,-29.3l-1.7,-21.6l-1.6,-16.9l-1.6,-12.9l-2.2,14.6l-2.2,19.7l-2.2,14.1l-1.6,-12.4l-1.7,-7.2l-1.6,7.4l-1.7,2.7l-1.6,4.7l-1.6,10.2l-1.7,7.3l-1.6,17.4l-2.5,-16.4l-1.6,-7.2l-1.6,-4.0l-2.1,12.0l-2.0,22.1l-2.5,7.7l-2.5,11.9l-1.6,-21.9l-1.6,-15.1l-1.7,24.9l-1.6,23.6l-2.5,-12.7l-2.4,-13.5l-1.7,-9.6l-1.6,-8.8l-1.6,-23.6l-1.7,-17.2l-1.6,-14.5l-1.7,-12.7l-2.4,28.2l-2.5,28.0l-1.6,8.6l-1.7,13.1l-1.6,-21.6l-1.6,-11.9l-1.7,13.2l-1.6,12.2l-1.7,7.9l-1.6,13.9l-1.6,-19.7l-1.7,-17.8l-2.0,13.9l-2.1,21.6l-1.6,6.4l-1.6,2.1l-1.7,-15.6l-1.6,-12.3l-2.5,9.0l-2.0,-4.7l-2.1,5.3l-1.6,0.1l-1.7,-12.0l-1.6,18.2l-1.6,11.0l-1.7,-5.2l-1.6,-14.6l-2.5,-43.3l-2.4,-53.1l-2.5,33.5l-1.6,-1.3l-1.7,-8.1l-1.6,-3.7l-1.6,-7.5l-1.7,7.9l-1.6,5.3l-1.7,8.2l-1.6,1.2l-1.6,-2.7l-1.7,0.3l-1.6,-6.9l-1.6,-3.6l-1.7,-3.9l-1.6,-7.4l-1.7,2.6l-1.6,12.8l-1.6,10.4l-1.7,8.8l-1.6,-15.7l-1.7,-18.2l-2.4,15.9l-2.5,17.5l-1.6,10.9l-1.7,13.4l-2.4,-5.6l-1.6,-5.4l-1.7,-2.7l-1.6,40.0l-1.7,38.2l-2.3,106.8l-2.2,66.2l-2.3,-65.9l-2.2,-202.9l-2.4,-39.3l-2.1,37.7l-2.0,41.4l-1.7,5.4l-1.6,-0.1l-2.5,29.3l-2.4,-14.9l-2.5,-50.7l-2.4,28.2l-1.7,0.8l-1.6,4.3l-1.7,-12.7l-1.6,-3.4z" fill="#9fd6e9" fill-opacity="0.75"/>
<path d="M666.0,1567.1l2.5,0.0l2.4,3.8l2.5,0.3l2.4,7.6l2.5,-3.9l2.4,-7.1l2.5,-9.0l2.5,-10.5l1.6,-12.7l1.6,-4.9l2.5,11.3l2.1,27.4l2.0,37.6l1.6,-26.6l1.7,-24.2l2.0,-8.8l2.1,-12.6l1.6,14.9l1.7,14.3l2.0,12.7l2.0,16.7l2.5,-5.7l2.5,-14.4l1.6,-17.0l1.6,-23.0l2.1,-15.8l2.0,-14.6l2.1,-14.6l2.0,-13.9l1.7,4.0l1.6,19.3l1.7,-4.7l1.6,-3.3l1.6,5.4l1.7,1.9l1.6,18.9l1.6,16.1l1.7,12.1l1.6,8.9l2.5,19.3l2.4,5.0l1.7,-1.6l1.6,-5.8l2.1,-10.0l2.0,-0.5l2.1,1.9l2.0,4.3l2.1,5.5l2.0,14.7l2.1,9.9l2.0,17.7l2.1,14.3l2.0,9.4l1.9,8.9l1.9,10.3l2.2,-9.9l2.2,-16.3l2.0,-15.7l2.1,-11.4l1.6,-3.5l1.7,-1.2l1.6,0.9l1.6,5.6l2.1,-10.9l2.0,-9.9l2.1,5.0l2.0,8.2l2.1,-15.7l2.0,-7.7l2.1,-13.8l2.0,-12.3l2.1,-8.7l2.0,-8.6l1.7,7.7l1.6,5.5l2.1,19.1l2.0,10.7l2.5,21.5l2.4,20.6l2.5,5.1l2.4,-11.1l2.5,-18.7l2.5,-9.4l2.4,-9.3l2.5,-3.6l1.6,-5.9l1.7,0.7l1.6,-2.7l1.6,3.5l2.5,-3.8l2.4,-13.3l2.5,2.6l2.5,2.9l1.6,-4.7l1.6,-4.8l1.7,1.3l1.6,-1.4l2.5,15.8l2.4,-1.9l2.5,8.5l2.5,9.1l2.4,8.7l2.5,15.4l1.6,13.2l1.6,5.5l1.7,4.0l2.4,-11.7l2.5,-11.1l1.6,-9.0l1.7,-7.9l2.4,-19.3l2.5,-14.5l2.5,11.4l2.4,17.2l2.5,-6.6l2.4,-8.6l2.5,0.6l2.4,-5.0l2.5,-0.1l2.5,-5.8l2.0,-1.9l2.1,-1.2l2.0,-0.1l2.1,10.7l2.4,5.7l2.5,9.1l2.7,30.1l2.0,6.9l2.1,8.1l2.0,3.5l2.1,4.1l1.6,-9.1l1.6,-7.7l1.7,-9.5l1.6,-16.3l1.7,-12.8l1.6,-11.2l2.1,-2.0l2.0,-13.5l2.1,4.4l2.0,5.2l2.5,6.5l2.4,0.3l2.5,-4.7l2.4,3.7l2.1,3.3l2.0,4.7l2.1,-13.0l2.0,-11.0l1.7,10.7l1.6,5.1l1.6,-7.1l1.7,-6.8l1.6,8.8l1.7,5.2l2.4,-4.3l2.5,-9.7l1.6,8.9l1.7,0.7l1.6,-7.2l1.6,-13.0l1.7,-5.9l1.6,-5.4l1.6,-1.4l1.7,-6.3l1.6,7.1l1.7,4.9l1.6,-5.2l1.6,-3.2l2.5,4.4l2.5,1.0l2.4,6.3l2.5,2.1l2.4,-4.3l2.5,2.9l1.6,-4.2l1.7,-10.0l1.6,7.4l1.6,10.3l1.7,1.6l1.6,5.9l1.7,9.4l1.6,10.7l1.6,1.5l1.7,0.5l1.6,4.7l1.7,-2.6l2.4,1.2l2.5,-7.7l1.6,5.9l1.6,7.7l1.7,-2.6l1.6,0.9l2.5,-3.4l2.4,-5.6l1.7,1.0l1.6,8.3l1.7,-1.7l1.6,12.7l2.5,-10.6l2.4,-6.0l1.7,2.6l1.6,1.9l1.6,-0.4l1.7,6.7l2.4,2.4l2.5,-3.6l2.4,0.5l2.5,-3.7l1.6,7.0l1.7,3.8l2.4,-5.8l2.5,-4.9l2.5,1.2l2.4,5.5l2.5,-3.1l2.4,-2.7l2.5,7.1l2.4,1.9l2.5,1.1l2.5,4.5l2.4,-15.9l2.5,-1.8l1.6,6.5l1.7,4.3l2.4,4.1l2.5,10.8l2.4,-5.3l2.5,2.5l2.4,-1.9l2.5,1.1l2.5,-2.0l2.4,-2.3l2.5,3.1l2.4,-4.1l2.5,-4.4l2.5,2.6l2.4,0.8l2.5,5.3l2.4,-2.8l2.5,3.9l2.4,-7.2l2.5,-2.9l2.5,0.7l2.4,5.9l2.5,1.8l2.4,4.6l2.5,-4.6l2.5,-1.8l2.4,0.7l2.5,6.8l2.2,-4.0l2.1,1.6l2.2,-1.0l0.0,16.8l-2.2,-5.3l-2.1,0.8l-2.2,3.5l-2.5,-0.1l-2.4,-3.5l-2.5,-2.8l-2.5,5.3l-2.4,-5.0l-2.5,-1.0l-2.4,-0.1l-2.5,-6.7l-2.5,3.5l-2.4,10.1l-2.5,-3.3l-2.4,-0.2l-2.5,-4.7l-2.4,-4.9l-2.5,8.4l-2.5,-3.4l-2.4,2.2l-2.5,-3.2l-2.4,5.6l-2.5,-2.8l-2.5,6.5l-2.4,-3.2l-2.5,3.2l-2.4,-1.4l-2.5,-10.6l-2.4,-0.4l-1.7,-5.2l-1.6,-1.8l-2.5,3.0l-2.4,11.5l-2.5,-2.7l-2.5,-3.7l-2.4,-2.2l-2.5,-3.8l-2.4,1.7l-2.5,-0.6l-2.4,-3.7l-2.5,-1.1l-2.5,2.0l-2.4,7.7l-1.7,-0.1l-1.6,-5.1l-2.5,0.8l-2.4,3.4l-2.5,-4.1l-2.4,-4.6l-1.7,-0.7l-1.6,-6.1l-1.6,0.2l-1.7,-3.9l-2.4,7.1l-2.5,11.2l-1.6,-3.1l-1.7,-10.1l-1.6,-4.0l-1.7,-3.7l-2.4,7.4l-2.5,7.6l-1.6,-0.6l-1.7,1.1l-1.6,-7.5l-1.6,-10.0l-2.5,3.4l-2.4,8.6l-1.7,-0.7l-1.6,-2.8l-1.7,0.8l-1.6,-5.0l-1.6,-15.2l-1.7,-7.5l-1.6,-3.8l-1.7,-1.8l-1.6,-4.8l-1.6,-11.7l-1.7,9.1l-1.6,2.4l-2.5,2.9l-2.4,-0.3l-2.5,-5.0l-2.4,3.2l-2.5,-4.6l-2.5,-4.5l-1.6,2.1l-1.6,4.5l-1.7,-6.2l-1.6,-7.2l-1.7,6.2l-1.6,2.0l-1.6,9.4l-1.7,2.9l-1.6,13.0l-1.6,5.3l-1.7,-2.9l-1.6,-1.3l-2.5,7.5l-2.4,3.2l-1.7,-4.2l-1.6,-3.9l-1.7,1.5l-1.6,3.7l-1.6,-4.1l-1.7,-9.7l-2.0,13.2l-2.1,8.7l-2.0,-5.9l-2.1,-0.9l-2.4,-0.9l-2.5,2.0l-2.4,1.6l-2.5,-4.2l-2.0,-4.8l-2.1,-7.5l-2.0,7.3l-2.1,9.2l-1.6,12.7l-1.7,11.8l-1.6,12.0l-1.7,7.9l-1.6,14.3l-1.6,7.3l-2.1,-2.0l-2.0,-8.2l-2.1,-3.5l-2.0,-14.4l-2.7,-30.3l-2.5,-7.5l-2.4,-5.9l-2.1,-5.3l-2.0,-4.9l-2.1,2.0l-2.0,5.0l-2.5,7.1l-2.5,-1.4l-2.4,5.0l-2.5,1.6l-2.4,4.1l-2.5,12.3l-2.4,-22.8l-2.5,-13.4l-2.5,15.6l-2.4,18.9l-1.7,12.1l-1.6,3.6l-2.5,15.9l-2.4,9.7l-1.7,-2.2l-1.6,-4.9l-1.6,-13.5l-2.5,-12.1l-2.4,-16.2l-2.5,-3.5l-2.5,-10.7l-2.4,-3.6l-2.5,-8.1l-1.6,1.2l-1.7,-5.6l-1.6,4.0l-1.6,8.8l-2.5,-4.6l-2.5,-1.4l-2.4,8.2l-2.5,7.5l-1.6,1.0l-1.6,-4.3l-1.7,4.6l-1.6,-0.9l-2.5,8.4l-2.4,7.0l-2.5,13.4l-2.5,20.6l-2.4,9.5l-2.5,-9.0l-2.4,-19.7l-2.5,-16.3l-2.0,-15.3l-2.1,-17.0l-1.6,-5.8l-1.7,-5.2l-2.0,2.0l-2.1,11.6l-2.0,13.5l-2.1,9.3l-2.0,13.3l-2.1,7.7l-2.0,-1.3l-2.1,-7.3l-2.0,12.6l-2.1,9.8l-1.6,-7.4l-1.6,-3.1l-1.7,5.3l-1.6,8.1l-2.1,12.9l-2.0,9.1l-2.2,13.1l-2.2,11.3l-1.9,-4.4l-1.9,-9.7l-2.0,-11.8l-2.1,-17.8l-2.0,-12.4l-2.1,-14.5l-2.0,-7.3l-2.1,-14.3l-2.0,-2.9l-2.1,1.0l-2.0,1.0l-2.1,7.1l-1.6,1.5l-1.7,15.5l-2.4,-21.7l-2.5,-10.0l-1.6,-11.1l-1.7,-8.4l-1.6,-20.4l-1.6,-14.7l-1.7,-4.4l-1.6,-10.4l-1.6,4.4l-1.7,2.8l-1.6,-8.7l-1.7,-10.4l-2.0,8.5l-2.1,20.3l-2.0,17.6l-2.1,15.4l-1.6,22.5l-1.6,22.4l-2.5,6.8l-2.5,8.2l-2.0,-18.8l-2.0,-9.0l-1.7,-16.0l-1.6,-13.7l-2.1,7.0l-2.0,13.5l-1.7,26.2l-1.6,19.6l-2.0,-26.4l-2.1,-36.6l-2.5,-14.0l-1.6,12.5l-1.6,6.7l-2.5,12.1l-2.5,7.5l-2.4,10.5l-2.5,2.6l-2.4,-2.3l-2.5,-5.6l-2.4,-1.1l-2.5,1.0z" fill="#f2bcb0" fill-opacity="0.75"/>
<path d="M666.0,1577.7l2.5,-3.2l2.4,4.3l2.5,4.0l2.4,1.4l2.5,-4.5l2.4,-5.1l2.5,-5.1l2.5,-14.7l1.6,-7.1l1.6,-9.4l2.5,10.1l2.1,33.3l2.0,30.4l1.6,-26.7l1.7,-19.6l2.0,-14.7l2.1,-9.5l1.6,17.3l1.7,11.9l2.0,17.6l2.0,12.2l2.5,-6.0l2.5,-13.3l1.6,-21.4l1.6,-18.2l2.1,-16.4l2.0,-17.6l2.1,-12.8l2.0,-15.6l1.7,10.4l1.6,12.6l1.7,-6.5l1.6,-1.7l1.6,6.1l1.7,4.4l1.6,18.3l1.6,18.0l1.7,8.4l1.6,16.9l2.5,9.0l2.4,12.3l1.7,-3.1l1.6,-6.7l2.1,-6.1l2.0,-4.8l2.1,2.2l2.0,-0.2l2.1,13.0l2.0,16.3l2.1,6.6l2.0,13.8l2.1,15.8l2.0,9.8l1.9,12.3l1.9,6.5l2.2,-13.2l2.2,-13.1l2.0,-11.5l2.1,-11.2l1.6,-6.2l1.7,-3.8l1.6,0.4l1.6,7.8l2.1,-8.5l2.0,-9.6l2.1,3.5l2.0,3.1l2.1,-9.7l2.0,-9.7l2.1,-11.9l2.0,-15.6l2.1,-6.2l2.0,-5.9l1.7,8.7l1.6,6.4l2.1,12.0l2.0,16.6l2.5,18.1l2.4,15.1l2.5,13.2l2.4,-13.2l2.5,-15.1l2.5,-17.4l2.4,-5.2l2.5,-11.0l1.6,1.2l1.7,-2.9l1.6,2.3l1.6,-0.3l2.5,-7.7l2.4,-10.6l2.5,2.7l2.5,5.6l1.6,-6.7l1.6,-3.8l1.7,1.0l1.6,4.4l2.5,4.8l2.4,12.1l2.5,2.4l2.5,4.8l2.4,11.2l2.5,16.9l1.6,12.9l1.6,3.5l1.7,4.9l2.4,-13.3l2.5,-13.8l1.6,-5.0l1.7,-10.6l2.4,-16.1l2.5,-18.3l2.5,19.4l2.4,13.4l2.5,-9.1l2.4,-6.7l2.5,2.1l2.4,-1.9l2.5,-1.4l2.5,-11.4l2.0,2.2l2.1,-6.6l2.0,8.1l2.1,5.5l2.4,11.1l2.5,-0.7l2.7,38.5l2.0,5.6l2.1,9.0l2.0,-1.5l2.1,6.4l1.6,-11.7l1.6,-5.8l1.7,-13.9l1.6,-9.4l1.7,-8.4l1.6,-19.5l2.1,0.1l2.0,-13.4l2.1,3.7l2.0,5.1l2.5,3.4l2.4,7.2l2.5,-2.9l2.4,-0.6l2.1,3.1l2.0,4.0l2.1,-12.8l2.0,-10.2l1.7,4.6l1.6,8.5l1.6,-7.8l1.7,-2.0l1.6,9.7l1.7,3.4l2.4,-9.0l2.5,-4.1l1.6,7.8l1.7,-1.2l1.6,-10.4l1.6,-9.4l1.7,-6.3l1.6,-4.0l1.6,-5.6l1.7,-2.0l1.6,9.5l1.7,2.0l1.6,-1.3l1.6,-6.9l2.5,5.6l2.5,1.1l2.4,3.8l2.5,3.7l2.4,0.2l2.5,-5.8l1.6,-2.7l1.7,-5.9l1.6,4.3l1.6,13.0l1.7,2.9l1.6,3.1l1.7,4.2l1.6,13.3l1.6,3.5l1.7,6.3l1.6,3.8l1.7,-2.2l2.4,-6.6l2.5,-4.7l1.6,11.0l1.6,2.8l1.7,-1.0l1.6,0.3l2.5,-5.5l2.4,-7.6l1.7,2.3l1.6,10.3l1.7,6.1l1.6,1.0l2.5,-7.2l2.4,-8.2l1.7,4.6l1.6,3.8l1.6,2.0l1.7,5.1l2.4,-5.7l2.5,4.6l2.4,-3.0l2.5,-1.7l1.6,5.5l1.7,3.5l2.4,-6.0l2.5,-3.9l2.5,1.4l2.4,5.1l2.5,-0.4l2.4,-5.2l2.5,6.6l2.4,6.6l2.5,-6.0l2.5,4.3l2.4,-2.3l2.5,-10.1l1.6,5.6l1.7,6.1l2.4,-1.2l2.5,6.0l2.4,0.4l2.5,-0.5l2.4,0.2l2.5,4.4l2.5,-4.4l2.4,0.7l2.5,-1.2l2.4,-4.9l2.5,0.0l2.5,3.5l2.4,-0.2l2.5,3.3l2.4,0.2l2.5,-3.7l2.4,-5.7l2.5,-2.0l2.5,7.1l2.4,4.3l2.5,2.7l2.4,1.8l2.5,-3.5l2.5,-5.0l2.4,5.8l2.5,2.0l2.2,-2.7l2.1,0.9l2.2,-0.3" stroke="#ee2a24" stroke-width="2.3" fill="none" stroke-linejoin="round"/>
<path d="M666.0,1564.5l1.6,11.0l1.7,8.7l1.6,-4.6l1.7,-4.8l2.4,-31.6l2.5,53.4l2.4,13.8l2.5,-20.3l1.6,-6.2l1.7,-2.6l2.0,-45.6l2.1,-36.7l2.4,43.1l2.2,196.7l2.3,64.2l2.2,-63.6l2.3,-99.2l1.7,-44.0l1.6,-41.5l1.7,0.9l1.6,6.6l2.4,7.6l1.7,-16.3l1.6,-4.8l2.5,-17.8l2.4,-18.8l1.7,15.5l1.6,22.2l1.7,-13.1l1.6,-14.3l1.6,-2.5l1.7,-4.5l1.6,1.4l1.7,10.1l1.6,2.4l1.6,1.1l1.7,6.4l1.6,1.5l1.6,-5.1l1.7,-3.4l1.6,-12.7l1.7,-5.0l1.6,8.4l1.6,3.0l1.7,5.2l1.6,3.1l2.5,-29.5l2.4,53.0l2.5,46.0l1.6,5.2l1.7,10.5l1.6,-11.8l1.6,-14.4l1.7,3.9l1.6,9.2l2.1,-7.5l2.0,0.0l2.5,-5.6l1.6,13.7l1.7,14.1l1.6,-2.7l1.6,-2.9l2.1,-22.9l2.0,-15.7l1.7,13.8l1.6,20.6l1.6,-6.6l1.7,-12.4l1.6,-15.0l1.7,-13.5l1.6,14.8l1.6,17.9l1.7,-8.1l1.6,-15.0l2.5,-21.8l2.4,-27.2l1.7,13.8l1.6,11.9l1.7,17.9l1.6,22.9l1.6,7.7l1.7,6.1l2.4,16.4l2.5,11.5l1.6,-18.2l1.7,-22.8l1.6,17.7l1.6,13.5l2.5,-7.9l2.5,-14.5l2.0,-16.8l2.1,-16.6l1.6,3.4l1.6,7.6l2.5,16.9l1.6,-14.6l1.7,-9.0l1.6,-8.9l1.6,-4.7l1.7,-4.0l1.6,-6.3l1.7,8.1l1.6,8.3l2.2,-11.4l2.2,-24.9l2.2,-9.6l1.6,15.1l1.6,17.7l1.7,20.3l1.6,28.2l2.5,15.4l2.4,14.7l1.7,-20.4l1.6,-21.1l1.6,-17.5l1.7,1.9l1.6,9.8l2.5,-0.4l2.4,-1.1l2.5,1.6l2.5,1.3l1.6,-10.5l1.6,-8.6l1.7,-3.6l1.6,-3.5l1.6,7.8l1.7,3.9l2.4,5.4l2.5,3.2l2.5,6.5l2.4,2.7l2.2,-20.5l2.2,-17.6l2.2,-24.2l2.4,27.4l2.5,25.3l1.6,22.8l1.7,22.9l2.7,-20.7l2.0,-4.9l2.1,-3.9l2.0,15.6l2.1,10.6l2.4,-1.2l2.5,-7.3l1.6,-12.0l1.7,-1.0l2.4,-11.0l2.5,-3.6l2.4,4.4l2.5,8.7l2.5,-3.0l2.4,-3.5l2.5,9.6l2.4,0.2l2.5,-8.9l2.4,-5.1l2.5,-6.7l2.5,-12.1l1.6,1.4l1.6,3.0l2.5,17.9l2.5,10.5l1.6,-4.7l1.6,-5.1l2.1,11.4l2.0,8.3l2.1,-25.8l2.0,-15.3l1.7,-0.9l1.6,-4.5l1.6,5.4l1.7,4.8l1.6,5.8l1.7,7.5l1.6,-8.0l1.6,-1.8l1.7,2.7l1.6,-0.2l1.7,5.1l1.6,5.5l1.6,-11.6l1.7,-4.8l1.6,7.2l1.7,12.5l1.6,-12.6l1.6,-13.2l1.7,-6.5l1.6,5.3l1.6,4.4l1.7,3.5l1.6,12.0l1.7,6.5l1.6,0.1l1.6,10.3l2.5,-4.3l2.5,-2.3l2.4,17.1l2.5,9.2l1.6,-8.3l1.6,-8.1l1.7,5.1l1.6,1.4l1.7,-7.6l1.6,-2.2l1.6,5.2l1.7,7.9l1.6,-2.0l1.7,-4.1l1.6,-13.5l1.6,-6.9l1.7,1.0l1.6,4.8l1.7,7.5l1.6,9.9l1.6,-5.6l1.7,-0.5l2.0,-11.6l2.1,-7.1l2.0,-4.7l2.1,0.0l2.4,8.6l2.5,14.4l2.4,-9.8l2.5,-3.1l2.5,4.3l2.4,0.7l2.5,-12.2l2.4,0.4l2.5,6.4l2.4,6.9l1.7,7.8l1.6,5.1l1.7,-12.6l1.6,-10.3l2.5,4.2l2.4,2.3l1.7,-4.8l1.6,-8.3l2.5,9.1l2.4,10.6l2.5,-5.7l2.4,-4.1l1.7,9.7l1.6,6.7l2.5,-4.3l2.4,-10.0l2.5,3.6l2.4,2.3l2.5,-12.5l2.5,-2.1l1.6,3.7l1.6,6.8l2.5,9.4l2.4,6.3l2.5,-7.9l2.5,-5.2l2.4,4.2l2.5,5.7l1.6,-5.6l1.7,-6.8l2.4,-12.3l2.5,-4.8l1.6,2.4l1.7,12.2l2.4,-4.7l2.5,4.3l2.2,-3.3l2.1,0.9l2.2,1.3" stroke="#2250a8" stroke-width="2.3" fill="none" stroke-linejoin="round"/>
</g>
<path d="M761.0,1680.1V1687.8H787.3V1680.1" stroke="#ee2a24" stroke-width="2" fill="none"/>
<path d="M683.4,1825.7V1834.4H708.7V1825.7" stroke="#2250a8" stroke-width="2" fill="none"/>
<rect x="666.5" y="1439.9" width="520.3" height="410.7" fill="none" stroke="#4a4a4a" stroke-width="1.4"/>
<path d="M681.4,1439.9v5.5M681.4,1850.6v-5.5M755.7,1439.9v5.5M755.7,1850.6v-5.5M830.0,1439.9v5.5M830.0,1850.6v-5.5M904.4,1439.9v5.5M904.4,1850.6v-5.5M978.7,1439.9v5.5M978.7,1850.6v-5.5M1053.0,1439.9v5.5M1053.0,1850.6v-5.5M1127.3,1439.9v5.5M1127.3,1850.6v-5.5M666.5,1850.6h5.5M1186.8,1850.6h-5.5M666.5,1805.0h5.5M1186.8,1805.0h-5.5M666.5,1759.3h5.5M1186.8,1759.3h-5.5M666.5,1713.7h5.5M1186.8,1713.7h-5.5M666.5,1668.1h5.5M1186.8,1668.1h-5.5M666.5,1622.4h5.5M1186.8,1622.4h-5.5M666.5,1576.8h5.5M1186.8,1576.8h-5.5M666.5,1531.2h5.5M1186.8,1531.2h-5.5M666.5,1485.5h5.5M1186.8,1485.5h-5.5M666.5,1439.9h5.5M1186.8,1439.9h-5.5" stroke="#4a4a4a" stroke-width="1.4" fill="none"/>
<text x="681.1" y="1868.2" font-size="17" text-anchor="middle" font-weight="normal" fill="#333">0</text>
<text x="753.5" y="1868.2" font-size="17" text-anchor="middle" font-weight="normal" fill="#333">0.5</text>
<text x="829.7" y="1868.2" font-size="17" text-anchor="middle" font-weight="normal" fill="#333">1</text>
<text x="902.2" y="1868.2" font-size="17" text-anchor="middle" font-weight="normal" fill="#333">1.5</text>
<text x="978.4" y="1868.2" font-size="17" text-anchor="middle" font-weight="normal" fill="#333">2</text>
<text x="1050.8" y="1868.2" font-size="17" text-anchor="middle" font-weight="normal" fill="#333">2.5</text>
<text x="1127.0" y="1868.2" font-size="17" text-anchor="middle" font-weight="normal" fill="#333">3</text>
<text x="658.9" y="1854.2" font-size="17" text-anchor="end" font-weight="normal" fill="#333">-60</text>
<text x="658.9" y="1808.6" font-size="17" text-anchor="end" font-weight="normal" fill="#333">-50</text>
<text x="658.9" y="1762.9" font-size="17" text-anchor="end" font-weight="normal" fill="#333">-40</text>
<text x="658.9" y="1717.3" font-size="17" text-anchor="end" font-weight="normal" fill="#333">-30</text>
<text x="658.9" y="1671.7" font-size="17" text-anchor="end" font-weight="normal" fill="#333">-20</text>
<text x="658.9" y="1626.0" font-size="17" text-anchor="end" font-weight="normal" fill="#333">-10</text>
<text x="658.9" y="1580.4" font-size="17" text-anchor="end" font-weight="normal" fill="#333">0</text>
<text x="658.9" y="1534.8" font-size="17" text-anchor="end" font-weight="normal" fill="#333">10</text>
<text x="658.9" y="1489.1" font-size="17" text-anchor="end" font-weight="normal" fill="#333">20</text>
<text x="658.9" y="1443.5" font-size="17" text-anchor="end" font-weight="normal" fill="#333">30</text>
<text class="th" x="918.8" y="1892.0" font-size="18.8" text-anchor="middle" font-weight="normal" fill="#231f20" textLength="67.6" lengthAdjust="spacingAndGlyphs">Time (s)</text>
<text class="th" x="0" y="0" font-size="19.5" text-anchor="middle" fill="#231f20" textLength="168.4" lengthAdjust="spacingAndGlyphs" transform="translate(622.4,1664.6) rotate(-90)">Neural activity index</text>
<rect x="1083.0" y="1454.4" width="89.6" height="54.3" fill="#fff" stroke="#6a6a6a" stroke-width="1.3"/>
<rect x="1090.4" y="1464.0" width="20.4" height="12.4" fill="#f3c7bd"/>
<rect x="1090.4" y="1469.4" width="20.4" height="1.8" fill="#ec1c24"/>
<rect x="1090.4" y="1486.8" width="20.4" height="12.6" fill="#a9dcea"/>
<rect x="1090.4" y="1492.0" width="20.4" height="1.8" fill="#2a48a0"/>
<text x="1121.4" y="1473.7" font-size="16.6" text-anchor="start" font-weight="normal" fill="#231f20" textLength="43.4" lengthAdjust="spacingAndGlyphs">Young</text>
<text x="1121.4" y="1496.7" font-size="16.6" text-anchor="start" font-weight="normal" fill="#231f20" textLength="37.5" lengthAdjust="spacingAndGlyphs">Older</text>
<rect x="1016.9" y="1725.8" width="155.1" height="110.5" fill="#fff" stroke="#6a6a6a" stroke-width="1.2"/>
<g transform="translate(1016.9,1725.8)"><use href="#brainbase"/><path d="M27.5,39.0C27.5,40.2 26.9,41.6 26.0,42.5C25.1,43.5 23.5,44.3 22.0,44.7C20.5,45.1 18.5,45.1 17.0,44.7C15.5,44.3 13.9,43.5 13.0,42.5C12.1,41.6 11.5,40.2 11.5,39.0C11.5,37.8 12.1,36.4 13.0,35.5C13.9,34.5 15.5,33.7 17.0,33.3C18.5,32.9 20.5,32.9 22.0,33.3C23.5,33.7 25.1,34.5 26.0,35.5C26.9,36.4 27.5,37.8 27.5,39.0Z" fill="#f0262a" fill-opacity="0.93"/><path d="M34.5,44.0C34.5,44.8 34.1,45.9 33.5,46.5C32.9,47.1 31.8,47.5 31.0,47.5C30.2,47.5 29.1,47.1 28.5,46.5C27.9,45.9 27.5,44.8 27.5,44.0C27.5,43.2 27.9,42.1 28.5,41.5C29.1,40.9 30.2,40.5 31.0,40.5C31.8,40.5 32.9,40.9 33.5,41.5C34.1,42.1 34.5,43.2 34.5,44.0Z" fill="#f0262a" fill-opacity="0.93"/><path d="M29.5,48.5C30.6,47.8 33.9,48.2 36.0,48.0C38.1,47.8 40.0,47.8 42.0,47.5C44.0,47.2 47.2,46.1 48.0,46.5C48.8,46.9 48.3,48.9 47.0,50.0C45.7,51.1 42.3,52.2 40.0,53.0C37.7,53.8 34.8,54.6 33.0,54.5C31.2,54.4 30.1,53.5 29.5,52.5C28.9,51.5 28.4,49.2 29.5,48.5Z" fill="#f0262a" fill-opacity="0.93"/><path d="M57.5,37.0C57.5,38.2 57.1,39.7 56.6,40.5C56.1,41.4 55.2,42.0 54.5,42.0C53.8,42.0 52.9,41.4 52.4,40.5C51.9,39.7 51.5,38.2 51.5,37.0C51.5,35.8 51.9,34.3 52.4,33.5C52.9,32.6 53.8,32.0 54.5,32.0C55.2,32.0 56.1,32.6 56.6,33.5C57.1,34.3 57.5,35.8 57.5,37.0Z" fill="#f0262a" fill-opacity="0.93"/><path d="M29.5,34.5C29.5,35.0 29.0,35.8 28.5,36.1C28.0,36.3 27.0,36.3 26.5,36.1C26.0,35.8 25.5,35.0 25.5,34.5C25.5,34.0 26.0,33.2 26.5,32.9C27.0,32.7 28.0,32.7 28.5,32.9C29.0,33.2 29.5,34.0 29.5,34.5Z" fill="#f0262a" fill-opacity="0.93"/><path d="M37.5,67.5C38.8,66.9 42.9,66.8 45.0,66.5C47.1,66.2 48.6,65.4 50.0,65.5C51.4,65.6 53.1,65.9 53.5,67.0C53.9,68.1 53.1,70.6 52.5,72.0C51.9,73.4 51.4,74.8 50.0,75.5C48.6,76.2 45.5,76.9 44.0,76.5C42.5,76.1 42.1,74.1 41.0,73.0C39.9,71.9 38.1,70.9 37.5,70.0C36.9,69.1 36.2,68.1 37.5,67.5Z" fill="#f0262a" fill-opacity="0.93"/><path d="M60.7,78.8C60.7,79.3 60.2,80.1 59.6,80.4C59.0,80.6 58.0,80.6 57.4,80.4C56.8,80.1 56.3,79.3 56.3,78.8C56.3,78.3 56.8,77.5 57.4,77.2C58.0,77.0 59.0,77.0 59.6,77.2C60.2,77.5 60.7,78.3 60.7,78.8Z" fill="#f0262a" fill-opacity="0.93"/><path d="M54.5,94.0C54.8,93.0 56.0,90.6 57.0,89.5C58.0,88.4 59.8,87.5 60.5,87.5C61.2,87.5 61.9,88.6 61.5,89.5C61.1,90.4 59.0,92.0 58.0,93.0C57.0,94.0 56.1,95.3 55.5,95.5C54.9,95.7 54.2,95.0 54.5,94.0Z" fill="#f0262a" fill-opacity="0.93"/><path d="M20.5,85.0C20.7,82.9 25.8,83.6 28.0,83.5C30.2,83.4 33.3,83.8 34.0,84.5C34.7,85.2 32.7,86.8 32.0,88.0C31.3,89.2 30.8,90.7 30.0,92.0C29.2,93.3 28.6,97.2 27.0,96.0C25.4,94.8 20.3,87.1 20.5,85.0Z" fill="#f0262a" fill-opacity="0.93"/><path d="M26.5,95.0C27.5,94.9 30.4,95.8 33.0,96.5C35.6,97.2 39.2,98.2 42.0,99.0C44.8,99.8 47.8,101.0 50.0,101.5C52.2,102.0 54.6,101.3 55.5,102.0C56.4,102.7 56.4,104.8 55.5,105.5C54.6,106.2 52.2,106.5 50.0,106.0C47.8,105.5 44.8,103.6 42.0,102.5C39.2,101.4 35.5,100.4 33.0,99.5C30.5,98.6 28.1,97.8 27.0,97.0C25.9,96.2 25.5,95.1 26.5,95.0Z" fill="#f0262a" fill-opacity="0.93"/><path d="M63.0,88.5C62.3,88.1 60.2,87.7 58.8,88.2C57.4,88.7 55.8,90.3 54.8,91.5C53.8,92.7 52.7,94.7 52.8,95.5C52.9,96.3 54.3,97.0 55.3,96.5C56.3,96.0 57.6,93.5 58.8,92.5C60.1,91.5 62.1,91.2 62.8,90.5C63.5,89.8 63.7,88.9 63.0,88.5Z" fill="#f0262a" fill-opacity="0.93"/><path d="M30.5,84.7C30.5,85.2 31.0,85.9 31.4,86.1C31.9,86.3 32.8,86.3 33.2,86.1C33.7,85.9 34.1,85.2 34.1,84.7C34.1,84.2 33.7,83.5 33.2,83.3C32.8,83.1 31.9,83.1 31.4,83.3C31.0,83.5 30.5,84.2 30.5,84.7Z" fill="#f0262a" fill-opacity="0.93"/></g>
<g fill="#231f20" transform="translate(673.0,1931.1)"><ellipse cx="4.9" cy="-3.0" rx="5.1" ry="2.85" transform="rotate(-21 4.9 -3.0)"/><rect x="8.7" y="-23.4" width="1.45" height="20.5"/><path d="M8.7,-23.6 C10.0,-20.8 13.6,-18.9 15.6,-15.7 C16.9,-13.5 16.5,-10.7 15.0,-8.6 C15.4,-10.8 15.0,-12.6 13.6,-14.2 C12.4,-15.5 11.0,-16.0 10.1,-17.0 L10.1,-23.6 Z"/></g>
<g fill="#e5222a" transform="translate(730.2,1931.1)"><ellipse cx="4.9" cy="-3.0" rx="5.1" ry="2.85" transform="rotate(-21 4.9 -3.0)"/><rect x="8.7" y="-23.4" width="1.45" height="20.5"/><path d="M8.7,-23.6 C10.0,-20.8 13.6,-18.9 15.6,-15.7 C16.9,-13.5 16.5,-10.7 15.0,-8.6 C15.4,-10.8 15.0,-12.6 13.6,-14.2 C12.4,-15.5 11.0,-16.0 10.1,-17.0 L10.1,-23.6 Z"/></g>
<g fill="#e5222a" transform="translate(781.7,1931.1)"><ellipse cx="4.9" cy="-3.0" rx="5.1" ry="2.85" transform="rotate(-21 4.9 -3.0)"/><rect x="8.7" y="-23.4" width="1.45" height="20.5"/><path d="M8.7,-23.6 C10.0,-20.8 13.6,-18.9 15.6,-15.7 C16.9,-13.5 16.5,-10.7 15.0,-8.6 C15.4,-10.8 15.0,-12.6 13.6,-14.2 C12.4,-15.5 11.0,-16.0 10.1,-17.0 L10.1,-23.6 Z"/></g>
<g fill="#e5222a" transform="translate(836.5,1931.1)"><ellipse cx="4.9" cy="-3.0" rx="5.1" ry="2.85" transform="rotate(-21 4.9 -3.0)"/><rect x="8.7" y="-23.4" width="1.45" height="20.5"/><path d="M8.7,-23.6 C10.0,-20.8 13.6,-18.9 15.6,-15.7 C16.9,-13.5 16.5,-10.7 15.0,-8.6 C15.4,-10.8 15.0,-12.6 13.6,-14.2 C12.4,-15.5 11.0,-16.0 10.1,-17.0 L10.1,-23.6 Z"/></g>
<g fill="#e5222a" transform="translate(889.7,1931.1)"><ellipse cx="4.9" cy="-3.0" rx="5.1" ry="2.85" transform="rotate(-21 4.9 -3.0)"/><rect x="8.7" y="-23.4" width="1.45" height="20.5"/><path d="M8.7,-23.6 C10.0,-20.8 13.6,-18.9 15.6,-15.7 C16.9,-13.5 16.5,-10.7 15.0,-8.6 C15.4,-10.8 15.0,-12.6 13.6,-14.2 C12.4,-15.5 11.0,-16.0 10.1,-17.0 L10.1,-23.6 Z"/></g>
<text class="th" x="1520.7" y="1416.9" font-size="27.5" text-anchor="middle" font-weight="normal" fill="#231f20" textLength="106.3" lengthAdjust="spacingAndGlyphs">Novel T3</text>
<clipPath id="clip22"><rect x="1272.6" y="1439.9" width="520.3" height="410.7"/></clipPath>
<rect x="1300.2" y="1439.9" width="7.5" height="410.7" fill="#dcdcde"/>
<rect x="1315.4" y="1439.9" width="4.6" height="410.7" fill="#dcdcde"/>
<rect x="1378.5" y="1439.9" width="4.5" height="410.7" fill="#dcdcde"/>
<rect x="1484.6" y="1439.9" width="6.2" height="410.7" fill="#dcdcde"/>
<rect x="1539.5" y="1439.9" width="5.9" height="410.7" fill="#dcdcde"/>
<path d="M1287.5,1439.9V1850.6M1302.3,1439.9V1850.6M1317.2,1439.9V1850.6M1332.1,1439.9V1850.6M1346.9,1439.9V1850.6M1361.8,1439.9V1850.6M1376.7,1439.9V1850.6M1391.5,1439.9V1850.6M1406.4,1439.9V1850.6M1421.3,1439.9V1850.6M1436.1,1439.9V1850.6M1451.0,1439.9V1850.6M1465.9,1439.9V1850.6M1480.7,1439.9V1850.6M1495.6,1439.9V1850.6M1510.5,1439.9V1850.6M1525.3,1439.9V1850.6M1540.2,1439.9V1850.6M1555.0,1439.9V1850.6M1569.9,1439.9V1850.6M1584.8,1439.9V1850.6M1599.6,1439.9V1850.6M1614.5,1439.9V1850.6M1629.4,1439.9V1850.6M1644.2,1439.9V1850.6M1659.1,1439.9V1850.6M1674.0,1439.9V1850.6M1688.8,1439.9V1850.6M1703.7,1439.9V1850.6M1718.6,1439.9V1850.6M1733.4,1439.9V1850.6M1748.3,1439.9V1850.6M1763.2,1439.9V1850.6M1778.0,1439.9V1850.6M1272.6,1841.5H1792.9M1272.6,1832.3H1792.9M1272.6,1823.2H1792.9M1272.6,1814.1H1792.9M1272.6,1805.0H1792.9M1272.6,1795.8H1792.9M1272.6,1786.7H1792.9M1272.6,1777.6H1792.9M1272.6,1768.5H1792.9M1272.6,1759.3H1792.9M1272.6,1750.2H1792.9M1272.6,1741.1H1792.9M1272.6,1732.0H1792.9M1272.6,1722.8H1792.9M1272.6,1713.7H1792.9M1272.6,1704.6H1792.9M1272.6,1695.4H1792.9M1272.6,1686.3H1792.9M1272.6,1677.2H1792.9M1272.6,1668.1H1792.9M1272.6,1658.9H1792.9M1272.6,1649.8H1792.9M1272.6,1640.7H1792.9M1272.6,1631.6H1792.9M1272.6,1622.4H1792.9M1272.6,1613.3H1792.9M1272.6,1604.2H1792.9M1272.6,1595.1H1792.9M1272.6,1585.9H1792.9M1272.6,1576.8H1792.9M1272.6,1567.7H1792.9M1272.6,1558.5H1792.9M1272.6,1549.4H1792.9M1272.6,1540.3H1792.9M1272.6,1531.2H1792.9M1272.6,1522.0H1792.9M1272.6,1512.9H1792.9M1272.6,1503.8H1792.9M1272.6,1494.7H1792.9M1272.6,1485.5H1792.9M1272.6,1476.4H1792.9M1272.6,1467.3H1792.9M1272.6,1458.2H1792.9M1272.6,1449.0H1792.9" stroke="#c6c6c6" stroke-width="1" stroke-dasharray="1.3 1.7" fill="none"/>
<g clip-path="url(#clip22)">
<path d="M1272.0,1570.6l1.6,-2.9l1.7,-7.7l1.6,-1.6l1.7,-2.7l1.6,5.6l1.6,8.7l1.7,7.4l1.6,4.5l1.6,-1.1l1.7,-1.2l2.4,7.1l2.5,-39.1l2.5,-48.6l2.4,38.9l2.2,199.9l2.3,42.1l2.2,-44.7l2.3,-129.4l1.7,-33.1l1.6,-40.6l2.5,-13.5l1.6,5.9l1.6,14.0l1.7,-13.7l1.6,-14.0l1.7,20.5l1.6,6.9l1.6,5.2l1.7,-7.2l1.6,-8.6l1.7,-8.1l2.0,-15.7l2.1,-16.8l1.6,14.1l1.6,5.9l2.1,-2.4l2.0,-8.2l1.7,6.5l1.6,0.7l1.6,8.7l1.7,0.8l1.6,3.7l1.7,8.1l1.6,7.7l1.6,8.4l1.7,16.5l2.4,-27.9l2.5,-25.9l2.5,41.7l1.6,19.8l1.6,12.1l2.1,3.8l2.0,0.8l1.7,-27.2l1.6,-23.8l1.6,8.0l1.7,14.8l2.0,-15.0l2.1,-16.6l2.0,-7.4l2.1,0.6l1.6,-10.5l1.7,-8.5l1.6,5.1l1.6,0.1l1.9,-5.4l2.0,-11.7l1.9,-5.6l2.0,13.6l2.1,20.5l1.6,-17.9l1.6,-12.6l1.7,18.4l1.6,4.1l1.7,-9.3l1.6,-13.1l1.6,-11.0l1.7,-12.3l2.4,44.2l2.5,39.4l1.6,6.3l1.7,6.5l1.6,10.6l1.6,5.0l1.7,0.5l1.6,1.6l1.7,0.2l1.6,2.4l1.6,-8.4l1.7,-14.9l2.4,-8.0l2.1,7.4l2.0,17.4l2.1,-17.8l2.0,-5.0l2.1,-17.2l2.0,-12.4l1.7,4.7l1.6,-1.5l2.5,-0.1l2.4,5.2l1.7,3.0l1.6,-3.5l1.6,3.7l1.7,2.4l2.0,-21.5l2.1,-18.8l2.4,61.1l1.7,11.8l1.6,9.7l1.7,11.0l1.6,11.4l1.6,9.7l1.7,6.5l1.6,1.6l1.6,6.3l1.7,0.3l1.6,3.7l2.1,9.8l2.0,7.9l2.1,-7.1l2.0,-9.3l2.5,-6.2l2.4,-17.1l1.7,2.7l1.6,-7.0l1.6,-4.5l1.7,-5.6l1.6,-4.4l1.7,-0.9l1.6,-19.5l1.6,-17.3l2.5,4.7l2.5,-2.6l1.9,-19.7l1.9,-21.1l1.9,-17.5l2.0,17.2l2.1,26.6l1.6,17.5l1.7,12.1l2.5,17.1l2.0,-27.1l2.1,-13.9l2.5,5.2l2.4,7.4l2.1,6.5l2.0,0.5l2.1,-6.2l2.0,-13.5l2.1,-5.9l2.0,-3.0l1.6,9.3l1.7,8.2l2.4,-16.8l1.7,15.4l1.6,5.8l1.7,3.8l1.6,-12.7l2.5,4.7l2.4,11.3l1.6,-4.9l1.7,-10.2l1.6,-6.8l1.7,-8.6l1.6,7.9l1.6,6.4l1.7,15.5l1.6,15.5l1.7,-8.3l1.6,-5.9l1.6,5.7l1.7,-2.5l2.0,17.0l2.1,8.6l1.6,-17.1l1.6,-17.8l2.1,4.1l2.0,7.0l1.7,-5.5l1.6,0.3l1.7,0.7l1.6,6.2l1.6,-10.1l1.7,-6.2l2.4,2.2l2.5,-0.4l2.5,-2.8l2.4,-9.3l1.7,14.4l1.6,8.1l1.6,6.5l1.7,8.1l2.4,1.0l2.5,4.8l1.6,-4.2l1.7,-9.1l1.6,0.9l1.6,-9.9l1.7,13.2l1.6,14.6l2.5,5.2l2.4,4.1l2.5,-8.0l2.4,-7.6l2.5,10.4l2.5,6.2l2.4,-8.9l2.5,5.3l2.4,-2.7l2.5,2.4l2.5,-4.8l2.4,-6.7l2.5,5.5l2.4,-2.5l1.7,8.9l1.6,8.6l2.5,-1.3l2.4,-14.0l2.5,5.0l2.4,5.7l2.5,-17.2l2.5,-11.6l2.4,14.9l2.5,23.6l2.4,-10.7l2.5,-5.0l1.6,4.9l1.7,8.7l2.4,-8.3l2.5,-8.2l2.4,2.8l2.5,-7.2l2.5,-3.8l2.4,-6.8l2.5,7.4l2.4,2.9l2.5,6.1l2.5,0.1l2.4,-7.6l2.5,-1.0l2.4,-10.7l2.5,-7.4l2.4,10.1l2.5,3.2l2.5,-0.7l2.4,-8.7l2.5,7.8l2.4,7.7l2.5,-13.6l2.4,-8.6l1.7,-5.3l1.6,-4.0l1.7,3.7l1.6,9.5l2.5,8.7l2.4,4.2l1.7,-9.1l1.6,-10.1l2.5,3.1l2.4,-5.2l2.5,8.2l2.4,8.2l1.7,0.1l1.6,-0.1l2.2,0.9l2.2,-1.5l2.2,0.5l0.0,15.3l-2.2,-1.3l-2.2,1.1l-2.2,-2.8l-1.6,4.4l-1.7,-1.4l-2.4,-6.2l-2.5,-9.3l-2.4,1.1l-2.5,4.3l-1.6,9.8l-1.7,5.1l-2.4,-9.0l-2.5,-4.1l-1.6,-9.3l-1.7,-11.6l-1.6,9.5l-1.7,8.8l-2.4,7.8l-2.5,12.2l-2.4,-3.9l-2.5,-7.0l-2.4,2.3l-2.5,7.2l-2.5,-12.8l-2.4,-7.5l-2.5,11.6l-2.4,7.3l-2.5,7.2l-2.4,7.3l-2.5,-9.9l-2.5,3.2l-2.4,-9.7l-2.5,-6.9l-2.4,11.1l-2.5,9.6l-2.5,-4.2l-2.4,2.0l-2.5,6.3l-2.4,3.9l-1.7,-2.7l-1.6,-8.2l-2.5,11.9l-2.4,6.0l-2.5,-22.2l-2.4,-17.5l-2.5,16.1l-2.5,13.5l-2.4,-0.6l-2.5,-7.2l-2.4,3.1l-2.5,18.2l-1.6,-16.0l-1.7,-5.8l-2.4,3.3l-2.5,-8.2l-2.4,3.3l-2.5,5.9l-2.5,-6.7l-2.4,3.0l-2.5,4.9l-2.4,2.6l-2.5,-7.1l-2.5,-10.8l-2.4,6.1l-2.5,16.1l-2.4,-12.6l-2.5,1.6l-1.6,-19.0l-1.7,-11.1l-1.6,5.7l-1.6,7.0l-1.7,0.5l-1.6,9.8l-2.5,-4.7l-2.4,-8.6l-1.7,1.1l-1.6,-5.4l-1.6,-14.5l-1.7,-9.9l-2.4,6.8l-2.5,-0.9l-2.5,5.5l-2.4,-2.0l-1.7,9.7l-1.6,10.0l-1.6,-10.2l-1.7,-3.8l-1.6,0.9l-1.7,6.5l-2.0,-6.5l-2.1,-3.7l-1.6,20.0l-1.6,16.3l-2.1,-11.4l-2.0,-8.9l-1.7,-9.5l-1.6,-5.9l-1.6,9.2l-1.7,7.5l-1.6,-13.1l-1.7,-13.1l-1.6,-4.0l-1.6,-13.6l-1.7,5.9l-1.6,14.5l-1.7,2.5l-1.6,6.4l-2.4,-2.2l-2.5,-9.0l-1.6,7.1l-1.7,4.7l-1.6,-11.8l-1.7,-10.3l-2.4,11.7l-1.7,-8.3l-1.6,-6.5l-2.0,5.3l-2.1,2.1l-2.0,8.5l-2.1,8.3l-2.0,-2.7l-2.1,-3.9l-2.4,-1.9l-2.5,-8.8l-2.1,14.4l-2.0,28.0l-2.5,-19.4l-1.7,-16.7l-1.6,-15.4l-2.1,-22.8l-2.0,-22.8l-1.9,24.7l-1.9,19.1l-1.9,26.7l-2.5,-6.0l-2.5,-0.8l-1.6,18.0l-1.6,10.9l-1.7,7.4l-1.6,4.9l-1.7,5.7l-1.6,3.9l-1.6,-0.1l-1.7,9.9l-2.4,7.5l-2.5,12.6l-2.0,3.8l-2.1,7.0l-2.0,-6.2l-2.1,-8.8l-1.6,-3.4l-1.7,-7.2l-1.6,1.2l-1.6,-4.1l-1.7,-6.7l-1.6,-8.6l-1.6,-11.7l-1.7,-8.1l-1.6,-13.2l-1.7,-15.8l-2.4,-57.7l-2.1,22.3l-2.0,20.1l-1.7,-4.3l-1.6,-0.7l-1.6,2.4l-1.7,1.4l-2.4,-1.9l-2.5,-9.3l-1.6,4.3l-1.7,-7.0l-2.0,15.1l-2.1,14.0l-2.0,7.9l-2.1,16.5l-2.0,-10.5l-2.1,-15.3l-2.4,11.5l-1.7,10.9l-1.6,13.5l-1.6,-6.1l-1.7,-2.5l-1.6,2.9l-1.7,-2.1l-1.6,-7.9l-1.6,-7.2l-1.7,-3.3l-1.6,-10.1l-2.5,-44.4l-2.4,-38.7l-1.7,9.8l-1.6,11.2l-1.6,13.3l-1.7,12.7l-1.6,-10.4l-1.7,-14.3l-1.6,12.4l-1.6,15.8l-2.1,-21.4l-2.0,-8.0l-1.9,6.6l-2.0,4.3l-1.9,10.7l-1.6,-4.2l-1.6,-7.6l-1.7,14.1l-1.6,12.2l-2.1,3.6l-2.0,3.0l-2.1,8.5l-2.0,13.9l-1.7,-4.6l-1.6,-14.2l-1.6,28.4l-1.7,25.8l-2.0,-4.4l-2.1,-2.0l-1.6,-13.0l-1.6,-15.4l-2.5,-46.9l-2.5,30.0l-2.4,31.0l-1.7,-19.8l-1.6,-6.5l-1.6,-9.5l-1.7,-6.1l-1.6,-6.7l-1.7,-3.7l-1.6,0.4l-1.6,-8.7l-1.7,-2.5l-2.0,6.4l-2.1,6.2l-1.6,-12.6l-1.6,-13.0l-2.1,16.6l-2.0,13.8l-1.7,19.3l-1.6,5.8l-1.7,-0.3l-1.6,-0.3l-1.6,-14.7l-1.7,-10.7l-1.6,9.6l-1.7,16.5l-1.6,-14.7l-1.6,-10.8l-2.5,13.9l-1.6,43.9l-1.7,36.3l-2.3,119.9l-2.2,53.7l-2.3,-48.3l-2.2,-197.6l-2.4,-34.7l-2.5,39.5l-2.5,43.8l-2.4,-11.1l-1.7,9.4l-1.6,-5.0l-1.6,-3.1l-1.7,-11.6l-1.6,-4.2l-1.6,-1.6l-1.7,0.4l-1.6,0.7l-1.7,2.3l-1.6,7.6z" fill="#9fd6e9" fill-opacity="0.75"/>
<path d="M1272.0,1571.9l1.6,-8.4l1.7,-1.4l1.6,3.1l1.7,0.5l2.4,2.6l2.5,7.6l2.4,-6.3l2.5,3.3l1.6,-10.6l1.7,-12.5l2.0,-3.3l2.1,-13.2l2.4,42.7l1.7,23.0l1.6,17.8l1.6,-20.4l1.7,-19.6l1.6,-15.4l1.7,-7.6l1.6,-10.4l1.6,1.4l2.5,10.1l2.8,49.6l2.9,-17.8l1.7,-8.1l1.6,-10.5l1.6,-13.3l1.7,-11.9l2.0,-15.8l2.1,-9.0l2.0,-8.5l2.1,-2.5l1.6,1.2l1.7,-0.4l1.6,10.8l1.6,5.4l1.7,8.9l1.6,11.5l1.6,2.7l1.7,9.3l2.4,17.8l2.5,12.4l2.5,-3.5l2.4,-2.7l2.1,-10.2l2.0,-12.3l2.1,-5.0l2.0,2.7l2.5,5.6l2.4,8.8l2.1,11.5l2.0,12.1l2.1,-4.8l2.0,-4.3l1.7,-2.1l1.6,-4.3l2.5,-12.4l2.4,-20.8l1.7,-4.3l1.6,-3.7l2.5,-11.4l2.4,-2.9l2.5,-2.7l2.4,6.3l2.5,-5.1l2.4,-3.1l1.7,3.8l1.6,12.8l2.5,-9.5l2.4,-10.4l2.5,-7.0l2.0,2.8l2.1,-7.3l1.6,16.7l1.7,7.1l1.6,18.9l1.6,10.5l2.5,16.7l2.5,9.6l1.6,4.0l1.6,-5.0l1.7,-6.8l1.6,-10.0l1.7,-10.6l1.6,-5.9l2.5,-18.5l2.4,-15.8l1.7,-2.2l1.6,-5.1l1.6,-4.7l1.7,1.9l1.6,6.4l1.6,9.8l2.5,4.3l2.5,10.0l2.0,3.7l2.1,2.9l1.6,-10.2l1.6,-6.1l1.7,18.3l1.6,18.4l2.1,5.2l2.0,7.3l2.5,13.9l1.6,19.2l1.6,22.8l2.1,11.0l2.0,14.3l2.1,17.8l2.0,15.7l1.7,-8.5l1.6,-13.5l2.1,-8.4l2.0,-15.6l2.5,-7.8l2.4,-2.1l1.7,-9.9l1.6,-8.9l2.5,-7.2l2.4,-2.0l1.7,-10.7l1.6,-5.6l1.6,-1.0l1.7,-1.1l2.4,-18.7l2.5,-10.3l2.5,-0.8l2.4,-8.4l2.1,-9.9l2.0,-7.7l2.1,19.3l2.0,24.8l1.7,6.3l1.7,9.2l2.0,10.2l2.1,9.6l2.0,-9.6l2.0,-11.8l2.5,-4.3l2.5,-5.4l2.0,-10.6l2.1,-7.9l2.0,-9.9l2.1,-2.8l1.6,8.2l1.6,8.0l1.7,6.4l1.6,4.4l2.1,3.3l2.0,7.0l2.1,-7.6l2.0,-8.1l2.5,0.7l2.4,-3.8l1.7,8.8l1.6,1.9l2.5,-11.5l2.4,-6.4l2.5,-6.5l2.4,-2.6l2.1,-8.5l2.0,-1.8l1.9,-6.8l2.0,-5.1l1.9,3.2l1.6,3.8l1.6,14.3l2.5,-12.7l2.5,-0.2l2.4,-10.7l2.5,-10.0l2.0,8.2l2.1,6.4l2.0,-6.4l2.1,-1.1l1.6,-3.4l1.7,12.0l1.6,-2.5l1.6,8.3l1.7,7.8l1.6,10.1l2.5,3.6l2.4,3.7l2.5,-4.7l2.4,-7.4l1.7,10.5l1.6,5.4l1.7,-3.4l1.6,1.4l1.6,-4.5l1.7,3.8l1.6,4.3l1.6,10.3l2.5,-2.2l2.5,-4.7l2.4,3.6l2.5,7.1l2.4,-8.8l2.5,-6.2l2.5,9.8l2.4,9.3l2.5,-10.4l2.4,-12.1l1.7,0.1l1.6,-8.1l2.5,10.6l2.4,5.7l2.5,-3.2l2.4,-9.4l2.5,7.7l2.5,6.9l2.1,-6.9l2.2,-2.3l2.2,-5.2l2.5,12.1l2.4,5.8l2.5,1.7l2.4,-1.5l2.2,-5.5l2.2,0.9l2.2,5.9l2.2,-6.0l2.2,-5.8l2.2,-9.2l1.6,7.6l1.6,2.6l2.5,12.2l2.5,12.3l2.4,-12.7l2.5,-4.6l2.4,0.5l2.5,8.0l2.4,-6.3l2.5,-7.6l2.5,-5.6l2.4,-7.4l2.5,12.1l2.4,10.7l2.5,-4.9l2.4,-8.3l2.5,-0.5l2.5,-0.9l2.4,3.6l2.5,7.9l2.4,1.1l2.5,-4.1l2.5,-8.3l2.4,1.0l2.5,-2.6l2.4,5.3l1.7,-1.6l1.6,4.1l2.2,1.8l2.2,-8.3l2.2,8.7l0.0,11.3l-2.2,1.1l-2.2,-4.0l-2.2,0.1l-1.6,1.0l-1.7,2.2l-2.4,-6.3l-2.5,-1.2l-2.4,5.5l-2.5,5.4l-2.5,1.1l-2.4,3.2l-2.5,-6.2l-2.4,-6.5l-2.5,4.2l-2.5,0.4l-2.4,2.6l-2.5,11.3l-2.4,-11.0l-2.5,-15.3l-2.4,9.3l-2.5,4.3l-2.5,9.4l-2.4,0.2l-2.5,-1.3l-2.4,-6.3l-2.5,10.8l-2.4,7.1l-2.5,-12.4l-2.5,-12.3l-1.6,-3.8l-1.6,-4.7l-2.2,10.0l-2.2,5.0l-2.2,5.1l-2.2,-2.1l-2.2,-0.5l-2.2,-0.6l-2.4,2.9l-2.5,-1.5l-2.4,-10.8l-2.5,-8.8l-2.2,3.2l-2.2,9.3l-2.1,8.1l-2.5,-12.9l-2.5,-1.0l-2.4,6.4l-2.5,7.0l-2.4,-8.5l-2.5,-10.8l-1.6,6.7l-1.7,2.5l-2.4,10.9l-2.5,5.9l-2.4,-6.4l-2.5,-5.3l-2.5,3.3l-2.4,0.3l-2.5,-0.1l-2.4,-0.6l-2.5,-2.5l-2.5,8.6l-1.6,-6.7l-1.6,-7.1l-1.7,-2.4l-1.6,-6.3l-1.6,5.4l-1.7,3.9l-1.6,-11.4l-1.7,-2.6l-2.4,1.9l-2.5,9.4l-2.4,-3.4l-2.5,-4.0l-1.6,-15.6l-1.7,-7.8l-1.6,-1.5l-1.6,-1.7l-1.7,-9.0l-1.6,0.0l-2.1,1.3l-2.0,5.6l-2.1,-3.5l-2.0,-12.9l-2.5,15.4l-2.4,7.6l-2.5,4.1l-2.5,9.9l-1.6,-12.0l-1.6,-10.8l-1.9,5.3l-2.0,4.6l-1.9,3.0l-2.0,3.6l-2.1,3.9l-2.4,7.0l-2.5,5.0l-2.4,8.0l-2.5,9.9l-1.6,-3.5l-1.7,-4.7l-2.4,-0.1l-2.5,-7.3l-2.0,11.2l-2.1,7.0l-2.0,-5.8l-2.1,-1.4l-1.6,-5.5l-1.7,-3.6l-1.6,-9.1l-1.6,-6.9l-2.1,6.9l-2.0,-0.8l-2.1,12.7l-2.0,14.0l-2.5,6.3l-2.5,5.2l-2.0,10.4l-2.0,7.8l-2.1,-12.1l-2.0,-8.5l-1.7,-5.3l-1.7,-10.4l-2.0,-17.5l-2.1,-26.0l-2.0,12.0l-2.1,12.2l-2.4,-1.1l-2.5,11.3l-2.5,9.4l-2.4,15.9l-1.7,-4.6l-1.6,-0.5l-1.6,10.5l-1.7,12.9l-2.4,4.6l-2.5,0.0l-1.6,7.7l-1.7,7.5l-2.4,10.6l-2.5,7.5l-2.0,12.6l-2.1,7.1l-1.6,14.6l-1.7,7.0l-2.0,-17.1l-2.1,-11.6l-2.0,-17.1l-2.1,-10.1l-1.6,-26.1l-1.6,-21.7l-2.5,-5.9l-2.0,-9.2l-2.1,-11.2l-1.6,-12.2l-1.7,-17.1l-1.6,2.9l-1.6,11.3l-2.1,-1.1l-2.0,-0.6l-2.5,-13.4l-2.5,-9.9l-1.6,-4.7l-1.6,-4.1l-1.7,-2.8l-1.6,6.9l-1.6,-6.0l-1.7,7.2l-2.4,14.6l-2.5,22.5l-1.6,7.8l-1.7,11.2l-1.6,9.3l-1.7,5.7l-1.6,-0.9l-1.6,4.7l-2.5,-13.6l-2.5,-10.9l-1.6,-22.3l-1.6,-7.4l-1.7,-13.4l-1.6,-12.3l-2.1,0.0l-2.0,1.9l-2.5,2.2l-2.4,10.5l-2.5,12.6l-1.6,-10.4l-1.7,-7.2l-2.4,-0.9l-2.5,3.8l-2.4,0.1l-2.5,-2.5l-2.4,8.3l-2.5,4.8l-1.6,5.3l-1.7,11.9l-2.4,12.9l-2.5,14.1l-1.6,2.1l-1.7,6.4l-2.0,6.4l-2.1,4.6l-2.0,-16.1l-2.1,-9.7l-2.4,-9.2l-2.5,-7.9l-2.0,-0.6l-2.1,8.6l-2.0,9.7l-2.1,14.9l-2.4,-0.7l-2.5,0.6l-2.5,-12.7l-2.4,-14.0l-1.7,-9.6l-1.6,-9.5l-1.6,-9.8l-1.7,-1.1l-1.6,-8.2l-1.6,-6.5l-1.7,-4.3l-1.6,-2.3l-2.1,0.5l-2.0,7.7l-2.1,18.2l-2.0,7.6l-1.7,11.9l-1.6,15.3l-1.6,8.0l-1.7,16.2l-2.9,13.1l-2.8,-50.8l-2.5,-9.4l-1.6,4.1l-1.6,-0.3l-1.7,10.2l-1.6,15.2l-1.7,23.1l-1.6,19.7l-1.6,-16.6l-1.7,-19.6l-2.4,-46.4l-2.1,10.4l-2.0,6.0l-1.7,11.1l-1.6,11.7l-2.5,-1.0l-2.4,1.5l-2.5,-1.0l-2.4,-5.9l-1.7,-2.0l-1.6,-4.9l-1.7,5.3l-1.6,8.1z" fill="#f2bcb0" fill-opacity="0.75"/>
<path d="M1272.0,1577.7l1.6,-1.3l1.7,-8.6l1.6,6.9l1.7,-0.2l2.4,3.2l2.5,1.5l2.4,0.3l2.5,0.3l1.6,-13.1l1.7,-6.6l2.0,-6.4l2.1,-12.1l2.4,48.4l1.7,10.5l1.6,24.7l1.6,-22.2l1.7,-20.8l1.6,-11.6l1.7,-11.7l1.6,1.0l1.6,-8.5l2.5,14.8l2.8,45.9l2.9,-16.5l1.7,-10.7l1.6,-7.9l1.6,-16.8l1.7,-11.5l2.0,-12.0l2.1,-12.1l2.0,-0.6l2.1,-13.9l1.6,2.6l1.7,5.9l1.6,9.5l1.6,4.5l1.7,6.9l1.6,3.4l1.6,12.5l1.7,11.4l2.4,15.2l2.5,10.7l2.5,-2.6l2.4,3.1l2.1,-16.2l2.0,-15.1l2.1,-0.6l2.0,-3.3l2.5,9.0l2.4,7.5l2.1,13.4l2.0,12.7l2.1,-7.1l2.0,1.2l1.7,-4.9l1.6,-6.2l2.5,-17.7l2.4,-9.8l1.7,-6.9l1.6,-9.2l2.5,-4.5l2.4,-5.3l2.5,-3.6l2.4,3.7l2.5,-4.2l2.4,-1.5l1.7,7.8l1.6,5.9l2.5,-5.5l2.4,-13.5l2.5,0.6l2.0,-2.3l2.1,-2.0l1.6,11.7l1.7,12.0l1.6,14.9l1.6,13.1l2.5,10.3l2.5,20.0l1.6,-3.0l1.6,-4.1l1.7,-9.6l1.6,-4.0l1.7,-10.9l1.6,-8.7l2.5,-19.5l2.4,-18.2l1.7,-0.5l1.6,-2.2l1.6,-1.0l1.7,-2.0l1.6,2.9l1.6,11.1l2.5,5.1l2.5,8.2l2.0,-1.6l2.1,8.6l1.6,-5.4l1.6,-7.7l1.7,17.0l1.6,18.8l2.1,3.7l2.0,6.0l2.5,9.5l1.6,22.5l1.6,22.8l2.1,12.9l2.0,16.4l2.1,11.3l2.0,21.3l1.7,-12.2l1.6,-9.0l2.1,-10.2l2.0,-14.3l2.5,-4.4l2.4,-12.8l1.7,-2.4l1.6,-10.2l2.5,-3.2l2.4,-2.8l1.7,-10.8l1.6,-13.3l1.6,-2.8l1.7,4.3l2.4,-11.8l2.5,-8.5l2.5,-7.6l2.4,-6.6l2.1,-7.8l2.0,-12.6l2.1,20.3l2.0,24.3l1.7,7.1l1.7,7.2l2.0,9.0l2.1,10.8l2.0,-6.2l2.0,-12.1l2.5,-8.3l2.5,-7.0l2.0,-12.4l2.1,-7.0l2.0,-1.8l2.1,-7.5l1.6,6.3l1.6,9.1l1.7,4.7l1.6,4.6l2.1,5.5l2.0,2.6l2.1,-7.3l2.0,-9.4l2.5,3.3l2.4,-1.3l1.7,8.6l1.6,2.8l2.5,-6.0l2.4,-15.2l2.5,-6.5l2.4,-3.1l2.1,-3.2l2.0,-8.2l1.9,2.0l2.0,-5.9l1.9,-3.0l1.6,11.4l1.6,8.2l2.5,-3.6l2.5,-8.8l2.4,-13.0l2.5,-7.4l2.0,6.0l2.1,10.4l2.0,-6.0l2.1,-3.8l1.6,3.2l1.7,1.8l1.6,6.8l1.6,1.8l1.7,11.3l1.6,12.4l2.5,1.3l2.4,4.0l2.5,-3.6l2.4,-9.5l1.7,7.9l1.6,8.5l1.7,-1.6l1.6,-5.0l1.6,0.4l1.7,3.2l1.6,7.1l1.6,9.0l2.5,-0.4l2.5,-9.4l2.4,4.5l2.5,5.3l2.4,-4.1l2.5,-5.7l2.5,8.9l2.4,4.2l2.5,-7.0l2.4,-12.9l1.7,-4.6l1.6,-1.8l2.5,9.9l2.4,6.5l2.5,-3.1l2.4,-10.0l2.5,3.7l2.5,9.4l2.1,-1.3l2.2,-9.1l2.2,-2.7l2.5,10.8l2.4,9.2l2.5,-5.7l2.4,0.0l2.2,-1.7l2.2,2.0l2.2,3.9l2.2,-6.7l2.2,-4.9l2.2,-6.9l1.6,6.6l1.6,4.2l2.5,8.0l2.5,14.0l2.4,-11.3l2.5,-8.4l2.4,4.1l2.5,5.8l2.4,-4.5l2.5,-6.7l2.5,-11.9l2.4,-3.2l2.5,8.3l2.4,14.7l2.5,-8.4l2.4,-4.3l2.5,-3.7l2.5,0.7l2.4,6.9l2.5,2.8l2.4,2.0l2.5,-2.1l2.5,-6.6l2.4,-1.5l2.5,-0.4l2.4,-2.5l1.7,4.6l1.6,3.8l2.2,-3.9l2.2,-0.1l2.2,2.9" stroke="#ee2a24" stroke-width="2.3" fill="none" stroke-linejoin="round"/>
<path d="M1272.0,1577.7l1.6,-8.0l1.7,1.9l1.6,-7.4l1.7,0.2l1.6,5.8l1.6,4.5l1.7,9.4l1.6,6.7l1.6,4.4l1.7,-11.0l2.4,9.8l2.5,-42.0l2.5,-43.2l2.4,37.1l2.2,195.1l2.3,50.0l2.2,-53.1l2.3,-115.3l1.7,-42.2l1.6,-43.5l2.5,-15.0l1.6,17.1l1.6,5.9l1.7,-10.8l1.6,-13.8l1.7,15.1l1.6,13.4l1.6,-1.8l1.7,-6.9l1.6,-3.3l1.7,-8.0l2.0,-14.4l2.1,-17.0l1.6,6.8l1.6,11.2l2.1,-3.9l2.0,-5.9l1.7,1.7l1.6,6.1l1.6,0.5l1.7,7.0l1.6,1.3l1.7,9.6l1.6,9.8l1.6,4.0l1.7,20.6l2.4,-35.5l2.5,-21.9l2.5,44.8l1.6,18.2l1.6,17.3l2.1,-2.5l2.0,1.3l1.7,-30.7l1.6,-22.1l1.6,9.6l1.7,13.3l2.0,-14.1l2.1,-13.7l2.0,-0.2l2.1,-7.6l1.6,-12.7l1.7,-7.4l1.6,3.0l1.6,3.5l1.9,-6.6l2.0,-10.3l1.9,-6.0l2.0,17.2l2.1,15.6l1.6,-12.0l1.6,-17.5l1.7,14.4l1.6,11.8l1.7,-14.9l1.6,-11.9l1.6,-7.2l1.7,-13.5l2.4,36.2l2.5,42.2l1.6,12.1l1.7,8.7l1.6,6.6l1.6,11.2l1.7,-3.5l1.6,-1.3l1.7,-2.3l1.6,6.4l1.6,-9.2l1.7,-9.1l2.4,-14.5l2.1,10.6l2.0,12.4l2.1,-15.0l2.0,-10.8l2.1,-9.2l2.0,-14.2l1.7,4.3l1.6,4.1l2.5,-0.6l2.4,4.7l1.7,-6.6l1.6,-1.5l1.6,2.7l1.7,6.0l2.0,-19.3l2.1,-20.0l2.4,60.9l1.7,9.5l1.6,8.1l1.7,14.8l1.6,13.6l1.6,5.8l1.7,10.7l1.6,1.3l1.6,0.2l1.7,3.7l1.6,4.5l2.1,1.2l2.0,13.2l2.1,-4.3l2.0,-6.2l2.5,-11.4l2.4,-8.4l1.7,-7.5l1.6,-5.4l1.6,-3.3l1.7,-3.1l1.6,-5.5l1.7,-9.3l1.6,-11.8l1.6,-13.9l2.5,-0.6l2.5,2.2l1.9,-25.9l1.9,-17.2l1.9,-22.5l2.0,28.2l2.1,19.4l1.6,13.6l1.7,13.1l2.5,17.5l2.0,-14.0l2.1,-25.3l2.5,3.2l2.4,12.7l2.1,3.6l2.0,0.1l2.1,-9.1l2.0,-12.4l2.1,1.5l2.0,-6.2l1.6,5.4l1.7,11.0l2.4,-13.1l1.7,12.5l1.6,10.4l1.7,-2.9l1.6,-10.2l2.5,5.8l2.4,7.3l1.6,-0.4l1.7,-11.9l1.6,-4.1l1.7,-13.0l1.6,8.6l1.6,9.9l1.7,8.5l1.6,15.6l1.7,-7.5l1.6,-5.7l1.6,2.1l1.7,8.8l2.0,8.5l2.1,10.1l1.6,-14.0l1.6,-18.7l2.1,2.3l2.0,7.4l1.7,-7.2l1.6,3.7l1.7,-1.1l1.6,8.0l1.6,-7.9l1.7,-7.8l2.4,2.7l2.5,-3.2l2.5,-6.9l2.4,-3.1l1.7,12.3l1.6,14.8l1.6,6.4l1.7,-0.7l2.4,1.2l2.5,8.6l1.6,-6.6l1.7,-6.6l1.6,-2.3l1.6,-7.5l1.7,12.9l1.6,11.4l2.5,4.2l2.4,7.6l2.5,-10.0l2.4,-6.4l2.5,7.2l2.5,9.2l2.4,-3.9l2.5,0.4l2.4,-4.4l2.5,2.2l2.5,-4.2l2.4,-3.2l2.5,4.9l2.4,1.6l1.7,7.5l1.6,8.9l2.5,-11.4l2.4,-5.0l2.5,0.8l2.4,5.8l2.5,-14.6l2.5,-14.9l2.4,21.4l2.5,17.9l2.4,-5.3l2.5,-11.1l1.6,3.7l1.7,9.4l2.4,-5.0l2.5,-10.5l2.4,1.1l2.5,-0.5l2.5,-7.9l2.4,-6.7l2.5,4.7l2.4,6.2l2.5,0.6l2.5,4.9l2.4,-3.4l2.5,-7.3l2.4,-5.1l2.5,-7.1l2.4,5.1l2.5,8.0l2.5,-0.1l2.4,-9.7l2.5,6.1l2.4,7.0l2.5,-12.8l2.4,-6.1l1.7,-12.7l1.6,-4.5l1.7,9.3l1.6,8.2l2.5,7.0l2.4,8.3l1.7,-7.9l1.6,-13.0l2.5,2.0l2.4,-4.1l2.5,8.8l2.4,5.4l1.7,4.6l1.6,1.4l2.2,2.7l2.2,-8.4l2.2,1.9" stroke="#2250a8" stroke-width="2.3" fill="none" stroke-linejoin="round"/>
</g>
<path d="M1476.5,1713.3V1721.0H1502.7V1713.3" stroke="#ee2a24" stroke-width="2" fill="none"/>
<path d="M1289.4,1816.2V1824.9H1315.1V1816.2" stroke="#2250a8" stroke-width="2" fill="none"/>
<rect x="1272.6" y="1439.9" width="520.3" height="410.7" fill="none" stroke="#4a4a4a" stroke-width="1.4"/>
<path d="M1287.5,1439.9v5.5M1287.5,1850.6v-5.5M1361.8,1439.9v5.5M1361.8,1850.6v-5.5M1436.1,1439.9v5.5M1436.1,1850.6v-5.5M1510.5,1439.9v5.5M1510.5,1850.6v-5.5M1584.8,1439.9v5.5M1584.8,1850.6v-5.5M1659.1,1439.9v5.5M1659.1,1850.6v-5.5M1733.4,1439.9v5.5M1733.4,1850.6v-5.5M1272.6,1850.6h5.5M1792.9,1850.6h-5.5M1272.6,1805.0h5.5M1792.9,1805.0h-5.5M1272.6,1759.3h5.5M1792.9,1759.3h-5.5M1272.6,1713.7h5.5M1792.9,1713.7h-5.5M1272.6,1668.1h5.5M1792.9,1668.1h-5.5M1272.6,1622.4h5.5M1792.9,1622.4h-5.5M1272.6,1576.8h5.5M1792.9,1576.8h-5.5M1272.6,1531.2h5.5M1792.9,1531.2h-5.5M1272.6,1485.5h5.5M1792.9,1485.5h-5.5M1272.6,1439.9h5.5M1792.9,1439.9h-5.5" stroke="#4a4a4a" stroke-width="1.4" fill="none"/>
<text x="1287.2" y="1868.2" font-size="17" text-anchor="middle" font-weight="normal" fill="#333">0</text>
<text x="1359.6" y="1868.2" font-size="17" text-anchor="middle" font-weight="normal" fill="#333">0.5</text>
<text x="1435.8" y="1868.2" font-size="17" text-anchor="middle" font-weight="normal" fill="#333">1</text>
<text x="1508.3" y="1868.2" font-size="17" text-anchor="middle" font-weight="normal" fill="#333">1.5</text>
<text x="1584.5" y="1868.2" font-size="17" text-anchor="middle" font-weight="normal" fill="#333">2</text>
<text x="1656.9" y="1868.2" font-size="17" text-anchor="middle" font-weight="normal" fill="#333">2.5</text>
<text x="1733.1" y="1868.2" font-size="17" text-anchor="middle" font-weight="normal" fill="#333">3</text>
<text x="1265.0" y="1854.2" font-size="17" text-anchor="end" font-weight="normal" fill="#333">-60</text>
<text x="1265.0" y="1808.6" font-size="17" text-anchor="end" font-weight="normal" fill="#333">-50</text>
<text x="1265.0" y="1762.9" font-size="17" text-anchor="end" font-weight="normal" fill="#333">-40</text>
<text x="1265.0" y="1717.3" font-size="17" text-anchor="end" font-weight="normal" fill="#333">-30</text>
<text x="1265.0" y="1671.7" font-size="17" text-anchor="end" font-weight="normal" fill="#333">-20</text>
<text x="1265.0" y="1626.0" font-size="17" text-anchor="end" font-weight="normal" fill="#333">-10</text>
<text x="1265.0" y="1580.4" font-size="17" text-anchor="end" font-weight="normal" fill="#333">0</text>
<text x="1265.0" y="1534.8" font-size="17" text-anchor="end" font-weight="normal" fill="#333">10</text>
<text x="1265.0" y="1489.1" font-size="17" text-anchor="end" font-weight="normal" fill="#333">20</text>
<text x="1265.0" y="1443.5" font-size="17" text-anchor="end" font-weight="normal" fill="#333">30</text>
<text class="th" x="1524.9" y="1892.0" font-size="18.8" text-anchor="middle" font-weight="normal" fill="#231f20" textLength="67.6" lengthAdjust="spacingAndGlyphs">Time (s)</text>
<text class="th" x="0" y="0" font-size="19.5" text-anchor="middle" fill="#231f20" textLength="168.4" lengthAdjust="spacingAndGlyphs" transform="translate(1228.5,1664.6) rotate(-90)">Neural activity index</text>
<rect x="1689.1" y="1454.4" width="89.6" height="54.3" fill="#fff" stroke="#6a6a6a" stroke-width="1.3"/>
<rect x="1696.5" y="1464.0" width="20.4" height="12.4" fill="#f3c7bd"/>
<rect x="1696.5" y="1469.4" width="20.4" height="1.8" fill="#ec1c24"/>
<rect x="1696.5" y="1486.8" width="20.4" height="12.6" fill="#a9dcea"/>
<rect x="1696.5" y="1492.0" width="20.4" height="1.8" fill="#2a48a0"/>
<text x="1727.5" y="1473.7" font-size="16.6" text-anchor="start" font-weight="normal" fill="#231f20" textLength="43.4" lengthAdjust="spacingAndGlyphs">Young</text>
<text x="1727.5" y="1496.7" font-size="16.6" text-anchor="start" font-weight="normal" fill="#231f20" textLength="37.5" lengthAdjust="spacingAndGlyphs">Older</text>
<rect x="1623.0" y="1725.8" width="155.1" height="110.5" fill="#fff" stroke="#6a6a6a" stroke-width="1.2"/>
<g transform="translate(1623.0,1725.8)"><use href="#brainbase"/><path d="M27.5,39.0C27.5,40.2 26.9,41.6 26.0,42.5C25.1,43.5 23.5,44.3 22.0,44.7C20.5,45.1 18.5,45.1 17.0,44.7C15.5,44.3 13.9,43.5 13.0,42.5C12.1,41.6 11.5,40.2 11.5,39.0C11.5,37.8 12.1,36.4 13.0,35.5C13.9,34.5 15.5,33.7 17.0,33.3C18.5,32.9 20.5,32.9 22.0,33.3C23.5,33.7 25.1,34.5 26.0,35.5C26.9,36.4 27.5,37.8 27.5,39.0Z" fill="#f0262a" fill-opacity="0.93"/><path d="M34.5,44.0C34.5,44.8 34.1,45.9 33.5,46.5C32.9,47.1 31.8,47.5 31.0,47.5C30.2,47.5 29.1,47.1 28.5,46.5C27.9,45.9 27.5,44.8 27.5,44.0C27.5,43.2 27.9,42.1 28.5,41.5C29.1,40.9 30.2,40.5 31.0,40.5C31.8,40.5 32.9,40.9 33.5,41.5C34.1,42.1 34.5,43.2 34.5,44.0Z" fill="#f0262a" fill-opacity="0.93"/><path d="M29.5,48.5C30.6,47.8 33.9,48.2 36.0,48.0C38.1,47.8 40.0,47.8 42.0,47.5C44.0,47.2 47.2,46.1 48.0,46.5C48.8,46.9 48.3,48.9 47.0,50.0C45.7,51.1 42.3,52.2 40.0,53.0C37.7,53.8 34.8,54.6 33.0,54.5C31.2,54.4 30.1,53.5 29.5,52.5C28.9,51.5 28.4,49.2 29.5,48.5Z" fill="#f0262a" fill-opacity="0.93"/><path d="M57.5,37.0C57.5,38.2 57.1,39.7 56.6,40.5C56.1,41.4 55.2,42.0 54.5,42.0C53.8,42.0 52.9,41.4 52.4,40.5C51.9,39.7 51.5,38.2 51.5,37.0C51.5,35.8 51.9,34.3 52.4,33.5C52.9,32.6 53.8,32.0 54.5,32.0C55.2,32.0 56.1,32.6 56.6,33.5C57.1,34.3 57.5,35.8 57.5,37.0Z" fill="#f0262a" fill-opacity="0.93"/><path d="M29.5,34.5C29.5,35.0 29.0,35.8 28.5,36.1C28.0,36.3 27.0,36.3 26.5,36.1C26.0,35.8 25.5,35.0 25.5,34.5C25.5,34.0 26.0,33.2 26.5,32.9C27.0,32.7 28.0,32.7 28.5,32.9C29.0,33.2 29.5,34.0 29.5,34.5Z" fill="#f0262a" fill-opacity="0.93"/><path d="M37.5,67.5C38.8,66.9 42.9,66.8 45.0,66.5C47.1,66.2 48.6,65.4 50.0,65.5C51.4,65.6 53.1,65.9 53.5,67.0C53.9,68.1 53.1,70.6 52.5,72.0C51.9,73.4 51.4,74.8 50.0,75.5C48.6,76.2 45.5,76.9 44.0,76.5C42.5,76.1 42.1,74.1 41.0,73.0C39.9,71.9 38.1,70.9 37.5,70.0C36.9,69.1 36.2,68.1 37.5,67.5Z" fill="#f0262a" fill-opacity="0.93"/><path d="M60.7,78.8C60.7,79.3 60.2,80.1 59.6,80.4C59.0,80.6 58.0,80.6 57.4,80.4C56.8,80.1 56.3,79.3 56.3,78.8C56.3,78.3 56.8,77.5 57.4,77.2C58.0,77.0 59.0,77.0 59.6,77.2C60.2,77.5 60.7,78.3 60.7,78.8Z" fill="#f0262a" fill-opacity="0.93"/><path d="M54.5,94.0C54.8,93.0 56.0,90.6 57.0,89.5C58.0,88.4 59.8,87.5 60.5,87.5C61.2,87.5 61.9,88.6 61.5,89.5C61.1,90.4 59.0,92.0 58.0,93.0C57.0,94.0 56.1,95.3 55.5,95.5C54.9,95.7 54.2,95.0 54.5,94.0Z" fill="#f0262a" fill-opacity="0.93"/><path d="M20.5,85.0C20.7,82.9 25.8,83.6 28.0,83.5C30.2,83.4 33.3,83.8 34.0,84.5C34.7,85.2 32.7,86.8 32.0,88.0C31.3,89.2 30.8,90.7 30.0,92.0C29.2,93.3 28.6,97.2 27.0,96.0C25.4,94.8 20.3,87.1 20.5,85.0Z" fill="#f0262a" fill-opacity="0.93"/><path d="M26.5,95.0C27.5,94.9 30.4,95.8 33.0,96.5C35.6,97.2 39.2,98.2 42.0,99.0C44.8,99.8 47.8,101.0 50.0,101.5C52.2,102.0 54.6,101.3 55.5,102.0C56.4,102.7 56.4,104.8 55.5,105.5C54.6,106.2 52.2,106.5 50.0,106.0C47.8,105.5 44.8,103.6 42.0,102.5C39.2,101.4 35.5,100.4 33.0,99.5C30.5,98.6 28.1,97.8 27.0,97.0C25.9,96.2 25.5,95.1 26.5,95.0Z" fill="#f0262a" fill-opacity="0.93"/><path d="M63.0,88.5C62.3,88.1 60.2,87.7 58.8,88.2C57.4,88.7 55.8,90.3 54.8,91.5C53.8,92.7 52.7,94.7 52.8,95.5C52.9,96.3 54.3,97.0 55.3,96.5C56.3,96.0 57.6,93.5 58.8,92.5C60.1,91.5 62.1,91.2 62.8,90.5C63.5,89.8 63.7,88.9 63.0,88.5Z" fill="#f0262a" fill-opacity="0.93"/><path d="M30.5,84.7C30.5,85.2 31.0,85.9 31.4,86.1C31.9,86.3 32.8,86.3 33.2,86.1C33.7,85.9 34.1,85.2 34.1,84.7C34.1,84.2 33.7,83.5 33.2,83.3C32.8,83.1 31.9,83.1 31.4,83.3C31.0,83.5 30.5,84.2 30.5,84.7Z" fill="#f0262a" fill-opacity="0.93"/></g>
<g fill="#231f20" transform="translate(1280.6,1931.1)"><ellipse cx="4.9" cy="-3.0" rx="5.1" ry="2.85" transform="rotate(-21 4.9 -3.0)"/><rect x="8.7" y="-23.4" width="1.45" height="20.5"/><path d="M8.7,-23.6 C10.0,-20.8 13.6,-18.9 15.6,-15.7 C16.9,-13.5 16.5,-10.7 15.0,-8.6 C15.4,-10.8 15.0,-12.6 13.6,-14.2 C12.4,-15.5 11.0,-16.0 10.1,-17.0 L10.1,-23.6 Z"/></g>
<g fill="#231f20" transform="translate(1337.6,1931.1)"><ellipse cx="4.9" cy="-3.0" rx="5.1" ry="2.85" transform="rotate(-21 4.9 -3.0)"/><rect x="8.7" y="-23.4" width="1.45" height="20.5"/><path d="M8.7,-23.6 C10.0,-20.8 13.6,-18.9 15.6,-15.7 C16.9,-13.5 16.5,-10.7 15.0,-8.6 C15.4,-10.8 15.0,-12.6 13.6,-14.2 C12.4,-15.5 11.0,-16.0 10.1,-17.0 L10.1,-23.6 Z"/></g>
<g fill="#231f20" transform="translate(1389.3,1931.1)"><ellipse cx="4.9" cy="-3.0" rx="5.1" ry="2.85" transform="rotate(-21 4.9 -3.0)"/><rect x="8.7" y="-23.4" width="1.45" height="20.5"/><path d="M8.7,-23.6 C10.0,-20.8 13.6,-18.9 15.6,-15.7 C16.9,-13.5 16.5,-10.7 15.0,-8.6 C15.4,-10.8 15.0,-12.6 13.6,-14.2 C12.4,-15.5 11.0,-16.0 10.1,-17.0 L10.1,-23.6 Z"/></g>
<g fill="#e5222a" transform="translate(1444.0,1931.1)"><ellipse cx="4.9" cy="-3.0" rx="5.1" ry="2.85" transform="rotate(-21 4.9 -3.0)"/><rect x="8.7" y="-23.4" width="1.45" height="20.5"/><path d="M8.7,-23.6 C10.0,-20.8 13.6,-18.9 15.6,-15.7 C16.9,-13.5 16.5,-10.7 15.0,-8.6 C15.4,-10.8 15.0,-12.6 13.6,-14.2 C12.4,-15.5 11.0,-16.0 10.1,-17.0 L10.1,-23.6 Z"/></g>
<g fill="#e5222a" transform="translate(1497.3,1931.1)"><ellipse cx="4.9" cy="-3.0" rx="5.1" ry="2.85" transform="rotate(-21 4.9 -3.0)"/><rect x="8.7" y="-23.4" width="1.45" height="20.5"/><path d="M8.7,-23.6 C10.0,-20.8 13.6,-18.9 15.6,-15.7 C16.9,-13.5 16.5,-10.7 15.0,-8.6 C15.4,-10.8 15.0,-12.6 13.6,-14.2 C12.4,-15.5 11.0,-16.0 10.1,-17.0 L10.1,-23.6 Z"/></g>
<text class="th" x="305.6" y="2033.4" font-size="27.5" text-anchor="middle" font-weight="normal" fill="#231f20" textLength="134.0" lengthAdjust="spacingAndGlyphs">Memorised</text>
<clipPath id="clip30"><rect x="60.0" y="2056.4" width="520.3" height="410.7"/></clipPath>
<rect x="112.4" y="2056.4" width="5.0" height="410.7" fill="#dcdcde"/>
<rect x="137.8" y="2056.4" width="8.2" height="410.7" fill="#dcdcde"/>
<rect x="170.1" y="2056.4" width="14.1" height="410.7" fill="#dcdcde"/>
<rect x="234.5" y="2056.4" width="3.8" height="410.7" fill="#dcdcde"/>
<rect x="284.5" y="2056.4" width="7.4" height="410.7" fill="#dcdcde"/>
<rect x="559.3" y="2056.4" width="3.2" height="410.7" fill="#dcdcde"/>
<path d="M74.9,2056.4V2467.1M89.7,2056.4V2467.1M104.6,2056.4V2467.1M119.5,2056.4V2467.1M134.3,2056.4V2467.1M149.2,2056.4V2467.1M164.1,2056.4V2467.1M178.9,2056.4V2467.1M193.8,2056.4V2467.1M208.7,2056.4V2467.1M223.5,2056.4V2467.1M238.4,2056.4V2467.1M253.3,2056.4V2467.1M268.1,2056.4V2467.1M283.0,2056.4V2467.1M297.9,2056.4V2467.1M312.7,2056.4V2467.1M327.6,2056.4V2467.1M342.4,2056.4V2467.1M357.3,2056.4V2467.1M372.2,2056.4V2467.1M387.0,2056.4V2467.1M401.9,2056.4V2467.1M416.8,2056.4V2467.1M431.6,2056.4V2467.1M446.5,2056.4V2467.1M461.4,2056.4V2467.1M476.2,2056.4V2467.1M491.1,2056.4V2467.1M506.0,2056.4V2467.1M520.8,2056.4V2467.1M535.7,2056.4V2467.1M550.6,2056.4V2467.1M565.4,2056.4V2467.1M60.0,2458.0H580.3M60.0,2448.8H580.3M60.0,2439.7H580.3M60.0,2430.6H580.3M60.0,2421.5H580.3M60.0,2412.3H580.3M60.0,2403.2H580.3M60.0,2394.1H580.3M60.0,2385.0H580.3M60.0,2375.8H580.3M60.0,2366.7H580.3M60.0,2357.6H580.3M60.0,2348.5H580.3M60.0,2339.3H580.3M60.0,2330.2H580.3M60.0,2321.1H580.3M60.0,2311.9H580.3M60.0,2302.8H580.3M60.0,2293.7H580.3M60.0,2284.6H580.3M60.0,2275.4H580.3M60.0,2266.3H580.3M60.0,2257.2H580.3M60.0,2248.1H580.3M60.0,2238.9H580.3M60.0,2229.8H580.3M60.0,2220.7H580.3M60.0,2211.6H580.3M60.0,2202.4H580.3M60.0,2193.3H580.3M60.0,2184.2H580.3M60.0,2175.0H580.3M60.0,2165.9H580.3M60.0,2156.8H580.3M60.0,2147.7H580.3M60.0,2138.5H580.3M60.0,2129.4H580.3M60.0,2120.3H580.3M60.0,2111.2H580.3M60.0,2102.0H580.3M60.0,2092.9H580.3M60.0,2083.8H580.3M60.0,2074.7H580.3M60.0,2065.5H580.3" stroke="#c6c6c6" stroke-width="1" stroke-dasharray="1.3 1.7" fill="none"/>
<g clip-path="url(#clip30)">
<path d="M60.0,2181.9l1.6,-1.6l1.7,-0.3l1.6,3.1l1.7,3.6l1.6,-3.3l1.6,0.6l1.7,-0.6l1.6,0.7l2.5,11.4l2.4,-16.8l1.7,-12.3l1.6,-13.6l2.5,40.8l2.4,51.7l1.8,56.1l1.7,58.5l1.5,-52.1l1.6,-47.4l1.6,-25.6l1.7,-38.6l1.6,-12.4l1.6,-20.6l1.7,1.5l1.6,1.4l1.6,7.9l1.7,13.7l1.6,12.3l1.7,9.3l2.4,13.0l1.7,-13.0l1.6,-10.9l2.5,-7.3l1.6,-17.0l1.6,-8.6l1.7,1.1l1.6,6.4l1.7,-3.1l1.6,-4.1l1.6,12.2l1.7,2.4l1.6,4.0l1.6,-0.8l1.7,2.3l1.6,-5.7l2.5,6.0l2.4,-20.5l2.5,-20.5l2.5,19.3l2.4,37.8l2.5,25.5l2.4,-2.1l2.5,19.6l2.4,-33.3l1.7,-10.8l1.6,-19.4l2.1,7.1l2.0,13.2l1.7,-11.8l1.6,-5.3l1.6,0.4l1.7,-2.2l1.6,-5.3l1.7,1.0l1.6,1.0l1.6,-2.8l2.1,-3.0l2.0,-7.3l2.1,4.4l2.0,3.2l1.7,-0.2l1.6,-1.9l2.1,-9.0l2.0,-0.4l2.1,-10.5l2.0,-6.3l1.6,10.5l1.7,6.7l2.4,43.1l2.5,4.3l1.6,-5.8l1.7,-15.0l1.6,5.2l1.6,11.6l1.7,-3.3l1.6,-4.2l1.7,-2.4l1.6,-5.5l1.6,4.2l1.7,6.0l1.6,-11.9l1.7,-3.9l2.0,-3.2l2.1,-2.8l2.0,-1.6l2.1,-3.1l2.4,-10.6l2.5,-4.9l1.6,-6.3l1.6,14.1l1.7,1.3l1.6,1.0l1.7,5.6l1.6,5.8l2.1,-17.9l2.0,-12.9l2.5,15.6l2.4,28.6l1.7,7.8l1.6,11.9l2.0,3.2l2.1,-4.5l1.6,-5.4l1.7,-3.2l1.6,-3.2l1.6,-2.7l1.7,-1.1l1.6,-2.6l1.7,4.5l1.6,0.7l1.6,-0.4l1.7,-6.4l1.6,-7.5l1.7,1.7l1.6,-4.1l1.6,-10.3l1.7,-0.9l1.6,-7.8l1.6,7.7l1.7,2.5l1.6,7.2l1.7,4.6l1.6,1.1l1.6,0.8l1.7,-0.6l1.6,1.5l2.5,-22.7l2.4,-22.8l1.7,15.8l1.6,19.4l2.5,62.7l2.0,-10.8l2.1,-18.5l2.2,-5.7l2.2,-8.1l1.6,-3.2l1.6,-2.9l2.5,-7.1l2.4,-4.4l1.6,-0.2l1.7,-2.4l1.6,-9.3l1.7,-16.9l1.6,7.0l1.6,1.1l2.5,-10.5l2.5,-11.4l1.6,2.5l1.6,4.6l1.7,12.8l1.6,0.3l2.5,6.2l2.4,1.3l1.7,-4.0l1.6,-0.1l2.5,8.9l2.4,16.9l2.5,4.7l2.4,6.6l2.5,-6.8l2.5,-8.7l1.6,9.4l1.6,1.0l1.7,-2.1l1.6,-4.1l2.5,-11.9l2.4,-10.0l1.7,7.4l1.6,1.4l2.5,-5.3l2.4,-2.3l1.7,7.1l1.6,8.5l2.5,6.6l2.4,-3.7l2.5,1.9l2.4,2.6l2.5,-1.2l2.5,7.2l2.4,9.6l2.5,12.7l2.4,-9.2l2.5,-4.4l2.4,-5.5l2.5,-6.8l2.5,9.5l2.4,6.6l2.5,-3.0l2.4,-7.0l2.5,-4.5l2.4,-0.4l2.5,10.1l2.5,7.0l2.4,1.1l2.5,2.9l2.4,-7.7l2.5,-7.4l2.5,6.1l2.4,2.2l1.7,9.8l1.6,3.3l2.5,-16.6l2.4,-13.5l2.5,20.2l2.4,17.4l2.5,-13.6l2.4,-17.5l2.5,0.4l2.5,-10.3l2.4,9.4l2.5,9.0l2.4,-1.4l2.5,-3.9l2.4,-5.8l2.5,-5.7l2.5,4.9l2.4,2.6l2.5,2.8l2.4,4.4l1.7,6.6l1.6,2.7l2.5,-3.6l2.4,-3.4l2.5,3.8l2.5,6.8l2.4,-6.6l2.5,0.0l2.4,-15.2l2.5,-11.2l2.4,6.0l2.5,4.1l2.5,0.8l2.4,-8.1l2.5,9.9l2.4,0.6l2.5,-8.0l2.4,-11.4l2.2,7.3l2.2,16.5l2.2,3.5l2.5,-7.2l2.4,-12.9l2.5,-1.1l2.4,-7.4l2.5,18.2l2.5,9.5l2.4,-7.2l2.5,-6.7l2.0,2.9l2.1,1.8l2.0,1.4l2.1,-3.6l0.0,15.5l-2.1,2.0l-2.0,-1.5l-2.1,-2.7l-2.0,2.2l-2.5,4.3l-2.4,2.6l-2.5,-10.5l-2.5,-13.4l-2.4,5.7l-2.5,5.0l-2.4,7.6l-2.5,12.3l-2.2,-10.3l-2.2,-9.3l-2.2,-12.2l-2.4,10.4l-2.5,16.3l-2.4,-5.6l-2.5,-5.5l-2.4,1.2l-2.5,7.3l-2.5,-7.7l-2.4,-5.6l-2.5,11.6l-2.4,10.4l-2.5,2.9l-2.4,4.8l-2.5,-1.8l-2.5,-8.7l-2.4,4.4l-2.5,5.2l-1.6,-5.8l-1.7,-3.7l-2.4,-6.7l-2.5,-5.5l-2.4,-1.7l-2.5,-0.3l-2.5,-0.8l-2.4,11.4l-2.5,2.6l-2.4,4.2l-2.5,-12.1l-2.4,-2.7l-2.5,3.3l-2.5,6.9l-2.4,8.9l-2.5,10.0l-2.4,-12.3l-2.5,-19.2l-2.4,20.9l-2.5,4.3l-1.6,-1.4l-1.7,-4.7l-2.4,-0.5l-2.5,-8.1l-2.5,9.6l-2.4,1.4l-2.5,-0.8l-2.4,0.4l-2.5,-12.1l-2.5,-7.3l-2.4,1.7l-2.5,9.5l-2.4,2.3l-2.5,5.5l-2.4,-10.7l-2.5,-14.0l-2.5,10.2l-2.4,3.2l-2.5,4.8l-2.4,12.0l-2.5,-14.7l-2.4,-4.2l-2.5,-1.5l-2.5,-4.8l-2.4,-4.4l-2.5,-5.4l-2.4,1.2l-2.5,-0.4l-1.6,-7.5l-1.7,-6.3l-2.4,2.6l-2.5,2.9l-1.6,-8.6l-1.7,3.0l-2.4,5.4l-2.5,13.9l-1.6,6.4l-1.7,5.3l-1.6,-7.9l-1.6,-7.3l-2.5,6.8l-2.5,3.5l-2.4,1.8l-2.5,-10.9l-2.4,-11.0l-2.5,-12.5l-1.6,-1.3l-1.7,4.5l-2.4,-4.7l-2.5,-1.2l-1.6,-5.3l-1.7,-7.2l-1.6,-1.6l-1.6,-10.2l-2.5,18.0l-2.5,14.2l-1.6,-13.3l-1.6,-0.8l-1.7,11.4l-1.6,16.0l-1.7,-2.1l-1.6,7.8l-2.4,-3.4l-2.5,5.3l-1.6,2.0l-1.6,4.6l-2.2,9.4l-2.2,10.0l-2.1,13.1l-2.0,11.3l-2.5,-56.8l-1.6,-22.6l-1.7,-16.1l-2.4,24.4l-2.5,20.2l-1.6,-3.2l-1.7,6.6l-1.6,-5.5l-1.6,2.3l-1.7,-12.6l-1.6,-2.8l-1.7,-2.5l-1.6,-9.7l-1.6,8.2l-1.7,11.4l-1.6,1.1l-1.6,3.7l-1.7,5.0l-1.6,5.4l-1.7,2.1l-1.6,6.2l-1.6,-5.9l-1.7,0.4l-1.6,-0.6l-1.7,0.1l-1.6,1.3l-1.6,-0.6l-1.7,13.6l-1.6,5.5l-2.1,-0.6l-2.0,-5.7l-1.6,-3.9l-1.7,-10.7l-2.4,-36.7l-2.5,-10.3l-2.0,13.9l-2.1,14.1l-1.6,1.7l-1.7,-3.8l-1.6,-9.2l-1.7,-1.5l-1.6,-6.3l-1.6,-4.9l-2.5,10.7l-2.4,8.6l-2.1,6.4l-2.0,1.4l-2.1,-3.4l-2.0,4.4l-1.7,8.0l-1.6,7.9l-1.7,-0.5l-1.6,-4.7l-1.6,4.8l-1.7,-0.3l-1.6,2.6l-1.7,4.8l-1.6,-9.1l-1.6,-3.7l-1.7,10.6l-1.6,7.2l-2.5,-0.9l-2.4,-45.0l-1.7,-8.5l-1.6,-6.8l-2.0,2.7l-2.1,12.7l-2.0,1.8l-2.1,9.9l-1.6,-2.1l-1.7,1.6l-2.0,-3.0l-2.1,-6.5l-2.0,9.8l-2.1,4.0l-1.6,-2.7l-1.6,4.3l-1.7,-0.9l-1.6,1.9l-1.7,2.1l-1.6,1.3l-1.6,10.9l-1.7,3.7l-2.0,-0.6l-2.1,-9.9l-1.6,8.6l-1.7,15.9l-2.4,27.7l-2.5,-12.8l-2.4,-0.8l-2.5,-21.7l-2.4,-41.2l-2.5,-21.2l-2.5,21.4l-2.4,23.3l-2.5,-5.6l-1.6,-1.0l-1.7,7.4l-1.6,-8.2l-1.6,-0.5l-1.7,-6.3l-1.6,-6.1l-1.6,2.6l-1.7,5.4l-1.6,-5.3l-1.7,-8.0l-1.6,14.2l-1.6,13.5l-2.5,4.7l-1.6,13.4l-1.7,15.7l-2.4,-13.5l-1.7,-13.3l-1.6,-15.1l-1.7,-8.0l-1.6,-9.5l-1.6,-1.6l-1.7,6.9l-1.6,9.1l-1.6,16.8l-1.7,32.6l-1.6,31.4l-1.6,47.4l-1.5,49.9l-1.7,-55.2l-1.8,-55.0l-2.4,-50.5l-2.5,-43.2l-1.6,15.0l-1.7,7.8l-2.4,21.3l-2.5,-9.5l-1.6,-0.7l-1.7,-5.3l-1.6,1.9l-1.6,0.4l-1.7,0.9l-1.6,-4.5l-1.7,0.8l-1.6,0.7z" fill="#9fd6e9" fill-opacity="0.75"/>
<path d="M60.0,2156.5l1.6,17.7l1.7,10.1l1.6,4.5l1.7,0.2l2.4,7.9l2.5,4.1l2.0,-3.8l2.1,-3.9l1.6,-6.4l1.6,-11.3l2.5,-13.4l2.5,33.6l1.6,33.4l1.6,29.5l2.7,91.1l2.6,-73.1l2.1,-46.0l1.7,-25.4l1.6,-26.5l1.6,-1.9l1.7,-2.4l2.4,27.5l2.5,14.6l1.6,-10.5l1.7,-15.4l1.6,-16.7l1.6,-11.8l1.7,-11.6l1.6,-12.3l1.7,1.1l1.6,10.2l1.6,12.7l1.7,12.9l1.6,5.4l1.7,3.7l1.6,-0.1l1.6,-3.4l1.7,7.3l1.6,6.3l1.6,8.8l1.7,10.8l1.6,13.2l1.7,7.8l1.6,16.9l1.6,-17.5l1.7,-15.1l1.6,-12.6l1.7,-3.0l1.6,11.5l1.6,6.0l1.7,7.2l1.6,7.6l2.5,8.9l2.0,-21.9l2.1,-30.5l2.4,-12.4l2.5,-8.5l1.6,-4.9l1.7,-2.8l1.6,-4.7l1.6,-18.1l1.7,-5.4l1.6,-9.0l2.5,-24.1l1.6,12.5l1.7,9.4l2.4,3.6l1.6,7.0l1.7,5.8l1.6,3.9l1.7,3.0l1.6,6.4l1.6,13.1l1.7,10.8l1.6,10.1l1.7,-10.3l1.6,-5.3l1.6,4.1l1.7,0.5l1.6,0.3l1.7,-2.2l1.6,21.3l1.6,19.1l1.7,-3.9l1.6,0.1l1.6,-8.5l1.7,-4.0l2.0,-2.9l2.1,-8.7l2.0,2.7l2.1,-11.7l1.6,-11.0l1.7,-12.5l2.4,-6.7l2.5,-3.9l2.4,-9.2l2.5,-7.8l1.6,10.8l1.7,9.5l1.6,5.6l1.6,8.1l1.7,19.7l1.6,16.2l1.7,2.0l1.6,4.0l1.6,-13.1l1.7,-7.9l1.6,-7.2l1.7,-3.3l1.6,7.6l1.6,10.2l2.1,24.2l2.0,21.0l1.7,-1.4l1.6,-6.5l2.1,3.4l2.0,-6.6l1.6,-7.6l1.7,-5.8l2.4,-13.1l2.5,-10.7l2.5,-16.9l2.4,-9.9l1.7,-5.7l1.6,-10.9l2.9,-18.0l2.8,13.5l1.7,14.4l1.6,11.6l2.1,8.3l2.0,7.6l1.6,1.3l1.7,0.2l1.6,6.7l1.7,-6.8l1.6,-8.8l1.6,-1.9l2.1,9.2l2.0,10.4l1.7,9.9l1.6,10.2l2.1,-9.4l2.0,-6.1l2.8,-11.5l1.6,-0.1l1.6,-1.4l2.5,-7.0l2.4,-8.5l2.5,-15.0l2.4,-12.6l1.7,-4.1l1.6,2.8l2.1,-7.6l2.0,-11.4l2.1,17.0l2.0,8.4l1.6,-0.6l1.7,9.1l1.6,6.6l1.7,6.6l1.6,9.1l1.6,10.9l1.7,21.8l1.6,-6.1l1.6,-0.7l1.7,1.7l1.6,3.2l2.5,6.8l2.4,2.9l2.1,-4.8l2.0,3.2l2.1,-10.6l2.0,-8.7l2.5,-15.2l2.5,-8.0l2.4,-5.1l2.5,-8.4l2.4,15.3l2.5,4.0l2.4,-1.4l2.5,-1.7l2.5,-1.4l2.4,1.2l2.5,7.6l2.4,-2.0l2.2,-4.2l2.2,-1.2l2.2,-10.3l2.4,11.9l2.5,10.6l2.5,0.4l2.4,-7.5l2.5,6.5l2.4,-7.7l2.5,12.8l2.5,2.8l2.4,-4.2l2.5,-0.6l2.4,4.2l2.5,6.6l2.4,4.7l2.5,-5.1l2.5,4.3l2.4,1.6l2.5,-13.1l2.4,-1.7l1.7,10.6l1.6,0.4l2.5,8.4l2.4,-6.7l2.5,-8.8l2.4,-2.4l2.5,2.1l2.5,4.7l2.4,-4.4l2.5,-9.1l2.4,2.7l2.5,8.6l2.5,1.7l2.4,7.1l2.5,-7.6l2.4,-5.2l2.5,3.7l2.4,-2.6l2.2,-4.1l2.2,-2.5l2.2,-7.4l2.5,0.1l2.4,11.4l2.5,-5.0l2.4,4.1l2.5,0.6l2.5,-0.9l2.4,0.1l2.5,-5.8l2.4,-1.4l2.5,7.2l2.4,-12.5l2.5,-10.2l2.5,5.9l2.4,4.0l2.5,-8.6l2.4,-2.6l2.5,9.5l2.4,3.1l2.5,-12.5l2.5,-7.4l2.4,9.0l2.5,6.7l2.4,4.9l2.5,4.3l2.5,1.1l2.4,2.2l2.5,-6.2l2.4,-9.6l1.7,12.6l1.6,5.4l2.2,1.1l2.2,-1.3l2.2,-1.0l0.0,16.3l-2.2,-3.0l-2.2,3.0l-2.2,0.5l-1.6,-9.8l-1.7,-7.3l-2.4,8.1l-2.5,8.3l-2.4,-3.2l-2.5,-3.2l-2.5,-5.3l-2.4,3.1l-2.5,-11.7l-2.4,-10.7l-2.5,7.4l-2.5,12.0l-2.4,-5.3l-2.5,-11.0l-2.4,7.5l-2.5,6.2l-2.4,-0.5l-2.5,-5.4l-2.5,11.0l-2.4,11.1l-2.5,-8.7l-2.4,-0.7l-2.5,1.5l-2.4,8.6l-2.5,0.7l-2.5,-2.5l-2.4,2.3l-2.5,-4.3l-2.4,-8.1l-2.5,-2.1l-2.2,3.4l-2.2,8.0l-2.2,6.8l-2.4,2.8l-2.5,-8.8l-2.4,7.7l-2.5,3.2l-2.4,-4.9l-2.5,-1.2l-2.5,-6.6l-2.4,-1.7l-2.5,4.0l-2.4,10.5l-2.5,-8.0l-2.5,-0.1l-2.4,2.4l-2.5,7.4l-2.4,3.3l-2.5,-4.1l-1.6,-1.4l-1.7,-7.8l-2.4,9.0l-2.5,2.3l-2.4,-1.0l-2.5,-5.0l-2.5,0.0l-2.4,0.9l-2.5,-9.3l-2.4,3.6l-2.5,-3.9l-2.4,-0.4l-2.5,-2.7l-2.5,-4.3l-2.4,0.2l-2.5,-0.9l-2.4,2.0l-2.5,3.1l-2.5,-9.8l-2.4,-14.8l-2.2,10.2l-2.2,1.9l-2.2,6.7l-2.4,-1.8l-2.5,-5.5l-2.4,1.5l-2.5,0.0l-2.5,-0.1l-2.4,6.1l-2.5,-14.1l-2.4,-7.8l-2.5,6.2l-2.4,8.7l-2.5,11.9l-2.5,7.9l-2.0,11.1l-2.1,5.6l-2.0,3.6l-2.1,-2.2l-2.4,0.4l-2.5,-2.4l-1.6,-4.7l-1.7,-4.0l-1.6,0.4l-1.6,8.8l-1.7,-30.4l-1.6,-7.4l-1.6,-7.5l-1.7,-8.3l-1.6,-4.2l-1.7,-2.5l-1.6,-6.7l-2.0,-10.9l-2.1,-11.1l-2.0,8.8l-2.1,3.7l-1.6,3.3l-1.7,6.4l-2.4,11.2l-2.5,7.0l-2.4,18.6l-2.5,2.5l-1.6,3.9l-1.6,-3.7l-2.8,13.2l-2.0,9.2l-2.1,8.4l-1.6,-14.0l-1.7,-15.1l-2.0,-6.3l-2.1,-12.6l-1.6,9.8l-1.6,7.5l-1.7,0.2l-1.6,7.4l-1.7,-10.7l-1.6,-2.5l-2.0,-10.9l-2.1,-5.5l-1.6,-7.8l-1.7,-17.2l-2.8,-12.0l-2.9,23.7l-1.6,8.7l-1.7,2.3l-2.4,16.1l-2.5,10.6l-2.5,6.8l-2.4,17.1l-1.7,10.3l-1.6,5.9l-2.0,0.4l-2.1,-0.4l-1.6,11.7l-1.7,-3.2l-2.0,-20.1l-2.1,-26.5l-1.6,-8.8l-1.6,-8.5l-1.7,5.0l-1.6,3.7l-1.7,8.5l-1.6,15.2l-1.6,-4.1l-1.7,-4.2l-1.6,-14.0l-1.7,-16.5l-1.6,-10.3l-1.6,-11.6l-1.7,-7.8l-1.6,-6.2l-2.5,9.2l-2.4,6.3l-2.5,5.7l-2.4,7.0l-1.7,10.3l-1.6,17.0l-2.1,7.7l-2.0,2.3l-2.1,0.2l-2.0,6.3l-1.7,5.6l-1.6,0.8l-1.6,11.4l-1.7,-1.3l-1.6,-17.1l-1.6,-27.0l-1.7,8.4l-1.6,-1.8l-1.7,-1.9l-1.6,-4.1l-1.6,3.4l-1.7,9.8l-1.6,-7.6l-1.7,-13.1l-1.6,-5.8l-1.6,-9.9l-1.7,-6.8l-1.6,-8.1l-1.7,0.0l-1.6,-8.2l-2.4,-3.6l-1.7,-9.9l-1.6,-6.0l-2.5,14.0l-1.6,11.7l-1.7,8.7l-1.6,10.0l-1.6,17.2l-1.7,-1.0l-1.6,3.6l-2.5,7.4l-2.4,13.7l-2.1,23.1l-2.0,28.0l-2.5,-5.2l-1.6,-9.6l-1.7,-3.5l-1.6,-13.2l-1.6,-14.1l-1.7,7.9l-1.6,13.1l-1.7,13.8l-1.6,19.6l-1.6,-22.2l-1.7,-9.1l-1.6,-6.0l-1.7,-14.2l-1.6,-6.3l-1.6,-9.2l-1.7,-2.1l-1.6,2.4l-1.6,0.1l-1.7,-4.7l-1.6,-5.4l-1.7,-11.5l-1.6,-16.0l-1.6,-9.1l-1.7,-1.1l-1.6,10.5l-1.7,16.4l-1.6,9.8l-1.6,15.6l-1.7,8.4l-1.6,16.5l-2.5,-17.6l-2.4,-16.5l-1.7,0.1l-1.6,-0.4l-1.6,19.0l-1.7,31.4l-2.1,42.2l-2.6,77.0l-2.7,-88.6l-1.6,-34.1l-1.6,-30.3l-2.5,-41.7l-2.5,19.3l-1.6,7.0l-1.6,14.4l-2.1,-3.0l-2.0,12.7l-2.5,-15.3l-2.4,-1.8l-1.7,-0.5l-1.6,-9.3l-1.7,-7.9l-1.6,-14.2z" fill="#f2bcb0" fill-opacity="0.75"/>
<path d="M60.0,2167.4l1.6,8.5l1.7,18.3l1.6,-2.5l1.7,5.0l2.4,7.6l2.5,5.7l2.0,-6.2l2.1,-5.3l1.6,-0.4l1.6,-13.7l2.5,-17.0l2.5,37.1l1.6,32.7l1.6,29.6l2.7,89.1l2.6,-68.1l2.1,-50.5l1.7,-27.0l1.6,-17.7l1.6,-4.0l1.7,-0.3l2.4,15.9l2.5,15.7l1.6,-11.0l1.7,-16.7l1.6,-8.3l1.6,-12.9l1.7,-11.9l1.6,-14.6l1.7,4.4l1.6,9.7l1.6,10.5l1.7,16.0l1.6,2.1l1.7,8.7l1.6,-6.9l1.6,1.4l1.7,6.6l1.6,0.7l1.6,5.5l1.7,15.6l1.6,11.6l1.7,10.7l1.6,19.8l1.6,-18.2l1.7,-15.8l1.6,-14.4l1.7,-5.7l1.6,8.8l1.6,11.5l1.7,8.4l1.6,13.8l2.5,3.4l2.0,-25.8l2.1,-29.1l2.4,-9.3l2.5,-10.2l1.6,-4.3l1.7,0.8l1.6,-11.1l1.6,-14.6l1.7,-9.6l1.6,-5.4l2.5,-22.4l1.6,12.7l1.7,5.6l2.4,2.8l1.6,10.5l1.7,7.1l1.6,3.2l1.7,7.9l1.6,6.4l1.6,8.5l1.7,4.3l1.6,13.0l1.7,-6.0l1.6,-7.2l1.6,4.7l1.7,1.9l1.6,-4.2l1.7,-2.4l1.6,19.5l1.6,26.4l1.7,-7.7l1.6,-1.0l1.6,-5.0l1.7,-4.1l2.0,-8.0l2.1,-2.6l2.0,-9.1l2.1,-3.9l1.6,-12.1l1.7,-8.4l2.4,-5.0l2.5,-8.6l2.4,-11.5l2.5,-4.7l1.6,8.1l1.7,10.3l1.6,8.2l1.6,13.2l1.7,15.2l1.6,14.1l1.7,3.8l1.6,2.4l1.6,-9.4l1.7,-18.5l1.6,4.0l1.7,-5.6l1.6,10.8l1.6,6.7l2.1,25.2l2.0,21.3l1.7,-4.2l1.6,-4.6l2.1,-1.7l2.0,-1.5l1.6,-7.1l1.7,-10.9l2.4,-8.5l2.5,-10.7l2.5,-15.3l2.4,-12.6l1.7,-10.6l1.6,-1.9l2.9,-23.5l2.8,21.6l1.7,7.9l1.6,10.3l2.1,6.6l2.0,15.0l1.6,-5.8l1.7,9.5l1.6,-1.4l1.7,-4.0l1.6,-9.1l1.6,-4.7l2.1,12.7l2.0,4.2l1.7,15.2l1.6,10.5l2.1,-4.6l2.0,-12.6l2.8,-6.2l1.6,-5.3l1.6,4.0l2.5,-12.6l2.4,-6.4l2.5,-17.7l2.4,-11.6l1.7,-3.6l1.6,2.2l2.1,-8.7l2.0,-7.1l2.1,13.0l2.0,7.4l1.6,9.0l1.7,-0.6l1.6,11.9l1.7,0.6l1.6,11.5l1.6,8.6l1.7,25.6l1.6,-4.8l1.6,-3.6l1.7,5.9l1.6,6.6l2.5,4.7l2.4,-2.3l2.1,-5.3l2.0,1.9l2.1,-9.8l2.0,-7.3l2.5,-12.5l2.5,-11.6l2.4,-7.2l2.5,-4.0l2.4,8.1l2.5,11.6l2.4,-4.3l2.5,-2.8l2.5,5.3l2.4,-4.4l2.5,2.2l2.4,2.3l2.2,-1.0l2.2,-6.0l2.2,-4.4l2.4,9.1l2.5,7.4l2.5,-0.9l2.4,0.9l2.5,1.6l2.4,1.1l2.5,-0.8l2.5,9.3l2.4,-5.5l2.5,-0.6l2.4,4.4l2.5,5.2l2.4,1.3l2.5,1.3l2.5,0.6l2.4,4.9l2.5,-6.7l2.4,-9.7l1.7,7.4l1.6,9.5l2.5,-3.6l2.4,4.7l2.5,-10.1l2.4,-4.6l2.5,2.0l2.5,4.6l2.4,-2.5l2.5,-10.6l2.4,2.8l2.5,8.1l2.5,3.2l2.4,2.2l2.5,-4.9l2.4,-4.6l2.5,-3.2l2.4,7.0l2.2,-5.7l2.2,-8.2l2.2,-3.3l2.5,7.3l2.4,6.3l2.5,4.4l2.4,-6.8l2.5,-0.1l2.5,-2.6l2.4,-6.1l2.5,-2.4l2.4,0.9l2.5,8.9l2.4,-9.5l2.5,-10.1l2.5,1.9l2.4,4.6l2.5,-4.6l2.4,-5.2l2.5,6.1l2.4,7.0l2.5,-10.0l2.5,-12.9l2.4,10.6l2.5,9.8l2.4,0.0l2.5,2.6l2.5,3.2l2.4,6.5l2.5,-10.6l2.4,-5.8l1.7,8.4l1.6,9.5l2.2,-6.5l2.2,4.2l2.2,0.8" stroke="#ee2a24" stroke-width="2.3" fill="none" stroke-linejoin="round"/>
<path d="M60.0,2192.0l1.6,-3.5l1.7,-2.5l1.6,4.2l1.7,4.6l1.6,-4.7l1.6,3.7l1.7,1.1l1.6,-1.3l2.5,9.9l2.4,-18.9l1.7,-14.1l1.6,-9.6l2.5,41.5l2.4,50.4l1.8,52.7l1.7,60.1l1.5,-46.5l1.6,-49.6l1.6,-31.2l1.7,-35.2l1.6,-15.8l1.6,-12.2l1.7,-4.3l1.6,2.2l1.6,3.4l1.7,20.4l1.6,8.8l1.7,10.8l2.4,13.3l1.7,-10.9l1.6,-13.2l2.5,-6.2l1.6,-16.6l1.6,-12.1l1.7,5.0l1.6,4.9l1.7,1.6l1.6,-4.9l1.6,0.2l1.7,12.2l1.6,-3.0l1.6,10.4l1.7,-1.3l1.6,-8.0l2.5,9.1l2.4,-23.0l2.5,-21.2l2.5,21.3l2.4,39.1l2.5,23.7l2.4,-2.9l2.5,15.5l2.4,-30.0l1.7,-12.8l1.6,-12.9l2.1,3.1l2.0,13.2l1.7,-5.8l1.6,-11.7l1.6,2.7l1.7,-4.9l1.6,1.6l1.7,-8.8l1.6,2.5l1.6,4.8l2.1,-9.1l2.0,-7.3l2.1,5.2l2.0,2.6l1.7,-4.0l1.6,3.5l2.1,-7.9l2.0,-6.3l2.1,-3.9l2.0,-8.9l1.6,11.7l1.7,5.9l2.4,44.7l2.5,3.3l1.6,-13.4l1.7,-9.6l1.6,6.1l1.6,10.3l1.7,0.7l1.6,-7.1l1.7,-0.7l1.6,-6.0l1.6,4.6l1.7,2.0l1.6,-5.6l1.7,-9.8l2.0,0.4l2.1,-10.9l2.0,-2.8l2.1,3.8l2.4,-8.6l2.5,-9.1l1.6,4.3l1.6,1.0l1.7,7.6l1.6,2.9l1.7,2.9l1.6,4.2l2.1,-12.8l2.0,-16.7l2.5,10.0l2.4,32.8l1.7,7.5l1.6,10.9l2.0,4.9l2.1,-5.6l1.6,-0.8l1.7,-6.5l1.6,-3.7l1.6,-3.3l1.7,0.3l1.6,1.2l1.7,1.8l1.6,0.5l1.6,-1.8l1.7,-2.4l1.6,-6.5l1.7,2.3l1.6,-8.9l1.6,-8.5l1.7,-7.4l1.6,-3.7l1.6,8.4l1.7,1.3l1.6,4.8l1.7,4.9l1.6,2.3l1.6,5.9l1.7,0.1l1.6,-4.4l2.5,-21.6l2.4,-21.3l1.7,14.5l1.6,22.9l2.5,60.9l2.0,-16.2l2.1,-15.4l2.2,-4.7l2.2,-13.3l1.6,1.7l1.6,-0.8l2.5,-5.2l2.4,-2.6l1.6,-2.0l1.7,-2.9l1.6,-16.6l1.7,-13.8l1.6,6.4l1.6,10.0l2.5,-15.9l2.5,-13.6l1.6,5.9l1.6,9.1l1.7,1.3l1.6,9.2l2.5,-4.3l2.4,5.0l1.7,3.9l1.6,-7.1l2.5,14.2l2.4,15.9l2.5,2.4l2.4,3.5l2.5,-2.8l2.5,-10.3l1.6,10.4l1.6,6.0l1.7,-2.7l1.6,-8.5l2.5,-12.6l2.4,-9.0l1.7,5.9l1.6,0.6l2.5,-5.0l2.4,-1.5l1.7,9.9l1.6,4.4l2.5,2.7l2.4,-5.7l2.5,8.7l2.4,5.1l2.5,-2.5l2.5,4.8l2.4,11.5l2.5,10.3l2.4,-4.3l2.5,-8.1l2.4,-8.2l2.5,-2.4l2.5,10.1l2.4,6.3l2.5,-9.2l2.4,-1.1l2.5,-6.0l2.4,-0.1l2.5,9.1l2.5,9.2l2.4,-3.2l2.5,0.4l2.4,1.4l2.5,-7.1l2.5,3.4l2.4,2.9l1.7,4.8l1.6,5.3l2.5,-12.3l2.4,-13.9l2.5,15.5l2.4,14.0l2.5,-7.6l2.4,-12.5l2.5,-8.5l2.5,-4.2l2.4,4.8l2.5,11.6l2.4,0.3l2.5,-6.2l2.4,-2.2l2.5,-8.3l2.5,2.9l2.4,0.4l2.5,13.0l2.4,0.2l1.7,5.6l1.6,4.2l2.5,-6.5l2.4,-6.7l2.5,6.2l2.5,7.0l2.4,-1.5l2.5,-7.4l2.4,-7.7l2.5,-12.9l2.4,5.2l2.5,4.6l2.5,-7.6l2.4,1.0l2.5,5.7l2.4,4.2l2.5,-10.0l2.4,-13.0l2.2,10.7l2.2,12.1l2.2,6.7l2.5,-11.8l2.4,-12.3l2.5,5.1l2.4,-7.2l2.5,8.0l2.5,14.9l2.4,-3.9l2.5,-3.0l2.0,-7.4l2.1,4.6l2.0,-2.5l2.1,2.4" stroke="#2250a8" stroke-width="2.3" fill="none" stroke-linejoin="round"/>
</g>
<path d="M161.3,2100.6V2092.9H195.7V2100.6" stroke="#ee2a24" stroke-width="2" fill="none"/>
<path d="M221.4,2119.6V2111.7H255.5V2119.6" stroke="#ee2a24" stroke-width="2" fill="none"/>
<path d="M272.6,2119.6V2111.7H307.0V2119.6" stroke="#ee2a24" stroke-width="2" fill="none"/>
<path d="M325.2,2119.1V2110.9H359.7V2119.1" stroke="#ee2a24" stroke-width="2" fill="none"/>
<rect x="60.0" y="2056.4" width="520.3" height="410.7" fill="none" stroke="#4a4a4a" stroke-width="1.4"/>
<path d="M74.9,2056.4v5.5M74.9,2467.1v-5.5M149.2,2056.4v5.5M149.2,2467.1v-5.5M223.5,2056.4v5.5M223.5,2467.1v-5.5M297.9,2056.4v5.5M297.9,2467.1v-5.5M372.2,2056.4v5.5M372.2,2467.1v-5.5M446.5,2056.4v5.5M446.5,2467.1v-5.5M520.8,2056.4v5.5M520.8,2467.1v-5.5M60.0,2467.1h5.5M580.3,2467.1h-5.5M60.0,2421.5h5.5M580.3,2421.5h-5.5M60.0,2375.8h5.5M580.3,2375.8h-5.5M60.0,2330.2h5.5M580.3,2330.2h-5.5M60.0,2284.6h5.5M580.3,2284.6h-5.5M60.0,2238.9h5.5M580.3,2238.9h-5.5M60.0,2193.3h5.5M580.3,2193.3h-5.5M60.0,2147.7h5.5M580.3,2147.7h-5.5M60.0,2102.0h5.5M580.3,2102.0h-5.5M60.0,2056.4h5.5M580.3,2056.4h-5.5" stroke="#4a4a4a" stroke-width="1.4" fill="none"/>
<text x="74.6" y="2484.7" font-size="17" text-anchor="middle" font-weight="normal" fill="#333">0</text>
<text x="147.0" y="2484.7" font-size="17" text-anchor="middle" font-weight="normal" fill="#333">0.5</text>
<text x="223.2" y="2484.7" font-size="17" text-anchor="middle" font-weight="normal" fill="#333">1</text>
<text x="295.7" y="2484.7" font-size="17" text-anchor="middle" font-weight="normal" fill="#333">1.5</text>
<text x="371.9" y="2484.7" font-size="17" text-anchor="middle" font-weight="normal" fill="#333">2</text>
<text x="444.3" y="2484.7" font-size="17" text-anchor="middle" font-weight="normal" fill="#333">2.5</text>
<text x="520.5" y="2484.7" font-size="17" text-anchor="middle" font-weight="normal" fill="#333">3</text>
<text x="52.4" y="2470.7" font-size="17" text-anchor="end" font-weight="normal" fill="#333">-60</text>
<text x="52.4" y="2425.1" font-size="17" text-anchor="end" font-weight="normal" fill="#333">-50</text>
<text x="52.4" y="2379.4" font-size="17" text-anchor="end" font-weight="normal" fill="#333">-40</text>
<text x="52.4" y="2333.8" font-size="17" text-anchor="end" font-weight="normal" fill="#333">-30</text>
<text x="52.4" y="2288.2" font-size="17" text-anchor="end" font-weight="normal" fill="#333">-20</text>
<text x="52.4" y="2242.5" font-size="17" text-anchor="end" font-weight="normal" fill="#333">-10</text>
<text x="52.4" y="2196.9" font-size="17" text-anchor="end" font-weight="normal" fill="#333">0</text>
<text x="52.4" y="2151.3" font-size="17" text-anchor="end" font-weight="normal" fill="#333">10</text>
<text x="52.4" y="2105.6" font-size="17" text-anchor="end" font-weight="normal" fill="#333">20</text>
<text x="52.4" y="2060.0" font-size="17" text-anchor="end" font-weight="normal" fill="#333">30</text>
<text class="th" x="312.3" y="2508.5" font-size="18.8" text-anchor="middle" font-weight="normal" fill="#231f20" textLength="67.6" lengthAdjust="spacingAndGlyphs">Time (s)</text>
<text class="th" x="0" y="0" font-size="19.5" text-anchor="middle" fill="#231f20" textLength="168.4" lengthAdjust="spacingAndGlyphs" transform="translate(15.9,2281.1) rotate(-90)">Neural activity index</text>
<rect x="476.5" y="2070.9" width="89.6" height="54.3" fill="#fff" stroke="#6a6a6a" stroke-width="1.3"/>
<rect x="483.9" y="2080.5" width="20.4" height="12.4" fill="#f3c7bd"/>
<rect x="483.9" y="2085.9" width="20.4" height="1.8" fill="#ec1c24"/>
<rect x="483.9" y="2103.3" width="20.4" height="12.6" fill="#a9dcea"/>
<rect x="483.9" y="2108.5" width="20.4" height="1.8" fill="#2a48a0"/>
<text x="514.9" y="2090.2" font-size="16.6" text-anchor="start" font-weight="normal" fill="#231f20" textLength="43.4" lengthAdjust="spacingAndGlyphs">Young</text>
<text x="514.9" y="2113.2" font-size="16.6" text-anchor="start" font-weight="normal" fill="#231f20" textLength="37.5" lengthAdjust="spacingAndGlyphs">Older</text>
<rect x="410.4" y="2342.3" width="155.1" height="110.5" fill="#fff" stroke="#6a6a6a" stroke-width="1.2"/>
<g transform="translate(410.4,2342.3)"><use href="#brainbase"/><path d="M129.3,39.0C129.3,40.2 129.9,41.6 130.8,42.5C131.7,43.5 133.3,44.3 134.8,44.7C136.3,45.1 138.3,45.1 139.8,44.7C141.3,44.3 142.9,43.5 143.8,42.5C144.7,41.6 145.3,40.2 145.3,39.0C145.3,37.8 144.7,36.4 143.8,35.5C142.9,34.5 141.3,33.7 139.8,33.3C138.3,32.9 136.3,32.9 134.8,33.3C133.3,33.7 131.7,34.5 130.8,35.5C129.9,36.4 129.3,37.8 129.3,39.0Z" fill="#f0262a" fill-opacity="0.93"/><path d="M122.3,44.0C122.3,44.8 122.7,45.9 123.3,46.5C123.9,47.1 125.0,47.5 125.8,47.5C126.6,47.5 127.7,47.1 128.3,46.5C128.9,45.9 129.3,44.8 129.3,44.0C129.3,43.2 128.9,42.1 128.3,41.5C127.7,40.9 126.6,40.5 125.8,40.5C125.0,40.5 123.9,40.9 123.3,41.5C122.7,42.1 122.3,43.2 122.3,44.0Z" fill="#f0262a" fill-opacity="0.93"/><path d="M127.3,48.5C126.2,47.8 122.9,48.2 120.8,48.0C118.7,47.8 116.8,47.8 114.8,47.5C112.8,47.2 109.6,46.1 108.8,46.5C108.0,46.9 108.5,48.9 109.8,50.0C111.1,51.1 114.5,52.2 116.8,53.0C119.1,53.8 122.1,54.6 123.8,54.5C125.6,54.4 126.7,53.5 127.3,52.5C127.9,51.5 128.4,49.2 127.3,48.5Z" fill="#f0262a" fill-opacity="0.93"/><path d="M99.3,37.0C99.3,38.2 99.7,39.7 100.2,40.5C100.7,41.4 101.6,42.0 102.3,42.0C103.0,42.0 103.9,41.4 104.4,40.5C104.9,39.7 105.3,38.2 105.3,37.0C105.3,35.8 104.9,34.3 104.4,33.5C103.9,32.6 103.0,32.0 102.3,32.0C101.6,32.0 100.7,32.6 100.2,33.5C99.7,34.3 99.3,35.8 99.3,37.0Z" fill="#f0262a" fill-opacity="0.93"/><path d="M127.3,34.5C127.3,35.0 127.8,35.8 128.3,36.1C128.8,36.3 129.8,36.3 130.3,36.1C130.8,35.8 131.3,35.0 131.3,34.5C131.3,34.0 130.8,33.2 130.3,32.9C129.8,32.7 128.8,32.7 128.3,32.9C127.8,33.2 127.3,34.0 127.3,34.5Z" fill="#f0262a" fill-opacity="0.93"/><path d="M119.1,8.7C119.1,9.0 119.5,9.6 119.9,9.7C120.2,9.9 121.0,9.9 121.4,9.7C121.7,9.6 122.1,9.0 122.1,8.7C122.1,8.4 121.7,7.8 121.4,7.7C121.0,7.5 120.2,7.5 119.9,7.7C119.5,7.8 119.1,8.4 119.1,8.7Z" fill="#f0262a" fill-opacity="0.93"/><path d="M133.6,25.1C133.6,25.4 134.0,26.0 134.4,26.1C134.7,26.3 135.5,26.3 135.9,26.1C136.2,26.0 136.6,25.4 136.6,25.1C136.6,24.8 136.2,24.2 135.9,24.1C135.5,23.9 134.7,23.9 134.4,24.1C134.0,24.2 133.6,24.8 133.6,25.1Z" fill="#f0262a" fill-opacity="0.93"/><path d="M139.1,28.9C139.1,29.3 139.6,29.9 140.0,30.1C140.4,30.3 141.4,30.3 141.8,30.1C142.2,29.9 142.7,29.3 142.7,28.9C142.7,28.5 142.2,27.9 141.8,27.7C141.4,27.5 140.4,27.5 140.0,27.7C139.6,27.9 139.1,28.5 139.1,28.9Z" fill="#f0262a" fill-opacity="0.93"/><path d="M34.3,83.8C34.3,84.3 33.8,85.0 33.3,85.3C32.8,85.5 31.8,85.5 31.3,85.3C30.8,85.0 30.3,84.3 30.3,83.8C30.3,83.3 30.8,82.6 31.3,82.3C31.8,82.1 32.8,82.1 33.3,82.3C33.8,82.6 34.3,83.3 34.3,83.8Z" fill="#f0262a" fill-opacity="0.93"/><path d="M54.5,94.0C54.8,93.0 56.0,90.6 57.0,89.5C58.0,88.4 59.8,87.5 60.5,87.5C61.2,87.5 61.9,88.6 61.5,89.5C61.1,90.4 59.0,92.0 58.0,93.0C57.0,94.0 56.1,95.3 55.5,95.5C54.9,95.7 54.2,95.0 54.5,94.0Z" fill="#f0262a" fill-opacity="0.93"/><path d="M119.3,67.5C118.1,66.9 113.9,66.8 111.8,66.5C109.7,66.2 108.2,65.4 106.8,65.5C105.4,65.6 103.7,65.9 103.3,67.0C102.9,68.1 102.7,71.1 104.3,72.0C105.9,72.9 110.3,72.8 112.8,72.5C115.3,72.2 118.2,70.8 119.3,70.0C120.4,69.2 120.6,68.1 119.3,67.5Z" fill="#f0262a" fill-opacity="0.93"/><path d="M102.3,94.0C102.1,93.0 100.8,90.6 99.8,89.5C98.8,88.4 97.1,87.5 96.3,87.5C95.6,87.5 94.9,88.6 95.3,89.5C95.7,90.4 97.8,92.0 98.8,93.0C99.8,94.0 100.7,95.3 101.3,95.5C101.9,95.7 102.6,95.0 102.3,94.0Z" fill="#f0262a" fill-opacity="0.93"/><path d="M138.3,83.5C138.3,81.2 133.2,82.3 130.8,82.5C128.4,82.7 124.8,83.4 123.8,84.5C122.8,85.6 124.3,87.4 124.8,89.0C125.3,90.6 125.8,92.8 126.8,94.0C127.8,95.2 128.9,97.8 130.8,96.0C132.7,94.2 138.3,85.8 138.3,83.5Z" fill="#f0262a" fill-opacity="0.93"/><path d="M130.3,95.0C129.3,94.9 126.4,95.8 123.8,96.5C121.2,97.2 117.6,98.2 114.8,99.0C112.0,99.8 109.1,101.0 106.8,101.5C104.6,102.0 102.2,101.3 101.3,102.0C100.4,102.7 100.4,104.8 101.3,105.5C102.2,106.2 104.6,106.5 106.8,106.0C109.1,105.5 112.0,103.6 114.8,102.5C117.6,101.4 121.3,100.4 123.8,99.5C126.3,98.6 128.7,97.8 129.8,97.0C130.9,96.2 131.3,95.1 130.3,95.0Z" fill="#f0262a" fill-opacity="0.93"/></g>
<g fill="#231f20" transform="translate(68.0,2547.6)"><ellipse cx="4.9" cy="-3.0" rx="5.1" ry="2.85" transform="rotate(-21 4.9 -3.0)"/><rect x="8.7" y="-23.4" width="1.45" height="20.5"/><path d="M8.7,-23.6 C10.0,-20.8 13.6,-18.9 15.6,-15.7 C16.9,-13.5 16.5,-10.7 15.0,-8.6 C15.4,-10.8 15.0,-12.6 13.6,-14.2 C12.4,-15.5 11.0,-16.0 10.1,-17.0 L10.1,-23.6 Z"/></g>
<g fill="#231f20" transform="translate(125.0,2547.6)"><ellipse cx="4.9" cy="-3.0" rx="5.1" ry="2.85" transform="rotate(-21 4.9 -3.0)"/><rect x="8.7" y="-23.4" width="1.45" height="20.5"/><path d="M8.7,-23.6 C10.0,-20.8 13.6,-18.9 15.6,-15.7 C16.9,-13.5 16.5,-10.7 15.0,-8.6 C15.4,-10.8 15.0,-12.6 13.6,-14.2 C12.4,-15.5 11.0,-16.0 10.1,-17.0 L10.1,-23.6 Z"/></g>
<g fill="#231f20" transform="translate(176.7,2547.6)"><ellipse cx="4.9" cy="-3.0" rx="5.1" ry="2.85" transform="rotate(-21 4.9 -3.0)"/><rect x="8.7" y="-23.4" width="1.45" height="20.5"/><path d="M8.7,-23.6 C10.0,-20.8 13.6,-18.9 15.6,-15.7 C16.9,-13.5 16.5,-10.7 15.0,-8.6 C15.4,-10.8 15.0,-12.6 13.6,-14.2 C12.4,-15.5 11.0,-16.0 10.1,-17.0 L10.1,-23.6 Z"/></g>
<g fill="#231f20" transform="translate(231.4,2547.6)"><ellipse cx="4.9" cy="-3.0" rx="5.1" ry="2.85" transform="rotate(-21 4.9 -3.0)"/><rect x="8.7" y="-23.4" width="1.45" height="20.5"/><path d="M8.7,-23.6 C10.0,-20.8 13.6,-18.9 15.6,-15.7 C16.9,-13.5 16.5,-10.7 15.0,-8.6 C15.4,-10.8 15.0,-12.6 13.6,-14.2 C12.4,-15.5 11.0,-16.0 10.1,-17.0 L10.1,-23.6 Z"/></g>
<g fill="#231f20" transform="translate(284.7,2547.6)"><ellipse cx="4.9" cy="-3.0" rx="5.1" ry="2.85" transform="rotate(-21 4.9 -3.0)"/><rect x="8.7" y="-23.4" width="1.45" height="20.5"/><path d="M8.7,-23.6 C10.0,-20.8 13.6,-18.9 15.6,-15.7 C16.9,-13.5 16.5,-10.7 15.0,-8.6 C15.4,-10.8 15.0,-12.6 13.6,-14.2 C12.4,-15.5 11.0,-16.0 10.1,-17.0 L10.1,-23.6 Z"/></g>
<text class="th" x="919.3" y="2033.4" font-size="27.5" text-anchor="middle" font-weight="normal" fill="#231f20" textLength="101.8" lengthAdjust="spacingAndGlyphs">Novel T1</text>
<clipPath id="clip31"><rect x="666.5" y="2056.4" width="520.3" height="410.7"/></clipPath>
<rect x="772.2" y="2056.4" width="3.6" height="410.7" fill="#dcdcde"/>
<rect x="821.7" y="2056.4" width="9.0" height="410.7" fill="#dcdcde"/>
<rect x="872.2" y="2056.4" width="13.4" height="410.7" fill="#dcdcde"/>
<rect x="932.6" y="2056.4" width="7.3" height="410.7" fill="#dcdcde"/>
<path d="M681.4,2056.4V2467.1M696.2,2056.4V2467.1M711.1,2056.4V2467.1M726.0,2056.4V2467.1M740.8,2056.4V2467.1M755.7,2056.4V2467.1M770.6,2056.4V2467.1M785.4,2056.4V2467.1M800.3,2056.4V2467.1M815.2,2056.4V2467.1M830.0,2056.4V2467.1M844.9,2056.4V2467.1M859.8,2056.4V2467.1M874.6,2056.4V2467.1M889.5,2056.4V2467.1M904.4,2056.4V2467.1M919.2,2056.4V2467.1M934.1,2056.4V2467.1M948.9,2056.4V2467.1M963.8,2056.4V2467.1M978.7,2056.4V2467.1M993.5,2056.4V2467.1M1008.4,2056.4V2467.1M1023.3,2056.4V2467.1M1038.1,2056.4V2467.1M1053.0,2056.4V2467.1M1067.9,2056.4V2467.1M1082.7,2056.4V2467.1M1097.6,2056.4V2467.1M1112.5,2056.4V2467.1M1127.3,2056.4V2467.1M1142.2,2056.4V2467.1M1157.1,2056.4V2467.1M1171.9,2056.4V2467.1M666.5,2458.0H1186.8M666.5,2448.8H1186.8M666.5,2439.7H1186.8M666.5,2430.6H1186.8M666.5,2421.5H1186.8M666.5,2412.3H1186.8M666.5,2403.2H1186.8M666.5,2394.1H1186.8M666.5,2385.0H1186.8M666.5,2375.8H1186.8M666.5,2366.7H1186.8M666.5,2357.6H1186.8M666.5,2348.5H1186.8M666.5,2339.3H1186.8M666.5,2330.2H1186.8M666.5,2321.1H1186.8M666.5,2311.9H1186.8M666.5,2302.8H1186.8M666.5,2293.7H1186.8M666.5,2284.6H1186.8M666.5,2275.4H1186.8M666.5,2266.3H1186.8M666.5,2257.2H1186.8M666.5,2248.1H1186.8M666.5,2238.9H1186.8M666.5,2229.8H1186.8M666.5,2220.7H1186.8M666.5,2211.6H1186.8M666.5,2202.4H1186.8M666.5,2193.3H1186.8M666.5,2184.2H1186.8M666.5,2175.0H1186.8M666.5,2165.9H1186.8M666.5,2156.8H1186.8M666.5,2147.7H1186.8M666.5,2138.5H1186.8M666.5,2129.4H1186.8M666.5,2120.3H1186.8M666.5,2111.2H1186.8M666.5,2102.0H1186.8M666.5,2092.9H1186.8M666.5,2083.8H1186.8M666.5,2074.7H1186.8M666.5,2065.5H1186.8" stroke="#c6c6c6" stroke-width="1" stroke-dasharray="1.3 1.7" fill="none"/>
<g clip-path="url(#clip31)">
<path d="M666.0,2191.9l1.6,-2.7l1.7,-1.5l1.6,4.5l1.7,2.1l2.4,-17.4l2.5,-18.9l1.6,23.7l1.6,17.7l1.7,-8.9l1.6,-5.4l1.7,-14.8l1.6,-0.3l1.6,5.9l1.7,28.7l1.6,22.5l2.0,75.2l2.0,65.7l2.6,-103.3l1.6,-35.1l1.7,-34.2l2.4,-15.4l2.5,-26.9l1.6,7.9l1.6,8.3l2.5,26.8l2.5,12.8l1.6,-8.0l1.6,-7.2l1.7,-4.7l1.6,-10.8l1.7,-4.6l1.6,-1.3l1.6,1.4l1.7,-5.8l1.6,4.2l1.7,3.4l1.6,-7.6l1.6,-8.4l1.7,13.6l1.6,5.7l1.6,3.4l1.7,1.8l2.4,4.5l2.5,4.3l1.6,-11.8l1.7,-3.1l2.4,-31.4l2.5,31.9l1.6,24.5l1.7,23.1l1.9,22.8l3.0,-23.3l1.6,-8.9l1.7,-11.4l2.0,-11.8l2.1,-11.7l2.0,6.0l2.1,2.5l2.4,0.3l2.5,-1.8l2.4,15.1l2.5,2.3l1.6,-3.3l1.7,-11.1l1.6,-3.3l1.6,2.5l1.7,-11.6l1.6,-8.7l1.7,-0.4l1.6,1.0l1.6,-0.3l1.7,3.9l1.6,-5.6l1.7,-16.8l1.6,-12.1l1.6,-11.0l1.7,11.8l1.6,15.2l1.7,17.8l1.6,21.3l1.6,-0.7l1.7,-2.1l1.6,-11.1l1.6,-10.1l1.7,-3.7l1.6,-10.8l1.7,3.6l1.6,9.7l1.6,-3.3l1.7,-2.7l1.6,12.9l1.7,10.1l1.6,4.6l1.6,4.1l1.7,7.2l1.6,2.7l1.7,-10.8l1.6,-12.4l1.6,-5.7l1.7,-4.2l1.6,6.0l1.6,9.5l1.7,-3.0l1.6,-7.6l1.7,0.9l1.6,5.0l2.5,-25.3l2.4,-22.0l1.7,14.1l1.6,15.7l1.6,12.3l1.7,14.2l1.6,1.2l1.7,6.8l2.4,-19.5l2.5,-11.6l1.6,11.3l1.6,5.4l1.7,4.1l1.6,0.8l1.7,-2.4l1.6,-1.6l1.6,4.2l1.7,6.5l1.6,-10.6l1.7,-2.4l1.6,-4.8l1.6,-3.1l1.7,-1.4l1.6,5.8l1.6,8.4l1.7,6.6l1.6,-5.3l1.7,0.3l1.6,-8.3l1.6,-7.6l1.7,-2.0l1.6,9.0l1.9,-14.7l1.9,-11.5l2.0,-3.3l2.0,23.3l2.1,20.6l2.4,-1.5l2.5,-2.4l2.7,-8.7l1.6,4.7l1.7,7.0l1.6,-12.1l1.6,-8.3l1.7,11.1l1.6,4.3l1.6,1.6l1.7,4.8l1.6,-10.5l1.7,-10.9l1.6,10.4l1.6,10.1l1.7,-3.3l1.6,-4.0l1.7,-1.6l1.6,-6.1l1.6,-0.7l1.7,-3.7l1.6,-0.4l1.7,-2.2l1.6,4.4l1.6,7.5l1.7,-5.1l1.6,2.9l1.6,-1.0l1.7,8.8l1.6,-3.1l1.7,5.9l1.6,-11.3l1.6,-4.9l1.7,5.5l1.6,5.3l1.7,-8.6l1.6,-7.9l1.6,-12.7l1.7,-8.7l1.6,9.7l1.7,-2.8l1.6,-3.1l1.6,-9.9l1.7,2.2l1.6,4.0l1.6,-18.5l1.7,-9.4l1.6,10.0l1.7,14.2l1.6,-7.7l1.6,-1.5l1.7,3.9l1.6,4.2l1.7,0.3l1.6,-2.8l1.6,2.6l1.7,4.7l1.6,1.5l1.7,1.5l1.6,9.8l1.6,21.8l1.7,-8.6l1.6,-0.1l1.6,9.1l1.7,-3.9l1.6,4.5l1.7,-0.1l1.6,6.0l1.6,5.8l1.7,-4.5l1.6,6.9l1.7,-1.1l1.6,-8.4l1.6,4.6l1.7,4.3l1.6,-6.9l1.6,0.3l1.7,3.0l1.6,4.2l1.7,-1.6l1.6,-6.2l1.6,2.7l1.7,8.3l1.6,-2.2l1.7,-5.8l1.6,9.2l1.6,16.9l1.7,-17.0l1.6,-7.3l1.7,5.5l1.6,5.6l1.6,8.4l1.7,6.5l1.6,-15.1l1.6,-2.3l1.7,-9.5l1.6,-7.4l2.5,4.1l2.4,10.6l2.5,-10.2l2.5,-12.3l2.4,11.5l2.5,18.6l2.4,-9.5l2.5,-8.8l2.4,4.3l2.5,2.7l2.5,-3.6l2.4,-10.9l2.1,-9.1l2.0,-13.0l2.1,18.0l2.0,15.1l1.7,12.9l1.6,0.5l2.5,-10.1l2.4,-7.6l2.5,5.4l2.4,4.4l2.5,7.2l2.4,1.2l2.5,-11.8l2.5,-7.8l2.4,10.5l2.5,-2.9l2.4,-8.5l2.5,-5.7l2.5,-7.5l2.4,-4.1l2.5,9.7l2.4,10.0l2.5,-0.5l2.4,-0.8l2.5,-3.9l2.5,-1.2l2.4,8.8l2.5,8.0l1.6,-14.7l1.7,-9.6l2.4,0.6l2.5,6.1l2.2,-5.3l2.1,6.7l2.2,-8.1l0.0,18.9l-2.2,-1.8l-2.1,3.7l-2.2,-5.6l-2.5,-0.1l-2.4,-0.3l-1.7,10.9l-1.6,14.5l-2.5,-8.5l-2.4,-7.8l-2.5,0.0l-2.5,2.7l-2.4,7.0l-2.5,-4.2l-2.4,-6.0l-2.5,-16.3l-2.4,4.8l-2.5,6.7l-2.5,10.9l-2.4,9.7l-2.5,-9.1l-2.4,-1.1l-2.5,9.2l-2.5,9.7l-2.4,-5.3l-2.5,-1.2l-2.4,-10.3l-2.5,1.0l-2.4,8.1l-2.5,8.0l-1.6,-8.2l-1.7,-4.4l-2.0,-19.6l-2.1,-17.7l-2.0,19.5l-2.1,4.0l-2.4,7.5l-2.5,5.8l-2.5,-0.7l-2.4,-2.0l-2.5,5.9l-2.4,9.0l-2.5,-16.9l-2.4,-12.2l-2.5,11.7l-2.5,12.3l-2.4,-7.1l-2.5,-5.7l-1.6,6.9l-1.7,-0.4l-1.6,10.8l-1.6,11.6l-1.7,-7.6l-1.6,-5.6l-1.6,-3.1l-1.7,-4.3l-1.6,2.8l-1.7,13.1l-1.6,-9.7l-1.6,-10.2l-1.7,2.2l-1.6,3.5l-1.7,-1.8l-1.6,-7.0l-1.6,6.5l-1.7,4.8l-1.6,-6.3l-1.7,-3.9l-1.6,0.8l-1.6,4.1l-1.7,-4.9l-1.6,-3.3l-1.6,2.9l-1.7,7.9l-1.6,-4.4l-1.7,-6.4l-1.6,-1.9l-1.6,-4.8l-1.7,-1.5l-1.6,3.8l-1.7,-4.8l-1.6,-5.8l-1.6,0.7l-1.7,0.7l-1.6,-9.4l-1.6,-18.3l-1.7,0.9l-1.6,-5.5l-1.7,-4.0l-1.6,-1.7l-1.6,1.8l-1.7,6.0l-1.6,-8.7l-1.7,-4.5l-1.6,7.0l-1.6,5.1l-1.7,-11.2l-1.6,-11.3l-1.7,10.3l-1.6,12.9l-1.6,1.3l-1.7,-5.4l-1.6,7.3l-1.6,7.0l-1.7,-5.7l-1.6,-2.2l-1.7,11.7l-1.6,9.5l-1.6,7.7l-1.7,8.0l-1.6,0.7l-1.7,-7.2l-1.6,6.2l-1.6,13.7l-1.7,-5.2l-1.6,-9.2l-1.7,-2.5l-1.6,-1.7l-1.6,4.4l-1.7,0.5l-1.6,-3.9l-1.6,-10.3l-1.7,4.5l-1.6,4.0l-1.7,-0.8l-1.6,2.9l-1.6,0.5l-1.7,3.4l-1.6,3.2l-1.7,5.3l-1.6,-11.3l-1.6,-6.3l-1.7,4.2l-1.6,13.9l-1.7,-6.7l-1.6,-2.8l-1.6,-2.9l-1.7,-5.0l-1.6,8.5l-1.6,4.6l-1.7,-3.6l-1.6,-7.9l-2.7,8.2l-2.5,5.4l-2.4,-0.4l-2.1,-16.1l-2.0,-26.8l-2.0,7.0l-1.9,8.6l-1.9,10.3l-1.6,-1.6l-1.7,-5.0l-1.6,11.0l-1.6,9.2l-1.7,3.7l-1.6,0.0l-1.7,-6.7l-1.6,-4.5l-1.6,-2.0l-1.7,-5.5l-1.6,1.3l-1.6,3.3l-1.7,10.9l-1.6,8.2l-1.7,-5.8l-1.6,-9.4l-1.6,4.1l-1.7,2.2l-1.6,0.9l-1.7,-3.8l-1.6,-15.5l-1.6,-1.5l-2.5,15.7l-2.4,13.5l-1.7,-6.3l-1.6,1.7l-1.7,-19.6l-1.6,-10.5l-1.6,-12.6l-1.7,-15.5l-2.4,26.9l-2.5,17.6l-1.6,-1.0l-1.7,-3.0l-1.6,7.5l-1.7,0.9l-1.6,-1.7l-1.6,-10.0l-1.7,0.1l-1.6,5.4l-1.6,9.3l-1.7,15.5l-1.6,-4.3l-1.7,-2.3l-1.6,-6.3l-1.6,-2.0l-1.7,-16.9l-1.6,-11.0l-1.7,3.1l-1.6,-0.8l-1.6,-0.9l-1.7,-6.9l-1.6,10.5l-1.7,8.2l-1.6,7.0l-1.6,11.6l-1.7,1.1l-1.6,5.8l-1.6,-20.9l-1.7,-26.5l-1.6,-9.7l-1.7,-8.4l-1.6,7.9l-1.6,9.9l-1.7,12.1l-1.6,12.5l-1.7,-2.5l-1.6,-4.8l-1.6,0.6l-1.7,2.6l-1.6,9.3l-1.7,7.5l-1.6,2.6l-1.6,-1.7l-1.7,5.6l-1.6,15.8l-2.5,-16.0l-2.4,-5.2l-2.5,-0.2l-2.4,0.2l-2.1,-2.3l-2.0,-2.9l-2.1,9.1l-2.0,8.9l-1.7,13.3l-1.6,5.4l-3.0,21.1l-1.9,-14.4l-1.7,-27.2l-1.6,-24.7l-2.5,-32.9l-2.4,26.4l-1.7,16.1l-1.6,8.0l-2.5,-4.0l-2.4,-8.1l-1.7,-2.6l-1.6,-2.6l-1.6,-7.9l-1.7,-9.6l-1.6,8.0l-1.6,1.3l-1.7,4.0l-1.6,-2.8l-1.7,2.0l-1.6,1.9l-1.6,2.6l-1.7,3.8l-1.6,9.4l-1.7,2.4l-1.6,14.2l-1.6,3.4l-2.5,-19.3l-2.5,-21.0l-1.6,-4.5l-1.6,-10.0l-2.5,19.9l-2.4,21.3l-1.7,33.9l-1.6,34.2l-2.6,103.2l-2.0,-69.6l-2.0,-71.3l-1.6,-23.6l-1.7,-28.1l-1.6,-5.4l-1.6,1.1l-1.7,13.6l-1.6,7.9l-1.7,1.8l-1.6,-17.4l-1.6,-14.7l-2.5,10.6l-2.4,22.1l-1.7,-2.3l-1.6,-4.8l-1.7,-0.5l-1.6,2.5z" fill="#9fd6e9" fill-opacity="0.75"/>
<path d="M666.0,2170.5l1.6,1.2l1.7,5.9l1.6,6.7l1.7,5.7l1.6,5.1l1.6,10.4l1.7,-4.3l1.6,-6.7l1.6,-3.4l1.7,-5.3l1.6,7.7l1.7,0.6l1.6,-10.5l1.6,-12.0l1.7,9.9l1.6,23.5l2.0,63.5l2.0,70.5l2.2,-58.8l2.0,-68.5l2.5,-13.2l2.4,-15.7l1.7,4.4l1.6,1.6l2.5,20.2l2.4,19.7l1.7,-13.2l1.6,-10.2l1.6,-9.8l1.7,-14.9l1.6,-7.7l1.7,-13.1l1.6,0.9l1.6,-2.2l1.7,2.3l1.6,6.2l1.7,10.2l1.6,10.1l1.6,-0.1l1.7,2.8l2.4,9.3l2.5,12.1l1.6,8.2l1.7,8.0l1.6,-4.0l1.6,-0.4l1.7,-5.4l1.6,-10.9l1.7,-9.3l1.6,-12.8l1.6,20.8l1.7,24.0l2.4,21.4l2.1,-18.9l2.0,-19.9l1.7,-12.8l1.6,-5.3l1.6,16.7l1.7,9.1l1.6,10.3l1.7,8.8l1.6,-1.5l1.6,-4.6l1.7,-6.6l1.6,2.3l1.7,-8.6l1.6,-9.4l1.6,3.2l1.7,-4.3l1.6,-8.8l1.6,-1.0l1.7,9.6l1.6,2.5l1.7,-5.9l1.6,-7.9l1.6,2.1l1.7,8.7l1.6,-13.6l1.7,-9.3l1.6,-21.7l1.6,-12.3l1.7,-6.6l1.6,-0.6l1.7,20.9l1.6,26.3l1.6,13.2l1.7,14.1l1.6,-3.2l1.6,0.8l1.7,-2.9l1.6,4.5l2.1,3.5l2.0,6.9l2.5,-3.0l1.6,-19.7l1.7,-12.7l1.6,-6.6l1.6,-14.4l1.7,-2.6l1.6,-4.5l2.1,-6.0l2.0,-7.4l2.1,3.8l2.0,5.5l1.6,9.6l1.7,6.5l1.6,7.2l1.7,5.8l1.6,4.0l1.6,0.7l1.7,-10.0l1.6,-13.1l1.7,-12.4l1.6,-9.5l1.6,17.8l1.7,10.7l1.6,14.1l1.7,13.3l1.6,12.1l1.6,2.8l1.7,-3.1l1.6,0.0l1.6,4.1l1.7,7.4l1.6,15.4l1.7,-3.6l1.6,0.5l1.6,-16.2l1.7,-12.5l1.6,-13.7l1.7,-12.0l1.6,-9.5l1.6,-10.9l1.7,7.4l1.6,8.5l1.6,10.4l1.7,5.9l1.6,-2.2l1.7,-2.4l1.6,3.6l1.6,3.4l1.7,-3.2l1.6,9.4l1.7,-11.2l1.6,-8.4l1.6,-7.7l1.7,-8.2l1.6,-8.4l1.7,-16.9l1.6,18.8l1.6,18.0l2.2,20.7l2.2,18.6l1.6,6.4l1.7,3.1l1.6,8.3l1.6,4.8l1.7,-3.0l1.6,-6.7l1.6,-12.0l1.7,-13.0l1.6,-15.8l1.7,-10.5l1.6,-5.8l1.6,-5.6l2.5,1.1l2.5,2.6l2.4,1.5l2.5,5.6l2.4,-3.2l2.5,-9.9l2.5,5.0l2.4,0.7l2.5,4.5l2.4,0.4l2.5,0.8l2.4,-1.9l1.7,2.5l1.6,-5.8l1.7,-2.9l1.6,-1.4l2.5,-15.3l2.4,-9.5l2.5,4.9l2.4,4.8l2.5,0.3l2.4,8.9l2.5,-1.2l2.5,5.0l1.6,-3.2l1.6,-4.0l1.7,-7.7l1.6,-11.9l2.5,1.2l2.4,4.0l2.5,-6.0l2.5,8.6l1.6,12.7l1.6,7.3l2.5,2.3l2.4,3.6l1.7,-4.9l1.6,-2.4l2.5,-2.0l2.4,4.6l2.5,8.9l2.5,10.0l2.4,-4.7l2.5,-2.2l1.6,-10.9l1.6,0.5l2.5,2.4l2.5,8.7l2.4,3.3l2.5,5.9l2.4,-7.2l2.5,-6.6l2.5,6.5l2.4,7.1l2.5,-7.4l2.4,-8.1l2.5,4.1l2.4,6.3l2.5,4.2l2.5,5.2l2.4,-0.6l2.5,13.2l2.4,-1.7l2.5,3.6l2.5,-7.5l2.4,-18.0l2.5,9.6l2.4,4.6l2.5,-2.0l2.4,-3.9l2.5,-0.4l2.5,8.1l1.6,-2.0l1.6,-9.4l2.2,-3.8l2.2,5.4l2.2,-0.9l2.5,-1.7l2.4,-6.2l2.5,7.7l2.4,10.8l2.5,-5.6l2.4,-0.5l2.5,-3.6l2.5,-1.6l2.4,-3.3l2.5,-6.5l2.4,4.3l2.5,4.1l2.5,8.2l2.4,8.6l2.5,-5.2l2.4,-6.9l2.5,-1.1l2.4,0.3l2.5,-6.9l2.5,-1.3l2.4,-0.4l2.5,1.9l2.4,-4.2l2.5,-4.7l2.5,3.8l2.4,0.6l2.5,-0.7l2.4,4.1l0.0,11.6l-2.4,-3.7l-2.5,4.4l-2.4,-3.6l-2.5,-1.1l-2.5,6.8l-2.4,-1.1l-2.5,-2.6l-2.4,0.6l-2.5,5.5l-2.5,5.6l-2.4,1.3l-2.5,2.0l-2.4,5.0l-2.5,4.6l-2.4,-8.4l-2.5,-6.7l-2.5,-1.7l-2.4,-8.6l-2.5,8.2l-2.4,0.7l-2.5,0.5l-2.5,2.8l-2.4,3.5l-2.5,1.7l-2.4,-7.0l-2.5,-5.3l-2.4,7.1l-2.5,0.2l-2.2,-2.2l-2.2,-2.4l-2.2,4.8l-1.6,4.5l-1.6,1.5l-2.5,-1.9l-2.5,-1.4l-2.4,-3.0l-2.5,4.1l-2.4,-1.0l-2.5,-5.9l-2.4,15.9l-2.5,12.4l-2.5,-7.5l-2.4,-4.9l-2.5,-4.4l-2.4,-3.9l-2.5,-5.6l-2.5,-5.0l-2.4,-3.3l-2.5,-11.3l-2.4,11.4l-2.5,3.5l-2.4,-4.9l-2.5,-1.4l-2.5,1.5l-2.4,9.7l-2.5,-6.4l-2.4,2.2l-2.5,-12.7l-2.5,-3.8l-1.6,5.7l-1.6,3.2l-2.5,5.4l-2.4,4.2l-2.5,-9.2l-2.5,-7.8l-2.4,-1.0l-2.5,-9.4l-1.6,6.7l-1.7,10.4l-2.4,-2.9l-2.5,-6.5l-1.6,-8.5l-1.6,-9.4l-2.5,-3.7l-2.5,-2.7l-2.4,-0.8l-2.5,-3.6l-1.6,15.4l-1.7,9.3l-1.6,-0.1l-1.6,7.0l-2.5,-5.9l-2.5,-4.1l-2.4,0.1l-2.5,-6.0l-2.4,-6.2l-2.5,-6.5l-2.4,11.7l-2.5,10.5l-1.6,4.2l-1.7,8.0l-1.6,3.1l-1.7,1.6l-2.4,1.4l-2.5,-5.6l-2.4,-1.5l-2.5,-4.0l-2.4,-0.8l-2.5,-2.1l-2.5,9.0l-2.4,0.8l-2.5,-2.0l-2.4,-2.3l-2.5,-3.0l-2.5,-1.8l-1.6,10.3l-1.6,4.7l-1.7,9.4l-1.6,14.7l-1.7,11.5l-1.6,11.6l-1.6,7.5l-1.7,-0.6l-1.6,-7.4l-1.6,-3.7l-1.7,-2.9l-1.6,-7.0l-2.2,-18.4l-2.2,-26.2l-1.6,-12.9l-1.6,-11.8l-1.7,11.7l-1.6,9.9l-1.7,9.8l-1.6,1.1l-1.6,16.2l-1.7,5.6l-1.6,-5.8l-1.7,-0.4l-1.6,-0.4l-1.6,-1.6l-1.7,-3.0l-1.6,2.5l-1.7,-7.4l-1.6,-6.8l-1.6,-7.4l-1.7,-8.7l-1.6,9.1l-1.6,11.3l-1.7,11.5l-1.6,12.1l-1.7,12.6l-1.6,14.2l-1.6,3.3l-1.7,1.9l-1.6,-18.0l-1.7,5.4l-1.6,-15.3l-1.6,2.9l-1.7,4.7l-1.6,-7.7l-1.6,-5.7l-1.7,-17.6l-1.6,-13.0l-1.7,-14.8l-1.6,-12.0l-1.6,7.5l-1.7,13.8l-1.6,10.0l-1.7,11.5l-1.6,-3.0l-1.6,-3.8l-1.7,-3.0l-1.6,-7.8l-1.7,-10.5l-1.6,-10.8l-2.0,0.4l-2.1,-7.0l-2.0,9.0l-2.1,6.4l-1.6,4.0l-1.7,3.6l-1.6,10.8l-1.6,12.3l-1.7,10.5l-1.6,14.8l-2.5,11.1l-2.0,-5.7l-2.1,-10.3l-1.6,-0.7l-1.7,-4.2l-1.6,5.8l-1.6,8.2l-1.7,-19.5l-1.6,-15.7l-1.6,-24.6l-1.7,-16.3l-1.6,-1.5l-1.7,0.9l-1.6,15.5l-1.6,20.6l-1.7,5.9l-1.6,16.2l-1.7,-4.4l-1.6,-3.1l-1.6,2.9l-1.7,6.5l-1.6,-2.8l-1.7,-3.7l-1.6,4.3l-1.6,7.3l-1.7,-4.3l-1.6,4.2l-1.6,9.5l-1.7,4.9l-1.6,3.8l-1.7,1.3l-1.6,2.0l-1.6,0.0l-1.7,-5.3l-1.6,-8.4l-1.7,-12.0l-1.6,-12.2l-1.6,10.3l-1.7,9.1l-2.0,11.3l-2.1,19.8l-2.4,-18.0l-1.7,-25.0l-1.6,-21.7l-1.6,14.4l-1.7,12.3l-1.6,7.3l-1.7,2.1l-1.6,9.3l-1.6,-2.1l-1.7,-3.4l-1.6,-10.7l-2.5,-13.3l-2.4,-7.1l-1.7,-3.7l-1.6,-5.5l-1.6,-5.4l-1.7,-9.3l-1.6,-10.1l-1.7,-5.4l-1.6,3.2l-1.6,2.7l-1.7,13.2l-1.6,9.1l-1.7,14.6l-1.6,11.1l-1.6,9.2l-1.7,13.9l-2.4,-19.8l-2.5,-14.9l-1.6,-8.8l-1.7,2.0l-2.4,14.8l-2.5,8.5l-2.0,64.7l-2.2,57.6l-2.0,-65.8l-2.0,-63.4l-1.6,-21.2l-1.7,-19.1l-1.6,17.2l-1.6,11.4l-1.7,-2.7l-1.6,-3.0l-1.7,3.2l-1.6,5.4l-1.6,3.0l-1.7,4.6l-1.6,-6.6l-1.6,-5.4l-1.7,-5.4l-1.6,-2.8l-1.7,-7.7l-1.6,0.9z" fill="#f2bcb0" fill-opacity="0.75"/>
<path d="M666.0,2180.5l1.6,1.2l1.7,6.6l1.6,3.9l1.7,3.8l1.6,9.9l1.6,4.1l1.7,-1.5l1.6,-8.3l1.6,-4.0l1.7,-2.5l1.6,3.6l1.7,2.9l1.6,-12.6l1.6,-13.6l1.7,20.4l1.6,18.6l2.0,65.2l2.0,66.2l2.2,-63.2l2.0,-62.3l2.5,-13.4l2.4,-11.8l1.7,1.6l1.6,4.1l2.5,19.6l2.4,17.3l1.7,-10.9l1.6,-15.4l1.6,-9.6l1.7,-11.9l1.6,-7.2l1.7,-12.1l1.6,-6.5l1.6,5.4l1.7,3.2l1.6,3.0l1.7,8.0l1.6,7.5l1.6,7.3l1.7,3.6l2.4,13.3l2.5,4.8l1.6,8.6l1.7,8.9l1.6,-6.1l1.6,0.5l1.7,-3.5l1.6,-10.8l1.7,-12.4l1.6,-13.6l1.6,23.0l1.7,25.8l2.4,16.7l2.1,-12.8l2.0,-25.3l1.7,-4.0l1.6,-13.6l1.6,14.6l1.7,14.9l1.6,3.3l1.7,13.1l1.6,-3.8l1.6,-2.0l1.7,-1.8l1.6,0.7l1.7,-7.8l1.6,-10.3l1.6,-0.8l1.7,-2.0l1.6,-7.7l1.6,-1.7l1.7,0.8l1.6,-0.7l1.7,-2.0l1.6,-3.5l1.6,7.0l1.7,2.8l1.6,-13.7l1.7,-11.0l1.6,-16.7l1.6,-14.4l1.7,4.0l1.6,-5.1l1.7,20.2l1.6,18.7l1.6,19.9l1.7,14.5l1.6,-4.9l1.6,-4.9l1.7,2.3l1.6,2.0l2.1,4.8l2.0,8.9l2.5,-8.8l1.6,-16.3l1.7,-9.3l1.6,-14.3l1.6,-10.8l1.7,-2.0l1.6,0.2l2.1,-7.9l2.0,-11.1l2.1,4.8l2.0,5.6l1.6,5.4l1.7,10.6l1.6,3.9l1.7,6.3l1.6,2.9l1.6,-1.8l1.7,-10.1l1.6,-2.8l1.7,-14.3l1.6,-10.5l1.6,12.1l1.7,17.2l1.6,15.5l1.7,12.6l1.6,10.3l1.6,4.4l1.7,-5.2l1.6,-1.3l1.6,4.4l1.7,8.0l1.6,17.1l1.7,-6.0l1.6,-0.7l1.6,-13.5l1.7,-12.4l1.6,-11.5l1.7,-14.0l1.6,-7.6l1.6,-13.0l1.7,9.8l1.6,5.7l1.6,7.3l1.7,10.0l1.6,0.4l1.7,-7.0l1.6,5.7l1.6,-0.3l1.7,1.3l1.6,6.4l1.7,-12.2l1.6,-9.5l1.6,-3.3l1.7,-11.0l1.6,-6.1l1.7,-13.6l1.6,16.3l1.6,18.3l2.2,14.2l2.2,19.4l1.6,5.5l1.7,8.8l1.6,5.3l1.6,7.3l1.7,-8.8l1.6,1.3l1.6,-12.4l1.7,-15.0l1.6,-9.6l1.7,-16.1l1.6,-5.1l1.6,-10.3l2.5,5.5l2.5,4.6l2.4,-2.4l2.5,6.0l2.4,-6.7l2.5,-2.2l2.5,-0.5l2.4,2.9l2.5,3.9l2.4,0.7l2.5,6.2l2.4,-5.2l1.7,-0.8l1.6,-2.9l1.7,-3.4l1.6,-3.8l2.5,-10.8l2.4,-13.5l2.5,4.1l2.4,5.9l2.5,0.0l2.4,8.4l2.5,2.3l2.5,7.4l1.6,-5.4l1.6,-1.2l1.7,-9.8l1.6,-16.6l2.5,5.7l2.4,-0.7l2.5,4.3l2.5,-3.7l1.6,17.0l1.6,12.3l2.5,0.2l2.4,2.6l1.7,-6.4l1.6,-6.7l2.5,4.5l2.4,1.9l2.5,10.4l2.5,9.4l2.4,-4.2l2.5,-5.2l1.6,-8.6l1.6,-4.9l2.5,8.0l2.5,7.0l2.4,-0.3l2.5,8.2l2.4,-7.1l2.5,-6.0l2.5,6.2l2.4,6.9l2.5,-7.8l2.4,-5.3l2.5,4.4l2.4,6.8l2.5,6.2l2.5,2.8l2.4,5.3l2.5,5.1l2.4,0.7l2.5,4.8l2.5,-14.6l2.4,-8.4l2.5,7.2l2.4,-1.7l2.5,-2.3l2.4,1.2l2.5,4.7l2.5,0.7l1.6,-7.4l1.6,1.6l2.2,-2.1l2.2,-3.9l2.2,2.1l2.5,-0.9l2.4,-3.0l2.5,3.5l2.4,6.6l2.5,-2.5l2.4,-1.9l2.5,1.4l2.5,-3.7l2.4,-5.4l2.5,-4.0l2.4,6.1l2.5,4.5l2.5,1.3l2.4,11.0l2.5,-6.0l2.4,-5.2l2.5,0.4l2.4,3.3l2.5,-11.1l2.5,-7.5l2.4,4.4l2.5,1.6l2.4,-1.1l2.5,-5.1l2.5,0.9l2.4,3.7l2.5,-0.1l2.4,-1.1" stroke="#ee2a24" stroke-width="2.3" fill="none" stroke-linejoin="round"/>
<path d="M666.0,2196.9l1.6,0.5l1.7,0.2l1.6,2.3l1.7,-3.2l2.4,-13.0l2.5,-14.6l1.6,18.0l1.6,16.4l1.7,-7.4l1.6,0.2l1.7,-19.0l1.6,3.8l1.6,1.3l1.7,23.2l1.6,27.6l2.0,75.7l2.0,65.8l2.6,-107.5l1.6,-26.9l1.7,-38.6l2.4,-17.0l2.5,-22.2l1.6,6.3l1.6,7.7l2.5,21.1l2.5,22.3l1.6,-8.8l1.6,-9.3l1.7,-8.5l1.6,-4.9l1.7,-7.6l1.6,-1.3l1.6,-1.3l1.7,-0.5l1.6,0.7l1.7,2.2l1.6,-3.5l1.6,-9.7l1.7,11.1l1.6,4.9l1.6,4.3l1.7,1.6l2.4,6.5l2.5,4.4l1.6,-5.8l1.7,-8.1l2.4,-32.0l2.5,32.1l1.6,30.9l1.7,16.5l1.9,20.5l3.0,-25.7l1.6,-8.2l1.7,-7.2l2.0,-11.3l2.1,-11.5l2.0,8.0l2.1,-4.1l2.4,5.7l2.5,0.3l2.4,5.4l2.5,10.9l1.6,-11.7l1.7,-4.2l1.6,0.5l1.6,-3.9l1.7,-7.9l1.6,-12.7l1.7,0.7l1.6,-2.3l1.6,4.7l1.7,4.0l1.6,-10.3l1.7,-12.7l1.6,-14.1l1.6,-10.4l1.7,13.8l1.6,9.8l1.7,23.7l1.6,19.1l1.6,0.2l1.7,-5.7l1.6,-1.2l1.6,-16.4l1.7,-7.1l1.6,-8.3l1.7,4.9l1.6,3.7l1.6,-1.2l1.7,-3.0l1.6,14.5l1.7,16.0l1.6,2.2l1.6,-0.6l1.7,12.8l1.6,-0.2l1.7,-14.4l1.6,-6.7l1.6,-10.0l1.7,-1.7l1.6,9.7l1.6,6.7l1.7,-6.1l1.6,-7.0l1.7,1.1l1.6,5.5l2.5,-24.1l2.4,-21.8l1.7,10.7l1.6,17.2l1.6,9.8l1.7,14.9l1.6,6.0l1.7,0.3l2.4,-17.6l2.5,-8.5l1.6,7.1l1.6,9.5l1.7,6.0l1.6,0.3l1.7,-7.9l1.6,-1.9l1.6,6.1l1.7,10.3l1.6,-5.0l1.7,-11.0l1.6,-3.2l1.6,-3.8l1.7,1.6l1.6,6.2l1.6,0.9l1.7,11.0l1.6,-2.8l1.7,-1.4l1.6,-15.5l1.6,-1.8l1.7,3.6l1.6,-1.8l1.9,-7.1l1.9,-12.9l2.0,-6.2l2.0,21.4l2.1,27.8l2.4,-3.3l2.5,-4.6l2.7,-8.5l1.6,7.9l1.7,1.9l1.6,-4.2l1.6,-8.9l1.7,3.8l1.6,5.9l1.6,5.1l1.7,1.6l1.6,-7.7l1.7,-12.0l1.6,11.3l1.6,8.4l1.7,-2.4l1.6,-1.4l1.7,-9.2l1.6,3.5l1.6,-5.6l1.7,-0.4l1.6,-3.6l1.7,-3.9l1.6,10.5l1.6,2.7l1.7,-2.5l1.6,-4.1l1.6,4.8l1.7,2.8l1.6,6.7l1.7,2.1l1.6,-6.7l1.6,-9.7l1.7,8.4l1.6,1.4l1.7,-4.4l1.6,-12.1l1.6,-13.5l1.7,-9.3l1.6,6.0l1.7,3.8l1.6,-9.0l1.6,-7.1l1.7,8.8l1.6,-2.2l1.6,-11.9l1.7,-14.6l1.6,13.0l1.7,9.9l1.6,-1.1l1.6,-8.7l1.7,6.3l1.6,3.5l1.7,-4.3l1.6,-2.2l1.6,5.9l1.7,1.2l1.6,4.0l1.7,1.5l1.6,14.6l1.6,16.8l1.7,-3.5l1.6,-2.1l1.6,2.8l1.7,6.8l1.6,-3.1l1.7,4.3l1.6,1.4l1.6,4.2l1.7,5.1l1.6,2.3l1.7,-8.5l1.6,-1.3l1.6,-0.6l1.7,7.2l1.6,-1.6l1.6,-5.0l1.7,7.0l1.6,2.8l1.7,-5.4l1.6,-1.1l1.6,3.6l1.7,6.2l1.6,-6.8l1.7,-3.0l1.6,11.9l1.6,11.0l1.7,-10.6l1.6,-9.0l1.7,3.0l1.6,8.3l1.6,9.3l1.7,2.3l1.6,-7.7l1.6,-14.4l1.7,1.5l1.6,-8.9l2.5,7.6l2.4,5.5l2.5,-15.7l2.5,-7.2l2.4,14.0l2.5,12.2l2.4,-8.2l2.5,-5.7l2.4,2.6l2.5,-2.2l2.5,-1.4l2.4,-3.9l2.1,-13.3l2.0,-10.5l2.1,17.5l2.0,12.9l1.7,8.3l1.6,7.2l2.5,-5.6l2.4,-10.8l2.5,8.2l2.4,-0.4l2.5,8.3l2.4,0.3l2.5,-9.1l2.5,-10.6l2.4,-0.8l2.5,10.6l2.4,-12.0l2.5,-7.0l2.5,-6.1l2.4,-4.4l2.5,9.8l2.4,9.5l2.5,4.8l2.4,-9.0l2.5,2.9l2.5,2.9l2.4,0.8l2.5,7.8l1.6,-13.6l1.7,-6.9l2.4,1.1l2.5,-2.1l2.2,-0.9l2.1,5.0l2.2,-2.2" stroke="#2250a8" stroke-width="2.3" fill="none" stroke-linejoin="round"/>
</g>
<path d="M767.6,2263.8V2271.0H788.6V2263.8" stroke="#ee2a24" stroke-width="2" fill="none"/>
<path d="M813.0,2254.5V2261.7H834.0V2254.5" stroke="#ee2a24" stroke-width="2" fill="none"/>
<path d="M868.7,2267.6V2274.8H889.2V2267.6" stroke="#ee2a24" stroke-width="2" fill="none"/>
<path d="M923.3,2266.8V2274.0H944.4V2266.8" stroke="#ee2a24" stroke-width="2" fill="none"/>
<rect x="666.5" y="2056.4" width="520.3" height="410.7" fill="none" stroke="#4a4a4a" stroke-width="1.4"/>
<path d="M681.4,2056.4v5.5M681.4,2467.1v-5.5M755.7,2056.4v5.5M755.7,2467.1v-5.5M830.0,2056.4v5.5M830.0,2467.1v-5.5M904.4,2056.4v5.5M904.4,2467.1v-5.5M978.7,2056.4v5.5M978.7,2467.1v-5.5M1053.0,2056.4v5.5M1053.0,2467.1v-5.5M1127.3,2056.4v5.5M1127.3,2467.1v-5.5M666.5,2467.1h5.5M1186.8,2467.1h-5.5M666.5,2421.5h5.5M1186.8,2421.5h-5.5M666.5,2375.8h5.5M1186.8,2375.8h-5.5M666.5,2330.2h5.5M1186.8,2330.2h-5.5M666.5,2284.6h5.5M1186.8,2284.6h-5.5M666.5,2238.9h5.5M1186.8,2238.9h-5.5M666.5,2193.3h5.5M1186.8,2193.3h-5.5M666.5,2147.7h5.5M1186.8,2147.7h-5.5M666.5,2102.0h5.5M1186.8,2102.0h-5.5M666.5,2056.4h5.5M1186.8,2056.4h-5.5" stroke="#4a4a4a" stroke-width="1.4" fill="none"/>
<text x="681.1" y="2484.7" font-size="17" text-anchor="middle" font-weight="normal" fill="#333">0</text>
<text x="753.5" y="2484.7" font-size="17" text-anchor="middle" font-weight="normal" fill="#333">0.5</text>
<text x="829.7" y="2484.7" font-size="17" text-anchor="middle" font-weight="normal" fill="#333">1</text>
<text x="902.2" y="2484.7" font-size="17" text-anchor="middle" font-weight="normal" fill="#333">1.5</text>
<text x="978.4" y="2484.7" font-size="17" text-anchor="middle" font-weight="normal" fill="#333">2</text>
<text x="1050.8" y="2484.7" font-size="17" text-anchor="middle" font-weight="normal" fill="#333">2.5</text>
<text x="1127.0" y="2484.7" font-size="17" text-anchor="middle" font-weight="normal" fill="#333">3</text>
<text x="658.9" y="2470.7" font-size="17" text-anchor="end" font-weight="normal" fill="#333">-60</text>
<text x="658.9" y="2425.1" font-size="17" text-anchor="end" font-weight="normal" fill="#333">-50</text>
<text x="658.9" y="2379.4" font-size="17" text-anchor="end" font-weight="normal" fill="#333">-40</text>
<text x="658.9" y="2333.8" font-size="17" text-anchor="end" font-weight="normal" fill="#333">-30</text>
<text x="658.9" y="2288.2" font-size="17" text-anchor="end" font-weight="normal" fill="#333">-20</text>
<text x="658.9" y="2242.5" font-size="17" text-anchor="end" font-weight="normal" fill="#333">-10</text>
<text x="658.9" y="2196.9" font-size="17" text-anchor="end" font-weight="normal" fill="#333">0</text>
<text x="658.9" y="2151.3" font-size="17" text-anchor="end" font-weight="normal" fill="#333">10</text>
<text x="658.9" y="2105.6" font-size="17" text-anchor="end" font-weight="normal" fill="#333">20</text>
<text x="658.9" y="2060.0" font-size="17" text-anchor="end" font-weight="normal" fill="#333">30</text>
<text class="th" x="918.8" y="2508.5" font-size="18.8" text-anchor="middle" font-weight="normal" fill="#231f20" textLength="67.6" lengthAdjust="spacingAndGlyphs">Time (s)</text>
<text class="th" x="0" y="0" font-size="19.5" text-anchor="middle" fill="#231f20" textLength="168.4" lengthAdjust="spacingAndGlyphs" transform="translate(622.4,2281.1) rotate(-90)">Neural activity index</text>
<rect x="1083.0" y="2070.9" width="89.6" height="54.3" fill="#fff" stroke="#6a6a6a" stroke-width="1.3"/>
<rect x="1090.4" y="2080.5" width="20.4" height="12.4" fill="#f3c7bd"/>
<rect x="1090.4" y="2085.9" width="20.4" height="1.8" fill="#ec1c24"/>
<rect x="1090.4" y="2103.3" width="20.4" height="12.6" fill="#a9dcea"/>
<rect x="1090.4" y="2108.5" width="20.4" height="1.8" fill="#2a48a0"/>
<text x="1121.4" y="2090.2" font-size="16.6" text-anchor="start" font-weight="normal" fill="#231f20" textLength="43.4" lengthAdjust="spacingAndGlyphs">Young</text>
<text x="1121.4" y="2113.2" font-size="16.6" text-anchor="start" font-weight="normal" fill="#231f20" textLength="37.5" lengthAdjust="spacingAndGlyphs">Older</text>
<rect x="1016.9" y="2342.3" width="155.1" height="110.5" fill="#fff" stroke="#6a6a6a" stroke-width="1.2"/>
<g transform="translate(1016.9,2342.3)"><use href="#brainbase"/><path d="M129.3,39.0C129.3,40.2 129.9,41.6 130.8,42.5C131.7,43.5 133.3,44.3 134.8,44.7C136.3,45.1 138.3,45.1 139.8,44.7C141.3,44.3 142.9,43.5 143.8,42.5C144.7,41.6 145.3,40.2 145.3,39.0C145.3,37.8 144.7,36.4 143.8,35.5C142.9,34.5 141.3,33.7 139.8,33.3C138.3,32.9 136.3,32.9 134.8,33.3C133.3,33.7 131.7,34.5 130.8,35.5C129.9,36.4 129.3,37.8 129.3,39.0Z" fill="#f0262a" fill-opacity="0.93"/><path d="M122.3,44.0C122.3,44.8 122.7,45.9 123.3,46.5C123.9,47.1 125.0,47.5 125.8,47.5C126.6,47.5 127.7,47.1 128.3,46.5C128.9,45.9 129.3,44.8 129.3,44.0C129.3,43.2 128.9,42.1 128.3,41.5C127.7,40.9 126.6,40.5 125.8,40.5C125.0,40.5 123.9,40.9 123.3,41.5C122.7,42.1 122.3,43.2 122.3,44.0Z" fill="#f0262a" fill-opacity="0.93"/><path d="M127.3,48.5C126.2,47.8 122.9,48.2 120.8,48.0C118.7,47.8 116.8,47.8 114.8,47.5C112.8,47.2 109.6,46.1 108.8,46.5C108.0,46.9 108.5,48.9 109.8,50.0C111.1,51.1 114.5,52.2 116.8,53.0C119.1,53.8 122.1,54.6 123.8,54.5C125.6,54.4 126.7,53.5 127.3,52.5C127.9,51.5 128.4,49.2 127.3,48.5Z" fill="#f0262a" fill-opacity="0.93"/><path d="M99.3,37.0C99.3,38.2 99.7,39.7 100.2,40.5C100.7,41.4 101.6,42.0 102.3,42.0C103.0,42.0 103.9,41.4 104.4,40.5C104.9,39.7 105.3,38.2 105.3,37.0C105.3,35.8 104.9,34.3 104.4,33.5C103.9,32.6 103.0,32.0 102.3,32.0C101.6,32.0 100.7,32.6 100.2,33.5C99.7,34.3 99.3,35.8 99.3,37.0Z" fill="#f0262a" fill-opacity="0.93"/><path d="M127.3,34.5C127.3,35.0 127.8,35.8 128.3,36.1C128.8,36.3 129.8,36.3 130.3,36.1C130.8,35.8 131.3,35.0 131.3,34.5C131.3,34.0 130.8,33.2 130.3,32.9C129.8,32.7 128.8,32.7 128.3,32.9C127.8,33.2 127.3,34.0 127.3,34.5Z" fill="#f0262a" fill-opacity="0.93"/><path d="M119.1,8.7C119.1,9.0 119.5,9.6 119.9,9.7C120.2,9.9 121.0,9.9 121.4,9.7C121.7,9.6 122.1,9.0 122.1,8.7C122.1,8.4 121.7,7.8 121.4,7.7C121.0,7.5 120.2,7.5 119.9,7.7C119.5,7.8 119.1,8.4 119.1,8.7Z" fill="#f0262a" fill-opacity="0.93"/><path d="M133.6,25.1C133.6,25.4 134.0,26.0 134.4,26.1C134.7,26.3 135.5,26.3 135.9,26.1C136.2,26.0 136.6,25.4 136.6,25.1C136.6,24.8 136.2,24.2 135.9,24.1C135.5,23.9 134.7,23.9 134.4,24.1C134.0,24.2 133.6,24.8 133.6,25.1Z" fill="#f0262a" fill-opacity="0.93"/><path d="M139.1,28.9C139.1,29.3 139.6,29.9 140.0,30.1C140.4,30.3 141.4,30.3 141.8,30.1C142.2,29.9 142.7,29.3 142.7,28.9C142.7,28.5 142.2,27.9 141.8,27.7C141.4,27.5 140.4,27.5 140.0,27.7C139.6,27.9 139.1,28.5 139.1,28.9Z" fill="#f0262a" fill-opacity="0.93"/><path d="M34.3,83.8C34.3,84.3 33.8,85.0 33.3,85.3C32.8,85.5 31.8,85.5 31.3,85.3C30.8,85.0 30.3,84.3 30.3,83.8C30.3,83.3 30.8,82.6 31.3,82.3C31.8,82.1 32.8,82.1 33.3,82.3C33.8,82.6 34.3,83.3 34.3,83.8Z" fill="#f0262a" fill-opacity="0.93"/><path d="M54.5,94.0C54.8,93.0 56.0,90.6 57.0,89.5C58.0,88.4 59.8,87.5 60.5,87.5C61.2,87.5 61.9,88.6 61.5,89.5C61.1,90.4 59.0,92.0 58.0,93.0C57.0,94.0 56.1,95.3 55.5,95.5C54.9,95.7 54.2,95.0 54.5,94.0Z" fill="#f0262a" fill-opacity="0.93"/><path d="M119.3,67.5C118.1,66.9 113.9,66.8 111.8,66.5C109.7,66.2 108.2,65.4 106.8,65.5C105.4,65.6 103.7,65.9 103.3,67.0C102.9,68.1 102.7,71.1 104.3,72.0C105.9,72.9 110.3,72.8 112.8,72.5C115.3,72.2 118.2,70.8 119.3,70.0C120.4,69.2 120.6,68.1 119.3,67.5Z" fill="#f0262a" fill-opacity="0.93"/><path d="M102.3,94.0C102.1,93.0 100.8,90.6 99.8,89.5C98.8,88.4 97.1,87.5 96.3,87.5C95.6,87.5 94.9,88.6 95.3,89.5C95.7,90.4 97.8,92.0 98.8,93.0C99.8,94.0 100.7,95.3 101.3,95.5C101.9,95.7 102.6,95.0 102.3,94.0Z" fill="#f0262a" fill-opacity="0.93"/><path d="M138.3,83.5C138.3,81.2 133.2,82.3 130.8,82.5C128.4,82.7 124.8,83.4 123.8,84.5C122.8,85.6 124.3,87.4 124.8,89.0C125.3,90.6 125.8,92.8 126.8,94.0C127.8,95.2 128.9,97.8 130.8,96.0C132.7,94.2 138.3,85.8 138.3,83.5Z" fill="#f0262a" fill-opacity="0.93"/><path d="M130.3,95.0C129.3,94.9 126.4,95.8 123.8,96.5C121.2,97.2 117.6,98.2 114.8,99.0C112.0,99.8 109.1,101.0 106.8,101.5C104.6,102.0 102.2,101.3 101.3,102.0C100.4,102.7 100.4,104.8 101.3,105.5C102.2,106.2 104.6,106.5 106.8,106.0C109.1,105.5 112.0,103.6 114.8,102.5C117.6,101.4 121.3,100.4 123.8,99.5C126.3,98.6 128.7,97.8 129.8,97.0C130.9,96.2 131.3,95.1 130.3,95.0Z" fill="#f0262a" fill-opacity="0.93"/></g>
<g fill="#231f20" transform="translate(673.0,2547.6)"><ellipse cx="4.9" cy="-3.0" rx="5.1" ry="2.85" transform="rotate(-21 4.9 -3.0)"/><rect x="8.7" y="-23.4" width="1.45" height="20.5"/><path d="M8.7,-23.6 C10.0,-20.8 13.6,-18.9 15.6,-15.7 C16.9,-13.5 16.5,-10.7 15.0,-8.6 C15.4,-10.8 15.0,-12.6 13.6,-14.2 C12.4,-15.5 11.0,-16.0 10.1,-17.0 L10.1,-23.6 Z"/></g>
<g fill="#e5222a" transform="translate(730.2,2547.6)"><ellipse cx="4.9" cy="-3.0" rx="5.1" ry="2.85" transform="rotate(-21 4.9 -3.0)"/><rect x="8.7" y="-23.4" width="1.45" height="20.5"/><path d="M8.7,-23.6 C10.0,-20.8 13.6,-18.9 15.6,-15.7 C16.9,-13.5 16.5,-10.7 15.0,-8.6 C15.4,-10.8 15.0,-12.6 13.6,-14.2 C12.4,-15.5 11.0,-16.0 10.1,-17.0 L10.1,-23.6 Z"/></g>
<g fill="#e5222a" transform="translate(781.7,2547.6)"><ellipse cx="4.9" cy="-3.0" rx="5.1" ry="2.85" transform="rotate(-21 4.9 -3.0)"/><rect x="8.7" y="-23.4" width="1.45" height="20.5"/><path d="M8.7,-23.6 C10.0,-20.8 13.6,-18.9 15.6,-15.7 C16.9,-13.5 16.5,-10.7 15.0,-8.6 C15.4,-10.8 15.0,-12.6 13.6,-14.2 C12.4,-15.5 11.0,-16.0 10.1,-17.0 L10.1,-23.6 Z"/></g>
<g fill="#e5222a" transform="translate(836.5,2547.6)"><ellipse cx="4.9" cy="-3.0" rx="5.1" ry="2.85" transform="rotate(-21 4.9 -3.0)"/><rect x="8.7" y="-23.4" width="1.45" height="20.5"/><path d="M8.7,-23.6 C10.0,-20.8 13.6,-18.9 15.6,-15.7 C16.9,-13.5 16.5,-10.7 15.0,-8.6 C15.4,-10.8 15.0,-12.6 13.6,-14.2 C12.4,-15.5 11.0,-16.0 10.1,-17.0 L10.1,-23.6 Z"/></g>
<g fill="#e5222a" transform="translate(889.7,2547.6)"><ellipse cx="4.9" cy="-3.0" rx="5.1" ry="2.85" transform="rotate(-21 4.9 -3.0)"/><rect x="8.7" y="-23.4" width="1.45" height="20.5"/><path d="M8.7,-23.6 C10.0,-20.8 13.6,-18.9 15.6,-15.7 C16.9,-13.5 16.5,-10.7 15.0,-8.6 C15.4,-10.8 15.0,-12.6 13.6,-14.2 C12.4,-15.5 11.0,-16.0 10.1,-17.0 L10.1,-23.6 Z"/></g>
<text class="th" x="1520.7" y="2033.4" font-size="27.5" text-anchor="middle" font-weight="normal" fill="#231f20" textLength="106.3" lengthAdjust="spacingAndGlyphs">Novel T3</text>
<clipPath id="clip32"><rect x="1272.6" y="2056.4" width="520.3" height="410.7"/></clipPath>
<rect x="1344.9" y="2056.4" width="3.3" height="410.7" fill="#dcdcde"/>
<rect x="1349.8" y="2056.4" width="10.4" height="410.7" fill="#dcdcde"/>
<rect x="1387.5" y="2056.4" width="3.8" height="410.7" fill="#dcdcde"/>
<rect x="1410.2" y="2056.4" width="3.1" height="410.7" fill="#dcdcde"/>
<rect x="1484.6" y="2056.4" width="11.1" height="410.7" fill="#dcdcde"/>
<rect x="1497.3" y="2056.4" width="3.3" height="410.7" fill="#dcdcde"/>
<rect x="1526.0" y="2056.4" width="4.6" height="410.7" fill="#dcdcde"/>
<rect x="1539.5" y="2056.4" width="4.3" height="410.7" fill="#dcdcde"/>
<rect x="1667.8" y="2056.4" width="3.3" height="410.7" fill="#dcdcde"/>
<path d="M1287.5,2056.4V2467.1M1302.3,2056.4V2467.1M1317.2,2056.4V2467.1M1332.1,2056.4V2467.1M1346.9,2056.4V2467.1M1361.8,2056.4V2467.1M1376.7,2056.4V2467.1M1391.5,2056.4V2467.1M1406.4,2056.4V2467.1M1421.3,2056.4V2467.1M1436.1,2056.4V2467.1M1451.0,2056.4V2467.1M1465.9,2056.4V2467.1M1480.7,2056.4V2467.1M1495.6,2056.4V2467.1M1510.5,2056.4V2467.1M1525.3,2056.4V2467.1M1540.2,2056.4V2467.1M1555.0,2056.4V2467.1M1569.9,2056.4V2467.1M1584.8,2056.4V2467.1M1599.6,2056.4V2467.1M1614.5,2056.4V2467.1M1629.4,2056.4V2467.1M1644.2,2056.4V2467.1M1659.1,2056.4V2467.1M1674.0,2056.4V2467.1M1688.8,2056.4V2467.1M1703.7,2056.4V2467.1M1718.6,2056.4V2467.1M1733.4,2056.4V2467.1M1748.3,2056.4V2467.1M1763.2,2056.4V2467.1M1778.0,2056.4V2467.1M1272.6,2458.0H1792.9M1272.6,2448.8H1792.9M1272.6,2439.7H1792.9M1272.6,2430.6H1792.9M1272.6,2421.5H1792.9M1272.6,2412.3H1792.9M1272.6,2403.2H1792.9M1272.6,2394.1H1792.9M1272.6,2385.0H1792.9M1272.6,2375.8H1792.9M1272.6,2366.7H1792.9M1272.6,2357.6H1792.9M1272.6,2348.5H1792.9M1272.6,2339.3H1792.9M1272.6,2330.2H1792.9M1272.6,2321.1H1792.9M1272.6,2311.9H1792.9M1272.6,2302.8H1792.9M1272.6,2293.7H1792.9M1272.6,2284.6H1792.9M1272.6,2275.4H1792.9M1272.6,2266.3H1792.9M1272.6,2257.2H1792.9M1272.6,2248.1H1792.9M1272.6,2238.9H1792.9M1272.6,2229.8H1792.9M1272.6,2220.7H1792.9M1272.6,2211.6H1792.9M1272.6,2202.4H1792.9M1272.6,2193.3H1792.9M1272.6,2184.2H1792.9M1272.6,2175.0H1792.9M1272.6,2165.9H1792.9M1272.6,2156.8H1792.9M1272.6,2147.7H1792.9M1272.6,2138.5H1792.9M1272.6,2129.4H1792.9M1272.6,2120.3H1792.9M1272.6,2111.2H1792.9M1272.6,2102.0H1792.9M1272.6,2092.9H1792.9M1272.6,2083.8H1792.9M1272.6,2074.7H1792.9M1272.6,2065.5H1792.9" stroke="#c6c6c6" stroke-width="1" stroke-dasharray="1.3 1.7" fill="none"/>
<g clip-path="url(#clip32)">
<path d="M1272.0,2190.4l1.6,-3.7l1.7,2.6l1.6,1.9l1.7,1.3l1.6,-5.5l1.6,-1.0l2.5,-2.2l2.4,4.1l1.7,-2.8l1.6,0.8l2.1,-16.2l2.0,-20.5l2.5,47.5l2.4,80.8l2.8,79.3l2.6,-80.2l2.8,-79.5l2.5,-31.5l2.9,-18.7l2.8,32.5l1.7,11.4l1.6,12.5l2.5,-12.1l2.4,-24.4l2.5,11.3l2.4,-19.4l1.7,10.1l1.6,5.2l2.1,-4.2l2.0,-5.1l1.7,1.7l1.6,-4.6l1.6,-1.4l1.7,0.6l1.6,2.9l1.6,10.7l2.1,-1.9l2.0,4.0l2.1,-6.8l2.0,-7.9l1.7,-7.8l1.6,-13.9l1.7,6.4l1.6,-4.6l2.5,51.4l2.4,54.0l1.7,-16.7l1.6,-17.9l1.6,-16.3l1.7,-0.6l1.6,3.4l1.6,-22.5l1.7,-21.0l1.6,1.3l1.7,5.1l1.6,-1.7l1.6,-3.0l1.7,3.3l1.6,3.1l1.7,0.7l1.6,-0.7l2.0,-10.7l2.1,-7.6l1.6,8.0l1.7,6.7l2.0,-4.4l2.1,-4.3l1.6,8.2l1.6,2.8l1.7,-3.3l1.6,-0.6l2.1,-22.3l2.0,-18.2l1.7,20.8l1.6,26.0l2.5,31.5l1.6,0.3l1.6,7.6l1.7,1.7l1.6,9.1l1.6,-12.2l1.7,-8.2l1.6,-6.1l1.7,-5.4l1.6,-1.6l1.6,-2.5l1.7,0.1l1.6,-7.2l1.7,3.8l1.6,8.8l1.6,-11.9l1.7,-4.1l2.0,-9.8l2.1,-1.8l1.6,3.6l1.6,0.7l1.7,1.5l1.6,-9.5l2.1,16.1l2.0,7.9l1.7,0.2l1.6,-6.0l2.5,-24.5l2.4,-23.4l1.7,23.1l1.6,22.0l2.5,35.1l1.6,5.5l1.6,11.7l1.7,-11.1l1.6,-14.1l2.5,-13.8l1.6,9.1l1.6,14.5l1.7,11.1l1.6,14.1l2.5,11.4l2.4,-15.2l1.7,-3.8l1.6,-6.1l2.1,-17.4l2.0,-10.2l2.5,10.7l1.6,-5.2l1.6,-5.5l1.7,4.0l1.6,9.3l1.7,-14.0l1.6,-6.8l2.5,-11.1l2.4,-8.9l1.7,-11.0l1.6,-8.3l1.6,-6.0l1.7,-14.7l1.6,14.3l1.7,10.3l1.6,5.8l1.6,13.4l1.7,-0.5l1.6,-6.7l1.7,-2.0l1.7,-5.4l1.6,-3.9l1.6,-0.5l1.7,2.8l1.6,-6.3l1.6,8.7l1.7,6.5l1.6,-2.8l1.7,-7.4l1.6,-1.7l1.6,-2.9l1.7,-5.5l1.6,-1.2l1.7,7.6l1.6,5.4l1.6,2.6l1.7,-1.8l1.6,1.1l1.7,-5.5l1.6,-1.2l1.6,-1.9l1.7,1.1l1.6,-7.1l1.6,8.5l1.7,5.2l1.6,-7.9l1.7,-5.2l1.6,5.6l1.6,13.3l1.7,3.2l1.6,-1.3l1.7,-2.8l1.6,-10.2l1.6,-2.5l1.7,-9.3l1.6,-7.7l1.7,-10.5l1.6,10.9l1.6,9.7l1.7,-0.5l1.6,4.1l1.6,2.5l1.7,4.8l1.6,-10.3l1.7,-1.0l1.6,7.7l1.6,5.1l1.7,1.4l1.6,1.7l1.7,4.7l1.6,-6.8l1.6,12.5l1.7,12.0l1.6,-5.9l1.7,-6.0l1.6,9.0l1.6,3.9l1.7,0.6l1.6,-3.9l1.6,4.7l1.7,2.2l1.6,0.2l1.7,5.7l1.6,4.3l1.6,1.4l1.7,3.6l1.6,7.0l1.7,3.4l1.6,-2.2l1.6,1.7l1.7,4.5l1.6,-1.2l1.6,7.5l1.7,0.0l1.6,0.3l1.7,-2.0l1.6,1.5l1.6,0.7l1.7,2.4l1.6,-4.2l1.7,-3.0l1.6,20.8l1.6,-15.3l1.7,-16.6l1.6,2.7l1.7,6.6l1.6,-0.4l1.6,-5.6l2.5,11.7l2.4,7.0l1.7,-11.9l1.6,-1.1l2.5,-4.6l2.4,-0.8l2.5,-0.9l2.5,-1.5l2.4,2.1l2.5,1.2l2.4,0.7l2.5,-4.0l2.4,4.7l2.5,-3.5l2.5,0.3l2.4,-1.0l2.5,-1.0l2.4,7.6l2.5,-5.8l2.5,-0.8l1.6,2.8l1.6,7.3l1.7,-18.6l1.6,-29.3l1.7,21.7l1.6,14.6l1.6,-12.9l1.7,-4.5l1.6,4.7l1.6,8.3l1.7,-4.2l1.6,-7.0l1.7,2.2l1.6,6.9l2.5,1.7l2.4,-2.5l2.5,4.8l2.4,4.7l2.5,-7.4l2.4,0.9l2.5,-2.2l2.5,-2.0l2.4,4.2l2.5,-10.3l2.4,8.7l2.5,4.8l1.6,0.1l1.7,-5.9l2.4,-5.0l2.5,-8.0l2.5,3.9l2.4,2.4l2.2,3.4l2.2,-4.7l2.2,1.8l0.0,20.8l-2.2,-7.7l-2.2,2.3l-2.2,-1.2l-2.4,-0.6l-2.5,-2.6l-2.5,6.0l-2.4,2.9l-1.7,11.0l-1.6,-3.3l-2.5,-5.5l-2.4,-6.0l-2.5,1.3l-2.4,1.5l-2.5,2.1l-2.5,-3.7l-2.4,9.6l-2.5,-3.3l-2.4,-0.4l-2.5,-3.7l-2.4,0.8l-2.5,2.3l-1.6,-2.1l-1.7,-9.9l-1.6,2.5l-1.7,4.9l-1.6,1.1l-1.6,-11.5l-1.7,9.4l-1.6,11.1l-1.6,-18.9l-1.7,-10.3l-1.6,22.9l-1.7,15.8l-1.6,-6.8l-1.6,0.3l-2.5,-2.4l-2.5,5.6l-2.4,-0.1l-2.5,-6.6l-2.4,2.9l-2.5,2.1l-2.5,-1.4l-2.4,0.0l-2.5,1.1l-2.4,4.7l-2.5,-6.3l-2.4,-3.6l-2.5,1.4l-2.5,5.2l-2.4,2.2l-2.5,-4.4l-1.6,10.9l-1.7,10.2l-2.4,-5.9l-2.5,-11.0l-1.6,-2.8l-1.6,3.0l-1.7,-1.9l-1.6,-3.5l-1.7,12.3l-1.6,12.2l-1.6,-17.8l-1.7,4.8l-1.6,4.6l-1.7,0.8l-1.6,-5.1l-1.6,4.5l-1.7,-4.0l-1.6,5.9l-1.7,-10.2l-1.6,0.1l-1.6,-1.9l-1.7,-4.3l-1.6,-3.2l-1.6,3.2l-1.7,-3.6l-1.6,-4.5l-1.7,-9.8l-1.6,0.7l-1.6,-2.3l-1.7,-3.7l-1.6,-5.3l-1.7,-0.2l-1.6,2.5l-1.6,-0.2l-1.7,-3.2l-1.6,-5.8l-1.6,-0.5l-1.7,-1.6l-1.6,9.1l-1.7,-16.3l-1.6,-7.3l-1.6,0.3l-1.7,1.5l-1.6,-3.6l-1.7,-1.5l-1.6,-4.7l-1.6,-7.4l-1.7,6.8l-1.6,1.1l-1.7,-1.1l-1.6,-5.7l-1.6,0.7l-1.7,-1.3l-1.6,-11.7l-1.6,-7.6l-1.7,10.7l-1.6,5.8l-1.7,4.0l-1.6,8.5l-1.6,5.0l-1.7,6.4l-1.6,0.9l-1.7,-6.4l-1.6,-5.8l-1.6,-9.1l-1.7,7.1l-1.6,4.6l-1.7,-6.2l-1.6,-4.5l-1.6,1.6l-1.7,3.2l-1.6,1.5l-1.6,0.5l-1.7,-0.5l-1.6,1.5l-1.7,1.7l-1.6,3.2l-1.6,-3.1l-1.7,-12.9l-1.6,7.7l-1.7,-1.5l-1.6,4.5l-1.6,7.5l-1.7,2.6l-1.6,-1.3l-1.7,-4.5l-1.6,-3.0l-1.6,-2.8l-1.7,-0.3l-1.6,2.2l-1.6,6.8l-1.7,7.1l-1.7,-5.8l-1.6,7.6l-1.7,9.3l-1.6,-18.8l-1.6,-9.3l-1.7,-8.4l-1.6,-13.0l-1.7,14.5l-1.6,9.4l-1.6,8.2l-1.7,8.2l-2.4,11.0l-2.5,5.9l-1.6,10.8l-1.7,8.9l-1.6,-7.7l-1.7,1.8l-1.6,1.0l-1.6,6.8l-2.5,-13.2l-2.0,12.8l-2.1,13.3l-1.6,9.4l-1.7,11.6l-2.4,9.3l-2.5,-14.2l-1.6,-16.2l-1.7,-8.4l-1.6,-13.3l-1.6,-11.9l-2.5,15.1l-1.6,14.9l-1.7,6.8l-1.6,-3.9l-1.6,-7.2l-2.5,-31.7l-1.6,-26.4l-1.7,-26.7l-2.4,30.6l-2.5,24.2l-1.6,-1.0l-1.7,2.9l-2.0,-11.2l-2.1,-9.3l-1.6,6.2l-1.7,5.8l-1.6,-9.6l-1.6,-1.1l-2.1,0.9l-2.0,5.0l-1.7,8.6l-1.6,9.6l-1.6,-3.8l-1.7,-3.7l-1.6,-2.4l-1.7,10.2l-1.6,-2.8l-1.6,4.8l-1.7,0.3l-1.6,11.3l-1.7,4.9l-1.6,10.2l-1.6,-3.2l-1.7,-3.3l-1.6,-6.9l-1.6,0.7l-2.5,-33.6l-1.6,-23.2l-1.7,-25.8l-2.0,22.7l-2.1,20.4l-1.6,5.5l-1.7,-2.3l-1.6,-1.7l-1.6,-7.9l-2.1,1.9l-2.0,0.0l-1.7,-5.4l-1.6,-2.7l-2.1,10.8l-2.0,2.3l-1.6,5.6l-1.7,1.3l-1.6,-11.2l-1.7,-2.2l-1.6,1.3l-1.6,7.7l-1.7,-2.7l-1.6,-7.8l-1.7,27.9l-1.6,18.6l-1.6,0.8l-1.7,-0.5l-1.6,14.5l-1.6,15.4l-1.7,11.8l-2.4,-43.4l-2.5,-54.9l-1.6,0.4l-1.7,-1.0l-1.6,11.6l-1.7,13.2l-2.0,7.0l-2.1,4.4l-2.0,-4.6l-2.1,-2.2l-1.6,-2.9l-1.6,-9.5l-1.7,4.4l-1.6,7.1l-1.6,-6.9l-1.7,0.6l-2.0,2.5l-2.1,10.4l-1.6,-6.7l-1.7,-4.6l-2.4,8.8l-2.5,-9.3l-2.4,22.5l-2.5,12.8l-1.6,-6.9l-1.7,-13.9l-2.8,-33.5l-2.9,16.3l-2.5,36.2l-2.8,81.7l-2.6,74.0l-2.8,-74.6l-2.4,-83.7l-2.5,-49.7l-2.0,21.6l-2.1,24.0l-1.6,-3.9l-1.7,2.6l-2.4,-2.2l-2.5,-5.1l-1.6,0.6l-1.6,8.5l-1.7,-0.1l-1.6,-5.2l-1.7,2.8l-1.6,1.1z" fill="#9fd6e9" fill-opacity="0.75"/>
<path d="M1272.0,2169.4l1.6,11.4l1.7,9.4l1.6,0.1l1.7,2.9l1.6,-2.6l1.6,3.3l2.5,-4.9l2.4,4.7l2.5,-2.0l2.5,-8.9l2.9,-25.1l2.8,45.1l2.1,67.0l2.3,70.1l2.3,-64.6l1.6,-32.3l1.5,-27.0l2.1,-23.2l2.0,-15.1l1.7,9.6l1.6,11.4l2.1,14.3l2.0,12.7l1.6,-6.5l1.7,-10.4l1.6,-18.5l1.7,-8.0l1.6,-21.1l1.6,-14.7l1.7,6.0l1.6,9.1l2.1,6.6l2.0,4.7l2.5,7.9l2.4,9.1l1.7,12.0l1.6,8.8l1.6,10.8l1.7,6.4l1.6,9.3l1.7,0.7l1.6,1.9l1.6,-1.9l1.7,-9.8l1.6,-14.9l2.5,-18.0l1.6,17.9l1.7,17.9l1.6,2.2l1.6,8.3l2.1,-15.1l2.0,-15.6l2.5,-21.6l2.4,-27.7l1.7,-6.5l1.6,-8.0l1.7,0.4l1.6,-8.3l1.6,-7.9l1.7,-11.2l1.6,-1.8l1.7,1.5l1.6,3.4l1.6,-4.2l1.7,7.6l1.6,7.2l1.6,5.6l1.7,4.5l1.6,11.7l1.7,8.3l1.6,-0.9l1.6,6.9l1.7,12.0l1.6,7.4l2.5,7.5l2.4,-20.1l1.7,-0.8l1.6,5.9l1.7,9.1l1.6,-0.3l1.6,7.9l1.7,1.0l1.6,7.9l1.6,-0.2l1.7,-3.7l1.6,-9.0l2.5,-8.1l2.4,-2.6l1.7,1.2l1.6,-5.0l1.7,-7.7l1.6,-13.1l1.6,-4.5l1.7,-3.7l1.6,-5.0l1.7,-2.4l1.6,3.3l1.6,6.0l1.7,-4.1l1.6,-0.8l1.6,8.7l1.7,7.7l1.6,9.9l1.7,15.9l1.6,-11.7l1.6,-1.8l2.1,1.7l2.0,0.2l1.7,-12.4l1.6,-4.2l1.7,15.7l1.6,11.3l2.5,16.8l2.4,-31.8l1.6,23.7l1.7,13.7l2.4,54.9l2.5,46.7l2.5,14.5l1.6,-16.2l1.6,-12.0l1.7,-15.4l1.6,-9.8l2.5,-22.7l2.4,-13.0l1.7,-6.9l1.6,2.2l1.6,-18.2l1.7,-1.1l1.6,-22.1l1.7,-22.3l1.6,4.1l1.6,-8.7l1.7,-5.2l1.6,-8.6l1.7,-17.6l1.6,-16.0l2.5,-12.5l2.4,-21.4l2.5,22.2l2.4,34.9l1.7,13.6l1.6,12.6l1.7,8.4l1.7,14.0l1.6,6.5l1.6,12.9l1.7,-3.7l1.6,-5.1l1.6,-3.2l1.7,2.1l1.6,-9.0l1.7,-0.3l1.6,-14.5l1.6,-2.5l1.7,-14.9l1.6,-3.2l1.7,-2.7l1.6,7.9l1.6,-1.6l1.7,10.9l1.6,-2.1l1.7,8.8l1.6,-4.3l1.6,-1.8l1.7,1.6l1.6,8.0l1.6,3.7l1.7,4.7l1.6,-5.5l1.7,-7.5l1.6,-6.3l1.6,1.5l1.7,-2.0l1.6,-0.8l1.7,-6.8l1.6,-2.9l1.6,0.7l1.7,-5.2l1.6,3.2l1.7,-2.8l1.6,0.8l1.6,-5.0l1.7,4.7l1.6,2.3l1.6,-1.0l1.7,-1.3l1.6,8.4l1.7,5.2l1.6,0.6l1.6,0.2l1.7,5.3l1.6,-5.7l1.7,-3.3l1.6,-1.2l1.6,7.2l1.7,8.6l1.6,3.6l1.7,-0.2l1.6,2.5l1.6,-3.1l2.5,0.7l2.4,0.2l2.5,-1.0l2.5,-1.1l2.4,8.2l2.5,3.8l2.4,-1.4l2.5,-2.7l1.6,-1.9l1.7,-6.0l1.6,4.9l1.6,6.5l1.7,-2.8l1.6,-3.4l1.7,4.0l1.6,4.2l1.6,-8.5l1.7,-2.9l1.6,-6.0l1.7,-2.0l1.6,7.1l1.6,7.6l1.7,8.3l1.6,0.1l1.7,-5.5l1.6,-8.3l1.6,3.0l1.7,11.4l1.6,-11.7l1.6,-3.6l1.7,-3.0l1.6,9.1l1.7,4.0l1.6,1.6l1.6,-4.8l1.7,-6.0l1.6,-1.6l1.7,-6.7l1.6,11.4l1.6,4.9l1.7,9.8l1.6,-3.5l1.7,5.6l1.6,1.3l1.6,-5.9l1.7,-1.8l1.6,4.4l1.6,4.2l1.7,-2.3l1.6,-8.2l1.7,5.3l1.6,2.0l1.6,-8.9l1.7,-1.6l1.6,11.0l1.7,6.1l2.4,-6.2l2.5,-5.0l2.4,2.2l2.5,4.7l1.6,-3.6l1.7,-2.9l1.6,6.6l1.6,6.5l1.7,-0.7l1.6,-3.9l1.7,-5.3l1.6,-4.2l2.5,-0.7l2.4,-3.7l2.5,-3.0l2.4,-1.9l2.5,-1.3l2.4,9.8l2.5,0.0l2.5,-7.2l2.4,0.1l2.5,-3.1l2.4,-5.0l2.5,-3.0l2.5,-4.9l2.4,5.3l2.5,-2.1l2.4,1.8l1.7,3.0l1.6,4.3l2.2,-0.2l2.2,-2.7l2.2,-2.4l0.0,15.3l-2.2,3.8l-2.2,-6.7l-2.2,3.4l-1.6,0.4l-1.7,-4.0l-2.4,4.5l-2.5,-4.4l-2.4,-1.3l-2.5,4.2l-2.5,-3.8l-2.4,6.2l-2.5,4.8l-2.4,4.4l-2.5,3.7l-2.5,-1.3l-2.4,-1.0l-2.5,-6.3l-2.4,7.5l-2.5,-0.1l-2.4,2.8l-2.5,-1.2l-1.6,4.7l-1.7,-0.9l-1.6,7.1l-1.7,5.2l-1.6,-3.6l-1.6,-6.7l-1.7,5.6l-1.6,-2.9l-2.5,-3.3l-2.4,-3.8l-2.5,2.0l-2.4,3.5l-1.7,2.9l-1.6,-6.9l-1.7,-0.5l-1.6,4.2l-1.6,-5.8l-1.7,-1.6l-1.6,4.6l-1.7,9.4l-1.6,-9.7l-1.6,0.3l-1.7,4.3l-1.6,-2.9l-1.6,-0.7l-1.7,-1.2l-1.6,-0.8l-1.7,-5.9l-1.6,-8.9l-1.6,-5.5l-1.7,5.9l-1.6,2.7l-1.7,0.5l-1.6,4.7l-1.6,0.3l-1.7,-6.6l-1.6,1.6l-1.7,-9.4l-1.6,12.8l-1.6,2.3l-1.7,-4.6l-1.6,-4.4l-1.6,4.1l-1.7,6.7l-1.6,-1.1l-1.7,-0.7l-1.6,-11.4l-1.6,-12.1l-1.7,7.5l-1.6,3.8l-1.7,5.5l-1.6,7.9l-1.6,-4.1l-1.7,-7.6l-1.6,6.5l-1.7,5.6l-1.6,-9.0l-1.6,-7.3l-1.7,3.3l-1.6,5.8l-2.5,4.9l-2.4,2.9l-2.5,-11.5l-2.4,-3.5l-2.5,3.0l-2.5,4.0l-2.4,-1.8l-2.5,-3.0l-1.6,-0.4l-1.6,-1.7l-1.7,-4.6l-1.6,1.5l-1.7,-8.9l-1.6,-3.9l-1.6,-3.0l-1.7,6.2l-1.6,-1.5l-1.7,6.5l-1.6,-4.8l-1.6,-5.3l-1.7,-6.2l-1.6,-2.1l-1.7,-2.3l-1.6,2.1l-1.6,-2.1l-1.7,-5.8l-1.6,2.6l-1.6,4.6l-1.7,1.0l-1.6,4.1l-1.7,-5.1l-1.6,4.3l-1.6,3.8l-1.7,8.2l-1.6,-6.1l-1.7,1.2l-1.6,5.3l-1.6,1.3l-1.7,13.4l-1.6,5.7l-1.7,-4.3l-1.6,-5.5l-1.6,-6.6l-1.7,-9.0l-1.6,1.8l-1.6,7.5l-1.7,-4.3l-1.6,-5.5l-1.7,-3.1l-1.6,-3.4l-1.6,-4.4l-1.7,-2.3l-1.6,8.8l-1.7,12.2l-1.6,5.8l-1.6,7.9l-1.7,9.3l-1.6,3.9l-1.7,2.7l-1.6,-5.9l-1.6,7.4l-1.7,2.9l-1.6,-12.2l-1.6,-3.7l-1.7,-10.8l-1.7,-10.7l-1.6,-14.5l-1.7,-12.3l-2.4,-37.7l-2.5,-19.9l-2.4,16.6l-2.5,13.8l-1.6,16.8l-1.7,20.8l-1.6,2.8l-1.7,11.0l-1.6,0.4l-1.6,4.4l-1.7,19.9l-1.6,22.8l-1.7,3.4l-1.6,11.8l-1.6,4.7l-1.7,1.0l-2.4,14.8l-2.5,19.4l-1.6,13.0l-1.7,11.4l-1.6,13.6l-1.6,23.0l-2.5,-21.8l-2.5,-49.0l-2.4,-45.1l-1.7,-19.0l-1.6,-25.1l-2.4,36.4l-2.5,-17.7l-1.6,-17.1l-1.7,-10.3l-1.6,8.1l-1.7,6.3l-2.0,1.0l-2.1,-5.4l-1.6,8.4l-1.6,6.9l-1.7,-10.7l-1.6,-16.0l-1.7,-5.2l-1.6,-5.1l-1.6,-3.4l-1.7,5.5l-1.6,-7.2l-1.6,0.2l-1.7,-1.0l-1.6,5.1l-1.7,9.2l-1.6,3.7l-1.6,5.5l-1.7,8.8l-1.6,1.2l-1.7,3.4l-2.4,7.2l-2.5,8.2l-1.6,7.3l-1.7,4.5l-1.6,-7.1l-1.6,-1.7l-1.7,-2.8l-1.6,-2.3l-1.6,-12.3l-1.7,-1.0l-1.6,-2.2l-1.7,-3.0l-2.4,23.2l-2.5,-9.7l-1.6,-6.3l-1.7,-10.4l-1.6,-7.5l-1.6,-4.0l-1.7,-7.8l-1.6,-12.7l-1.7,-0.3l-1.6,-4.6l-1.6,-10.1l-1.7,-4.2l-1.6,-6.2l-1.6,2.3l-1.7,0.8l-1.6,-3.1l-1.7,14.9l-1.6,6.6l-1.6,7.5l-1.7,6.6l-1.6,3.7l-1.7,11.8l-2.4,21.5l-2.5,27.5l-2.0,10.4l-2.1,12.6l-1.6,-3.1l-1.6,-6.8l-1.7,-12.0l-1.6,-18.4l-2.5,12.0l-1.6,15.9l-1.7,17.3l-1.6,-2.8l-1.6,-0.5l-1.7,-10.4l-1.6,-3.0l-1.7,-10.1l-1.6,-9.9l-1.6,-7.5l-1.7,-9.3l-2.4,-8.6l-2.5,-6.6l-2.0,-6.7l-2.1,-8.7l-1.6,-3.9l-1.7,-8.7l-1.6,15.9l-1.6,14.8l-1.7,18.9l-1.6,16.8l-1.7,6.9l-1.6,8.1l-2.0,-15.6l-2.1,-15.8l-1.6,-14.1l-1.7,-6.1l-2.0,20.8l-2.1,11.2l-1.5,37.3l-1.6,32.4l-2.3,61.7l-2.3,-70.7l-2.1,-66.1l-2.8,-42.7l-2.9,23.6l-2.5,3.8l-2.5,2.5l-2.4,4.6l-2.5,-6.7l-1.6,-1.0l-1.6,4.3l-1.7,-3.8l-1.6,-0.5l-1.7,-5.1l-1.6,-5.2z" fill="#f2bcb0" fill-opacity="0.75"/>
<path d="M1272.0,2180.5l1.6,5.9l1.7,10.3l1.6,3.7l1.7,-2.4l1.6,0.3l1.6,-5.0l2.5,5.3l2.4,1.0l2.5,1.7l2.5,-10.8l2.9,-23.1l2.8,42.2l2.1,71.8l2.3,69.6l2.3,-65.1l1.6,-30.7l1.5,-40.1l2.1,-12.3l2.0,-19.0l1.7,9.7l1.6,8.5l2.1,11.7l2.0,19.3l1.6,-9.3l1.7,-3.2l1.6,-25.5l1.7,-10.8l1.6,-14.6l1.6,-15.3l1.7,6.1l1.6,7.9l2.1,1.5l2.0,6.6l2.5,12.9l2.4,4.0l1.7,13.8l1.6,11.0l1.6,6.7l1.7,10.5l1.6,4.2l1.7,7.6l1.6,1.1l1.6,3.0l1.7,-14.6l1.6,-16.5l2.5,-16.6l1.6,14.8l1.7,19.1l1.6,3.3l1.6,7.0l2.1,-15.3l2.0,-16.2l2.5,-21.1l2.4,-24.0l1.7,-2.1l1.6,-13.1l1.7,-3.1l1.6,-5.6l1.6,-7.6l1.7,-15.8l1.6,-1.6l1.7,2.7l1.6,2.4l1.6,0.7l1.7,7.9l1.6,7.7l1.6,3.0l1.7,4.7l1.6,9.5l1.7,4.8l1.6,7.8l1.6,3.5l1.7,13.1l1.6,6.8l2.5,6.7l2.4,-17.6l1.7,0.9l1.6,-3.3l1.7,12.5l1.6,2.3l1.6,9.5l1.7,4.9l1.6,-0.8l1.6,4.7l1.7,-3.8l1.6,-9.9l2.5,-7.3l2.4,-2.6l1.7,-6.5l1.6,-3.8l1.7,-8.0l1.6,-7.5l1.6,-3.0l1.7,-8.4l1.6,-4.7l1.7,0.0l1.6,3.8l1.6,6.0l1.7,-4.9l1.6,-1.7l1.6,10.9l1.7,5.7l1.6,10.4l1.7,12.4l1.6,-2.1l1.6,-9.6l2.1,5.0l2.0,0.9l1.7,-6.5l1.6,-10.7l1.7,11.1l1.6,11.5l2.5,20.0l2.4,-29.5l1.6,19.4l1.7,18.0l2.4,50.4l2.5,43.7l2.5,19.3l1.6,-14.7l1.6,-16.5l1.7,-13.9l1.6,-14.4l2.5,-13.5l2.4,-16.0l1.7,-6.5l1.6,-6.6l1.6,-2.0l1.7,-10.9l1.6,-20.9l1.7,-14.3l1.6,-4.8l1.6,-6.5l1.7,-5.2l1.6,-2.5l1.7,-21.6l1.6,-18.6l2.5,-18.2l2.4,-11.7l2.5,17.3l2.4,31.0l1.7,14.0l1.6,16.6l1.7,12.7l1.7,9.7l1.6,7.9l1.6,4.7l1.7,1.1l1.6,0.4l1.6,-5.9l1.7,0.4l1.6,-3.1l1.7,-8.2l1.6,-11.5l1.6,-4.4l1.7,-10.8l1.6,-6.3l1.7,4.0l1.6,8.2l1.6,1.8l1.7,-1.7l1.6,1.5l1.7,5.8l1.6,-4.4l1.6,-2.1l1.7,9.1l1.6,6.4l1.6,2.9l1.7,4.5l1.6,-10.9l1.7,-6.3l1.6,-5.2l1.6,-3.0l1.7,3.1l1.6,3.9l1.7,-5.7l1.6,-4.3l1.6,-0.4l1.7,-7.2l1.6,1.3l1.7,0.0l1.6,0.2l1.6,-4.8l1.7,2.4l1.6,5.0l1.6,-2.8l1.7,1.1l1.6,7.8l1.7,2.4l1.6,5.1l1.6,-0.5l1.7,1.8l1.6,-3.1l1.7,-1.6l1.6,-4.5l1.6,6.4l1.7,4.0l1.6,3.4l1.7,5.7l1.6,-1.5l1.6,3.0l2.5,-1.9l2.4,5.2l2.5,-7.6l2.5,-0.3l2.4,6.2l2.5,10.2l2.4,0.4l2.5,-6.7l1.6,-2.1l1.7,-8.0l1.6,3.7l1.6,9.4l1.7,-0.2l1.6,-6.3l1.7,0.6l1.6,5.9l1.6,-4.0l1.7,-4.9l1.6,-4.6l1.7,-6.2l1.6,10.4l1.6,7.1l1.7,6.0l1.6,2.8l1.7,-11.2l1.6,-5.2l1.6,7.9l1.7,5.2l1.6,-8.2l1.6,-4.9l1.7,5.3l1.6,2.3l1.7,1.3l1.6,2.4l1.6,-4.1l1.7,-3.4l1.6,-1.8l1.7,-5.3l1.6,9.2l1.6,11.4l1.7,-0.1l1.6,-4.3l1.7,9.5l1.6,0.5l1.6,-4.0l1.7,-5.8l1.6,2.9l1.6,10.2l1.7,-3.4l1.6,-9.7l1.7,1.8l1.6,4.7l1.6,-3.8l1.7,-2.7l1.6,4.1l1.7,5.7l2.4,-4.1l2.5,-2.4l2.4,2.7l2.5,5.2l1.6,-2.1l1.7,-5.3l1.6,11.1l1.6,1.5l1.7,-2.4l1.6,-4.5l1.7,0.1l1.6,-9.0l2.5,1.1l2.4,-4.7l2.5,0.4l2.4,-3.6l2.5,-3.0l2.4,13.2l2.5,-8.2l2.5,0.9l2.4,1.2l2.5,-5.1l2.4,-4.1l2.5,-5.5l2.5,-0.4l2.4,-0.5l2.5,-1.3l2.4,6.0l1.7,-3.2l1.6,2.4l2.2,3.8l2.2,-1.9l2.2,-1.2" stroke="#ee2a24" stroke-width="2.3" fill="none" stroke-linejoin="round"/>
<path d="M1272.0,2196.9l1.6,-4.0l1.7,-1.4l1.6,2.8l1.7,5.9l1.6,-6.4l1.6,3.1l2.5,-1.6l2.4,-0.9l1.7,2.8l1.6,-5.6l2.1,-23.0l2.0,-14.3l2.5,46.7l2.4,79.8l2.8,83.1l2.6,-79.5l2.8,-80.0l2.5,-30.1l2.9,-20.0l2.8,33.5l1.7,11.7l1.6,10.5l2.5,-15.3l2.4,-20.7l2.5,9.8l2.4,-13.1l1.7,5.4l1.6,4.4l2.1,-5.1l2.0,-5.6l1.7,3.7l1.6,2.3l1.6,-4.6l1.7,-3.8l1.6,5.8l1.6,7.2l2.1,0.1l2.0,3.7l2.1,-8.6l2.0,-4.5l1.7,-9.3l1.6,-9.7l1.7,-1.6l1.6,2.0l2.5,50.7l2.4,46.2l1.7,-13.5l1.6,-21.9l1.6,-6.6l1.7,1.0l1.6,-3.7l1.6,-16.3l1.7,-24.2l1.6,1.2l1.7,5.3l1.6,-0.9l1.6,-5.6l1.7,4.5l1.6,9.4l1.7,-6.8l1.6,-1.6l2.0,-5.8l2.1,-9.6l1.6,5.0l1.7,3.0l2.0,0.2l2.1,0.4l1.6,2.0l1.6,5.8l1.7,-4.7l1.6,4.2l2.1,-25.1l2.0,-18.6l1.7,20.8l1.6,22.3l2.5,31.5l1.6,7.1l1.6,1.6l1.7,5.0l1.6,5.1l1.6,-8.2l1.7,-8.1l1.6,-12.0l1.7,2.7l1.6,-6.8l1.6,0.6l1.7,-3.4l1.6,-4.2l1.7,4.9l1.6,1.7l1.6,-5.6l1.7,-9.7l2.0,-2.7l2.1,-4.9l1.6,7.0l1.6,2.8l1.7,-4.7l1.6,-5.1l2.1,8.7l2.0,14.2l1.7,-6.4l1.6,-0.1l2.5,-27.0l2.4,-23.9l1.7,26.3l1.6,25.6l2.5,34.2l1.6,5.6l1.6,6.7l1.7,-11.7l1.6,-8.5l2.5,-20.8l1.6,10.0l1.6,16.1l1.7,12.9l1.6,9.6l2.5,17.0l2.4,-14.2l1.7,-8.9l1.6,-9.5l2.1,-10.7l2.0,-12.5l2.5,13.1l1.6,-6.6l1.6,-6.5l1.7,3.7l1.6,6.2l1.7,-7.4l1.6,-12.7l2.5,-9.3l2.4,-6.1l1.7,-10.8l1.6,-8.3l1.6,-10.7l1.7,-10.1l1.6,14.0l1.7,10.9l1.6,7.8l1.6,9.9l1.7,-8.0l1.6,1.2l1.7,-3.9l1.7,-1.0l1.6,-4.1l1.6,-1.2l1.7,-7.6l1.6,0.3l1.6,7.5l1.7,7.0l1.6,-7.2l1.7,2.0l1.6,-5.2l1.6,-5.7l1.7,0.5l1.6,-4.1l1.7,8.1l1.6,6.5l1.6,-1.3l1.7,-1.9l1.6,1.6l1.7,-3.7l1.6,-0.6l1.6,0.9l1.7,-12.6l1.6,7.3l1.6,4.6l1.7,4.2l1.6,-7.1l1.7,-2.7l1.6,6.8l1.6,4.8l1.7,5.7l1.6,2.3l1.7,-5.1l1.6,-9.1l1.6,-4.7l1.7,-3.9l1.6,-10.4l1.7,-9.4l1.6,15.0l1.6,0.8l1.7,7.7l1.6,2.4l1.6,-0.4l1.7,4.0l1.6,-3.7l1.7,-6.1l1.6,6.0l1.6,10.3l1.7,-1.9l1.6,4.4l1.7,-2.1l1.6,-3.2l1.6,12.1l1.7,10.4l1.6,-5.6l1.7,-0.9l1.6,4.0l1.6,2.8l1.7,2.5l1.6,3.6l1.6,-0.8l1.7,-4.1l1.6,5.2l1.7,5.7l1.6,1.2l1.6,1.7l1.7,3.2l1.6,11.3l1.7,-1.6l1.6,0.5l1.6,4.6l1.7,-1.2l1.6,8.4l1.6,0.5l1.7,1.8l1.6,-0.6l1.7,2.9l1.6,-0.1l1.6,-1.9l1.7,0.8l1.6,-2.6l1.7,-1.9l1.6,16.4l1.6,-11.8l1.7,-17.7l1.6,5.1l1.7,8.8l1.6,-4.4l1.6,-3.3l2.5,5.9l2.4,10.8l1.7,-11.1l1.6,-7.9l2.5,2.7l2.4,-0.7l2.5,-1.8l2.5,-4.1l2.4,5.4l2.5,6.4l2.4,-8.9l2.5,3.1l2.4,-1.0l2.5,0.3l2.5,-0.5l2.4,-4.8l2.5,4.3l2.4,2.2l2.5,-4.6l2.5,-1.9l1.6,3.5l1.6,6.3l1.7,-21.4l1.6,-17.9l1.7,17.2l1.6,9.0l1.6,-4.1l1.7,-12.3l1.6,3.8l1.6,9.3l1.7,-6.3l1.6,-3.5l1.7,7.0l1.6,6.1l2.5,-2.0l2.4,-4.6l2.5,5.5l2.4,4.4l2.5,-3.5l2.4,-11.1l2.5,-0.7l2.5,9.4l2.4,-6.5l2.5,-0.7l2.4,2.8l2.5,10.3l1.6,-2.0l1.7,-8.0l2.4,2.3l2.5,-11.6l2.5,1.8l2.4,8.8l2.2,-8.0l2.2,4.5l2.2,-0.9" stroke="#2250a8" stroke-width="2.3" fill="none" stroke-linejoin="round"/>
</g>
<path d="M1513.2,2080.6V2074.0H1537.2V2080.6" stroke="#ee2a24" stroke-width="2" fill="none"/>
<path d="M1530.6,2233.8V2241.2H1558.5V2233.8" stroke="#ee2a24" stroke-width="2" fill="none"/>
<path d="M1478.0,2356.2V2364.0H1504.8V2356.2" stroke="#ee2a24" stroke-width="2" fill="none"/>
<rect x="1272.6" y="2056.4" width="520.3" height="410.7" fill="none" stroke="#4a4a4a" stroke-width="1.4"/>
<path d="M1287.5,2056.4v5.5M1287.5,2467.1v-5.5M1361.8,2056.4v5.5M1361.8,2467.1v-5.5M1436.1,2056.4v5.5M1436.1,2467.1v-5.5M1510.5,2056.4v5.5M1510.5,2467.1v-5.5M1584.8,2056.4v5.5M1584.8,2467.1v-5.5M1659.1,2056.4v5.5M1659.1,2467.1v-5.5M1733.4,2056.4v5.5M1733.4,2467.1v-5.5M1272.6,2467.1h5.5M1792.9,2467.1h-5.5M1272.6,2421.5h5.5M1792.9,2421.5h-5.5M1272.6,2375.8h5.5M1792.9,2375.8h-5.5M1272.6,2330.2h5.5M1792.9,2330.2h-5.5M1272.6,2284.6h5.5M1792.9,2284.6h-5.5M1272.6,2238.9h5.5M1792.9,2238.9h-5.5M1272.6,2193.3h5.5M1792.9,2193.3h-5.5M1272.6,2147.7h5.5M1792.9,2147.7h-5.5M1272.6,2102.0h5.5M1792.9,2102.0h-5.5M1272.6,2056.4h5.5M1792.9,2056.4h-5.5" stroke="#4a4a4a" stroke-width="1.4" fill="none"/>
<text x="1287.2" y="2484.7" font-size="17" text-anchor="middle" font-weight="normal" fill="#333">0</text>
<text x="1359.6" y="2484.7" font-size="17" text-anchor="middle" font-weight="normal" fill="#333">0.5</text>
<text x="1435.8" y="2484.7" font-size="17" text-anchor="middle" font-weight="normal" fill="#333">1</text>
<text x="1508.3" y="2484.7" font-size="17" text-anchor="middle" font-weight="normal" fill="#333">1.5</text>
<text x="1584.5" y="2484.7" font-size="17" text-anchor="middle" font-weight="normal" fill="#333">2</text>
<text x="1656.9" y="2484.7" font-size="17" text-anchor="middle" font-weight="normal" fill="#333">2.5</text>
<text x="1733.1" y="2484.7" font-size="17" text-anchor="middle" font-weight="normal" fill="#333">3</text>
<text x="1265.0" y="2470.7" font-size="17" text-anchor="end" font-weight="normal" fill="#333">-60</text>
<text x="1265.0" y="2425.1" font-size="17" text-anchor="end" font-weight="normal" fill="#333">-50</text>
<text x="1265.0" y="2379.4" font-size="17" text-anchor="end" font-weight="normal" fill="#333">-40</text>
<text x="1265.0" y="2333.8" font-size="17" text-anchor="end" font-weight="normal" fill="#333">-30</text>
<text x="1265.0" y="2288.2" font-size="17" text-anchor="end" font-weight="normal" fill="#333">-20</text>
<text x="1265.0" y="2242.5" font-size="17" text-anchor="end" font-weight="normal" fill="#333">-10</text>
<text x="1265.0" y="2196.9" font-size="17" text-anchor="end" font-weight="normal" fill="#333">0</text>
<text x="1265.0" y="2151.3" font-size="17" text-anchor="end" font-weight="normal" fill="#333">10</text>
<text x="1265.0" y="2105.6" font-size="17" text-anchor="end" font-weight="normal" fill="#333">20</text>
<text x="1265.0" y="2060.0" font-size="17" text-anchor="end" font-weight="normal" fill="#333">30</text>
<text class="th" x="1524.9" y="2508.5" font-size="18.8" text-anchor="middle" font-weight="normal" fill="#231f20" textLength="67.6" lengthAdjust="spacingAndGlyphs">Time (s)</text>
<text class="th" x="0" y="0" font-size="19.5" text-anchor="middle" fill="#231f20" textLength="168.4" lengthAdjust="spacingAndGlyphs" transform="translate(1228.5,2281.1) rotate(-90)">Neural activity index</text>
<rect x="1689.1" y="2070.9" width="89.6" height="54.3" fill="#fff" stroke="#6a6a6a" stroke-width="1.3"/>
<rect x="1696.5" y="2080.5" width="20.4" height="12.4" fill="#f3c7bd"/>
<rect x="1696.5" y="2085.9" width="20.4" height="1.8" fill="#ec1c24"/>
<rect x="1696.5" y="2103.3" width="20.4" height="12.6" fill="#a9dcea"/>
<rect x="1696.5" y="2108.5" width="20.4" height="1.8" fill="#2a48a0"/>
<text x="1727.5" y="2090.2" font-size="16.6" text-anchor="start" font-weight="normal" fill="#231f20" textLength="43.4" lengthAdjust="spacingAndGlyphs">Young</text>
<text x="1727.5" y="2113.2" font-size="16.6" text-anchor="start" font-weight="normal" fill="#231f20" textLength="37.5" lengthAdjust="spacingAndGlyphs">Older</text>
<rect x="1623.0" y="2342.3" width="155.1" height="110.5" fill="#fff" stroke="#6a6a6a" stroke-width="1.2"/>
<g transform="translate(1623.0,2342.3)"><use href="#brainbase"/><path d="M129.3,39.0C129.3,40.2 129.9,41.6 130.8,42.5C131.7,43.5 133.3,44.3 134.8,44.7C136.3,45.1 138.3,45.1 139.8,44.7C141.3,44.3 142.9,43.5 143.8,42.5C144.7,41.6 145.3,40.2 145.3,39.0C145.3,37.8 144.7,36.4 143.8,35.5C142.9,34.5 141.3,33.7 139.8,33.3C138.3,32.9 136.3,32.9 134.8,33.3C133.3,33.7 131.7,34.5 130.8,35.5C129.9,36.4 129.3,37.8 129.3,39.0Z" fill="#f0262a" fill-opacity="0.93"/><path d="M122.3,44.0C122.3,44.8 122.7,45.9 123.3,46.5C123.9,47.1 125.0,47.5 125.8,47.5C126.6,47.5 127.7,47.1 128.3,46.5C128.9,45.9 129.3,44.8 129.3,44.0C129.3,43.2 128.9,42.1 128.3,41.5C127.7,40.9 126.6,40.5 125.8,40.5C125.0,40.5 123.9,40.9 123.3,41.5C122.7,42.1 122.3,43.2 122.3,44.0Z" fill="#f0262a" fill-opacity="0.93"/><path d="M127.3,48.5C126.2,47.8 122.9,48.2 120.8,48.0C118.7,47.8 116.8,47.8 114.8,47.5C112.8,47.2 109.6,46.1 108.8,46.5C108.0,46.9 108.5,48.9 109.8,50.0C111.1,51.1 114.5,52.2 116.8,53.0C119.1,53.8 122.1,54.6 123.8,54.5C125.6,54.4 126.7,53.5 127.3,52.5C127.9,51.5 128.4,49.2 127.3,48.5Z" fill="#f0262a" fill-opacity="0.93"/><path d="M99.3,37.0C99.3,38.2 99.7,39.7 100.2,40.5C100.7,41.4 101.6,42.0 102.3,42.0C103.0,42.0 103.9,41.4 104.4,40.5C104.9,39.7 105.3,38.2 105.3,37.0C105.3,35.8 104.9,34.3 104.4,33.5C103.9,32.6 103.0,32.0 102.3,32.0C101.6,32.0 100.7,32.6 100.2,33.5C99.7,34.3 99.3,35.8 99.3,37.0Z" fill="#f0262a" fill-opacity="0.93"/><path d="M127.3,34.5C127.3,35.0 127.8,35.8 128.3,36.1C128.8,36.3 129.8,36.3 130.3,36.1C130.8,35.8 131.3,35.0 131.3,34.5C131.3,34.0 130.8,33.2 130.3,32.9C129.8,32.7 128.8,32.7 128.3,32.9C127.8,33.2 127.3,34.0 127.3,34.5Z" fill="#f0262a" fill-opacity="0.93"/><path d="M119.1,8.7C119.1,9.0 119.5,9.6 119.9,9.7C120.2,9.9 121.0,9.9 121.4,9.7C121.7,9.6 122.1,9.0 122.1,8.7C122.1,8.4 121.7,7.8 121.4,7.7C121.0,7.5 120.2,7.5 119.9,7.7C119.5,7.8 119.1,8.4 119.1,8.7Z" fill="#f0262a" fill-opacity="0.93"/><path d="M133.6,25.1C133.6,25.4 134.0,26.0 134.4,26.1C134.7,26.3 135.5,26.3 135.9,26.1C136.2,26.0 136.6,25.4 136.6,25.1C136.6,24.8 136.2,24.2 135.9,24.1C135.5,23.9 134.7,23.9 134.4,24.1C134.0,24.2 133.6,24.8 133.6,25.1Z" fill="#f0262a" fill-opacity="0.93"/><path d="M139.1,28.9C139.1,29.3 139.6,29.9 140.0,30.1C140.4,30.3 141.4,30.3 141.8,30.1C142.2,29.9 142.7,29.3 142.7,28.9C142.7,28.5 142.2,27.9 141.8,27.7C141.4,27.5 140.4,27.5 140.0,27.7C139.6,27.9 139.1,28.5 139.1,28.9Z" fill="#f0262a" fill-opacity="0.93"/><path d="M34.3,83.8C34.3,84.3 33.8,85.0 33.3,85.3C32.8,85.5 31.8,85.5 31.3,85.3C30.8,85.0 30.3,84.3 30.3,83.8C30.3,83.3 30.8,82.6 31.3,82.3C31.8,82.1 32.8,82.1 33.3,82.3C33.8,82.6 34.3,83.3 34.3,83.8Z" fill="#f0262a" fill-opacity="0.93"/><path d="M54.5,94.0C54.8,93.0 56.0,90.6 57.0,89.5C58.0,88.4 59.8,87.5 60.5,87.5C61.2,87.5 61.9,88.6 61.5,89.5C61.1,90.4 59.0,92.0 58.0,93.0C57.0,94.0 56.1,95.3 55.5,95.5C54.9,95.7 54.2,95.0 54.5,94.0Z" fill="#f0262a" fill-opacity="0.93"/><path d="M119.3,67.5C118.1,66.9 113.9,66.8 111.8,66.5C109.7,66.2 108.2,65.4 106.8,65.5C105.4,65.6 103.7,65.9 103.3,67.0C102.9,68.1 102.7,71.1 104.3,72.0C105.9,72.9 110.3,72.8 112.8,72.5C115.3,72.2 118.2,70.8 119.3,70.0C120.4,69.2 120.6,68.1 119.3,67.5Z" fill="#f0262a" fill-opacity="0.93"/><path d="M102.3,94.0C102.1,93.0 100.8,90.6 99.8,89.5C98.8,88.4 97.1,87.5 96.3,87.5C95.6,87.5 94.9,88.6 95.3,89.5C95.7,90.4 97.8,92.0 98.8,93.0C99.8,94.0 100.7,95.3 101.3,95.5C101.9,95.7 102.6,95.0 102.3,94.0Z" fill="#f0262a" fill-opacity="0.93"/><path d="M138.3,83.5C138.3,81.2 133.2,82.3 130.8,82.5C128.4,82.7 124.8,83.4 123.8,84.5C122.8,85.6 124.3,87.4 124.8,89.0C125.3,90.6 125.8,92.8 126.8,94.0C127.8,95.2 128.9,97.8 130.8,96.0C132.7,94.2 138.3,85.8 138.3,83.5Z" fill="#f0262a" fill-opacity="0.93"/><path d="M130.3,95.0C129.3,94.9 126.4,95.8 123.8,96.5C121.2,97.2 117.6,98.2 114.8,99.0C112.0,99.8 109.1,101.0 106.8,101.5C104.6,102.0 102.2,101.3 101.3,102.0C100.4,102.7 100.4,104.8 101.3,105.5C102.2,106.2 104.6,106.5 106.8,106.0C109.1,105.5 112.0,103.6 114.8,102.5C117.6,101.4 121.3,100.4 123.8,99.5C126.3,98.6 128.7,97.8 129.8,97.0C130.9,96.2 131.3,95.1 130.3,95.0Z" fill="#f0262a" fill-opacity="0.93"/></g>
<g fill="#231f20" transform="translate(1280.6,2547.6)"><ellipse cx="4.9" cy="-3.0" rx="5.1" ry="2.85" transform="rotate(-21 4.9 -3.0)"/><rect x="8.7" y="-23.4" width="1.45" height="20.5"/><path d="M8.7,-23.6 C10.0,-20.8 13.6,-18.9 15.6,-15.7 C16.9,-13.5 16.5,-10.7 15.0,-8.6 C15.4,-10.8 15.0,-12.6 13.6,-14.2 C12.4,-15.5 11.0,-16.0 10.1,-17.0 L10.1,-23.6 Z"/></g>
<g fill="#231f20" transform="translate(1337.6,2547.6)"><ellipse cx="4.9" cy="-3.0" rx="5.1" ry="2.85" transform="rotate(-21 4.9 -3.0)"/><rect x="8.7" y="-23.4" width="1.45" height="20.5"/><path d="M8.7,-23.6 C10.0,-20.8 13.6,-18.9 15.6,-15.7 C16.9,-13.5 16.5,-10.7 15.0,-8.6 C15.4,-10.8 15.0,-12.6 13.6,-14.2 C12.4,-15.5 11.0,-16.0 10.1,-17.0 L10.1,-23.6 Z"/></g>
<g fill="#231f20" transform="translate(1389.3,2547.6)"><ellipse cx="4.9" cy="-3.0" rx="5.1" ry="2.85" transform="rotate(-21 4.9 -3.0)"/><rect x="8.7" y="-23.4" width="1.45" height="20.5"/><path d="M8.7,-23.6 C10.0,-20.8 13.6,-18.9 15.6,-15.7 C16.9,-13.5 16.5,-10.7 15.0,-8.6 C15.4,-10.8 15.0,-12.6 13.6,-14.2 C12.4,-15.5 11.0,-16.0 10.1,-17.0 L10.1,-23.6 Z"/></g>
<g fill="#e5222a" transform="translate(1444.0,2547.6)"><ellipse cx="4.9" cy="-3.0" rx="5.1" ry="2.85" transform="rotate(-21 4.9 -3.0)"/><rect x="8.7" y="-23.4" width="1.45" height="20.5"/><path d="M8.7,-23.6 C10.0,-20.8 13.6,-18.9 15.6,-15.7 C16.9,-13.5 16.5,-10.7 15.0,-8.6 C15.4,-10.8 15.0,-12.6 13.6,-14.2 C12.4,-15.5 11.0,-16.0 10.1,-17.0 L10.1,-23.6 Z"/></g>
<g fill="#e5222a" transform="translate(1497.3,2547.6)"><ellipse cx="4.9" cy="-3.0" rx="5.1" ry="2.85" transform="rotate(-21 4.9 -3.0)"/><rect x="8.7" y="-23.4" width="1.45" height="20.5"/><path d="M8.7,-23.6 C10.0,-20.8 13.6,-18.9 15.6,-15.7 C16.9,-13.5 16.5,-10.7 15.0,-8.6 C15.4,-10.8 15.0,-12.6 13.6,-14.2 C12.4,-15.5 11.0,-16.0 10.1,-17.0 L10.1,-23.6 Z"/></g>
</svg></body></html>
